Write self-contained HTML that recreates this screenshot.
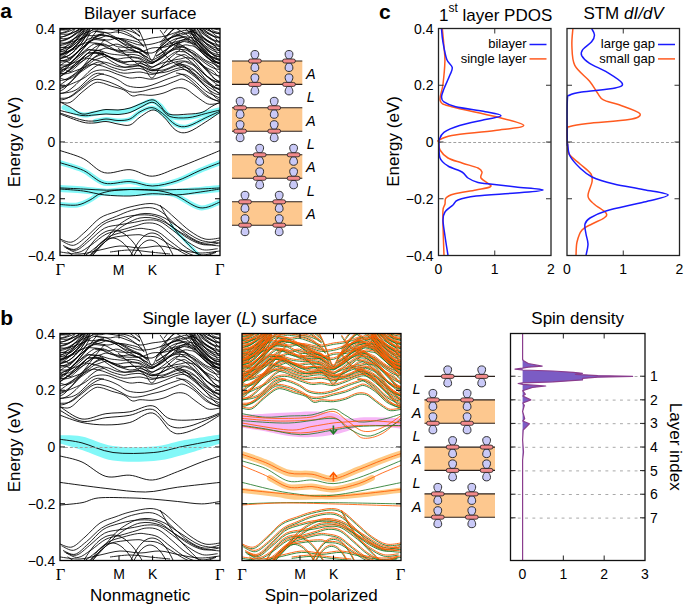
<!DOCTYPE html><html><head><meta charset="utf-8"><style>html,body{margin:0;padding:0;background:#fff}svg{display:block}text{font-family:'Liberation Sans', sans-serif}</style></head><body>
<svg width="685" height="609" viewBox="0 0 685 609">
<rect width="685" height="609" fill="#fff"/>
<text x="0.3" y="17.6" font-size="21" text-anchor="start" font-weight="bold"  >a</text>
<text x="0.3" y="324.6" font-size="21" text-anchor="start" font-weight="bold"  >b</text>
<text x="379" y="18.6" font-size="21" text-anchor="start" font-weight="bold"  >c</text>
<text x="84" y="18.5" font-size="17" text-anchor="start" font-weight="normal"  >Bilayer surface</text>
<text x="142.4" y="323.8" font-size="17" text-anchor="start" font-weight="normal"  >Single layer (<tspan font-style="italic">L</tspan>) surface</text>
<text x="439" y="20.8" font-size="17" text-anchor="start" font-weight="normal"  >1<tspan dy="-8.5" font-size="12">st</tspan><tspan dy="8.5"> layer PDOS</tspan></text>
<text x="583.4" y="18.7" font-size="17" text-anchor="start" font-weight="normal"  >STM <tspan font-style="italic">dI/dV</tspan></text>
<text x="531.3" y="324.2" font-size="17" text-anchor="start" font-weight="normal"  >Spin density</text>
<text x="90" y="600.8" font-size="17" text-anchor="start" font-weight="normal"  >Nonmagnetic</text>
<text x="264.7" y="600.8" font-size="17" text-anchor="start" font-weight="normal"  >Spin−polarized</text>
<text x="0" y="0" font-size="17" text-anchor="middle" font-weight="normal"  transform="translate(19.6,142) rotate(-90)">Energy (eV)</text>
<text x="0" y="0" font-size="17" text-anchor="middle" font-weight="normal"  transform="translate(19.6,447) rotate(-90)">Energy (eV)</text>
<text x="0" y="0" font-size="17" text-anchor="middle" font-weight="normal"  transform="translate(398.6,141.5) rotate(-90)">Energy (eV)</text>
<text x="0" y="0" font-size="17" text-anchor="middle" font-weight="normal"  transform="translate(669.6,446.7) rotate(90)">Layer index</text>
<text x="55.3" y="33.5" font-size="14" text-anchor="end" font-weight="normal"  >0.4</text>
<text x="55.3" y="90.2" font-size="14" text-anchor="end" font-weight="normal"  >0.2</text>
<text x="55.3" y="147.0" font-size="14" text-anchor="end" font-weight="normal"  >0</text>
<text x="55.3" y="203.8" font-size="14" text-anchor="end" font-weight="normal"  >−0.2</text>
<text x="55.3" y="260.5" font-size="14" text-anchor="end" font-weight="normal"  >−0.4</text>
<text x="55.3" y="338.5" font-size="14" text-anchor="end" font-weight="normal"  >0.4</text>
<text x="55.3" y="395.2" font-size="14" text-anchor="end" font-weight="normal"  >0.2</text>
<text x="55.3" y="452.0" font-size="14" text-anchor="end" font-weight="normal"  >0</text>
<text x="55.3" y="508.8" font-size="14" text-anchor="end" font-weight="normal"  >−0.2</text>
<text x="55.3" y="565.5" font-size="14" text-anchor="end" font-weight="normal"  >−0.4</text>
<text x="433.5" y="33.5" font-size="14" text-anchor="end" font-weight="normal"  >0.4</text>
<text x="433.5" y="90.2" font-size="14" text-anchor="end" font-weight="normal"  >0.2</text>
<text x="433.5" y="147.0" font-size="14" text-anchor="end" font-weight="normal"  >0</text>
<text x="433.5" y="203.8" font-size="14" text-anchor="end" font-weight="normal"  >−0.2</text>
<text x="433.5" y="260.5" font-size="14" text-anchor="end" font-weight="normal"  >−0.4</text>
<text x="60.2" y="274.90000000000003" font-size="16.5" text-anchor="middle" font-weight="normal"  style="font-family:'Liberation Serif', serif">Γ</text>
<text x="118.5" y="274.6" font-size="14" text-anchor="middle" font-weight="normal"  >M</text>
<text x="152.5" y="274.6" font-size="14" text-anchor="middle" font-weight="normal"  >K</text>
<text x="219.7" y="274.90000000000003" font-size="16.5" text-anchor="middle" font-weight="normal"  style="font-family:'Liberation Serif', serif">Γ</text>
<text x="60.4" y="579.5" font-size="16.5" text-anchor="middle" font-weight="normal"  style="font-family:'Liberation Serif', serif">Γ</text>
<text x="119" y="579.2" font-size="14" text-anchor="middle" font-weight="normal"  >M</text>
<text x="152.6" y="579.2" font-size="14" text-anchor="middle" font-weight="normal"  >K</text>
<text x="219.7" y="579.5" font-size="16.5" text-anchor="middle" font-weight="normal"  style="font-family:'Liberation Serif', serif">Γ</text>
<text x="241.9" y="579.5" font-size="16.5" text-anchor="middle" font-weight="normal"  style="font-family:'Liberation Serif', serif">Γ</text>
<text x="300" y="579.2" font-size="14" text-anchor="middle" font-weight="normal"  >M</text>
<text x="333.6" y="579.2" font-size="14" text-anchor="middle" font-weight="normal"  >K</text>
<text x="400.6" y="579.5" font-size="16.5" text-anchor="middle" font-weight="normal"  style="font-family:'Liberation Serif', serif">Γ</text>
<text x="438.5" y="274" font-size="14" text-anchor="middle" font-weight="normal"  >0</text>
<text x="494.75" y="274" font-size="14" text-anchor="middle" font-weight="normal"  >1</text>
<text x="551.0" y="274" font-size="14" text-anchor="middle" font-weight="normal"  >2</text>
<text x="567.0" y="274" font-size="14" text-anchor="middle" font-weight="normal"  >0</text>
<text x="623.25" y="274" font-size="14" text-anchor="middle" font-weight="normal"  >1</text>
<text x="679.5" y="274" font-size="14" text-anchor="middle" font-weight="normal"  >2</text>
<text x="522.5" y="579.3" font-size="14" text-anchor="middle" font-weight="normal"  >0</text>
<text x="563.33" y="579.3" font-size="14" text-anchor="middle" font-weight="normal"  >1</text>
<text x="604.16" y="579.3" font-size="14" text-anchor="middle" font-weight="normal"  >2</text>
<text x="644.99" y="579.3" font-size="14" text-anchor="middle" font-weight="normal"  >3</text>
<text x="650" y="381.2" font-size="14" text-anchor="start" font-weight="normal"  >1</text>
<text x="650" y="404.8" font-size="14" text-anchor="start" font-weight="normal"  >2</text>
<text x="650" y="428.4" font-size="14" text-anchor="start" font-weight="normal"  >3</text>
<text x="650" y="452.0" font-size="14" text-anchor="start" font-weight="normal"  >4</text>
<text x="650" y="475.6" font-size="14" text-anchor="start" font-weight="normal"  >5</text>
<text x="650" y="499.2" font-size="14" text-anchor="start" font-weight="normal"  >6</text>
<text x="650" y="522.8" font-size="14" text-anchor="start" font-weight="normal"  >7</text>
<clipPath id="ca"><rect x="60" y="28.5" width="160" height="227.0"/></clipPath>
<g clip-path="url(#ca)">
<path d="M64.0,107.5 C67.0,108.7 77.0,113.8 82.0,114.8 C87.0,115.8 90.0,114.0 94.0,113.5 C98.0,113.0 102.0,112.0 106.0,111.8 C110.0,111.6 114.0,112.5 118.0,112.2 C122.0,111.9 126.3,111.3 130.0,110.2 C133.7,109.1 136.3,107.3 140.0,105.8 C143.7,104.3 148.6,101.0 152.0,101.0 C155.4,101.0 157.4,103.5 160.4,106.0 C163.4,108.5 165.3,114.3 169.9,116.2 C174.5,118.1 181.9,118.0 187.9,117.5 C193.9,117.0 200.5,114.6 205.8,113.3 C211.2,112.0 217.6,110.4 220.0,109.8" fill="none" stroke="#82f8f8" stroke-width="5" stroke-linecap="round"/>
<path d="M95.0,121.0 C96.8,120.7 102.2,119.1 106.0,119.0 C109.8,118.9 114.0,120.5 118.0,120.5 C122.0,120.5 126.3,120.5 130.0,119.0 C133.7,117.5 136.3,113.7 140.0,111.8 C143.7,109.9 148.2,107.3 152.0,107.6 C155.8,107.9 158.7,110.6 162.7,113.5 C166.7,116.4 171.7,122.8 175.9,124.9 C180.1,127.0 182.9,127.3 187.9,126.1 C192.9,124.9 200.5,120.2 205.8,117.7 C211.2,115.2 217.6,112.3 220.0,111.2" fill="none" stroke="#82f8f8" stroke-width="4" stroke-linecap="round"/>
<path d="M60.0,162.7 C63.9,164.0 76.0,167.0 83.4,170.4 C90.8,173.8 96.6,181.3 104.4,183.2 C112.2,185.1 122.0,181.1 130.0,181.6 C138.0,182.1 144.5,186.1 152.3,186.0 C160.1,185.9 168.8,183.5 176.8,180.9 C184.8,178.3 193.0,173.4 200.2,170.4 C207.4,167.4 216.7,164.0 220.0,162.7" fill="none" stroke="#82f8f8" stroke-width="5" stroke-linecap="round"/>
<path d="M60.0,188.5 C63.9,188.8 75.6,189.4 83.4,190.0 C91.2,190.6 98.9,191.9 106.7,192.3 C114.5,192.7 122.4,192.6 130.0,192.5 C137.6,192.4 144.5,192.1 152.3,192.0 C160.1,191.9 168.8,192.4 176.8,192.2 C184.8,191.9 193.0,191.1 200.2,190.5 C207.4,189.9 216.7,188.8 220.0,188.5" fill="none" stroke="#82f8f8" stroke-width="7" stroke-linecap="round"/>
<path d="M60.0,204.5 C62.9,204.6 72.5,205.8 77.5,205.0 C82.5,204.2 86.1,201.9 90.0,200.0 C93.9,198.1 96.0,195.1 101.0,193.4 C106.0,191.7 111.5,190.6 120.0,190.0 C128.5,189.4 142.8,189.2 152.0,190.0 C161.2,190.8 167.0,192.0 175.0,195.0 C183.0,198.0 192.5,206.6 200.0,207.8 C207.5,209.0 216.7,203.0 220.0,202.0" fill="none" stroke="#82f8f8" stroke-width="5" stroke-linecap="round"/>
<path d="M171.0,225.0 C171.8,226.0 171.1,225.7 175.9,230.9 C180.7,236.1 195.9,251.8 199.9,256.0" fill="none" stroke="#82f8f8" stroke-width="3" stroke-linecap="round"/>
<path d="M60.0,101.9 C61.7,102.0 66.3,104.1 70.0,102.5 C73.7,100.9 77.9,95.5 81.9,92.3 C85.9,89.1 90.7,84.9 93.9,83.3 C97.1,81.7 98.1,82.2 101.1,82.7 C104.1,83.2 108.1,85.1 111.9,86.3 C115.7,87.5 120.4,88.3 123.8,89.9 C127.2,91.5 129.5,95.1 132.2,95.9 C134.9,96.7 136.7,94.8 140.0,94.7 C143.3,94.6 148.0,95.6 152.0,95.3 C156.0,95.0 160.0,94.1 164.0,92.9 C168.0,91.7 172.3,88.8 175.9,88.1 C179.5,87.4 182.5,87.6 185.5,88.7 C188.5,89.8 191.1,92.7 193.9,94.7 C196.7,96.7 199.6,99.1 202.2,100.7 C204.8,102.3 206.4,103.9 209.4,104.3 C212.4,104.7 218.2,103.2 220.0,103.0" fill="none" stroke="#000" stroke-width="0.85"/>
<path d="M60.0,98.3 C61.7,98.1 66.3,98.7 70.0,97.1 C73.7,95.5 77.9,91.6 81.9,88.7 C85.9,85.8 89.9,81.1 93.9,79.8 C97.9,78.5 101.9,80.0 105.9,81.0 C109.9,82.0 113.9,83.9 117.9,85.7 C121.9,87.5 126.1,90.7 129.8,91.7 C133.5,92.7 136.3,92.2 140.0,91.7 C143.7,91.2 148.0,89.7 152.0,88.7 C156.0,87.7 160.0,87.0 164.0,85.7 C168.0,84.4 172.7,82.1 175.9,81.0 C179.1,79.9 180.1,78.5 183.1,79.2 C186.1,79.9 190.1,82.3 193.9,85.1 C197.7,87.9 202.0,93.3 205.8,95.9 C209.6,98.5 214.2,99.8 216.6,100.7 C219.0,101.6 219.4,101.4 220.0,101.5" fill="none" stroke="#000" stroke-width="0.85"/>
<path d="M60.0,93.5 C62.7,92.9 70.3,93.1 76.0,89.9 C81.7,86.7 88.9,76.9 93.9,74.4 C98.9,71.9 101.9,74.1 105.9,75.0 C109.9,75.9 114.3,78.0 117.9,79.8 C121.5,81.6 123.7,84.4 127.4,85.7 C131.1,87.0 135.9,87.6 140.0,87.5 C144.1,87.4 148.0,86.3 152.0,85.1 C156.0,83.9 160.0,81.8 164.0,80.3 C168.0,78.8 172.5,77.2 175.9,76.2 C179.3,75.2 181.3,73.7 184.3,74.4 C187.3,75.1 190.3,77.5 193.9,80.3 C197.5,83.1 201.8,88.3 205.8,91.1 C209.8,93.9 215.4,95.9 217.8,97.1 C220.2,98.2 219.6,97.8 220.0,98.0" fill="none" stroke="#000" stroke-width="0.85"/>
<path d="M60.0,88.7 C63.6,87.1 76.2,82.1 81.9,79.2 C87.6,76.3 89.9,72.9 93.9,71.4 C97.9,69.9 101.9,69.7 105.9,70.2 C109.9,70.7 113.9,73.1 117.9,74.4 C121.9,75.7 126.1,77.5 129.8,78.0 C133.5,78.5 136.3,77.2 140.0,77.4 C143.7,77.6 148.0,79.5 152.0,79.2 C156.0,78.9 160.0,77.0 164.0,75.6 C168.0,74.2 172.5,71.8 175.9,70.8 C179.3,69.8 181.3,69.0 184.3,69.6 C187.3,70.2 190.3,71.8 193.9,74.4 C197.5,77.0 201.8,82.1 205.8,85.1 C209.8,88.1 215.4,91.0 217.8,92.3 C220.2,93.6 219.6,92.9 220.0,93.0" fill="none" stroke="#000" stroke-width="0.85"/>
<path d="M60.0,85.1 C64.7,81.9 81.2,69.3 87.9,66.0 C94.6,62.7 95.9,64.8 99.9,65.4 C103.9,66.0 107.9,68.3 111.9,69.6 C115.9,70.9 119.1,72.8 123.8,73.2 C128.5,73.6 135.3,71.8 140.0,72.0 C144.7,72.2 148.0,74.6 152.0,74.4 C156.0,74.2 160.0,72.2 164.0,70.8 C168.0,69.4 172.5,67.0 175.9,66.0 C179.3,65.0 181.3,64.2 184.3,64.8 C187.3,65.4 190.3,67.0 193.9,69.6 C197.5,72.2 201.8,77.1 205.8,80.3 C209.8,83.5 215.4,87.2 217.8,88.7 C220.2,90.2 219.6,89.4 220.0,89.5" fill="none" stroke="#000" stroke-width="0.85"/>
<path d="M60.0,78.0 C61.7,78.1 64.3,81.0 70.0,78.6 C75.7,76.2 87.9,66.3 93.9,63.6 C99.9,60.9 101.9,61.9 105.9,62.4 C109.9,62.9 113.9,65.8 117.9,66.6 C121.9,67.4 126.1,67.3 129.8,67.2 C133.5,67.1 136.3,65.4 140.0,66.0 C143.7,66.6 148.0,70.8 152.0,70.8 C156.0,70.8 160.0,67.5 164.0,66.0 C168.0,64.5 172.3,62.6 175.9,61.8 C179.5,61.0 182.5,60.7 185.5,61.2 C188.5,61.7 190.5,62.4 193.9,64.8 C197.3,67.2 201.8,72.2 205.8,75.6 C209.8,79.0 215.4,83.4 217.8,85.1 C220.2,86.8 219.6,85.8 220.0,86.0" fill="none" stroke="#000" stroke-width="0.85"/>
<path d="M60.0,73.6 C60.8,73.7 63.3,74.0 65.0,73.9 C66.7,73.8 68.4,73.3 70.0,72.8 C71.6,72.3 73.2,71.6 74.8,71.0 C76.4,70.4 78.0,69.9 79.6,69.2 C81.2,68.6 82.7,67.9 84.3,67.1 C85.9,66.2 87.5,65.2 89.1,64.1 C90.7,63.0 92.4,61.2 93.9,60.3 C95.4,59.4 96.6,59.4 97.9,58.9 C99.2,58.4 100.6,57.8 101.9,57.4 C103.2,57.0 104.6,56.2 105.9,56.2 C107.2,56.2 108.6,56.9 109.9,57.4 C111.2,57.9 112.6,58.5 113.9,59.2 C115.2,59.9 116.2,60.8 117.9,61.5 C119.6,62.2 121.9,62.9 123.9,63.5 C125.8,64.1 128.0,64.8 129.8,65.0 C131.6,65.1 133.2,64.7 134.9,64.5 C136.6,64.3 138.5,63.5 140.0,63.5 C141.5,63.5 142.7,64.3 144.0,64.7 C145.3,65.1 146.7,65.5 148.0,66.0 C149.3,66.4 150.7,67.4 152.0,67.3 C153.3,67.3 154.7,66.1 156.0,65.6 C157.3,65.0 158.7,64.4 160.0,63.9 C161.3,63.4 162.3,63.0 164.0,62.5 C165.7,62.0 168.0,61.6 169.9,61.1 C171.9,60.6 174.1,59.9 175.9,59.6 C177.7,59.2 179.1,59.3 180.7,58.9 C182.3,58.6 184.0,57.7 185.5,57.6 C187.0,57.5 188.3,58.0 189.7,58.3 C191.1,58.5 192.2,58.1 193.9,59.0 C195.6,59.9 197.9,62.0 199.9,63.8 C201.8,65.6 204.1,68.2 205.8,69.9 C207.5,71.6 208.5,72.6 209.8,74.1 C211.1,75.5 212.5,77.2 213.8,78.3 C215.1,79.4 216.8,80.2 217.8,80.7 C218.8,81.2 219.6,81.5 220.0,81.6" fill="none" stroke="#000" stroke-width="0.85"/>
<path d="M60.0,69.2 C60.8,69.3 63.3,69.1 65.0,69.5 C66.7,69.9 68.4,72.0 70.0,71.8 C71.6,71.5 73.2,69.4 74.8,68.0 C76.4,66.7 78.0,65.2 79.6,63.7 C81.2,62.3 82.7,60.8 84.3,59.5 C85.9,58.1 87.5,56.9 89.1,55.8 C90.7,54.8 92.4,53.5 93.9,53.1 C95.4,52.7 96.6,53.4 97.9,53.6 C99.2,53.8 100.6,54.1 101.9,54.3 C103.2,54.6 104.6,54.5 105.9,55.0 C107.2,55.4 108.6,56.4 109.9,57.0 C111.2,57.5 112.6,58.0 113.9,58.3 C115.2,58.7 116.2,59.1 117.9,59.1 C119.6,59.0 121.9,58.2 123.9,58.0 C125.8,57.7 128.0,57.7 129.8,57.6 C131.6,57.6 133.2,57.6 134.9,57.8 C136.6,58.1 138.5,58.3 140.0,59.0 C141.5,59.7 142.7,61.1 144.0,62.1 C145.3,63.1 146.7,64.0 148.0,64.8 C149.3,65.7 150.7,66.9 152.0,67.0 C153.3,67.1 154.7,66.0 156.0,65.3 C157.3,64.6 158.7,63.8 160.0,62.9 C161.3,62.0 162.3,61.2 164.0,60.0 C165.7,58.7 168.0,56.8 169.9,55.5 C171.9,54.1 174.1,52.5 175.9,51.8 C177.7,51.2 179.1,51.5 180.7,51.6 C182.3,51.6 184.0,51.6 185.5,52.2 C187.0,52.8 188.3,54.2 189.7,55.1 C191.1,56.1 192.2,56.4 193.9,57.8 C195.6,59.1 197.9,61.7 199.9,63.3 C201.8,64.9 204.1,66.4 205.8,67.4 C207.5,68.5 208.5,68.7 209.8,69.4 C211.1,70.1 212.5,70.5 213.8,71.6 C215.1,72.8 216.8,75.4 217.8,76.3 C218.8,77.2 219.6,77.1 220.0,77.2" fill="none" stroke="#000" stroke-width="0.85"/>
<path d="M60.0,64.8 C60.8,64.9 63.3,65.2 65.0,65.1 C66.7,65.0 68.4,64.7 70.0,64.3 C71.6,63.8 73.2,63.0 74.8,62.4 C76.4,61.7 78.0,61.2 79.6,60.5 C81.2,59.8 82.7,59.1 84.3,58.2 C85.9,57.4 87.5,56.4 89.1,55.4 C90.7,54.3 92.4,52.6 93.9,51.9 C95.4,51.1 96.6,51.1 97.9,50.6 C99.2,50.2 100.6,49.7 101.9,49.3 C103.2,48.8 104.6,48.1 105.9,48.0 C107.2,47.9 108.6,48.5 109.9,48.8 C111.2,49.2 112.6,49.6 113.9,50.1 C115.2,50.6 116.2,51.3 117.9,51.9 C119.6,52.5 121.9,53.0 123.9,53.7 C125.8,54.4 128.0,55.5 129.8,56.1 C131.6,56.7 133.2,56.9 134.9,57.2 C136.6,57.6 138.5,57.5 140.0,58.0 C141.5,58.5 142.7,59.6 144.0,60.3 C145.3,61.0 146.7,61.6 148.0,62.2 C149.3,62.7 150.7,63.7 152.0,63.5 C153.3,63.3 154.7,62.0 156.0,61.1 C157.3,60.2 158.7,59.2 160.0,58.2 C161.3,57.2 162.3,56.3 164.0,55.2 C165.7,54.1 168.0,52.6 169.9,51.6 C171.9,50.6 174.1,49.6 175.9,49.3 C177.7,49.0 179.1,49.5 180.7,49.5 C182.3,49.6 184.0,49.5 185.5,49.9 C187.0,50.2 188.3,51.3 189.7,51.9 C191.1,52.5 192.2,52.4 193.9,53.4 C195.6,54.4 197.9,56.4 199.9,57.7 C201.8,59.1 204.1,60.6 205.8,61.7 C207.5,62.8 208.5,63.2 209.8,64.1 C211.1,64.9 212.5,65.5 213.8,66.8 C215.1,68.1 216.8,70.9 217.8,71.9 C218.8,72.9 219.6,72.7 220.0,72.8" fill="none" stroke="#000" stroke-width="0.85"/>
<path d="M60.0,60.4 C60.8,60.5 63.3,60.3 65.0,60.7 C66.7,61.1 68.4,63.1 70.0,62.8 C71.6,62.5 73.2,60.3 74.8,59.0 C76.4,57.7 78.0,56.4 79.6,55.0 C81.2,53.7 82.7,52.3 84.3,51.0 C85.9,49.7 87.5,48.4 89.1,47.2 C90.7,46.1 92.4,44.6 93.9,44.0 C95.4,43.4 96.6,43.8 97.9,43.9 C99.2,43.9 100.6,44.0 101.9,44.1 C103.2,44.2 104.6,44.1 105.9,44.5 C107.2,45.0 108.6,46.1 109.9,46.8 C111.2,47.6 112.6,48.4 113.9,49.1 C115.2,49.8 116.2,50.6 117.9,51.1 C119.6,51.5 121.9,51.6 123.9,51.8 C125.8,52.0 128.0,52.2 129.8,52.3 C131.6,52.4 133.2,52.1 134.9,52.2 C136.6,52.3 138.5,52.1 140.0,52.7 C141.5,53.2 142.7,54.5 144.0,55.4 C145.3,56.3 146.7,57.2 148.0,58.0 C149.3,58.8 150.7,60.0 152.0,60.1 C153.3,60.2 154.7,59.0 156.0,58.4 C157.3,57.7 158.7,56.9 160.0,56.2 C161.3,55.4 162.3,54.7 164.0,53.7 C165.7,52.8 168.0,51.6 169.9,50.5 C171.9,49.4 174.1,48.1 175.9,47.4 C177.7,46.7 179.1,46.6 180.7,46.2 C182.3,45.8 184.0,44.9 185.5,44.8 C187.0,44.7 188.3,45.3 189.7,45.6 C191.1,45.8 192.2,45.5 193.9,46.4 C195.6,47.2 197.9,49.2 199.9,50.8 C201.8,52.4 204.1,54.6 205.8,56.1 C207.5,57.5 208.5,58.4 209.8,59.6 C211.1,60.9 212.5,62.2 213.8,63.5 C215.1,64.8 216.8,66.7 217.8,67.5 C218.8,68.3 219.6,68.3 220.0,68.4" fill="none" stroke="#000" stroke-width="0.85"/>
<path d="M60.0,56.0 C60.8,56.1 63.3,55.9 65.0,56.3 C66.7,56.7 68.4,58.5 70.0,58.2 C71.6,57.8 73.2,55.6 74.8,54.3 C76.4,52.9 78.0,51.5 79.6,50.2 C81.2,48.8 82.7,47.4 84.3,46.2 C85.9,44.9 87.5,43.7 89.1,42.6 C90.7,41.6 92.4,40.2 93.9,39.7 C95.4,39.3 96.6,39.8 97.9,39.8 C99.2,39.9 100.6,40.1 101.9,40.3 C103.2,40.4 104.6,40.3 105.9,40.8 C107.2,41.3 108.6,42.4 109.9,43.1 C111.2,43.8 112.6,44.5 113.9,45.1 C115.2,45.8 116.2,46.5 117.9,46.8 C119.6,47.2 121.9,47.0 123.9,47.2 C125.8,47.3 128.0,47.5 129.8,47.6 C131.6,47.7 133.2,47.6 134.9,47.8 C136.6,48.1 138.5,48.3 140.0,49.1 C141.5,49.9 142.7,51.4 144.0,52.5 C145.3,53.6 147.3,55.1 148.0,55.6" fill="none" stroke="#000" stroke-width="0.85"/>
<path d="M156.0,56.4 C156.7,56.1 158.7,55.0 160.0,54.1 C161.3,53.3 162.3,52.5 164.0,51.4 C165.7,50.2 168.0,48.6 169.9,47.2 C171.9,45.8 174.1,44.0 175.9,43.0 C177.7,42.0 179.1,41.6 180.7,41.0 C182.3,40.3 184.0,39.3 185.5,39.1 C187.0,38.9 188.3,39.5 189.7,39.9 C191.1,40.2 192.2,39.9 193.9,41.0 C195.6,42.1 197.9,44.4 199.9,46.3 C201.8,48.2 204.1,50.8 205.8,52.6 C207.5,54.3 208.5,55.3 209.8,56.6 C211.1,58.0 212.5,59.6 213.8,60.7 C215.1,61.8 216.8,62.6 217.8,63.1 C218.8,63.6 219.6,63.9 220.0,64.0" fill="none" stroke="#000" stroke-width="0.85"/>
<path d="M60.0,51.6 C60.8,51.7 63.3,52.1 65.0,51.9 C66.7,51.7 68.4,51.1 70.0,50.4 C71.6,49.6 73.2,48.2 74.8,47.3 C76.4,46.4 78.0,45.7 79.6,45.1 C81.2,44.4 82.7,43.9 84.3,43.4 C85.9,42.8 87.5,42.3 89.1,41.6 C90.7,40.9 92.4,39.7 93.9,39.2 C95.4,38.7 96.6,38.9 97.9,38.6 C99.2,38.3 100.6,37.8 101.9,37.4 C103.2,36.9 104.6,36.1 105.9,35.9 C107.2,35.7 108.6,36.1 109.9,36.3 C111.2,36.5 112.6,36.7 113.9,37.1 C115.2,37.5 116.2,38.0 117.9,38.6 C119.6,39.2 121.9,39.7 123.9,40.6 C125.8,41.5 128.0,43.1 129.8,44.1 C131.6,45.0 133.2,45.7 134.9,46.5 C136.6,47.2 138.5,47.7 140.0,48.6 C141.5,49.5 142.7,50.8 144.0,51.8 C145.3,52.7 147.3,53.8 148.0,54.3" fill="none" stroke="#000" stroke-width="0.85"/>
<path d="M156.0,53.1 C156.7,52.6 158.7,50.9 160.0,49.7 C161.3,48.5 162.3,47.4 164.0,46.1 C165.7,44.7 168.0,43.0 169.9,41.7 C171.9,40.5 174.1,39.4 175.9,38.7 C177.7,38.1 179.1,38.3 180.7,38.0 C182.3,37.6 184.0,36.9 185.5,36.8 C187.0,36.7 188.3,37.3 189.7,37.5 C191.1,37.7 192.2,37.2 193.9,38.0 C195.6,38.8 197.9,40.5 199.9,42.0 C201.8,43.6 204.1,45.8 205.8,47.3 C207.5,48.9 208.5,49.9 209.8,51.2 C211.1,52.6 212.5,54.2 213.8,55.5 C215.1,56.7 216.8,58.0 217.8,58.7 C218.8,59.4 219.6,59.5 220.0,59.6" fill="none" stroke="#000" stroke-width="0.85"/>
<path d="M60.0,47.2 C60.8,47.3 63.3,47.4 65.0,47.5 C66.7,47.6 68.4,48.2 70.0,47.6 C71.6,47.0 73.2,45.0 74.8,43.7 C76.4,42.5 78.0,41.2 79.6,40.1 C81.2,38.9 82.7,37.8 84.3,36.8 C85.9,35.8 87.5,34.8 89.1,34.0 C90.7,33.1 92.4,31.9 93.9,31.5 C95.4,31.1 96.6,31.7 97.9,31.8 C99.2,31.9 100.6,32.0 101.9,32.1 C103.2,32.3 104.6,32.1 105.9,32.5 C107.2,32.9 108.6,33.9 109.9,34.6 C111.2,35.2 112.6,35.8 113.9,36.4 C115.2,37.0 116.2,37.8 117.9,38.2 C119.6,38.6 121.9,38.5 123.9,38.8 C125.8,39.1 128.0,39.6 129.8,40.0 C131.6,40.4 133.2,40.6 134.9,41.2 C136.6,41.7 138.5,42.2 140.0,43.2 C141.5,44.2 143.3,46.4 144.0,47.1" fill="none" stroke="#000" stroke-width="0.85"/>
<path d="M160.0,47.5 C160.7,46.9 162.3,45.3 164.0,43.9 C165.7,42.5 168.0,40.4 169.9,38.9 C171.9,37.5 174.1,35.8 175.9,35.0 C177.7,34.1 179.1,34.1 180.7,33.7 C182.3,33.3 184.0,32.6 185.5,32.7 C187.0,32.7 188.3,33.4 189.7,33.7 C191.1,34.1 192.2,33.9 193.9,34.8 C195.6,35.6 197.9,37.5 199.9,39.0 C201.8,40.4 204.1,42.2 205.8,43.4 C207.5,44.5 208.5,45.1 209.8,46.1 C211.1,47.1 212.5,47.8 213.8,49.1 C215.1,50.5 216.8,53.3 217.8,54.3 C218.8,55.3 219.6,55.1 220.0,55.2" fill="none" stroke="#000" stroke-width="0.85"/>
<path d="M60.0,42.8 C60.8,42.9 63.3,43.2 65.0,43.1 C66.7,43.0 68.4,42.9 70.0,42.1 C71.6,41.4 73.2,39.6 74.8,38.5 C76.4,37.4 78.0,36.4 79.6,35.5 C81.2,34.7 82.7,34.0 84.3,33.4 C85.9,32.7 87.5,32.2 89.1,31.6 C90.7,31.0 92.4,30.0 93.9,29.7 C95.4,29.4 96.6,29.9 97.9,29.9 C99.2,29.9 100.6,29.8 101.9,29.6 C103.2,29.4 104.6,28.7 105.9,28.7 C107.2,28.6 108.6,29.1 109.9,29.2 C111.2,29.4 112.6,29.5 113.9,29.7 C115.2,29.9 116.2,30.2 117.9,30.4 C119.6,30.7 121.9,30.5 123.9,31.2 C125.8,31.8 128.0,33.1 129.8,34.2 C131.6,35.3 133.2,36.4 134.9,37.7 C136.6,38.9 138.5,40.3 140.0,41.7 C141.5,43.2 143.3,45.7 144.0,46.5" fill="none" stroke="#000" stroke-width="0.85"/>
<path d="M160.0,45.3 C160.7,44.4 162.3,42.2 164.0,40.1 C165.7,38.0 168.0,35.0 169.9,32.9 C171.9,30.9 174.1,28.8 175.9,27.9 C177.7,26.9 179.1,27.1 180.7,27.0 C182.3,26.9 184.0,26.8 185.5,27.2 C187.0,27.6 188.3,28.8 189.7,29.6 C191.1,30.3 192.2,30.5 193.9,31.7 C195.6,32.8 197.9,35.1 199.9,36.5 C201.8,38.0 204.1,39.5 205.8,40.5 C207.5,41.6 208.5,41.9 209.8,42.7 C211.1,43.4 212.5,43.9 213.8,45.1 C215.1,46.3 216.8,48.9 217.8,49.9 C218.8,50.9 219.6,50.7 220.0,50.8" fill="none" stroke="#000" stroke-width="0.85"/>
<path d="M60.0,38.4 C60.8,38.5 63.3,38.9 65.0,38.7 C66.7,38.5 68.4,38.1 70.0,37.3 C71.6,36.5 73.2,35.0 74.8,34.0 C76.4,33.0 78.0,32.0 79.6,31.1 C81.2,30.2 82.7,29.4 84.3,28.6 C85.9,27.8 87.5,27.1 89.1,26.3 C90.7,25.6 92.4,24.5 93.9,24.2 C95.4,23.9 96.6,24.4 97.9,24.5 C99.2,24.6 100.6,24.7 101.9,24.7 C103.2,24.7 104.6,24.4 105.9,24.7 C107.2,25.0 108.6,25.8 109.9,26.3 C111.2,26.8 112.6,27.2 113.9,27.6 C115.2,28.1 116.2,28.6 117.9,28.9 C119.6,29.2 121.9,29.0 123.9,29.3 C125.8,29.7 128.0,30.4 129.8,31.0 C131.6,31.6 133.2,32.2 134.9,33.1 C136.6,34.0 139.2,35.9 140.0,36.5" fill="none" stroke="#000" stroke-width="0.85"/>
<path d="M160.0,42.6 C160.7,41.9 162.3,40.0 164.0,38.3 C165.7,36.5 168.0,34.0 169.9,32.2 C171.9,30.3 174.1,28.3 175.9,27.1 C177.7,25.9 179.1,25.7 180.7,25.1 C182.3,24.6 184.0,23.7 185.5,23.6 C187.0,23.5 188.3,24.2 189.7,24.4 C191.1,24.7 192.2,24.5 193.9,25.4 C195.6,26.2 197.9,28.1 199.9,29.6 C201.8,31.1 204.1,33.0 205.8,34.3 C207.5,35.5 208.5,36.2 209.8,37.2 C211.1,38.2 212.5,39.0 213.8,40.4 C215.1,41.8 216.8,44.5 217.8,45.5 C218.8,46.5 219.6,46.3 220.0,46.4" fill="none" stroke="#000" stroke-width="0.85"/>
<path d="M60.0,34.0 C60.8,34.1 63.3,34.4 65.0,34.3 C66.7,34.2 68.4,34.1 70.0,33.7 C71.6,33.2 73.2,32.4 74.8,31.8 C76.4,31.1 78.0,30.5 79.6,29.8 C81.2,29.1 82.7,28.4 84.3,27.5 C85.9,26.6 87.5,25.6 89.1,24.5 C90.7,23.5 92.4,21.8 93.9,21.0 C95.4,20.2 96.6,20.2 97.9,19.7 C99.2,19.3 100.6,18.8 101.9,18.4 C103.2,17.9 104.6,17.2 105.9,17.1 C107.2,17.1 108.6,17.7 109.9,18.0 C111.2,18.4 112.6,18.9 113.9,19.4 C115.2,20.0 116.2,20.7 117.9,21.5 C119.6,22.3 121.9,23.0 123.9,24.1 C125.8,25.2 128.0,27.0 129.8,28.3 C131.6,29.6 133.2,30.8 134.9,32.1 C136.6,33.4 139.2,35.4 140.0,36.1" fill="none" stroke="#000" stroke-width="0.85"/>
<path d="M164.0,33.3 C165.0,32.0 168.0,27.9 169.9,25.8 C171.9,23.7 174.1,21.7 175.9,20.7 C177.7,19.7 179.1,19.9 180.7,19.6 C182.3,19.4 184.0,19.1 185.5,19.3 C187.0,19.6 188.3,20.6 189.7,21.2 C191.1,21.8 192.2,21.8 193.9,22.8 C195.6,23.8 197.9,25.8 199.9,27.2 C201.8,28.6 204.1,30.2 205.8,31.2 C207.5,32.3 208.5,32.7 209.8,33.5 C211.1,34.3 212.5,34.8 213.8,36.1 C215.1,37.4 216.8,40.1 217.8,41.1 C218.8,42.1 219.6,41.9 220.0,42.0" fill="none" stroke="#000" stroke-width="0.85"/>
<path d="M60.0,29.6 C60.8,29.7 63.3,30.1 65.0,29.9 C66.7,29.7 68.4,29.5 70.0,28.7 C71.6,27.9 73.2,26.2 74.8,25.2 C76.4,24.2 78.0,23.4 79.6,22.7 C81.2,22.0 82.7,21.5 84.3,20.9 C85.9,20.3 87.5,19.9 89.1,19.3 C90.7,18.6 92.4,17.5 93.9,17.1 C95.4,16.7 96.6,17.0 97.9,16.7 C99.2,16.5 100.6,16.1 101.9,15.7 C103.2,15.2 104.6,14.4 105.9,14.2 C107.2,14.0 108.6,14.3 109.9,14.5 C111.2,14.7 112.6,14.9 113.9,15.3 C115.2,15.7 116.2,16.2 117.9,16.8 C119.6,17.5 121.9,18.2 123.9,19.4 C125.8,20.6 128.0,22.6 129.8,24.2 C131.6,25.7 133.2,27.0 134.9,28.5 C136.6,30.0 139.2,32.2 140.0,32.9" fill="none" stroke="#000" stroke-width="0.85"/>
<path d="M169.9,23.6 C170.9,22.8 174.1,19.8 175.9,18.6 C177.7,17.5 179.1,17.4 180.7,16.7 C182.3,16.1 184.0,15.1 185.5,14.9 C187.0,14.6 188.3,15.1 189.7,15.2 C191.1,15.3 192.2,14.8 193.9,15.6 C195.6,16.4 197.9,18.2 199.9,19.9 C201.8,21.5 204.1,24.0 205.8,25.6 C207.5,27.3 208.5,28.4 209.8,29.8 C211.1,31.2 212.5,33.0 213.8,34.1 C215.1,35.3 216.8,36.1 217.8,36.7 C218.8,37.3 219.6,37.5 220.0,37.6" fill="none" stroke="#000" stroke-width="0.85"/>
<path d="M60.0,25.2 C60.8,25.3 63.3,25.1 65.0,25.5 C66.7,25.9 68.4,28.0 70.0,27.7 C71.6,27.5 73.2,25.4 74.8,24.1 C76.4,22.9 78.0,21.4 79.6,20.0 C81.2,18.7 82.7,17.2 84.3,15.9 C85.9,14.5 87.5,13.2 89.1,12.0 C90.7,10.8 92.4,9.4 93.9,8.8 C95.4,8.3 96.6,8.8 97.9,8.8 C99.2,8.9 100.6,9.1 101.9,9.2 C103.2,9.4 104.6,9.4 105.9,9.9 C107.2,10.4 108.6,11.5 109.9,12.3 C111.2,13.0 112.6,13.8 113.9,14.5 C115.2,15.2 116.2,15.9 117.9,16.4 C119.6,16.9 121.9,16.9 123.9,17.4 C125.8,18.0 128.0,18.7 129.8,19.5 C131.6,20.4 134.1,21.9 134.9,22.4" fill="none" stroke="#000" stroke-width="0.85"/>
<path d="M169.9,21.4 C170.9,20.1 174.1,15.6 175.9,13.7 C177.7,11.8 179.1,11.1 180.7,10.0 C182.3,9.0 184.0,7.9 185.5,7.6 C187.0,7.4 188.3,8.1 189.7,8.5 C191.1,9.0 192.2,8.9 193.9,10.3 C195.6,11.6 197.9,14.4 199.9,16.6 C201.8,18.8 204.1,21.7 205.8,23.5 C207.5,25.3 208.5,26.2 209.8,27.5 C211.1,28.8 212.5,30.3 213.8,31.1 C215.1,31.9 216.8,31.9 217.8,32.3 C218.8,32.7 219.6,33.1 220.0,33.2" fill="none" stroke="#000" stroke-width="0.85"/>
<path d="M60.0,20.8 C60.8,20.9 63.3,21.3 65.0,21.1 C66.7,20.9 68.4,20.2 70.0,19.4 C71.6,18.7 73.2,17.5 74.8,16.7 C76.4,15.9 78.0,15.3 79.6,14.7 C81.2,14.1 82.7,13.7 84.3,13.1 C85.9,12.5 87.5,11.9 89.1,11.1 C90.7,10.3 92.4,9.0 93.9,8.4 C95.4,7.8 96.6,7.9 97.9,7.5 C99.2,7.2 100.6,6.7 101.9,6.2 C103.2,5.7 104.6,4.9 105.9,4.7 C107.2,4.6 108.6,5.0 109.9,5.2 C111.2,5.5 112.6,5.8 113.9,6.3 C115.2,6.8 116.2,7.5 117.9,8.3 C119.6,9.1 121.9,9.9 123.9,11.3 C125.8,12.7 128.0,14.8 129.8,16.5 C131.6,18.2 134.1,20.6 134.9,21.4" fill="none" stroke="#000" stroke-width="0.85"/>
<path d="M175.9,10.3 C176.7,10.0 179.1,8.9 180.7,8.2 C182.3,7.6 184.0,6.7 185.5,6.4 C187.0,6.2 188.3,6.7 189.7,6.9 C191.1,7.0 192.2,6.6 193.9,7.3 C195.6,8.0 197.9,9.7 199.9,11.3 C201.8,12.8 204.1,15.0 205.8,16.5 C207.5,18.0 208.5,19.0 209.8,20.3 C211.1,21.7 212.5,23.3 213.8,24.5 C215.1,25.8 216.8,27.2 217.8,27.9 C218.8,28.6 219.6,28.7 220.0,28.8" fill="none" stroke="#000" stroke-width="0.85"/>
<path d="M60.0,16.4 C60.8,16.5 63.3,16.4 65.0,16.7 C66.7,17.0 68.4,18.5 70.0,18.1 C71.6,17.7 73.2,15.6 74.8,14.3 C76.4,13.0 78.0,11.6 79.6,10.3 C81.2,9.1 82.7,7.8 84.3,6.6 C85.9,5.4 87.5,4.2 89.1,3.1 C90.7,2.0 92.4,0.6 93.9,0.0 C95.4,-0.5 96.6,-0.1 97.9,-0.1 C99.2,-0.1 100.6,-0.0 101.9,0.1 C103.2,0.1 104.6,-0.0 105.9,0.4 C107.2,0.8 108.6,1.9 109.9,2.7 C111.2,3.4 112.6,4.2 113.9,5.0 C115.2,5.8 116.2,6.6 117.9,7.4 C119.6,8.2 121.9,8.7 123.9,9.6 C125.8,10.6 128.8,12.6 129.8,13.2" fill="none" stroke="#000" stroke-width="0.85"/>
<path d="M175.9,5.6 C176.7,5.3 179.1,4.1 180.7,3.5 C182.3,3.0 184.0,2.4 185.5,2.4 C187.0,2.4 188.3,3.3 189.7,3.7 C191.1,4.1 192.2,4.0 193.9,5.0 C195.6,5.9 197.9,8.0 199.9,9.4 C201.8,10.9 204.1,12.5 205.8,13.7 C207.5,14.8 208.5,15.2 209.8,16.1 C211.1,16.9 212.5,17.5 213.8,18.7 C215.1,19.9 216.8,22.5 217.8,23.5 C218.8,24.5 219.6,24.3 220.0,24.4" fill="none" stroke="#000" stroke-width="0.85"/>
<path d="M60.0,12.0 C60.8,12.1 63.3,12.0 65.0,12.3 C66.7,12.6 68.4,14.2 70.0,13.7 C71.6,13.3 73.2,11.1 74.8,9.8 C76.4,8.4 78.0,7.1 79.6,5.8 C81.2,4.5 82.7,3.2 84.3,2.0 C85.9,0.8 87.5,-0.4 89.1,-1.4 C90.7,-2.4 92.4,-3.8 93.9,-4.2 C95.4,-4.7 96.6,-4.2 97.9,-4.1 C99.2,-4.0 100.6,-3.8 101.9,-3.7 C103.2,-3.5 104.6,-3.7 105.9,-3.2 C107.2,-2.7 108.6,-1.7 109.9,-0.9 C111.2,-0.2 112.6,0.6 113.9,1.3 C115.2,2.0 116.2,2.8 117.9,3.4 C119.6,4.0 122.9,4.8 123.9,5.1" fill="none" stroke="#000" stroke-width="0.85"/>
<path d="M180.7,-0.5 C181.5,-0.9 184.0,-2.6 185.5,-2.9 C187.0,-3.2 188.3,-2.7 189.7,-2.5 C191.1,-2.4 192.2,-2.7 193.9,-1.9 C195.6,-1.0 197.9,0.9 199.9,2.5 C201.8,4.1 204.1,6.2 205.8,7.6 C207.5,9.1 208.5,9.9 209.8,11.1 C211.1,12.3 212.5,13.6 213.8,14.9 C215.1,16.2 216.8,18.2 217.8,19.1 C218.8,20.0 219.6,19.9 220.0,20.0" fill="none" stroke="#000" stroke-width="0.85"/>
<path d="M60.0,76.6 C60.8,76.2 63.1,74.9 64.7,73.8 C66.2,72.7 67.8,71.3 69.3,70.1 C70.8,68.8 72.4,67.7 74.0,66.5 C75.5,65.4 77.0,64.4 78.6,63.4 C80.1,62.4 81.7,61.5 83.2,60.7 C84.8,59.8 86.5,58.6 87.9,58.4 C89.3,58.1 90.6,58.9 91.9,59.2 C93.2,59.4 94.6,59.8 95.9,60.1 C97.2,60.4 98.6,60.4 99.9,61.0 C101.2,61.5 102.6,62.6 103.9,63.3 C105.2,64.1 106.6,64.8 107.9,65.4 C109.2,66.1 110.2,66.6 111.9,67.2 C113.6,67.8 115.9,68.5 117.8,69.0 C119.8,69.5 122.1,70.2 123.8,70.3 C125.5,70.4 126.5,69.8 127.8,69.6 C129.2,69.3 130.6,69.1 131.9,68.9 C133.2,68.8 134.6,68.6 135.9,68.5 C137.3,68.5 138.7,68.2 140.0,68.5 C141.3,68.7 142.7,69.3 144.0,69.8 C145.3,70.3 146.7,70.8 148.0,71.4 C149.3,72.0 150.7,72.9 152.0,73.2 C153.3,73.4 154.7,73.1 156.0,73.0 C157.3,73.0 158.7,72.9 160.0,72.8 C161.3,72.7 162.3,72.8 164.0,72.4 C165.7,72.1 168.0,71.5 169.9,70.9 C171.9,70.2 174.2,69.1 175.9,68.6 C177.6,68.1 178.7,68.1 180.1,67.8 C181.5,67.5 182.8,66.7 184.3,66.8 C185.8,66.9 187.5,68.0 189.1,68.6 C190.7,69.2 192.1,69.3 193.9,70.4 C195.7,71.6 197.9,73.7 199.9,75.5 C201.8,77.4 204.1,79.8 205.8,81.3 C207.5,82.9 208.5,83.6 209.8,84.8 C211.1,86.0 212.5,87.3 213.8,88.6 C215.1,89.9 216.8,91.8 217.8,92.6 C218.8,93.4 219.6,93.4 220.0,93.6" fill="none" stroke="#000" stroke-width="0.85"/>
<path d="M60.0,71.4 C60.8,70.9 63.1,69.2 64.7,68.6 C66.2,68.0 67.8,68.4 69.3,67.8 C70.8,67.2 72.4,65.9 74.0,64.8 C75.5,63.7 77.0,62.4 78.6,61.2 C80.1,59.9 81.7,58.5 83.2,57.2 C84.8,56.0 86.5,54.1 87.9,53.4 C89.3,52.7 90.6,53.1 91.9,53.0 C93.2,53.0 94.6,53.0 95.9,53.1 C97.2,53.2 98.6,53.1 99.9,53.6 C101.2,54.2 102.6,55.3 103.9,56.2 C105.2,57.1 106.6,58.0 107.9,58.9 C109.2,59.8 110.2,60.6 111.9,61.6 C113.6,62.6 115.9,63.9 117.8,64.9 C119.8,65.8 122.1,66.8 123.8,67.1 C125.5,67.5 126.5,66.9 127.8,66.7 C129.2,66.6 130.6,66.4 131.9,66.2 C133.2,66.0 134.6,65.8 135.9,65.8 C137.3,65.7 138.7,65.4 140.0,65.6 C141.3,65.8 142.7,66.5 144.0,67.0 C145.3,67.5 146.7,68.1 148.0,68.7 C149.3,69.3 150.7,70.3 152.0,70.6 C153.3,71.0 154.7,70.6 156.0,70.6 C157.3,70.5 158.7,70.5 160.0,70.3 C161.3,70.2 162.3,70.2 164.0,69.8 C165.7,69.3 168.0,68.4 169.9,67.6 C171.9,66.7 174.2,65.3 175.9,64.5 C177.6,63.8 178.7,63.6 180.1,63.1 C181.5,62.7 182.8,61.7 184.3,61.7 C185.8,61.8 187.5,62.8 189.1,63.5 C190.7,64.2 192.1,64.4 193.9,65.8 C195.7,67.3 197.9,69.9 199.9,72.1 C201.8,74.4 204.1,77.4 205.8,79.3 C207.5,81.1 208.5,82.1 209.8,83.4 C211.1,84.8 212.5,86.5 213.8,87.4 C215.1,88.3 216.8,88.6 217.8,89.1 C218.8,89.5 219.6,89.9 220.0,90.0" fill="none" stroke="#000" stroke-width="0.85"/>
<path d="M60.0,69.4 C60.8,68.9 63.1,67.1 64.7,66.5 C66.2,65.8 67.8,66.3 69.3,65.6 C70.8,64.8 72.4,63.4 74.0,62.1 C75.5,60.9 77.0,59.5 78.6,58.2 C80.1,56.8 81.7,55.4 83.2,54.0 C84.8,52.7 86.5,50.9 87.9,50.2 C89.3,49.5 90.6,50.0 91.9,50.0 C93.2,50.0 94.6,50.1 95.9,50.3 C97.2,50.5 98.6,50.5 99.9,51.1 C101.2,51.7 102.6,52.9 103.9,53.8 C105.2,54.6 106.6,55.6 107.9,56.4 C109.2,57.2 110.2,58.0 111.9,58.8 C113.6,59.6 115.9,60.5 117.8,61.1 C119.8,61.7 122.1,62.4 123.8,62.5 C125.5,62.6 126.5,62.0 127.8,61.8 C129.2,61.6 130.6,61.4 131.9,61.3 C133.2,61.3 134.6,61.3 135.9,61.4 C137.3,61.6 138.7,61.7 140.0,62.2 C141.3,62.7 142.7,63.7 144.0,64.6 C145.3,65.4 146.7,66.3 148.0,67.1 C149.3,67.9 150.7,69.1 152.0,69.4 C153.3,69.8 154.7,69.4 156.0,69.2 C157.3,69.0 158.7,68.6 160.0,68.1 C161.3,67.7 162.3,67.4 164.0,66.3 C165.7,65.3 168.0,63.5 169.9,62.0 C171.9,60.6 174.2,58.5 175.9,57.5 C177.6,56.4 178.7,56.2 180.1,55.7 C181.5,55.3 182.8,54.4 184.3,54.6 C185.8,54.9 187.5,56.3 189.1,57.4 C190.7,58.4 192.1,59.1 193.9,60.9 C195.7,62.7 197.9,65.7 199.9,68.1 C201.8,70.4 204.1,73.3 205.8,75.0 C207.5,76.7 208.5,77.2 209.8,78.2 C211.1,79.2 212.5,80.2 213.8,80.9 C215.1,81.6 216.8,81.9 217.8,82.3 C218.8,82.7 219.6,83.1 220.0,83.2" fill="none" stroke="#000" stroke-width="0.85"/>
<path d="M60.0,76.7 C60.8,76.1 63.1,74.3 64.7,73.1 C66.2,71.9 67.8,70.8 69.3,69.5 C70.8,68.1 72.4,66.5 74.0,65.1 C75.5,63.7 77.0,62.2 78.6,60.9 C80.1,59.5 81.7,58.1 83.2,56.8 C84.8,55.6 86.5,53.8 87.9,53.1 C89.3,52.5 90.6,52.9 91.9,52.8 C93.2,52.7 94.6,52.6 95.9,52.6 C97.2,52.6 98.6,52.3 99.9,52.6 C101.2,52.9 102.6,53.8 103.9,54.3 C105.2,54.9 106.6,55.5 107.9,56.1 C109.2,56.7 110.2,57.2 111.9,57.8 C113.6,58.4 115.9,59.2 117.8,59.9 C119.8,60.6 122.1,61.5 123.8,61.8 C125.5,62.1 126.5,61.6 127.8,61.5 C129.2,61.5 130.6,61.4 131.9,61.3 C133.2,61.3 134.6,61.3 135.9,61.3 C137.3,61.2 138.7,61.1 140.0,61.2 C141.3,61.4 142.7,62.0 144.0,62.2 C145.3,62.5 146.7,62.8 148.0,63.0 C149.3,63.1 150.7,63.6 152.0,63.3 C153.3,62.9 154.7,61.9 156.0,61.1 C157.3,60.3 158.7,59.4 160.0,58.5 C161.3,57.7 162.3,57.1 164.0,55.9 C165.7,54.8 168.0,53.0 169.9,51.8 C171.9,50.5 174.2,49.1 175.9,48.4 C177.6,47.8 178.7,47.9 180.1,47.6 C181.5,47.4 182.8,46.7 184.3,47.0 C185.8,47.3 187.5,48.6 189.1,49.3 C190.7,50.1 192.1,50.4 193.9,51.5 C195.7,52.7 197.9,54.7 199.9,56.2 C201.8,57.6 204.1,59.4 205.8,60.4 C207.5,61.4 208.5,61.6 209.8,62.2 C211.1,62.8 212.5,63.2 213.8,63.9 C215.1,64.7 216.8,66.0 217.8,66.5 C218.8,67.0 219.6,67.0 220.0,67.1" fill="none" stroke="#000" stroke-width="0.85"/>
<path d="M60.0,72.4 C60.8,71.8 63.1,70.2 64.7,68.8 C66.2,67.4 67.8,65.7 69.3,64.2 C70.8,62.7 72.4,61.3 74.0,59.9 C75.5,58.5 77.0,57.2 78.6,56.0 C80.1,54.8 81.7,53.7 83.2,52.7 C84.8,51.6 86.5,50.2 87.9,49.7 C89.3,49.3 90.6,49.9 91.9,50.0 C93.2,50.1 94.6,50.2 95.9,50.3 C97.2,50.3 98.6,50.2 99.9,50.5 C101.2,50.8 102.6,51.6 103.9,52.0 C105.2,52.5 106.6,52.9 107.9,53.3 C109.2,53.6 110.2,53.9 111.9,54.2 C113.6,54.4 115.9,54.6 117.8,54.8 C119.8,55.0 122.1,55.4 123.8,55.3 C125.5,55.3 126.5,54.7 127.8,54.6 C129.2,54.4 130.6,54.3 131.9,54.4 C133.2,54.4 134.6,54.6 135.9,54.9 C137.3,55.2 138.7,55.4 140.0,56.0 C141.3,56.6 142.7,57.7 144.0,58.5 C145.3,59.3 146.7,60.1 148.0,60.8 C149.3,61.5 150.7,62.4 152.0,62.5 C153.3,62.6 154.7,61.9 156.0,61.4 C157.3,60.8 158.7,60.1 160.0,59.3 C161.3,58.5 162.3,57.9 164.0,56.5 C165.7,55.2 168.0,52.9 169.9,51.1 C171.9,49.2 174.2,46.9 175.9,45.5 C177.6,44.2 178.7,43.8 180.1,42.9 C181.5,42.1 182.8,40.9 184.3,40.7 C185.8,40.4 187.5,41.2 189.1,41.6 C190.7,42.0 192.1,42.0 193.9,43.1 C195.7,44.1 197.9,46.3 199.9,48.1 C201.8,49.9 204.1,52.3 205.8,53.8 C207.5,55.3 208.5,56.0 209.8,57.1 C211.1,58.2 212.5,59.6 213.8,60.4 C215.1,61.2 216.8,61.6 217.8,62.0 C218.8,62.3 219.6,62.5 220.0,62.6" fill="none" stroke="#000" stroke-width="0.85"/>
<path d="M60.0,65.9 C60.8,65.3 63.1,63.3 64.7,62.4 C66.2,61.5 67.8,61.6 69.3,60.6 C70.8,59.6 72.4,57.7 74.0,56.2 C75.5,54.6 77.0,53.0 78.6,51.5 C80.1,49.9 81.7,48.3 83.2,46.9 C84.8,45.5 86.5,43.7 87.9,43.0 C89.3,42.3 90.6,42.8 91.9,42.8 C93.2,42.8 94.6,43.0 95.9,43.1 C97.2,43.3 98.6,43.3 99.9,43.7 C101.2,44.2 102.6,45.3 103.9,45.9 C105.2,46.6 106.6,47.3 107.9,47.8 C109.2,48.4 110.2,48.8 111.9,49.2 C113.6,49.6 115.9,49.9 117.8,50.1 C119.8,50.3 122.1,50.7 123.8,50.6 C125.5,50.6 126.5,50.0 127.8,50.0 C129.2,49.9 130.6,49.9 131.9,50.1 C133.2,50.4 134.6,50.8 135.9,51.3 C137.3,51.9 138.7,52.5 140.0,53.4 C141.3,54.3 142.7,55.8 144.0,56.8 C145.3,57.9 146.7,59.1 148.0,59.9 C149.3,60.7 150.7,61.8 152.0,61.9 C153.3,61.9 154.7,61.1 156.0,60.4 C157.3,59.6 158.7,58.5 160.0,57.4 C161.3,56.2 162.3,55.2 164.0,53.3 C165.7,51.4 168.0,48.3 169.9,46.0 C171.9,43.8 174.2,41.2 175.9,39.8 C177.6,38.4 178.7,38.2 180.1,37.7 C181.5,37.1 182.8,36.3 184.3,36.6 C185.8,36.9 187.5,38.4 189.1,39.4 C190.7,40.5 192.1,41.2 193.9,42.7 C195.7,44.3 197.9,47.0 199.9,48.9 C201.8,50.7 204.1,52.7 205.8,53.9 C207.5,55.1 208.5,55.2 209.8,55.8 C211.1,56.4 212.5,56.7 213.8,57.4 C215.1,58.0 216.8,59.2 217.8,59.7 C218.8,60.2 219.6,60.2 220.0,60.3" fill="none" stroke="#000" stroke-width="0.85"/>
<path d="M60.0,50.9 C60.8,50.4 63.1,49.3 64.7,48.0 C66.2,46.7 67.8,44.4 69.3,43.2 C70.8,42.0 72.4,41.6 74.0,41.0 C75.5,40.4 77.0,39.9 78.6,39.3 C80.1,38.8 81.7,38.3 83.2,37.7 C84.8,37.1 86.5,36.0 87.9,35.6 C89.3,35.3 90.6,35.8 91.9,35.8 C93.2,35.7 94.6,35.5 95.9,35.3 C97.2,35.1 98.6,34.5 99.9,34.4 C101.2,34.4 102.6,34.8 103.9,35.0 C105.2,35.2 106.6,35.4 107.9,35.8 C109.2,36.2 110.2,36.4 111.9,37.1 C113.6,37.8 115.9,38.9 117.8,40.1 C119.8,41.3 122.1,43.4 123.8,44.5 C125.5,45.6 126.5,45.9 127.8,46.6 C129.2,47.3 130.6,48.2 131.9,48.9 C133.2,49.7 134.6,50.5 135.9,51.2 C137.3,51.9 138.7,52.5 140.0,53.2 C141.3,54.0 142.7,55.0 144.0,55.7 C145.3,56.4 147.3,57.1 148.0,57.4" fill="none" stroke="#000" stroke-width="0.85"/>
<path d="M156.0,56.0 C156.7,55.6 158.7,54.3 160.0,53.5 C161.3,52.6 162.3,52.0 164.0,50.9 C165.7,49.8 168.0,48.2 169.9,47.0 C171.9,45.8 174.2,44.5 175.9,43.8 C177.6,43.1 178.7,43.1 180.1,42.7 C181.5,42.4 182.8,41.5 184.3,41.5 C185.8,41.5 187.5,42.4 189.1,42.8 C190.7,43.3 192.1,43.2 193.9,44.1 C195.7,45.1 197.9,47.0 199.9,48.7 C201.8,50.4 204.1,52.9 205.8,54.5 C207.5,56.1 208.5,57.0 209.8,58.4 C211.1,59.7 212.5,61.3 213.8,62.5 C215.1,63.7 216.8,64.9 217.8,65.6 C218.8,66.2 219.6,66.4 220.0,66.5" fill="none" stroke="#000" stroke-width="0.85"/>
<path d="M60.0,59.3 C60.8,58.7 63.1,57.0 64.7,55.7 C66.2,54.4 67.8,52.8 69.3,51.8 C70.8,50.7 72.4,50.2 74.0,49.3 C75.5,48.4 77.0,47.6 78.6,46.6 C80.1,45.6 81.7,44.5 83.2,43.3 C84.8,42.1 86.5,40.2 87.9,39.3 C89.3,38.5 90.6,38.5 91.9,38.0 C93.2,37.6 94.6,37.0 95.9,36.5 C97.2,36.0 98.6,35.2 99.9,35.0 C101.2,34.8 102.6,35.2 103.9,35.3 C105.2,35.5 106.6,35.8 107.9,36.1 C109.2,36.5 110.2,36.8 111.9,37.4 C113.6,38.1 115.9,39.0 117.8,40.1 C119.8,41.1 122.1,42.9 123.8,43.7 C125.5,44.5 126.5,44.5 127.8,45.0 C129.2,45.5 130.6,46.0 131.9,46.6 C133.2,47.1 134.6,47.7 135.9,48.3 C137.3,48.8 138.7,49.2 140.0,49.9 C141.3,50.5 142.7,51.5 144.0,52.1 C145.3,52.7 147.3,53.2 148.0,53.5" fill="none" stroke="#000" stroke-width="0.85"/>
<path d="M156.0,51.0 C156.7,50.4 158.7,48.7 160.0,47.4 C161.3,46.2 162.3,45.2 164.0,43.6 C165.7,42.1 168.0,39.7 169.9,38.0 C171.9,36.3 174.2,34.5 175.9,33.5 C177.6,32.5 178.7,32.4 180.1,31.9 C181.5,31.4 182.8,30.5 184.3,30.4 C185.8,30.3 187.5,31.2 189.1,31.5 C190.7,31.8 192.1,31.6 193.9,32.3 C195.7,33.0 197.9,34.4 199.9,35.6 C201.8,36.8 204.1,38.5 205.8,39.5 C207.5,40.5 208.5,41.0 209.8,41.8 C211.1,42.7 212.5,43.5 213.8,44.7 C215.1,45.8 216.8,47.9 217.8,48.7 C218.8,49.5 219.6,49.2 220.0,49.3" fill="none" stroke="#000" stroke-width="0.85"/>
<path d="M60.0,30.0 C60.5,29.9 62.0,29.7 63.0,29.5 C64.0,29.3 65.0,29.1 66.0,28.8 C67.0,28.5 68.0,28.2 69.0,27.9 C70.0,27.6 71.0,27.2 72.0,26.8 C73.0,26.4 74.0,26.0 75.0,25.5 C76.0,25.0 77.0,24.5 78.0,24.0 C79.0,23.5 80.0,22.9 81.0,22.3 C82.0,21.7 83.0,21.1 84.0,20.4 C85.0,19.7 86.0,19.0 87.0,18.3 C88.0,17.6 89.5,16.4 90.0,16.0" fill="none" stroke="#000" stroke-width="0.85"/>
<path d="M60.0,33.6 C60.5,33.5 62.0,33.3 63.0,33.1 C64.0,32.9 65.0,32.6 66.0,32.3 C67.0,32.0 68.0,31.7 69.0,31.3 C70.0,30.9 71.0,30.5 72.0,30.1 C73.0,29.6 74.0,29.1 75.0,28.6 C76.0,28.1 77.0,27.5 78.0,26.9 C79.0,26.3 80.0,25.6 81.0,24.9 C82.0,24.2 83.0,23.5 84.0,22.7 C85.0,21.9 86.0,21.1 87.0,20.3 C88.0,19.4 89.5,18.0 90.0,17.6" fill="none" stroke="#000" stroke-width="0.85"/>
<path d="M60.0,37.2 C60.5,37.1 62.0,36.9 63.0,36.7 C64.0,36.4 65.0,36.2 66.0,35.8 C67.0,35.5 68.0,35.2 69.0,34.7 C70.0,34.3 71.0,33.9 72.0,33.4 C73.0,32.9 74.0,32.3 75.0,31.7 C76.0,31.1 77.0,30.5 78.0,29.8 C79.0,29.1 80.0,28.3 81.0,27.5 C82.0,26.8 83.0,25.9 84.0,25.0 C85.0,24.2 86.0,23.2 87.0,22.3 C88.0,21.3 89.5,19.7 90.0,19.2" fill="none" stroke="#000" stroke-width="0.85"/>
<path d="M60.0,40.8 C60.5,40.7 62.0,40.5 63.0,40.2 C64.0,40.0 65.0,39.7 66.0,39.4 C67.0,39.0 68.0,38.6 69.0,38.2 C70.0,37.7 71.0,37.2 72.0,36.6 C73.0,36.1 74.0,35.5 75.0,34.8 C76.0,34.1 77.0,33.4 78.0,32.6 C79.0,31.9 80.0,31.0 81.0,30.2 C82.0,29.3 83.0,28.3 84.0,27.4 C85.0,26.4 86.0,25.3 87.0,24.2 C88.0,23.1 89.5,21.4 90.0,20.8" fill="none" stroke="#000" stroke-width="0.85"/>
<path d="M60.0,44.4 C60.5,44.3 62.0,44.1 63.0,43.8 C64.0,43.6 65.0,43.3 66.0,42.9 C67.0,42.5 68.0,42.1 69.0,41.6 C70.0,41.1 71.0,40.5 72.0,39.9 C73.0,39.3 74.0,38.6 75.0,37.9 C76.0,37.2 77.0,36.4 78.0,35.5 C79.0,34.7 80.0,33.8 81.0,32.8 C82.0,31.8 83.0,30.8 84.0,29.7 C85.0,28.6 86.0,27.4 87.0,26.2 C88.0,25.0 89.5,23.0 90.0,22.4" fill="none" stroke="#000" stroke-width="0.85"/>
<path d="M60.0,48.0 C60.5,47.9 62.0,47.7 63.0,47.4 C64.0,47.1 65.0,46.8 66.0,46.4 C67.0,46.0 68.0,45.5 69.0,45.0 C70.0,44.5 71.0,43.9 72.0,43.2 C73.0,42.5 74.0,41.8 75.0,41.0 C76.0,40.2 77.0,39.3 78.0,38.4 C79.0,37.5 80.0,36.5 81.0,35.4 C82.0,34.3 83.0,33.2 84.0,32.0 C85.0,30.8 86.0,29.5 87.0,28.2 C88.0,26.9 89.5,24.7 90.0,24.0" fill="none" stroke="#000" stroke-width="0.85"/>
<path d="M60.0,51.6 C60.5,51.5 62.0,51.3 63.0,51.0 C64.0,50.7 65.0,50.3 66.0,49.9 C67.0,49.5 68.0,49.0 69.0,48.4 C70.0,47.8 71.0,47.2 72.0,46.5 C73.0,45.8 74.0,45.0 75.0,44.1 C76.0,43.2 77.0,42.3 78.0,41.3 C79.0,40.3 80.0,39.2 81.0,38.0 C82.0,36.9 83.0,35.6 84.0,34.3 C85.0,33.0 86.0,31.6 87.0,30.2 C88.0,28.7 89.5,26.4 90.0,25.6" fill="none" stroke="#000" stroke-width="0.85"/>
<path d="M60.0,55.2 C60.5,55.1 62.0,54.9 63.0,54.6 C64.0,54.3 65.0,53.9 66.0,53.4 C67.0,53.0 68.0,52.5 69.0,51.8 C70.0,51.2 71.0,50.5 72.0,49.8 C73.0,49.0 74.0,48.1 75.0,47.2 C76.0,46.3 77.0,45.3 78.0,44.2 C79.0,43.1 80.0,41.9 81.0,40.6 C82.0,39.4 83.0,38.1 84.0,36.6 C85.0,35.2 86.0,33.7 87.0,32.2 C88.0,30.6 89.5,28.0 90.0,27.2" fill="none" stroke="#000" stroke-width="0.85"/>
<path d="M60.0,58.8 C60.5,58.7 62.0,58.4 63.0,58.1 C64.0,57.8 65.0,57.4 66.0,57.0 C67.0,56.5 68.0,55.9 69.0,55.3 C70.0,54.6 71.0,53.9 72.0,53.0 C73.0,52.2 74.0,51.3 75.0,50.3 C76.0,49.3 77.0,48.2 78.0,47.0 C79.0,45.9 80.0,44.6 81.0,43.3 C82.0,41.9 83.0,40.5 84.0,39.0 C85.0,37.4 86.0,35.8 87.0,34.1 C88.0,32.4 89.5,29.7 90.0,28.8" fill="none" stroke="#000" stroke-width="0.85"/>
<path d="M190.0,16.0 C190.5,16.4 192.0,17.6 193.0,18.3 C194.0,19.0 195.0,19.7 196.0,20.4 C197.0,21.1 198.0,21.7 199.0,22.3 C200.0,22.9 201.0,23.5 202.0,24.0 C203.0,24.5 204.0,25.0 205.0,25.5 C206.0,26.0 207.0,26.4 208.0,26.8 C209.0,27.2 210.0,27.6 211.0,27.9 C212.0,28.2 213.0,28.5 214.0,28.8 C215.0,29.1 216.0,29.3 217.0,29.5 C218.0,29.7 219.5,29.9 220.0,30.0" fill="none" stroke="#000" stroke-width="0.85"/>
<path d="M190.0,17.8 C190.5,18.2 192.0,19.6 193.0,20.5 C194.0,21.3 195.0,22.1 196.0,22.9 C197.0,23.7 198.0,24.4 199.0,25.1 C200.0,25.8 201.0,26.5 202.0,27.1 C203.0,27.7 204.0,28.3 205.0,28.8 C206.0,29.3 207.0,29.8 208.0,30.3 C209.0,30.7 210.0,31.1 211.0,31.5 C212.0,31.9 213.0,32.2 214.0,32.5 C215.0,32.8 216.0,33.1 217.0,33.3 C218.0,33.5 219.5,33.7 220.0,33.8" fill="none" stroke="#000" stroke-width="0.85"/>
<path d="M190.0,19.6 C190.5,20.1 192.0,21.7 193.0,22.7 C194.0,23.6 195.0,24.6 196.0,25.4 C197.0,26.3 198.0,27.2 199.0,27.9 C200.0,28.7 201.0,29.5 202.0,30.2 C203.0,30.9 204.0,31.5 205.0,32.1 C206.0,32.7 207.0,33.3 208.0,33.8 C209.0,34.3 210.0,34.7 211.0,35.1 C212.0,35.6 213.0,35.9 214.0,36.2 C215.0,36.6 216.0,36.8 217.0,37.1 C218.0,37.3 219.5,37.5 220.0,37.6" fill="none" stroke="#000" stroke-width="0.85"/>
<path d="M190.0,21.4 C190.5,22.0 192.0,23.7 193.0,24.8 C194.0,25.9 195.0,27.0 196.0,28.0 C197.0,28.9 198.0,29.9 199.0,30.8 C200.0,31.6 201.0,32.5 202.0,33.2 C203.0,34.0 204.0,34.7 205.0,35.4 C206.0,36.1 207.0,36.7 208.0,37.2 C209.0,37.8 210.0,38.3 211.0,38.8 C212.0,39.2 213.0,39.6 214.0,40.0 C215.0,40.3 216.0,40.6 217.0,40.8 C218.0,41.1 219.5,41.3 220.0,41.4" fill="none" stroke="#000" stroke-width="0.85"/>
<path d="M190.0,23.2 C190.5,23.8 192.0,25.8 193.0,27.0 C194.0,28.2 195.0,29.4 196.0,30.5 C197.0,31.6 198.0,32.6 199.0,33.6 C200.0,34.6 201.0,35.5 202.0,36.3 C203.0,37.2 204.0,38.0 205.0,38.7 C206.0,39.4 207.0,40.1 208.0,40.7 C209.0,41.3 210.0,41.9 211.0,42.4 C212.0,42.9 213.0,43.3 214.0,43.7 C215.0,44.1 216.0,44.4 217.0,44.6 C218.0,44.9 219.5,45.1 220.0,45.2" fill="none" stroke="#000" stroke-width="0.85"/>
<path d="M190.0,25.0 C190.5,25.7 192.0,27.9 193.0,29.2 C194.0,30.5 195.0,31.8 196.0,33.0 C197.0,34.2 198.0,35.3 199.0,36.4 C200.0,37.5 201.0,38.5 202.0,39.4 C203.0,40.3 204.0,41.2 205.0,42.0 C206.0,42.8 207.0,43.5 208.0,44.2 C209.0,44.9 210.0,45.5 211.0,46.0 C212.0,46.5 213.0,47.0 214.0,47.4 C215.0,47.8 216.0,48.1 217.0,48.4 C218.0,48.7 219.5,48.9 220.0,49.0" fill="none" stroke="#000" stroke-width="0.85"/>
<path d="M190.0,26.8 C190.5,27.6 192.0,29.9 193.0,31.4 C194.0,32.8 195.0,34.2 196.0,35.5 C197.0,36.8 198.0,38.1 199.0,39.2 C200.0,40.4 201.0,41.5 202.0,42.5 C203.0,43.5 204.0,44.4 205.0,45.3 C206.0,46.2 207.0,47.0 208.0,47.7 C209.0,48.4 210.0,49.0 211.0,49.6 C212.0,50.2 213.0,50.7 214.0,51.1 C215.0,51.5 216.0,51.9 217.0,52.2 C218.0,52.5 219.5,52.7 220.0,52.8" fill="none" stroke="#000" stroke-width="0.85"/>
<path d="M190.0,28.6 C190.5,29.4 192.0,32.0 193.0,33.6 C194.0,35.1 195.0,36.6 196.0,38.0 C197.0,39.5 198.0,40.8 199.0,42.0 C200.0,43.3 201.0,44.5 202.0,45.6 C203.0,46.7 204.0,47.7 205.0,48.6 C206.0,49.5 207.0,50.4 208.0,51.2 C209.0,51.9 210.0,52.6 211.0,53.2 C212.0,53.9 213.0,54.4 214.0,54.8 C215.0,55.3 216.0,55.7 217.0,56.0 C218.0,56.3 219.5,56.5 220.0,56.6" fill="none" stroke="#000" stroke-width="0.85"/>
<path d="M190.0,30.4 C190.5,31.3 192.0,34.0 193.0,35.7 C194.0,37.4 195.0,39.0 196.0,40.6 C197.0,42.1 198.0,43.5 199.0,44.9 C200.0,46.2 201.0,47.5 202.0,48.6 C203.0,49.8 204.0,50.9 205.0,51.9 C206.0,52.9 207.0,53.8 208.0,54.6 C209.0,55.5 210.0,56.2 211.0,56.9 C212.0,57.5 213.0,58.1 214.0,58.6 C215.0,59.0 216.0,59.4 217.0,59.7 C218.0,60.0 219.5,60.3 220.0,60.4" fill="none" stroke="#000" stroke-width="0.85"/>
<path d="M60.0,33.0 C61.0,32.8 64.0,32.3 66.0,31.5 C68.0,30.7 70.0,29.6 72.0,28.0 C74.0,26.4 76.0,24.3 78.0,22.0 C80.0,19.7 82.0,17.0 84.0,14.0 C86.0,11.0 89.0,5.7 90.0,4.0" fill="none" stroke="#000" stroke-width="0.85"/>
<path d="M220.0,34.0 C219.0,33.8 216.0,33.3 214.0,32.5 C212.0,31.7 210.0,30.6 208.0,29.0 C206.0,27.4 204.0,25.3 202.0,23.0 C200.0,20.7 198.0,18.0 196.0,15.0 C194.0,12.0 191.0,6.7 190.0,5.0" fill="none" stroke="#000" stroke-width="0.85"/>
<path d="M60.0,37.2 C61.0,37.0 64.0,36.5 66.0,35.7 C68.0,34.9 70.0,33.8 72.0,32.2 C74.0,30.6 76.0,28.5 78.0,26.2 C80.0,23.9 82.0,21.2 84.0,18.2 C86.0,15.2 89.0,9.9 90.0,8.2" fill="none" stroke="#000" stroke-width="0.85"/>
<path d="M220.0,38.2 C219.0,38.0 216.0,37.5 214.0,36.7 C212.0,35.9 210.0,34.8 208.0,33.2 C206.0,31.6 204.0,29.5 202.0,27.2 C200.0,24.9 198.0,22.2 196.0,19.2 C194.0,16.2 191.0,10.9 190.0,9.2" fill="none" stroke="#000" stroke-width="0.85"/>
<path d="M60.0,41.4 C61.0,41.1 64.0,40.7 66.0,39.9 C68.0,39.1 70.0,38.0 72.0,36.4 C74.0,34.8 76.0,32.7 78.0,30.4 C80.0,28.1 82.0,25.4 84.0,22.4 C86.0,19.4 89.0,14.1 90.0,12.4" fill="none" stroke="#000" stroke-width="0.85"/>
<path d="M220.0,42.4 C219.0,42.1 216.0,41.7 214.0,40.9 C212.0,40.1 210.0,39.0 208.0,37.4 C206.0,35.8 204.0,33.7 202.0,31.4 C200.0,29.1 198.0,26.4 196.0,23.4 C194.0,20.4 191.0,15.1 190.0,13.4" fill="none" stroke="#000" stroke-width="0.85"/>
<path d="M60.0,45.6 C61.0,45.4 64.0,44.9 66.0,44.1 C68.0,43.3 70.0,42.2 72.0,40.6 C74.0,39.0 76.0,36.9 78.0,34.6 C80.0,32.3 82.0,29.6 84.0,26.6 C86.0,23.6 89.0,18.3 90.0,16.6" fill="none" stroke="#000" stroke-width="0.85"/>
<path d="M220.0,46.6 C219.0,46.4 216.0,45.9 214.0,45.1 C212.0,44.3 210.0,43.2 208.0,41.6 C206.0,40.0 204.0,37.9 202.0,35.6 C200.0,33.3 198.0,30.6 196.0,27.6 C194.0,24.6 191.0,19.3 190.0,17.6" fill="none" stroke="#000" stroke-width="0.85"/>
<path d="M60.0,49.8 C61.0,49.5 64.0,49.1 66.0,48.3 C68.0,47.5 70.0,46.4 72.0,44.8 C74.0,43.2 76.0,41.1 78.0,38.8 C80.0,36.5 82.0,33.8 84.0,30.8 C86.0,27.8 89.0,22.5 90.0,20.8" fill="none" stroke="#000" stroke-width="0.85"/>
<path d="M220.0,50.8 C219.0,50.5 216.0,50.1 214.0,49.3 C212.0,48.5 210.0,47.4 208.0,45.8 C206.0,44.2 204.0,42.1 202.0,39.8 C200.0,37.5 198.0,34.8 196.0,31.8 C194.0,28.8 191.0,23.5 190.0,21.8" fill="none" stroke="#000" stroke-width="0.85"/>
<path d="M60.0,54.0 C61.0,53.8 64.0,53.3 66.0,52.5 C68.0,51.7 70.0,50.6 72.0,49.0 C74.0,47.4 76.0,45.3 78.0,43.0 C80.0,40.7 82.0,38.0 84.0,35.0 C86.0,32.0 89.0,26.7 90.0,25.0" fill="none" stroke="#000" stroke-width="0.85"/>
<path d="M220.0,55.0 C219.0,54.8 216.0,54.3 214.0,53.5 C212.0,52.7 210.0,51.6 208.0,50.0 C206.0,48.4 204.0,46.3 202.0,44.0 C200.0,41.7 198.0,39.0 196.0,36.0 C194.0,33.0 191.0,27.7 190.0,26.0" fill="none" stroke="#000" stroke-width="0.85"/>
<path d="M60.0,58.2 C61.0,58.0 64.0,57.5 66.0,56.7 C68.0,55.9 70.0,54.8 72.0,53.2 C74.0,51.6 76.0,49.5 78.0,47.2 C80.0,44.9 82.0,42.2 84.0,39.2 C86.0,36.2 89.0,30.9 90.0,29.2" fill="none" stroke="#000" stroke-width="0.85"/>
<path d="M220.0,59.2 C219.0,59.0 216.0,58.5 214.0,57.7 C212.0,56.9 210.0,55.8 208.0,54.2 C206.0,52.6 204.0,50.5 202.0,48.2 C200.0,45.9 198.0,43.2 196.0,40.2 C194.0,37.2 191.0,31.9 190.0,30.2" fill="none" stroke="#000" stroke-width="0.85"/>
<path d="M60.0,62.4 C61.0,62.2 64.0,61.7 66.0,60.9 C68.0,60.1 70.0,59.0 72.0,57.4 C74.0,55.8 76.0,53.7 78.0,51.4 C80.0,49.1 82.0,46.4 84.0,43.4 C86.0,40.4 89.0,35.1 90.0,33.4" fill="none" stroke="#000" stroke-width="0.85"/>
<path d="M220.0,63.4 C219.0,63.2 216.0,62.7 214.0,61.9 C212.0,61.1 210.0,60.0 208.0,58.4 C206.0,56.8 204.0,54.7 202.0,52.4 C200.0,50.1 198.0,47.4 196.0,44.4 C194.0,41.4 191.0,36.1 190.0,34.4" fill="none" stroke="#000" stroke-width="0.85"/>
<path d="M60.0,100.0 C60.7,99.9 62.7,99.8 64.0,99.4 C65.3,99.0 66.7,98.4 68.0,97.7 C69.3,97.0 70.7,96.2 72.0,95.3 C73.3,94.3 74.7,93.3 76.0,92.2 C77.3,91.1 78.7,89.9 80.0,88.8 C81.3,87.6 82.7,86.4 84.0,85.2 C85.3,84.1 86.7,82.9 88.0,81.8 C89.3,80.7 90.7,79.7 92.0,78.7 C93.3,77.8 94.7,77.0 96.0,76.3 C97.3,75.6 98.7,75.0 100.0,74.6 C101.3,74.2 103.3,74.1 104.0,74.0" fill="none" stroke="#000" stroke-width="0.85"/>
<path d="M60.0,93.5 C60.7,93.4 62.7,93.2 64.0,92.8 C65.3,92.4 66.7,91.7 68.0,90.9 C69.3,90.1 70.7,89.1 72.0,88.0 C73.3,87.0 74.7,85.7 76.0,84.5 C77.3,83.2 78.7,81.9 80.0,80.5 C81.3,79.2 82.7,77.8 84.0,76.5 C85.3,75.1 86.7,73.8 88.0,72.5 C89.3,71.3 90.7,70.0 92.0,69.0 C93.3,67.9 94.7,66.9 96.0,66.1 C97.3,65.3 98.7,64.6 100.0,64.2 C101.3,63.8 103.3,63.6 104.0,63.5" fill="none" stroke="#000" stroke-width="0.85"/>
<path d="M60.0,87.0 C60.7,86.9 62.7,86.7 64.0,86.2 C65.3,85.7 66.7,84.9 68.0,84.0 C69.3,83.1 70.7,82.0 72.0,80.8 C73.3,79.6 74.7,78.2 76.0,76.8 C77.3,75.4 78.7,73.8 80.0,72.3 C81.3,70.8 82.7,69.2 84.0,67.7 C85.3,66.2 86.7,64.6 88.0,63.2 C89.3,61.8 90.7,60.4 92.0,59.2 C93.3,58.0 94.7,56.9 96.0,56.0 C97.3,55.1 98.7,54.3 100.0,53.8 C101.3,53.3 103.3,53.1 104.0,53.0" fill="none" stroke="#000" stroke-width="0.85"/>
<path d="M60.0,80.5 C60.7,80.4 62.7,80.3 64.0,79.9 C65.3,79.5 66.7,78.9 68.0,78.2 C69.3,77.5 70.7,76.7 72.0,75.8 C73.3,74.8 74.7,73.8 76.0,72.7 C77.3,71.6 78.7,70.4 80.0,69.3 C81.3,68.1 82.7,66.9 84.0,65.7 C85.3,64.6 86.7,63.4 88.0,62.3 C89.3,61.2 90.7,60.2 92.0,59.2 C93.3,58.3 94.7,57.5 96.0,56.8 C97.3,56.1 98.7,55.5 100.0,55.1 C101.3,54.7 103.3,54.6 104.0,54.5" fill="none" stroke="#000" stroke-width="0.85"/>
<path d="M60.0,74.0 C60.7,73.9 62.7,73.7 64.0,73.3 C65.3,72.9 66.7,72.2 68.0,71.4 C69.3,70.6 70.7,69.6 72.0,68.5 C73.3,67.5 74.7,66.2 76.0,65.0 C77.3,63.7 78.7,62.4 80.0,61.0 C81.3,59.7 82.7,58.3 84.0,57.0 C85.3,55.6 86.7,54.3 88.0,53.0 C89.3,51.8 90.7,50.5 92.0,49.5 C93.3,48.4 94.7,47.4 96.0,46.6 C97.3,45.8 98.7,45.1 100.0,44.7 C101.3,44.3 103.3,44.1 104.0,44.0" fill="none" stroke="#000" stroke-width="0.85"/>
<path d="M60.0,67.5 C60.7,67.4 62.7,67.2 64.0,66.7 C65.3,66.2 66.7,65.4 68.0,64.5 C69.3,63.6 70.7,62.5 72.0,61.3 C73.3,60.1 74.7,58.7 76.0,57.3 C77.3,55.9 78.7,54.3 80.0,52.8 C81.3,51.3 82.7,49.7 84.0,48.2 C85.3,46.7 86.7,45.1 88.0,43.7 C89.3,42.3 90.7,40.9 92.0,39.7 C93.3,38.5 94.7,37.4 96.0,36.5 C97.3,35.6 98.7,34.8 100.0,34.3 C101.3,33.8 103.3,33.6 104.0,33.5" fill="none" stroke="#000" stroke-width="0.85"/>
<path d="M60.0,61.0 C60.7,60.9 62.7,60.8 64.0,60.4 C65.3,60.0 66.7,59.4 68.0,58.7 C69.3,58.0 70.7,57.2 72.0,56.3 C73.3,55.3 74.7,54.3 76.0,53.2 C77.3,52.1 78.7,50.9 80.0,49.8 C81.3,48.6 82.7,47.4 84.0,46.2 C85.3,45.1 86.7,43.9 88.0,42.8 C89.3,41.7 90.7,40.7 92.0,39.7 C93.3,38.8 94.7,38.0 96.0,37.3 C97.3,36.6 98.7,36.0 100.0,35.6 C101.3,35.2 103.3,35.1 104.0,35.0" fill="none" stroke="#000" stroke-width="0.85"/>
<path d="M60.0,54.5 C60.7,54.4 62.7,54.2 64.0,53.8 C65.3,53.4 66.7,52.7 68.0,51.9 C69.3,51.1 70.7,50.1 72.0,49.0 C73.3,48.0 74.7,46.7 76.0,45.5 C77.3,44.2 78.7,42.9 80.0,41.5 C81.3,40.2 82.7,38.8 84.0,37.5 C85.3,36.1 86.7,34.8 88.0,33.5 C89.3,32.3 90.7,31.0 92.0,30.0 C93.3,28.9 94.7,27.9 96.0,27.1 C97.3,26.3 98.7,25.6 100.0,25.2 C101.3,24.8 103.3,24.6 104.0,24.5" fill="none" stroke="#000" stroke-width="0.85"/>
<path d="M176.0,73.0 C176.7,73.1 178.7,73.2 180.0,73.7 C181.3,74.1 182.7,74.7 184.0,75.4 C185.3,76.2 186.7,77.1 188.0,78.1 C189.3,79.1 190.7,80.3 192.0,81.4 C193.3,82.6 194.7,83.8 196.0,85.1 C197.3,86.3 198.7,87.7 200.0,88.9 C201.3,90.2 202.7,91.4 204.0,92.6 C205.3,93.7 206.7,94.9 208.0,95.9 C209.3,96.9 210.7,97.8 212.0,98.6 C213.3,99.3 214.7,99.9 216.0,100.3 C217.3,100.8 219.3,100.9 220.0,101.0" fill="none" stroke="#000" stroke-width="0.85"/>
<path d="M176.0,62.7 C176.7,62.8 178.7,63.0 180.0,63.4 C181.3,63.9 182.7,64.6 184.0,65.5 C185.3,66.3 186.7,67.4 188.0,68.5 C189.3,69.7 190.7,71.0 192.0,72.3 C193.3,73.6 194.7,75.1 196.0,76.5 C197.3,78.0 198.7,79.4 200.0,80.9 C201.3,82.3 202.7,83.8 204.0,85.1 C205.3,86.4 206.7,87.7 208.0,88.9 C209.3,90.0 210.7,91.1 212.0,91.9 C213.3,92.8 214.7,93.5 216.0,94.0 C217.3,94.4 219.3,94.6 220.0,94.7" fill="none" stroke="#000" stroke-width="0.85"/>
<path d="M176.0,64.4 C176.7,64.5 178.7,64.6 180.0,65.0 C181.3,65.3 182.7,65.9 184.0,66.5 C185.3,67.1 186.7,67.9 188.0,68.8 C189.3,69.6 190.7,70.6 192.0,71.6 C193.3,72.6 194.7,73.7 196.0,74.8 C197.3,75.8 198.7,77.0 200.0,78.0 C201.3,79.1 202.7,80.2 204.0,81.2 C205.3,82.2 206.7,83.2 208.0,84.0 C209.3,84.9 210.7,85.7 212.0,86.3 C213.3,86.9 214.7,87.5 216.0,87.8 C217.3,88.2 219.3,88.3 220.0,88.4" fill="none" stroke="#000" stroke-width="0.85"/>
<path d="M176.0,54.1 C176.7,54.2 178.7,54.3 180.0,54.8 C181.3,55.2 182.7,55.8 184.0,56.5 C185.3,57.3 186.7,58.2 188.0,59.2 C189.3,60.2 190.7,61.4 192.0,62.5 C193.3,63.7 194.7,64.9 196.0,66.2 C197.3,67.4 198.7,68.8 200.0,70.0 C201.3,71.3 202.7,72.5 204.0,73.7 C205.3,74.8 206.7,76.0 208.0,77.0 C209.3,78.0 210.7,78.9 212.0,79.7 C213.3,80.4 214.7,81.0 216.0,81.4 C217.3,81.9 219.3,82.0 220.0,82.1" fill="none" stroke="#000" stroke-width="0.85"/>
<path d="M176.0,43.8 C176.7,43.9 178.7,44.1 180.0,44.5 C181.3,45.0 182.7,45.7 184.0,46.6 C185.3,47.4 186.7,48.5 188.0,49.6 C189.3,50.8 190.7,52.1 192.0,53.4 C193.3,54.7 194.7,56.2 196.0,57.6 C197.3,59.1 198.7,60.5 200.0,62.0 C201.3,63.4 202.7,64.9 204.0,66.2 C205.3,67.5 206.7,68.8 208.0,70.0 C209.3,71.1 210.7,72.2 212.0,73.0 C213.3,73.9 214.7,74.6 216.0,75.1 C217.3,75.5 219.3,75.7 220.0,75.8" fill="none" stroke="#000" stroke-width="0.85"/>
<path d="M176.0,45.5 C176.7,45.6 178.7,45.7 180.0,46.1 C181.3,46.4 182.7,47.0 184.0,47.6 C185.3,48.2 186.7,49.0 188.0,49.9 C189.3,50.7 190.7,51.7 192.0,52.7 C193.3,53.7 194.7,54.8 196.0,55.9 C197.3,56.9 198.7,58.1 200.0,59.1 C201.3,60.2 202.7,61.3 204.0,62.3 C205.3,63.3 206.7,64.3 208.0,65.1 C209.3,66.0 210.7,66.8 212.0,67.4 C213.3,68.0 214.7,68.6 216.0,68.9 C217.3,69.3 219.3,69.4 220.0,69.5" fill="none" stroke="#000" stroke-width="0.85"/>
<path d="M176.0,35.2 C176.7,35.3 178.7,35.4 180.0,35.9 C181.3,36.3 182.7,36.9 184.0,37.6 C185.3,38.4 186.7,39.3 188.0,40.3 C189.3,41.3 190.7,42.5 192.0,43.6 C193.3,44.8 194.7,46.0 196.0,47.3 C197.3,48.5 198.7,49.9 200.0,51.1 C201.3,52.4 202.7,53.6 204.0,54.8 C205.3,55.9 206.7,57.1 208.0,58.1 C209.3,59.1 210.7,60.0 212.0,60.8 C213.3,61.5 214.7,62.1 216.0,62.5 C217.3,63.0 219.3,63.1 220.0,63.2" fill="none" stroke="#000" stroke-width="0.85"/>
<path d="M176.0,24.9 C176.7,25.0 178.7,25.2 180.0,25.6 C181.3,26.1 182.7,26.8 184.0,27.7 C185.3,28.5 186.7,29.6 188.0,30.7 C189.3,31.9 190.7,33.2 192.0,34.5 C193.3,35.8 194.7,37.3 196.0,38.7 C197.3,40.2 198.7,41.6 200.0,43.1 C201.3,44.5 202.7,46.0 204.0,47.3 C205.3,48.6 206.7,49.9 208.0,51.1 C209.3,52.2 210.7,53.3 212.0,54.1 C213.3,55.0 214.7,55.7 216.0,56.2 C217.3,56.6 219.3,56.8 220.0,56.9" fill="none" stroke="#000" stroke-width="0.85"/>
<path d="M60.0,91.0 C60.8,90.5 62.5,90.3 65.0,88.0 C67.5,85.7 71.7,81.0 75.0,77.0 C78.3,73.0 81.7,68.3 85.0,64.0 C88.3,59.7 91.7,55.2 95.0,51.0 C98.3,46.8 103.3,41.0 105.0,39.0" fill="none" stroke="#000" stroke-width="0.85"/>
<path d="M60.0,73.0 C60.8,72.5 62.5,72.3 65.0,70.0 C67.5,67.7 71.7,63.0 75.0,59.0 C78.3,55.0 81.7,50.3 85.0,46.0 C88.3,41.7 91.7,37.2 95.0,33.0 C98.3,28.8 103.3,23.0 105.0,21.0" fill="none" stroke="#000" stroke-width="0.85"/>
<path d="M60.0,55.0 C60.8,54.5 62.5,54.3 65.0,52.0 C67.5,49.7 71.7,45.0 75.0,41.0 C78.3,37.0 81.7,32.3 85.0,28.0 C88.3,23.7 91.7,19.2 95.0,15.0 C98.3,10.8 103.3,5.0 105.0,3.0" fill="none" stroke="#000" stroke-width="0.85"/>
<path d="M160.0,48.0 C161.7,50.0 165.0,55.8 170.0,60.0 C175.0,64.2 184.2,68.7 190.0,73.0 C195.8,77.3 200.8,82.0 205.0,86.0 C209.2,90.0 212.5,94.7 215.0,97.0 C217.5,99.3 219.2,99.5 220.0,100.0" fill="none" stroke="#000" stroke-width="0.85"/>
<path d="M160.0,30.0 C161.7,32.0 165.0,37.8 170.0,42.0 C175.0,46.2 184.2,50.7 190.0,55.0 C195.8,59.3 200.8,64.0 205.0,68.0 C209.2,72.0 212.5,76.7 215.0,79.0 C217.5,81.3 219.2,81.5 220.0,82.0" fill="none" stroke="#000" stroke-width="0.85"/>
<path d="M160.0,12.0 C161.7,14.0 165.0,19.8 170.0,24.0 C175.0,28.2 184.2,32.7 190.0,37.0 C195.8,41.3 200.8,46.0 205.0,50.0 C209.2,54.0 212.5,58.7 215.0,61.0 C217.5,63.3 219.2,63.5 220.0,64.0" fill="none" stroke="#000" stroke-width="0.85"/>
<path d="M134.0,24.0 C134.7,24.8 136.5,25.7 138.3,29.0 C140.1,32.3 142.8,38.8 145.0,44.0 C147.2,49.2 149.3,59.1 151.5,60.1 C153.7,61.1 155.8,53.1 158.0,50.0 C160.2,46.9 162.3,43.7 164.6,41.6 C166.9,39.5 168.9,38.5 171.8,37.4 C174.7,36.3 178.1,36.2 182.0,35.0 C185.9,33.8 192.8,30.8 195.0,30.0" fill="none" stroke="#000" stroke-width="0.85"/>
<path d="M118.0,48.0 C120.0,49.7 125.5,54.3 130.0,58.0 C134.5,61.7 141.3,66.7 145.0,70.0 C148.7,73.3 149.5,78.3 152.0,78.0 C154.5,77.7 157.0,71.3 160.0,68.0 C163.0,64.7 166.7,61.0 170.0,58.0 C173.3,55.0 178.3,51.3 180.0,50.0" fill="none" stroke="#000" stroke-width="0.85"/>
<path d="M118.0,38.0 C119.7,39.0 124.3,42.0 128.0,44.0 C131.7,46.0 136.0,48.5 140.0,50.0 C144.0,51.5 148.0,53.7 152.0,53.0 C156.0,52.3 160.2,47.8 164.0,46.0 C167.8,44.2 170.7,43.3 175.0,42.0 C179.3,40.7 187.5,38.7 190.0,38.0" fill="none" stroke="#000" stroke-width="0.85"/>
<path d="M95.0,31.0 C97.2,31.3 104.2,32.8 108.0,33.0 C111.8,33.2 114.3,31.5 118.0,32.0 C121.7,32.5 126.3,34.7 130.0,36.0 C133.7,37.3 136.3,39.7 140.0,40.0 C143.7,40.3 147.8,38.7 152.0,38.0 C156.2,37.3 160.3,37.2 165.0,36.0 C169.7,34.8 177.5,31.8 180.0,31.0" fill="none" stroke="#000" stroke-width="0.85"/>
<path d="M95.0,38.0 C97.2,38.3 104.2,40.0 108.0,40.0 C111.8,40.0 114.3,37.9 118.0,38.2 C121.7,38.5 126.3,40.9 130.0,42.0 C133.7,43.1 136.3,44.7 140.0,45.0 C143.7,45.3 147.8,44.8 152.0,44.0 C156.2,43.2 160.3,41.7 165.0,40.0 C169.7,38.3 177.5,35.0 180.0,34.0" fill="none" stroke="#000" stroke-width="0.85"/>
<path d="M95.0,44.0 C97.2,44.3 104.2,46.0 108.0,46.0 C111.8,46.0 114.3,43.5 118.0,44.2 C121.7,44.9 126.3,48.7 130.0,50.0 C133.7,51.3 136.3,52.3 140.0,52.0 C143.7,51.7 147.8,48.8 152.0,48.0 C156.2,47.2 160.3,48.0 165.0,47.0 C169.7,46.0 177.5,42.8 180.0,42.0" fill="none" stroke="#000" stroke-width="0.85"/>
<path d="M60.0,102.0 C61.7,102.8 66.3,105.0 70.0,107.0 C73.7,109.0 78.0,113.2 82.0,114.0 C86.0,114.8 90.0,112.8 94.0,112.0 C98.0,111.2 102.0,109.8 106.0,109.5 C110.0,109.2 114.0,110.2 118.0,110.0 C122.0,109.8 126.3,109.0 130.0,108.0 C133.7,107.0 136.3,105.4 140.0,104.0 C143.7,102.6 148.8,99.8 152.0,99.8 C155.2,99.8 156.4,101.6 159.2,104.0 C162.0,106.4 163.9,112.4 168.7,114.1 C173.5,115.8 182.3,114.4 187.9,114.1 C193.5,113.8 198.2,113.6 202.2,112.3 C206.2,111.0 208.8,108.1 211.8,106.4 C214.8,104.7 218.6,102.9 220.0,102.2" fill="none" stroke="#000" stroke-width="0.9"/>
<path d="M60.0,110.5 C63.7,111.3 76.3,114.8 82.0,115.5 C87.7,116.2 90.0,115.2 94.0,115.0 C98.0,114.8 102.0,114.1 106.0,114.0 C110.0,113.9 114.0,114.8 118.0,114.5 C122.0,114.2 126.3,113.7 130.0,112.5 C133.7,111.3 136.3,109.3 140.0,107.6 C143.7,105.9 148.6,102.2 152.0,102.2 C155.4,102.2 157.4,105.2 160.4,107.6 C163.4,110.0 165.3,114.8 169.9,116.5 C174.5,118.2 181.9,118.2 187.9,117.7 C193.9,117.2 200.5,114.8 205.8,113.5 C211.2,112.2 217.6,110.6 220.0,110.0" fill="none" stroke="#000" stroke-width="0.9"/>
<path d="M60.0,113.0 C63.7,114.2 76.3,118.7 82.0,120.0 C87.7,121.3 90.0,121.2 94.0,121.0 C98.0,120.8 102.0,119.1 106.0,119.0 C110.0,118.9 114.0,120.5 118.0,120.5 C122.0,120.5 126.3,120.5 130.0,119.0 C133.7,117.5 136.3,113.7 140.0,111.8 C143.7,109.9 148.2,107.3 152.0,107.6 C155.8,107.9 158.7,110.6 162.7,113.5 C166.7,116.4 171.7,122.8 175.9,124.9 C180.1,127.0 182.9,127.3 187.9,126.1 C192.9,124.9 200.5,120.2 205.8,117.7 C211.2,115.2 217.6,112.3 220.0,111.2" fill="none" stroke="#000" stroke-width="0.9"/>
<path d="M60.0,114.0 C63.7,115.3 76.3,120.5 82.0,122.0 C87.7,123.5 90.0,123.1 94.0,123.0 C98.0,122.9 102.0,121.3 106.0,121.5 C110.0,121.7 114.0,123.4 118.0,124.0 C122.0,124.6 126.3,126.2 130.0,125.0 C133.7,123.8 136.1,119.6 140.0,117.1 C143.9,114.6 149.2,110.0 153.2,110.0 C157.2,110.0 160.1,113.7 163.9,117.1 C167.7,120.5 171.9,127.8 175.9,130.3 C179.9,132.8 182.9,133.5 187.9,132.1 C192.9,130.7 200.5,125.2 205.8,121.9 C211.2,118.6 217.6,113.9 220.0,112.3" fill="none" stroke="#000" stroke-width="0.9"/>
<path d="M60.0,150.5 C63.9,151.9 76.0,155.0 83.4,158.7 C90.8,162.4 96.6,170.9 104.4,172.7 C112.2,174.5 122.0,169.1 130.0,169.7 C138.0,170.3 144.5,176.5 152.3,176.2 C160.1,175.9 168.8,170.9 176.8,168.0 C184.8,165.1 193.0,161.6 200.2,158.7 C207.4,155.8 216.7,151.9 220.0,150.5" fill="none" stroke="#000" stroke-width="0.9"/>
<path d="M60.0,162.7 C63.9,164.0 76.0,167.0 83.4,170.4 C90.8,173.8 96.6,181.3 104.4,183.2 C112.2,185.1 122.0,181.1 130.0,181.6 C138.0,182.1 144.5,186.1 152.3,186.0 C160.1,185.9 168.8,183.5 176.8,180.9 C184.8,178.3 193.0,173.4 200.2,170.4 C207.4,167.4 216.7,164.0 220.0,162.7" fill="none" stroke="#000" stroke-width="0.9"/>
<path d="M60.0,187.9 C63.9,188.1 75.6,188.6 83.4,189.0 C91.2,189.4 98.9,190.1 106.7,190.2 C114.5,190.3 122.4,189.5 130.0,189.5 C137.6,189.5 144.5,190.2 152.3,190.2 C160.1,190.2 168.8,189.7 176.8,189.5 C184.8,189.3 193.0,189.3 200.2,189.0 C207.4,188.7 216.7,188.1 220.0,187.9" fill="none" stroke="#000" stroke-width="0.9"/>
<path d="M60.0,189.0 C63.9,189.3 76.0,190.0 83.4,191.0 C90.8,192.0 96.6,194.1 104.4,194.9 C112.2,195.7 122.0,196.2 130.0,196.0 C138.0,195.8 144.5,193.9 152.3,193.7 C160.1,193.5 168.8,195.2 176.8,194.9 C184.8,194.6 193.0,193.0 200.2,192.0 C207.4,191.0 216.7,189.5 220.0,189.0" fill="none" stroke="#000" stroke-width="0.9"/>
<path d="M60.0,204.5 C62.9,204.6 72.5,205.8 77.5,205.0 C82.5,204.2 86.1,201.9 90.0,200.0 C93.9,198.1 96.0,195.1 101.0,193.4 C106.0,191.7 111.5,190.6 120.0,190.0 C128.5,189.4 142.8,189.2 152.0,190.0 C161.2,190.8 167.0,192.0 175.0,195.0 C183.0,198.0 192.5,206.6 200.0,207.8 C207.5,209.0 216.7,203.0 220.0,202.0" fill="none" stroke="#000" stroke-width="0.9"/>
<path d="M60.0,239.0 C62.0,239.5 67.8,243.2 72.0,242.0 C76.2,240.8 80.3,236.0 85.0,232.0 C89.7,228.0 95.0,221.3 100.0,218.0 C105.0,214.7 110.0,213.8 115.0,212.0 C120.0,210.2 124.2,208.4 130.0,207.0 C135.8,205.6 144.7,203.5 150.0,203.5 C155.3,203.5 157.8,204.6 162.0,207.0 C166.2,209.4 170.3,214.0 175.0,218.0 C179.7,222.0 185.0,227.5 190.0,231.0 C195.0,234.5 200.0,237.8 205.0,239.0 C210.0,240.2 217.5,238.2 220.0,238.0" fill="none" stroke="#000" stroke-width="0.85"/>
<path d="M61.5,240.8 C63.5,241.5 69.3,245.9 73.5,245.3 C77.7,244.6 81.8,240.3 86.5,236.6 C91.2,232.9 96.5,226.4 101.5,223.1 C106.5,219.7 111.5,218.4 116.5,216.3 C121.5,214.2 126.0,211.9 131.5,210.4 C136.9,209.0 144.2,207.3 149.2,207.6 C154.1,207.8 157.0,209.1 161.2,211.8 C165.4,214.4 169.5,219.4 174.2,223.5 C178.9,227.7 184.2,233.2 189.2,236.5 C194.2,239.8 199.2,242.5 204.2,243.1 C209.2,243.7 216.7,240.7 219.2,240.2" fill="none" stroke="#000" stroke-width="0.85"/>
<path d="M63.0,245.5 C65.0,246.1 70.8,250.3 75.0,249.3 C79.2,248.2 83.3,243.3 88.0,239.1 C92.7,235.0 98.0,228.0 103.0,224.6 C108.0,221.2 113.0,220.4 118.0,218.9 C123.0,217.4 127.9,216.2 133.0,215.5 C138.1,214.9 143.8,214.6 148.4,215.0 C153.0,215.5 156.2,216.1 160.4,218.2 C164.6,220.3 168.7,224.5 173.4,227.8 C178.1,231.2 183.4,235.7 188.4,238.5 C193.4,241.4 198.4,243.9 203.4,244.7 C208.4,245.5 215.9,243.5 218.4,243.3" fill="none" stroke="#000" stroke-width="0.85"/>
<path d="M64.5,247.2 C66.5,247.7 72.3,251.2 76.5,250.1 C80.7,249.0 84.8,244.1 89.5,240.5 C94.2,236.8 99.5,230.8 104.5,228.2 C109.5,225.6 114.5,225.8 119.5,224.8 C124.5,223.9 129.8,223.1 134.5,222.3 C139.2,221.4 143.4,220.1 147.6,220.0 C151.8,219.8 155.4,219.6 159.6,221.3 C163.8,223.0 167.9,226.7 172.6,230.1 C177.3,233.5 182.6,238.5 187.6,241.8 C192.6,245.0 197.6,248.5 202.6,249.7 C207.6,250.8 215.1,248.8 217.6,248.7" fill="none" stroke="#000" stroke-width="0.85"/>
<path d="M66.0,247.9 C68.0,248.6 73.8,253.0 78.0,252.5 C82.2,252.0 86.3,248.1 91.0,245.1 C95.7,242.0 101.0,236.6 106.0,234.2 C111.0,231.7 116.0,231.5 121.0,230.1 C126.0,228.8 131.7,227.0 136.0,225.8 C140.3,224.6 143.0,223.1 146.8,223.0 C150.6,222.8 154.6,222.9 158.8,225.0 C163.0,227.0 167.1,231.5 171.8,235.3 C176.5,239.2 181.8,244.8 186.8,248.0 C191.8,251.3 196.8,254.3 201.8,254.9 C206.8,255.5 214.3,252.0 216.8,251.4" fill="none" stroke="#000" stroke-width="0.85"/>
<path d="M67.5,251.8 C69.5,252.8 75.3,258.0 79.5,257.7 C83.7,257.4 87.8,253.4 92.5,250.0 C97.2,246.7 102.5,240.5 107.5,237.5 C112.5,234.5 117.5,233.7 122.5,232.2 C127.5,230.8 133.6,229.1 137.5,228.6 C141.4,228.1 142.6,228.4 146.0,229.0 C149.4,229.5 153.8,229.8 158.0,231.9 C162.2,234.0 166.3,238.4 171.0,241.8 C175.7,245.2 181.0,249.8 186.0,252.3 C191.0,254.8 196.0,256.7 201.0,256.7 C206.0,256.8 213.5,253.2 216.0,252.4" fill="none" stroke="#000" stroke-width="0.85"/>
<path d="M69.0,256.0 C71.0,256.8 76.8,261.3 81.0,260.6 C85.2,259.8 89.3,255.2 94.0,251.6 C98.7,248.0 104.0,241.7 109.0,239.1 C114.0,236.5 119.0,236.6 124.0,235.8 C129.0,235.1 135.5,234.7 139.0,234.7 C142.5,234.8 142.2,235.7 145.2,236.2 C148.2,236.6 153.0,235.9 157.2,237.4 C161.4,238.8 165.5,242.2 170.2,245.0 C174.9,247.8 180.2,251.7 185.2,254.1 C190.2,256.4 195.2,258.7 200.2,259.2 C205.2,259.6 212.7,257.0 215.2,256.6" fill="none" stroke="#000" stroke-width="0.85"/>
<path d="M92.0,256.0 C94.2,253.3 100.3,245.3 105.0,240.0 C109.7,234.7 114.2,228.3 120.0,224.0 C125.8,219.7 133.3,215.3 140.0,214.0 C146.7,212.7 153.3,213.7 160.0,216.0 C166.7,218.3 173.3,224.0 180.0,228.0 C186.7,232.0 193.3,237.5 200.0,240.0 C206.7,242.5 216.7,242.5 220.0,243.0" fill="none" stroke="#000" stroke-width="0.85"/>
<path d="M92.0,256.0 C94.2,253.7 100.3,246.7 105.0,242.0 C109.7,237.3 114.2,232.0 120.0,228.0 C125.8,224.0 133.3,219.3 140.0,218.0 C146.7,216.7 153.3,217.7 160.0,220.0 C166.7,222.3 173.3,228.2 180.0,232.0 C186.7,235.8 193.3,240.7 200.0,243.0 C206.7,245.3 216.7,245.5 220.0,246.0" fill="none" stroke="#000" stroke-width="0.85"/>
<path d="M81.0,260.7 C81.7,259.5 83.7,255.8 85.0,253.5 C86.3,251.3 87.7,249.2 89.0,247.3 C90.3,245.4 91.7,243.6 93.0,242.0 C94.3,240.4 95.7,239.0 97.0,237.7 C98.3,236.4 99.7,235.3 101.0,234.3 C102.3,233.4 103.7,232.6 105.0,231.9 C106.3,231.3 107.7,230.8 109.0,230.5 C110.3,230.2 111.7,230.0 113.0,230.0 C114.3,230.0 115.7,230.2 117.0,230.5 C118.3,230.8 119.7,231.3 121.0,231.9 C122.3,232.6 123.7,233.4 125.0,234.3 C126.3,235.3 127.7,236.4 129.0,237.7 C130.3,239.0 131.7,240.4 133.0,242.0 C134.3,243.6 135.7,245.4 137.0,247.3 C138.3,249.2 139.7,251.3 141.0,253.5 C142.3,255.8 144.3,259.5 145.0,260.7" fill="none" stroke="#000" stroke-width="0.85"/>
<path d="M80.0,279.0 C80.7,277.4 82.7,272.3 84.0,269.4 C85.3,266.4 86.7,263.6 88.0,261.0 C89.3,258.5 90.7,256.1 92.0,254.0 C93.3,251.9 94.7,249.9 96.0,248.2 C97.3,246.5 98.7,245.0 100.0,243.8 C101.3,242.5 102.7,241.4 104.0,240.6 C105.3,239.7 106.7,239.1 108.0,238.6 C109.3,238.2 110.7,238.0 112.0,238.0 C113.3,238.0 114.7,238.2 116.0,238.6 C117.3,239.1 118.7,239.7 120.0,240.6 C121.3,241.4 122.7,242.5 124.0,243.8 C125.3,245.0 126.7,246.5 128.0,248.2 C129.3,249.9 130.7,251.9 132.0,254.0 C133.3,256.1 134.7,258.5 136.0,261.0 C137.3,263.6 138.7,266.4 140.0,269.4 C141.3,272.3 143.3,277.4 144.0,279.0" fill="none" stroke="#000" stroke-width="0.85"/>
<path d="M120.0,284.2 C120.7,282.2 122.7,275.9 124.0,272.2 C125.3,268.5 126.7,265.0 128.0,261.8 C129.3,258.6 130.7,255.7 132.0,253.0 C133.3,250.3 134.7,247.9 136.0,245.8 C137.3,243.7 138.7,241.8 140.0,240.2 C141.3,238.6 142.7,237.3 144.0,236.2 C145.3,235.1 146.7,234.3 148.0,233.8 C149.3,233.3 150.7,233.0 152.0,233.0 C153.3,233.0 154.7,233.3 156.0,233.8 C157.3,234.3 158.7,235.1 160.0,236.2 C161.3,237.3 162.7,238.6 164.0,240.2 C165.3,241.8 166.7,243.7 168.0,245.8 C169.3,247.9 170.7,250.3 172.0,253.0 C173.3,255.7 174.7,258.6 176.0,261.8 C177.3,265.0 178.7,268.5 180.0,272.2 C181.3,275.9 183.3,282.2 184.0,284.2" fill="none" stroke="#000" stroke-width="0.85"/>
<path d="M118.0,301.4 C118.7,299.0 120.7,291.5 122.0,287.0 C123.3,282.6 124.7,278.4 126.0,274.6 C127.3,270.7 128.7,267.2 130.0,264.0 C131.3,260.8 132.7,257.9 134.0,255.4 C135.3,252.8 136.7,250.6 138.0,248.6 C139.3,246.7 140.7,245.1 142.0,243.8 C143.3,242.6 144.7,241.6 146.0,241.0 C147.3,240.3 148.7,240.0 150.0,240.0 C151.3,240.0 152.7,240.3 154.0,241.0 C155.3,241.6 156.7,242.6 158.0,243.8 C159.3,245.1 160.7,246.7 162.0,248.6 C163.3,250.6 164.7,252.8 166.0,255.4 C167.3,257.9 168.7,260.8 170.0,264.0 C171.3,267.2 172.7,270.7 174.0,274.6 C175.3,278.4 176.7,282.6 178.0,287.0 C179.3,291.5 181.3,299.0 182.0,301.4" fill="none" stroke="#000" stroke-width="0.85"/>
<path d="M60.0,252.0 C63.3,252.3 73.3,254.3 80.0,254.0 C86.7,253.7 93.3,251.3 100.0,250.0 C106.7,248.7 113.3,246.3 120.0,246.0 C126.7,245.7 133.3,248.0 140.0,248.0 C146.7,248.0 153.3,245.7 160.0,246.0 C166.7,246.3 173.3,248.8 180.0,250.0 C186.7,251.2 193.3,252.8 200.0,253.0 C206.7,253.2 216.7,251.3 220.0,251.0" fill="none" stroke="#000" stroke-width="0.85"/>
<path d="M110.0,252.0 C113.3,251.7 123.3,250.0 130.0,250.0 C136.7,250.0 143.3,251.3 150.0,252.0 C156.7,252.7 166.7,253.7 170.0,254.0" fill="none" stroke="#000" stroke-width="0.85"/>
<path d="M160.0,205.0 C162.7,209.3 169.2,222.4 175.9,230.9 C182.6,239.4 195.9,251.8 199.9,256.0" fill="none" stroke="#000" stroke-width="0.85"/>
</g>
<line x1="60" y1="85.25" x2="65" y2="85.25" stroke="#000" stroke-width="1"/>
<line x1="215" y1="85.25" x2="220" y2="85.25" stroke="#000" stroke-width="1"/>
<line x1="60" y1="142.0" x2="65" y2="142.0" stroke="#000" stroke-width="1"/>
<line x1="215" y1="142.0" x2="220" y2="142.0" stroke="#000" stroke-width="1"/>
<line x1="60" y1="198.75" x2="65" y2="198.75" stroke="#000" stroke-width="1"/>
<line x1="215" y1="198.75" x2="220" y2="198.75" stroke="#000" stroke-width="1"/>
<line x1="118.5" y1="28.5" x2="118.5" y2="33.5" stroke="#000" stroke-width="1"/>
<line x1="118.5" y1="250.5" x2="118.5" y2="255.5" stroke="#000" stroke-width="1"/>
<line x1="152.5" y1="28.5" x2="152.5" y2="33.5" stroke="#000" stroke-width="1"/>
<line x1="152.5" y1="250.5" x2="152.5" y2="255.5" stroke="#000" stroke-width="1"/>
<line x1="60" y1="142.5" x2="220" y2="142.5" stroke="#a0a0a0" stroke-width="1.0" stroke-dasharray="2.9,2.05"/>
<rect x="60" y="28.5" width="160" height="227.0" fill="none" stroke="#000" stroke-width="1.3"/>
<clipPath id="cb1"><rect x="60" y="333.5" width="160" height="227.0"/></clipPath>
<g clip-path="url(#cb1)">
<path d="M60.0,435.2 C63.7,435.4 73.2,434.7 82.0,436.5 C90.8,438.3 101.0,444.3 113.0,446.0 C125.0,447.7 142.2,447.4 153.8,446.5 C165.4,445.6 171.5,442.5 182.5,440.5 C193.5,438.5 213.8,435.5 220.0,434.5 L220.0,443.5 C213.8,445.4 193.5,452.1 182.5,455.0 C171.5,457.9 165.4,460.1 153.8,461.0 C142.2,461.9 125.0,462.3 113.0,460.5 C101.0,458.7 90.8,452.8 82.0,450.0 C73.2,447.2 63.7,444.6 60.0,443.5 Z" fill="#82f8f8" stroke="none"/>
<path d="M60.0,406.9 C61.7,407.0 66.3,409.1 70.0,407.5 C73.7,405.9 77.9,400.5 81.9,397.3 C85.9,394.1 90.7,389.9 93.9,388.3 C97.1,386.7 98.1,387.2 101.1,387.7 C104.1,388.2 108.1,390.1 111.9,391.3 C115.7,392.5 120.4,393.3 123.8,394.9 C127.2,396.5 129.5,400.1 132.2,400.9 C134.9,401.7 136.7,399.8 140.0,399.7 C143.3,399.6 148.0,400.6 152.0,400.3 C156.0,400.0 160.0,399.1 164.0,397.9 C168.0,396.7 172.3,393.8 175.9,393.1 C179.5,392.4 182.5,392.6 185.5,393.7 C188.5,394.8 191.1,397.7 193.9,399.7 C196.7,401.7 199.6,404.1 202.2,405.7 C204.8,407.3 206.4,408.9 209.4,409.3 C212.4,409.7 218.2,408.2 220.0,408.0" fill="none" stroke="#000" stroke-width="0.85"/>
<path d="M60.0,403.3 C61.7,403.1 66.3,403.7 70.0,402.1 C73.7,400.5 77.9,396.6 81.9,393.7 C85.9,390.8 89.9,386.1 93.9,384.8 C97.9,383.5 101.9,385.0 105.9,386.0 C109.9,387.0 113.9,388.9 117.9,390.7 C121.9,392.5 126.1,395.7 129.8,396.7 C133.5,397.7 136.3,397.2 140.0,396.7 C143.7,396.2 148.0,394.7 152.0,393.7 C156.0,392.7 160.0,392.0 164.0,390.7 C168.0,389.4 172.7,387.1 175.9,386.0 C179.1,384.9 180.1,383.5 183.1,384.2 C186.1,384.9 190.1,387.3 193.9,390.1 C197.7,392.9 202.0,398.3 205.8,400.9 C209.6,403.5 214.2,404.8 216.6,405.7 C219.0,406.6 219.4,406.4 220.0,406.5" fill="none" stroke="#000" stroke-width="0.85"/>
<path d="M60.0,398.5 C62.7,397.9 70.3,398.1 76.0,394.9 C81.7,391.7 88.9,381.9 93.9,379.4 C98.9,376.9 101.9,379.1 105.9,380.0 C109.9,380.9 114.3,383.0 117.9,384.8 C121.5,386.6 123.7,389.4 127.4,390.7 C131.1,392.0 135.9,392.6 140.0,392.5 C144.1,392.4 148.0,391.3 152.0,390.1 C156.0,388.9 160.0,386.8 164.0,385.3 C168.0,383.8 172.5,382.2 175.9,381.2 C179.3,380.2 181.3,378.7 184.3,379.4 C187.3,380.1 190.3,382.5 193.9,385.3 C197.5,388.1 201.8,393.3 205.8,396.1 C209.8,398.9 215.4,401.0 217.8,402.1 C220.2,403.2 219.6,402.9 220.0,403.0" fill="none" stroke="#000" stroke-width="0.85"/>
<path d="M60.0,393.7 C63.6,392.1 76.2,387.1 81.9,384.2 C87.6,381.3 89.9,377.9 93.9,376.4 C97.9,374.9 101.9,374.7 105.9,375.2 C109.9,375.7 113.9,378.1 117.9,379.4 C121.9,380.7 126.1,382.5 129.8,383.0 C133.5,383.5 136.3,382.2 140.0,382.4 C143.7,382.6 148.0,384.5 152.0,384.2 C156.0,383.9 160.0,382.0 164.0,380.6 C168.0,379.2 172.5,376.8 175.9,375.8 C179.3,374.8 181.3,374.0 184.3,374.6 C187.3,375.2 190.3,376.8 193.9,379.4 C197.5,382.0 201.8,387.1 205.8,390.1 C209.8,393.1 215.4,396.0 217.8,397.3 C220.2,398.6 219.6,397.9 220.0,398.0" fill="none" stroke="#000" stroke-width="0.85"/>
<path d="M60.0,390.1 C64.7,386.9 81.2,374.3 87.9,371.0 C94.6,367.7 95.9,369.8 99.9,370.4 C103.9,371.0 107.9,373.3 111.9,374.6 C115.9,375.9 119.1,377.8 123.8,378.2 C128.5,378.6 135.3,376.8 140.0,377.0 C144.7,377.2 148.0,379.6 152.0,379.4 C156.0,379.2 160.0,377.2 164.0,375.8 C168.0,374.4 172.5,372.0 175.9,371.0 C179.3,370.0 181.3,369.2 184.3,369.8 C187.3,370.4 190.3,372.0 193.9,374.6 C197.5,377.2 201.8,382.1 205.8,385.3 C209.8,388.5 215.4,392.2 217.8,393.7 C220.2,395.2 219.6,394.4 220.0,394.5" fill="none" stroke="#000" stroke-width="0.85"/>
<path d="M60.0,383.0 C61.7,383.1 64.3,386.0 70.0,383.6 C75.7,381.2 87.9,371.3 93.9,368.6 C99.9,365.9 101.9,366.9 105.9,367.4 C109.9,367.9 113.9,370.8 117.9,371.6 C121.9,372.4 126.1,372.3 129.8,372.2 C133.5,372.1 136.3,370.4 140.0,371.0 C143.7,371.6 148.0,375.8 152.0,375.8 C156.0,375.8 160.0,372.5 164.0,371.0 C168.0,369.5 172.3,367.6 175.9,366.8 C179.5,366.0 182.5,365.7 185.5,366.2 C188.5,366.7 190.5,367.4 193.9,369.8 C197.3,372.2 201.8,377.2 205.8,380.6 C209.8,384.0 215.4,388.4 217.8,390.1 C220.2,391.8 219.6,390.9 220.0,391.0" fill="none" stroke="#000" stroke-width="0.85"/>
<path d="M60.0,378.6 C60.8,378.7 63.3,379.0 65.0,378.9 C66.7,378.8 68.4,378.3 70.0,377.8 C71.6,377.3 73.2,376.6 74.8,376.0 C76.4,375.4 78.0,374.9 79.6,374.2 C81.2,373.6 82.7,372.9 84.3,372.1 C85.9,371.2 87.5,370.2 89.1,369.1 C90.7,368.0 92.4,366.2 93.9,365.3 C95.4,364.4 96.6,364.4 97.9,363.9 C99.2,363.4 100.6,362.8 101.9,362.4 C103.2,362.0 104.6,361.2 105.9,361.2 C107.2,361.2 108.6,361.9 109.9,362.4 C111.2,362.9 112.6,363.5 113.9,364.2 C115.2,364.9 116.2,365.8 117.9,366.5 C119.6,367.2 121.9,367.9 123.9,368.5 C125.8,369.1 128.0,369.8 129.8,370.0 C131.6,370.1 133.2,369.7 134.9,369.5 C136.6,369.3 138.5,368.5 140.0,368.5 C141.5,368.5 142.7,369.3 144.0,369.7 C145.3,370.1 146.7,370.5 148.0,371.0 C149.3,371.4 150.7,372.4 152.0,372.3 C153.3,372.3 154.7,371.1 156.0,370.6 C157.3,370.0 158.7,369.4 160.0,368.9 C161.3,368.4 162.3,368.0 164.0,367.5 C165.7,367.0 168.0,366.6 169.9,366.1 C171.9,365.6 174.1,364.9 175.9,364.6 C177.7,364.2 179.1,364.3 180.7,363.9 C182.3,363.6 184.0,362.7 185.5,362.6 C187.0,362.5 188.3,363.0 189.7,363.3 C191.1,363.5 192.2,363.1 193.9,364.0 C195.6,364.9 197.9,367.0 199.9,368.8 C201.8,370.6 204.1,373.2 205.8,374.9 C207.5,376.6 208.5,377.6 209.8,379.1 C211.1,380.5 212.5,382.2 213.8,383.3 C215.1,384.4 216.8,385.2 217.8,385.7 C218.8,386.2 219.6,386.5 220.0,386.6" fill="none" stroke="#000" stroke-width="0.85"/>
<path d="M60.0,374.2 C60.8,374.3 63.3,374.1 65.0,374.5 C66.7,374.9 68.4,377.0 70.0,376.8 C71.6,376.5 73.2,374.4 74.8,373.0 C76.4,371.7 78.0,370.2 79.6,368.7 C81.2,367.3 82.7,365.8 84.3,364.5 C85.9,363.1 87.5,361.9 89.1,360.8 C90.7,359.8 92.4,358.5 93.9,358.1 C95.4,357.7 96.6,358.4 97.9,358.6 C99.2,358.8 100.6,359.1 101.9,359.3 C103.2,359.6 104.6,359.5 105.9,360.0 C107.2,360.4 108.6,361.4 109.9,362.0 C111.2,362.5 112.6,363.0 113.9,363.3 C115.2,363.7 116.2,364.1 117.9,364.1 C119.6,364.0 121.9,363.2 123.9,363.0 C125.8,362.7 128.0,362.7 129.8,362.6 C131.6,362.6 133.2,362.6 134.9,362.8 C136.6,363.1 138.5,363.3 140.0,364.0 C141.5,364.7 142.7,366.1 144.0,367.1 C145.3,368.1 146.7,369.0 148.0,369.8 C149.3,370.7 150.7,371.9 152.0,372.0 C153.3,372.1 154.7,371.0 156.0,370.3 C157.3,369.6 158.7,368.8 160.0,367.9 C161.3,367.0 162.3,366.2 164.0,365.0 C165.7,363.7 168.0,361.8 169.9,360.5 C171.9,359.1 174.1,357.5 175.9,356.8 C177.7,356.2 179.1,356.5 180.7,356.6 C182.3,356.6 184.0,356.6 185.5,357.2 C187.0,357.8 188.3,359.2 189.7,360.1 C191.1,361.1 192.2,361.4 193.9,362.8 C195.6,364.1 197.9,366.7 199.9,368.3 C201.8,369.9 204.1,371.4 205.8,372.4 C207.5,373.5 208.5,373.7 209.8,374.4 C211.1,375.1 212.5,375.5 213.8,376.6 C215.1,377.8 216.8,380.4 217.8,381.3 C218.8,382.2 219.6,382.1 220.0,382.2" fill="none" stroke="#000" stroke-width="0.85"/>
<path d="M60.0,369.8 C60.8,369.9 63.3,370.2 65.0,370.1 C66.7,370.0 68.4,369.7 70.0,369.3 C71.6,368.8 73.2,368.0 74.8,367.4 C76.4,366.7 78.0,366.2 79.6,365.5 C81.2,364.8 82.7,364.1 84.3,363.2 C85.9,362.4 87.5,361.4 89.1,360.4 C90.7,359.3 92.4,357.6 93.9,356.9 C95.4,356.1 96.6,356.1 97.9,355.6 C99.2,355.2 100.6,354.7 101.9,354.3 C103.2,353.8 104.6,353.1 105.9,353.0 C107.2,352.9 108.6,353.5 109.9,353.8 C111.2,354.2 112.6,354.6 113.9,355.1 C115.2,355.6 116.2,356.3 117.9,356.9 C119.6,357.5 121.9,358.0 123.9,358.7 C125.8,359.4 128.0,360.5 129.8,361.1 C131.6,361.7 133.2,361.9 134.9,362.2 C136.6,362.6 138.5,362.5 140.0,363.0 C141.5,363.5 142.7,364.6 144.0,365.3 C145.3,366.0 146.7,366.6 148.0,367.2 C149.3,367.7 150.7,368.7 152.0,368.5 C153.3,368.3 154.7,367.0 156.0,366.1 C157.3,365.2 158.7,364.2 160.0,363.2 C161.3,362.2 162.3,361.3 164.0,360.2 C165.7,359.1 168.0,357.6 169.9,356.6 C171.9,355.6 174.1,354.6 175.9,354.3 C177.7,354.0 179.1,354.5 180.7,354.5 C182.3,354.6 184.0,354.5 185.5,354.9 C187.0,355.2 188.3,356.3 189.7,356.9 C191.1,357.5 192.2,357.4 193.9,358.4 C195.6,359.4 197.9,361.4 199.9,362.7 C201.8,364.1 204.1,365.6 205.8,366.7 C207.5,367.8 208.5,368.2 209.8,369.1 C211.1,369.9 212.5,370.5 213.8,371.8 C215.1,373.1 216.8,375.9 217.8,376.9 C218.8,377.9 219.6,377.7 220.0,377.8" fill="none" stroke="#000" stroke-width="0.85"/>
<path d="M60.0,365.4 C60.8,365.5 63.3,365.3 65.0,365.7 C66.7,366.1 68.4,368.1 70.0,367.8 C71.6,367.5 73.2,365.3 74.8,364.0 C76.4,362.7 78.0,361.4 79.6,360.0 C81.2,358.7 82.7,357.3 84.3,356.0 C85.9,354.7 87.5,353.4 89.1,352.2 C90.7,351.1 92.4,349.6 93.9,349.0 C95.4,348.4 96.6,348.8 97.9,348.9 C99.2,348.9 100.6,349.0 101.9,349.1 C103.2,349.2 104.6,349.1 105.9,349.5 C107.2,350.0 108.6,351.1 109.9,351.8 C111.2,352.6 112.6,353.4 113.9,354.1 C115.2,354.8 116.2,355.6 117.9,356.1 C119.6,356.5 121.9,356.6 123.9,356.8 C125.8,357.0 128.0,357.2 129.8,357.3 C131.6,357.4 133.2,357.1 134.9,357.2 C136.6,357.3 138.5,357.1 140.0,357.7 C141.5,358.2 142.7,359.5 144.0,360.4 C145.3,361.3 146.7,362.2 148.0,363.0 C149.3,363.8 150.7,365.0 152.0,365.1 C153.3,365.2 154.7,364.0 156.0,363.4 C157.3,362.7 158.7,361.9 160.0,361.2 C161.3,360.4 162.3,359.7 164.0,358.7 C165.7,357.8 168.0,356.6 169.9,355.5 C171.9,354.4 174.1,353.1 175.9,352.4 C177.7,351.7 179.1,351.6 180.7,351.2 C182.3,350.8 184.0,349.9 185.5,349.8 C187.0,349.7 188.3,350.3 189.7,350.6 C191.1,350.8 192.2,350.5 193.9,351.4 C195.6,352.2 197.9,354.2 199.9,355.8 C201.8,357.4 204.1,359.6 205.8,361.1 C207.5,362.5 208.5,363.4 209.8,364.6 C211.1,365.9 212.5,367.2 213.8,368.5 C215.1,369.8 216.8,371.7 217.8,372.5 C218.8,373.3 219.6,373.3 220.0,373.4" fill="none" stroke="#000" stroke-width="0.85"/>
<path d="M60.0,361.0 C60.8,361.1 63.3,360.9 65.0,361.3 C66.7,361.7 68.4,363.5 70.0,363.2 C71.6,362.8 73.2,360.6 74.8,359.3 C76.4,357.9 78.0,356.5 79.6,355.2 C81.2,353.8 82.7,352.4 84.3,351.2 C85.9,349.9 87.5,348.7 89.1,347.6 C90.7,346.6 92.4,345.2 93.9,344.7 C95.4,344.3 96.6,344.8 97.9,344.8 C99.2,344.9 100.6,345.1 101.9,345.3 C103.2,345.4 104.6,345.3 105.9,345.8 C107.2,346.3 108.6,347.4 109.9,348.1 C111.2,348.8 112.6,349.5 113.9,350.1 C115.2,350.8 116.2,351.5 117.9,351.8 C119.6,352.2 121.9,352.0 123.9,352.2 C125.8,352.3 128.0,352.5 129.8,352.6 C131.6,352.7 133.2,352.6 134.9,352.8 C136.6,353.1 138.5,353.3 140.0,354.1 C141.5,354.9 142.7,356.4 144.0,357.5 C145.3,358.6 147.3,360.1 148.0,360.6" fill="none" stroke="#000" stroke-width="0.85"/>
<path d="M156.0,361.4 C156.7,361.1 158.7,360.0 160.0,359.1 C161.3,358.3 162.3,357.5 164.0,356.4 C165.7,355.2 168.0,353.6 169.9,352.2 C171.9,350.8 174.1,349.0 175.9,348.0 C177.7,347.0 179.1,346.6 180.7,346.0 C182.3,345.3 184.0,344.3 185.5,344.1 C187.0,343.9 188.3,344.5 189.7,344.9 C191.1,345.2 192.2,344.9 193.9,346.0 C195.6,347.1 197.9,349.4 199.9,351.3 C201.8,353.2 204.1,355.8 205.8,357.6 C207.5,359.3 208.5,360.3 209.8,361.6 C211.1,363.0 212.5,364.6 213.8,365.7 C215.1,366.8 216.8,367.6 217.8,368.1 C218.8,368.6 219.6,368.9 220.0,369.0" fill="none" stroke="#000" stroke-width="0.85"/>
<path d="M60.0,356.6 C60.8,356.7 63.3,357.1 65.0,356.9 C66.7,356.7 68.4,356.1 70.0,355.4 C71.6,354.6 73.2,353.2 74.8,352.3 C76.4,351.4 78.0,350.7 79.6,350.1 C81.2,349.4 82.7,348.9 84.3,348.4 C85.9,347.8 87.5,347.3 89.1,346.6 C90.7,345.9 92.4,344.7 93.9,344.2 C95.4,343.7 96.6,343.9 97.9,343.6 C99.2,343.3 100.6,342.8 101.9,342.4 C103.2,341.9 104.6,341.1 105.9,340.9 C107.2,340.7 108.6,341.1 109.9,341.3 C111.2,341.5 112.6,341.7 113.9,342.1 C115.2,342.5 116.2,343.0 117.9,343.6 C119.6,344.2 121.9,344.7 123.9,345.6 C125.8,346.5 128.0,348.1 129.8,349.1 C131.6,350.0 133.2,350.7 134.9,351.5 C136.6,352.2 138.5,352.7 140.0,353.6 C141.5,354.5 142.7,355.8 144.0,356.8 C145.3,357.7 147.3,358.8 148.0,359.3" fill="none" stroke="#000" stroke-width="0.85"/>
<path d="M156.0,358.1 C156.7,357.6 158.7,355.9 160.0,354.7 C161.3,353.5 162.3,352.4 164.0,351.1 C165.7,349.7 168.0,348.0 169.9,346.7 C171.9,345.5 174.1,344.4 175.9,343.7 C177.7,343.1 179.1,343.3 180.7,343.0 C182.3,342.6 184.0,341.9 185.5,341.8 C187.0,341.7 188.3,342.3 189.7,342.5 C191.1,342.7 192.2,342.2 193.9,343.0 C195.6,343.8 197.9,345.5 199.9,347.0 C201.8,348.6 204.1,350.8 205.8,352.3 C207.5,353.9 208.5,354.9 209.8,356.2 C211.1,357.6 212.5,359.2 213.8,360.5 C215.1,361.7 216.8,363.0 217.8,363.7 C218.8,364.4 219.6,364.5 220.0,364.6" fill="none" stroke="#000" stroke-width="0.85"/>
<path d="M60.0,352.2 C60.8,352.3 63.3,352.4 65.0,352.5 C66.7,352.6 68.4,353.2 70.0,352.6 C71.6,352.0 73.2,350.0 74.8,348.7 C76.4,347.5 78.0,346.2 79.6,345.1 C81.2,343.9 82.7,342.8 84.3,341.8 C85.9,340.8 87.5,339.8 89.1,339.0 C90.7,338.1 92.4,336.9 93.9,336.5 C95.4,336.1 96.6,336.7 97.9,336.8 C99.2,336.9 100.6,337.0 101.9,337.1 C103.2,337.3 104.6,337.1 105.9,337.5 C107.2,337.9 108.6,338.9 109.9,339.6 C111.2,340.2 112.6,340.8 113.9,341.4 C115.2,342.0 116.2,342.8 117.9,343.2 C119.6,343.6 121.9,343.5 123.9,343.8 C125.8,344.1 128.0,344.6 129.8,345.0 C131.6,345.4 133.2,345.6 134.9,346.2 C136.6,346.7 138.5,347.2 140.0,348.2 C141.5,349.2 143.3,351.4 144.0,352.1" fill="none" stroke="#000" stroke-width="0.85"/>
<path d="M160.0,352.5 C160.7,351.9 162.3,350.3 164.0,348.9 C165.7,347.5 168.0,345.4 169.9,343.9 C171.9,342.5 174.1,340.8 175.9,340.0 C177.7,339.1 179.1,339.1 180.7,338.7 C182.3,338.3 184.0,337.6 185.5,337.7 C187.0,337.7 188.3,338.4 189.7,338.7 C191.1,339.1 192.2,338.9 193.9,339.8 C195.6,340.6 197.9,342.5 199.9,344.0 C201.8,345.4 204.1,347.2 205.8,348.4 C207.5,349.5 208.5,350.1 209.8,351.1 C211.1,352.1 212.5,352.8 213.8,354.1 C215.1,355.5 216.8,358.3 217.8,359.3 C218.8,360.3 219.6,360.1 220.0,360.2" fill="none" stroke="#000" stroke-width="0.85"/>
<path d="M60.0,347.8 C60.8,347.9 63.3,348.2 65.0,348.1 C66.7,348.0 68.4,347.9 70.0,347.1 C71.6,346.4 73.2,344.6 74.8,343.5 C76.4,342.4 78.0,341.4 79.6,340.5 C81.2,339.7 82.7,339.0 84.3,338.4 C85.9,337.7 87.5,337.2 89.1,336.6 C90.7,336.0 92.4,335.0 93.9,334.7 C95.4,334.4 96.6,334.9 97.9,334.9 C99.2,334.9 100.6,334.8 101.9,334.6 C103.2,334.4 104.6,333.7 105.9,333.7 C107.2,333.6 108.6,334.1 109.9,334.2 C111.2,334.4 112.6,334.5 113.9,334.7 C115.2,334.9 116.2,335.2 117.9,335.4 C119.6,335.7 121.9,335.5 123.9,336.2 C125.8,336.8 128.0,338.1 129.8,339.2 C131.6,340.3 133.2,341.4 134.9,342.7 C136.6,343.9 138.5,345.3 140.0,346.7 C141.5,348.2 143.3,350.7 144.0,351.5" fill="none" stroke="#000" stroke-width="0.85"/>
<path d="M160.0,350.3 C160.7,349.4 162.3,347.2 164.0,345.1 C165.7,343.0 168.0,340.0 169.9,337.9 C171.9,335.9 174.1,333.8 175.9,332.9 C177.7,331.9 179.1,332.1 180.7,332.0 C182.3,331.9 184.0,331.8 185.5,332.2 C187.0,332.6 188.3,333.8 189.7,334.6 C191.1,335.3 192.2,335.5 193.9,336.7 C195.6,337.8 197.9,340.1 199.9,341.5 C201.8,343.0 204.1,344.5 205.8,345.5 C207.5,346.6 208.5,346.9 209.8,347.7 C211.1,348.4 212.5,348.9 213.8,350.1 C215.1,351.3 216.8,353.9 217.8,354.9 C218.8,355.9 219.6,355.7 220.0,355.8" fill="none" stroke="#000" stroke-width="0.85"/>
<path d="M60.0,343.4 C60.8,343.5 63.3,343.9 65.0,343.7 C66.7,343.5 68.4,343.1 70.0,342.3 C71.6,341.5 73.2,340.0 74.8,339.0 C76.4,338.0 78.0,337.0 79.6,336.1 C81.2,335.2 82.7,334.4 84.3,333.6 C85.9,332.8 87.5,332.1 89.1,331.3 C90.7,330.6 92.4,329.5 93.9,329.2 C95.4,328.9 96.6,329.4 97.9,329.5 C99.2,329.6 100.6,329.7 101.9,329.7 C103.2,329.7 104.6,329.4 105.9,329.7 C107.2,330.0 108.6,330.8 109.9,331.3 C111.2,331.8 112.6,332.2 113.9,332.6 C115.2,333.1 116.2,333.6 117.9,333.9 C119.6,334.2 121.9,334.0 123.9,334.3 C125.8,334.7 128.0,335.4 129.8,336.0 C131.6,336.6 133.2,337.2 134.9,338.1 C136.6,339.0 139.2,340.9 140.0,341.5" fill="none" stroke="#000" stroke-width="0.85"/>
<path d="M160.0,347.6 C160.7,346.9 162.3,345.0 164.0,343.3 C165.7,341.5 168.0,339.0 169.9,337.2 C171.9,335.3 174.1,333.3 175.9,332.1 C177.7,330.9 179.1,330.7 180.7,330.1 C182.3,329.6 184.0,328.7 185.5,328.6 C187.0,328.5 188.3,329.2 189.7,329.4 C191.1,329.7 192.2,329.5 193.9,330.4 C195.6,331.2 197.9,333.1 199.9,334.6 C201.8,336.1 204.1,338.0 205.8,339.3 C207.5,340.5 208.5,341.2 209.8,342.2 C211.1,343.2 212.5,344.0 213.8,345.4 C215.1,346.8 216.8,349.5 217.8,350.5 C218.8,351.5 219.6,351.3 220.0,351.4" fill="none" stroke="#000" stroke-width="0.85"/>
<path d="M60.0,339.0 C60.8,339.1 63.3,339.4 65.0,339.3 C66.7,339.2 68.4,339.1 70.0,338.7 C71.6,338.2 73.2,337.4 74.8,336.8 C76.4,336.1 78.0,335.5 79.6,334.8 C81.2,334.1 82.7,333.4 84.3,332.5 C85.9,331.6 87.5,330.6 89.1,329.5 C90.7,328.5 92.4,326.8 93.9,326.0 C95.4,325.2 96.6,325.2 97.9,324.7 C99.2,324.3 100.6,323.8 101.9,323.4 C103.2,322.9 104.6,322.2 105.9,322.1 C107.2,322.1 108.6,322.7 109.9,323.0 C111.2,323.4 112.6,323.9 113.9,324.4 C115.2,325.0 116.2,325.7 117.9,326.5 C119.6,327.3 121.9,328.0 123.9,329.1 C125.8,330.2 128.0,332.0 129.8,333.3 C131.6,334.6 133.2,335.8 134.9,337.1 C136.6,338.4 139.2,340.4 140.0,341.1" fill="none" stroke="#000" stroke-width="0.85"/>
<path d="M164.0,338.3 C165.0,337.0 168.0,332.9 169.9,330.8 C171.9,328.7 174.1,326.7 175.9,325.7 C177.7,324.7 179.1,324.9 180.7,324.6 C182.3,324.4 184.0,324.1 185.5,324.3 C187.0,324.6 188.3,325.6 189.7,326.2 C191.1,326.8 192.2,326.8 193.9,327.8 C195.6,328.8 197.9,330.8 199.9,332.2 C201.8,333.6 204.1,335.2 205.8,336.2 C207.5,337.3 208.5,337.7 209.8,338.5 C211.1,339.3 212.5,339.8 213.8,341.1 C215.1,342.4 216.8,345.1 217.8,346.1 C218.8,347.1 219.6,346.9 220.0,347.0" fill="none" stroke="#000" stroke-width="0.85"/>
<path d="M60.0,334.6 C60.8,334.7 63.3,335.1 65.0,334.9 C66.7,334.7 68.4,334.5 70.0,333.7 C71.6,332.9 73.2,331.2 74.8,330.2 C76.4,329.2 78.0,328.4 79.6,327.7 C81.2,327.0 82.7,326.5 84.3,325.9 C85.9,325.3 87.5,324.9 89.1,324.3 C90.7,323.6 92.4,322.5 93.9,322.1 C95.4,321.7 96.6,322.0 97.9,321.7 C99.2,321.5 100.6,321.1 101.9,320.7 C103.2,320.2 104.6,319.4 105.9,319.2 C107.2,319.0 108.6,319.3 109.9,319.5 C111.2,319.7 112.6,319.9 113.9,320.3 C115.2,320.7 116.2,321.2 117.9,321.8 C119.6,322.5 121.9,323.2 123.9,324.4 C125.8,325.6 128.0,327.6 129.8,329.2 C131.6,330.7 133.2,332.0 134.9,333.5 C136.6,335.0 139.2,337.2 140.0,337.9" fill="none" stroke="#000" stroke-width="0.85"/>
<path d="M169.9,328.6 C170.9,327.8 174.1,324.8 175.9,323.6 C177.7,322.5 179.1,322.4 180.7,321.7 C182.3,321.1 184.0,320.1 185.5,319.9 C187.0,319.6 188.3,320.1 189.7,320.2 C191.1,320.3 192.2,319.8 193.9,320.6 C195.6,321.4 197.9,323.2 199.9,324.9 C201.8,326.5 204.1,329.0 205.8,330.6 C207.5,332.3 208.5,333.4 209.8,334.8 C211.1,336.2 212.5,338.0 213.8,339.1 C215.1,340.3 216.8,341.1 217.8,341.7 C218.8,342.3 219.6,342.5 220.0,342.6" fill="none" stroke="#000" stroke-width="0.85"/>
<path d="M60.0,330.2 C60.8,330.3 63.3,330.1 65.0,330.5 C66.7,330.9 68.4,333.0 70.0,332.7 C71.6,332.5 73.2,330.4 74.8,329.1 C76.4,327.9 78.0,326.4 79.6,325.0 C81.2,323.7 82.7,322.2 84.3,320.9 C85.9,319.5 87.5,318.2 89.1,317.0 C90.7,315.8 92.4,314.4 93.9,313.8 C95.4,313.3 96.6,313.8 97.9,313.8 C99.2,313.9 100.6,314.1 101.9,314.2 C103.2,314.4 104.6,314.4 105.9,314.9 C107.2,315.4 108.6,316.5 109.9,317.3 C111.2,318.0 112.6,318.8 113.9,319.5 C115.2,320.2 116.2,320.9 117.9,321.4 C119.6,321.9 121.9,321.9 123.9,322.4 C125.8,323.0 128.0,323.7 129.8,324.5 C131.6,325.4 134.1,326.9 134.9,327.4" fill="none" stroke="#000" stroke-width="0.85"/>
<path d="M169.9,326.4 C170.9,325.1 174.1,320.6 175.9,318.7 C177.7,316.8 179.1,316.1 180.7,315.0 C182.3,314.0 184.0,312.9 185.5,312.6 C187.0,312.4 188.3,313.1 189.7,313.5 C191.1,314.0 192.2,313.9 193.9,315.3 C195.6,316.6 197.9,319.4 199.9,321.6 C201.8,323.8 204.1,326.7 205.8,328.5 C207.5,330.3 208.5,331.2 209.8,332.5 C211.1,333.8 212.5,335.3 213.8,336.1 C215.1,336.9 216.8,336.9 217.8,337.3 C218.8,337.7 219.6,338.1 220.0,338.2" fill="none" stroke="#000" stroke-width="0.85"/>
<path d="M60.0,325.8 C60.8,325.9 63.3,326.3 65.0,326.1 C66.7,325.9 68.4,325.2 70.0,324.4 C71.6,323.7 73.2,322.5 74.8,321.7 C76.4,320.9 78.0,320.3 79.6,319.7 C81.2,319.1 82.7,318.7 84.3,318.1 C85.9,317.5 87.5,316.9 89.1,316.1 C90.7,315.3 92.4,314.0 93.9,313.4 C95.4,312.8 96.6,312.9 97.9,312.5 C99.2,312.2 100.6,311.7 101.9,311.2 C103.2,310.7 104.6,309.9 105.9,309.7 C107.2,309.6 108.6,310.0 109.9,310.2 C111.2,310.5 112.6,310.8 113.9,311.3 C115.2,311.8 116.2,312.5 117.9,313.3 C119.6,314.1 121.9,314.9 123.9,316.3 C125.8,317.7 128.0,319.8 129.8,321.5 C131.6,323.2 134.1,325.6 134.9,326.4" fill="none" stroke="#000" stroke-width="0.85"/>
<path d="M175.9,315.3 C176.7,315.0 179.1,313.9 180.7,313.2 C182.3,312.6 184.0,311.7 185.5,311.4 C187.0,311.2 188.3,311.7 189.7,311.9 C191.1,312.0 192.2,311.6 193.9,312.3 C195.6,313.0 197.9,314.7 199.9,316.3 C201.8,317.8 204.1,320.0 205.8,321.5 C207.5,323.0 208.5,324.0 209.8,325.3 C211.1,326.7 212.5,328.3 213.8,329.5 C215.1,330.8 216.8,332.2 217.8,332.9 C218.8,333.6 219.6,333.7 220.0,333.8" fill="none" stroke="#000" stroke-width="0.85"/>
<path d="M60.0,321.4 C60.8,321.5 63.3,321.4 65.0,321.7 C66.7,322.0 68.4,323.5 70.0,323.1 C71.6,322.7 73.2,320.6 74.8,319.3 C76.4,318.0 78.0,316.6 79.6,315.3 C81.2,314.1 82.7,312.8 84.3,311.6 C85.9,310.4 87.5,309.2 89.1,308.1 C90.7,307.0 92.4,305.6 93.9,305.0 C95.4,304.5 96.6,304.9 97.9,304.9 C99.2,304.9 100.6,305.0 101.9,305.1 C103.2,305.1 104.6,305.0 105.9,305.4 C107.2,305.8 108.6,306.9 109.9,307.7 C111.2,308.4 112.6,309.2 113.9,310.0 C115.2,310.8 116.2,311.6 117.9,312.4 C119.6,313.2 121.9,313.7 123.9,314.6 C125.8,315.6 128.8,317.6 129.8,318.2" fill="none" stroke="#000" stroke-width="0.85"/>
<path d="M175.9,310.6 C176.7,310.3 179.1,309.1 180.7,308.5 C182.3,308.0 184.0,307.4 185.5,307.4 C187.0,307.4 188.3,308.3 189.7,308.7 C191.1,309.1 192.2,309.0 193.9,310.0 C195.6,310.9 197.9,313.0 199.9,314.4 C201.8,315.9 204.1,317.5 205.8,318.7 C207.5,319.8 208.5,320.2 209.8,321.1 C211.1,321.9 212.5,322.5 213.8,323.7 C215.1,324.9 216.8,327.5 217.8,328.5 C218.8,329.5 219.6,329.3 220.0,329.4" fill="none" stroke="#000" stroke-width="0.85"/>
<path d="M60.0,317.0 C60.8,317.1 63.3,317.0 65.0,317.3 C66.7,317.6 68.4,319.2 70.0,318.7 C71.6,318.3 73.2,316.1 74.8,314.8 C76.4,313.4 78.0,312.1 79.6,310.8 C81.2,309.5 82.7,308.2 84.3,307.0 C85.9,305.8 87.5,304.6 89.1,303.6 C90.7,302.6 92.4,301.2 93.9,300.8 C95.4,300.3 96.6,300.8 97.9,300.9 C99.2,301.0 100.6,301.2 101.9,301.3 C103.2,301.5 104.6,301.3 105.9,301.8 C107.2,302.3 108.6,303.3 109.9,304.1 C111.2,304.8 112.6,305.6 113.9,306.3 C115.2,307.0 116.2,307.8 117.9,308.4 C119.6,309.0 122.9,309.8 123.9,310.1" fill="none" stroke="#000" stroke-width="0.85"/>
<path d="M180.7,304.5 C181.5,304.1 184.0,302.4 185.5,302.1 C187.0,301.8 188.3,302.3 189.7,302.5 C191.1,302.6 192.2,302.3 193.9,303.1 C195.6,304.0 197.9,305.9 199.9,307.5 C201.8,309.1 204.1,311.2 205.8,312.6 C207.5,314.1 208.5,314.9 209.8,316.1 C211.1,317.3 212.5,318.6 213.8,319.9 C215.1,321.2 216.8,323.2 217.8,324.1 C218.8,325.0 219.6,324.9 220.0,325.0" fill="none" stroke="#000" stroke-width="0.85"/>
<path d="M60.0,381.6 C60.8,381.2 63.1,379.9 64.7,378.8 C66.2,377.7 67.8,376.3 69.3,375.1 C70.8,373.8 72.4,372.7 74.0,371.5 C75.5,370.4 77.0,369.4 78.6,368.4 C80.1,367.4 81.7,366.5 83.2,365.7 C84.8,364.8 86.5,363.6 87.9,363.4 C89.3,363.1 90.6,363.9 91.9,364.2 C93.2,364.4 94.6,364.8 95.9,365.1 C97.2,365.4 98.6,365.4 99.9,366.0 C101.2,366.5 102.6,367.6 103.9,368.3 C105.2,369.1 106.6,369.8 107.9,370.4 C109.2,371.1 110.2,371.6 111.9,372.2 C113.6,372.8 115.9,373.5 117.8,374.0 C119.8,374.5 122.1,375.2 123.8,375.3 C125.5,375.4 126.5,374.8 127.8,374.6 C129.2,374.3 130.6,374.1 131.9,373.9 C133.2,373.8 134.6,373.6 135.9,373.5 C137.3,373.5 138.7,373.2 140.0,373.5 C141.3,373.7 142.7,374.3 144.0,374.8 C145.3,375.3 146.7,375.8 148.0,376.4 C149.3,377.0 150.7,377.9 152.0,378.2 C153.3,378.4 154.7,378.1 156.0,378.0 C157.3,378.0 158.7,377.9 160.0,377.8 C161.3,377.7 162.3,377.8 164.0,377.4 C165.7,377.1 168.0,376.5 169.9,375.9 C171.9,375.2 174.2,374.1 175.9,373.6 C177.6,373.1 178.7,373.1 180.1,372.8 C181.5,372.5 182.8,371.7 184.3,371.8 C185.8,371.9 187.5,373.0 189.1,373.6 C190.7,374.2 192.1,374.3 193.9,375.4 C195.7,376.6 197.9,378.7 199.9,380.5 C201.8,382.4 204.1,384.8 205.8,386.3 C207.5,387.9 208.5,388.6 209.8,389.8 C211.1,391.0 212.5,392.3 213.8,393.6 C215.1,394.9 216.8,396.8 217.8,397.6 C218.8,398.4 219.6,398.4 220.0,398.6" fill="none" stroke="#000" stroke-width="0.85"/>
<path d="M60.0,376.4 C60.8,375.9 63.1,374.2 64.7,373.6 C66.2,373.0 67.8,373.4 69.3,372.8 C70.8,372.2 72.4,370.9 74.0,369.8 C75.5,368.7 77.0,367.4 78.6,366.2 C80.1,364.9 81.7,363.5 83.2,362.2 C84.8,361.0 86.5,359.1 87.9,358.4 C89.3,357.7 90.6,358.1 91.9,358.0 C93.2,358.0 94.6,358.0 95.9,358.1 C97.2,358.2 98.6,358.1 99.9,358.6 C101.2,359.2 102.6,360.3 103.9,361.2 C105.2,362.1 106.6,363.0 107.9,363.9 C109.2,364.8 110.2,365.6 111.9,366.6 C113.6,367.6 115.9,368.9 117.8,369.9 C119.8,370.8 122.1,371.8 123.8,372.1 C125.5,372.5 126.5,371.9 127.8,371.7 C129.2,371.6 130.6,371.4 131.9,371.2 C133.2,371.0 134.6,370.8 135.9,370.8 C137.3,370.7 138.7,370.4 140.0,370.6 C141.3,370.8 142.7,371.5 144.0,372.0 C145.3,372.5 146.7,373.1 148.0,373.7 C149.3,374.3 150.7,375.3 152.0,375.6 C153.3,376.0 154.7,375.6 156.0,375.6 C157.3,375.5 158.7,375.5 160.0,375.3 C161.3,375.2 162.3,375.2 164.0,374.8 C165.7,374.3 168.0,373.4 169.9,372.6 C171.9,371.7 174.2,370.3 175.9,369.5 C177.6,368.8 178.7,368.6 180.1,368.1 C181.5,367.7 182.8,366.7 184.3,366.7 C185.8,366.8 187.5,367.8 189.1,368.5 C190.7,369.2 192.1,369.4 193.9,370.8 C195.7,372.3 197.9,374.9 199.9,377.1 C201.8,379.4 204.1,382.4 205.8,384.3 C207.5,386.1 208.5,387.1 209.8,388.4 C211.1,389.8 212.5,391.5 213.8,392.4 C215.1,393.3 216.8,393.6 217.8,394.1 C218.8,394.5 219.6,394.9 220.0,395.0" fill="none" stroke="#000" stroke-width="0.85"/>
<path d="M60.0,374.4 C60.8,373.9 63.1,372.1 64.7,371.5 C66.2,370.8 67.8,371.3 69.3,370.6 C70.8,369.8 72.4,368.4 74.0,367.1 C75.5,365.9 77.0,364.5 78.6,363.2 C80.1,361.8 81.7,360.4 83.2,359.0 C84.8,357.7 86.5,355.9 87.9,355.2 C89.3,354.5 90.6,355.0 91.9,355.0 C93.2,355.0 94.6,355.1 95.9,355.3 C97.2,355.5 98.6,355.5 99.9,356.1 C101.2,356.7 102.6,357.9 103.9,358.8 C105.2,359.6 106.6,360.6 107.9,361.4 C109.2,362.2 110.2,363.0 111.9,363.8 C113.6,364.6 115.9,365.5 117.8,366.1 C119.8,366.7 122.1,367.4 123.8,367.5 C125.5,367.6 126.5,367.0 127.8,366.8 C129.2,366.6 130.6,366.4 131.9,366.3 C133.2,366.3 134.6,366.3 135.9,366.4 C137.3,366.6 138.7,366.7 140.0,367.2 C141.3,367.7 142.7,368.7 144.0,369.6 C145.3,370.4 146.7,371.3 148.0,372.1 C149.3,372.9 150.7,374.1 152.0,374.4 C153.3,374.8 154.7,374.4 156.0,374.2 C157.3,374.0 158.7,373.6 160.0,373.1 C161.3,372.7 162.3,372.4 164.0,371.3 C165.7,370.3 168.0,368.5 169.9,367.0 C171.9,365.6 174.2,363.5 175.9,362.5 C177.6,361.4 178.7,361.2 180.1,360.7 C181.5,360.3 182.8,359.4 184.3,359.6 C185.8,359.9 187.5,361.3 189.1,362.4 C190.7,363.4 192.1,364.1 193.9,365.9 C195.7,367.7 197.9,370.7 199.9,373.1 C201.8,375.4 204.1,378.3 205.8,380.0 C207.5,381.7 208.5,382.2 209.8,383.2 C211.1,384.2 212.5,385.2 213.8,385.9 C215.1,386.6 216.8,386.9 217.8,387.3 C218.8,387.7 219.6,388.1 220.0,388.2" fill="none" stroke="#000" stroke-width="0.85"/>
<path d="M60.0,381.7 C60.8,381.1 63.1,379.3 64.7,378.1 C66.2,376.9 67.8,375.8 69.3,374.5 C70.8,373.1 72.4,371.5 74.0,370.1 C75.5,368.7 77.0,367.2 78.6,365.9 C80.1,364.5 81.7,363.1 83.2,361.8 C84.8,360.6 86.5,358.8 87.9,358.1 C89.3,357.5 90.6,357.9 91.9,357.8 C93.2,357.7 94.6,357.6 95.9,357.6 C97.2,357.6 98.6,357.3 99.9,357.6 C101.2,357.9 102.6,358.8 103.9,359.3 C105.2,359.9 106.6,360.5 107.9,361.1 C109.2,361.7 110.2,362.2 111.9,362.8 C113.6,363.4 115.9,364.2 117.8,364.9 C119.8,365.6 122.1,366.5 123.8,366.8 C125.5,367.1 126.5,366.6 127.8,366.5 C129.2,366.5 130.6,366.4 131.9,366.3 C133.2,366.3 134.6,366.3 135.9,366.3 C137.3,366.2 138.7,366.1 140.0,366.2 C141.3,366.4 142.7,367.0 144.0,367.2 C145.3,367.5 146.7,367.8 148.0,368.0 C149.3,368.1 150.7,368.6 152.0,368.3 C153.3,367.9 154.7,366.9 156.0,366.1 C157.3,365.3 158.7,364.4 160.0,363.5 C161.3,362.7 162.3,362.1 164.0,360.9 C165.7,359.8 168.0,358.0 169.9,356.8 C171.9,355.5 174.2,354.1 175.9,353.4 C177.6,352.8 178.7,352.9 180.1,352.6 C181.5,352.4 182.8,351.7 184.3,352.0 C185.8,352.3 187.5,353.6 189.1,354.3 C190.7,355.1 192.1,355.4 193.9,356.5 C195.7,357.7 197.9,359.7 199.9,361.2 C201.8,362.6 204.1,364.4 205.8,365.4 C207.5,366.4 208.5,366.6 209.8,367.2 C211.1,367.8 212.5,368.2 213.8,368.9 C215.1,369.7 216.8,371.0 217.8,371.5 C218.8,372.0 219.6,372.0 220.0,372.1" fill="none" stroke="#000" stroke-width="0.85"/>
<path d="M60.0,377.4 C60.8,376.8 63.1,375.2 64.7,373.8 C66.2,372.4 67.8,370.7 69.3,369.2 C70.8,367.7 72.4,366.3 74.0,364.9 C75.5,363.5 77.0,362.2 78.6,361.0 C80.1,359.8 81.7,358.7 83.2,357.7 C84.8,356.6 86.5,355.2 87.9,354.7 C89.3,354.3 90.6,354.9 91.9,355.0 C93.2,355.1 94.6,355.2 95.9,355.3 C97.2,355.3 98.6,355.2 99.9,355.5 C101.2,355.8 102.6,356.6 103.9,357.0 C105.2,357.5 106.6,357.9 107.9,358.3 C109.2,358.6 110.2,358.9 111.9,359.2 C113.6,359.4 115.9,359.6 117.8,359.8 C119.8,360.0 122.1,360.4 123.8,360.3 C125.5,360.3 126.5,359.7 127.8,359.6 C129.2,359.4 130.6,359.3 131.9,359.4 C133.2,359.4 134.6,359.6 135.9,359.9 C137.3,360.2 138.7,360.4 140.0,361.0 C141.3,361.6 142.7,362.7 144.0,363.5 C145.3,364.3 146.7,365.1 148.0,365.8 C149.3,366.5 150.7,367.4 152.0,367.5 C153.3,367.6 154.7,366.9 156.0,366.4 C157.3,365.8 158.7,365.1 160.0,364.3 C161.3,363.5 162.3,362.9 164.0,361.5 C165.7,360.2 168.0,357.9 169.9,356.1 C171.9,354.2 174.2,351.9 175.9,350.5 C177.6,349.2 178.7,348.8 180.1,347.9 C181.5,347.1 182.8,345.9 184.3,345.7 C185.8,345.4 187.5,346.2 189.1,346.6 C190.7,347.0 192.1,347.0 193.9,348.1 C195.7,349.1 197.9,351.3 199.9,353.1 C201.8,354.9 204.1,357.3 205.8,358.8 C207.5,360.3 208.5,361.0 209.8,362.1 C211.1,363.2 212.5,364.6 213.8,365.4 C215.1,366.2 216.8,366.6 217.8,367.0 C218.8,367.3 219.6,367.5 220.0,367.6" fill="none" stroke="#000" stroke-width="0.85"/>
<path d="M60.0,370.9 C60.8,370.3 63.1,368.3 64.7,367.4 C66.2,366.5 67.8,366.6 69.3,365.6 C70.8,364.6 72.4,362.7 74.0,361.2 C75.5,359.6 77.0,358.0 78.6,356.5 C80.1,354.9 81.7,353.3 83.2,351.9 C84.8,350.5 86.5,348.7 87.9,348.0 C89.3,347.3 90.6,347.8 91.9,347.8 C93.2,347.8 94.6,348.0 95.9,348.1 C97.2,348.3 98.6,348.3 99.9,348.7 C101.2,349.2 102.6,350.3 103.9,350.9 C105.2,351.6 106.6,352.3 107.9,352.8 C109.2,353.4 110.2,353.8 111.9,354.2 C113.6,354.6 115.9,354.9 117.8,355.1 C119.8,355.3 122.1,355.7 123.8,355.6 C125.5,355.6 126.5,355.0 127.8,355.0 C129.2,354.9 130.6,354.9 131.9,355.1 C133.2,355.4 134.6,355.8 135.9,356.3 C137.3,356.9 138.7,357.5 140.0,358.4 C141.3,359.3 142.7,360.8 144.0,361.8 C145.3,362.9 146.7,364.1 148.0,364.9 C149.3,365.7 150.7,366.8 152.0,366.9 C153.3,366.9 154.7,366.1 156.0,365.4 C157.3,364.6 158.7,363.5 160.0,362.4 C161.3,361.2 162.3,360.2 164.0,358.3 C165.7,356.4 168.0,353.3 169.9,351.0 C171.9,348.8 174.2,346.2 175.9,344.8 C177.6,343.4 178.7,343.2 180.1,342.7 C181.5,342.1 182.8,341.3 184.3,341.6 C185.8,341.9 187.5,343.4 189.1,344.4 C190.7,345.5 192.1,346.2 193.9,347.7 C195.7,349.3 197.9,352.0 199.9,353.9 C201.8,355.7 204.1,357.7 205.8,358.9 C207.5,360.1 208.5,360.2 209.8,360.8 C211.1,361.4 212.5,361.7 213.8,362.4 C215.1,363.0 216.8,364.2 217.8,364.7 C218.8,365.2 219.6,365.2 220.0,365.3" fill="none" stroke="#000" stroke-width="0.85"/>
<path d="M60.0,355.9 C60.8,355.4 63.1,354.3 64.7,353.0 C66.2,351.7 67.8,349.4 69.3,348.2 C70.8,347.0 72.4,346.6 74.0,346.0 C75.5,345.4 77.0,344.9 78.6,344.3 C80.1,343.8 81.7,343.3 83.2,342.7 C84.8,342.1 86.5,341.0 87.9,340.6 C89.3,340.3 90.6,340.8 91.9,340.8 C93.2,340.7 94.6,340.5 95.9,340.3 C97.2,340.1 98.6,339.5 99.9,339.4 C101.2,339.4 102.6,339.8 103.9,340.0 C105.2,340.2 106.6,340.4 107.9,340.8 C109.2,341.2 110.2,341.4 111.9,342.1 C113.6,342.8 115.9,343.9 117.8,345.1 C119.8,346.3 122.1,348.4 123.8,349.5 C125.5,350.6 126.5,350.9 127.8,351.6 C129.2,352.3 130.6,353.2 131.9,353.9 C133.2,354.7 134.6,355.5 135.9,356.2 C137.3,356.9 138.7,357.5 140.0,358.2 C141.3,359.0 142.7,360.0 144.0,360.7 C145.3,361.4 147.3,362.1 148.0,362.4" fill="none" stroke="#000" stroke-width="0.85"/>
<path d="M156.0,361.0 C156.7,360.6 158.7,359.3 160.0,358.5 C161.3,357.6 162.3,357.0 164.0,355.9 C165.7,354.8 168.0,353.2 169.9,352.0 C171.9,350.8 174.2,349.5 175.9,348.8 C177.6,348.1 178.7,348.1 180.1,347.7 C181.5,347.4 182.8,346.5 184.3,346.5 C185.8,346.5 187.5,347.4 189.1,347.8 C190.7,348.3 192.1,348.2 193.9,349.1 C195.7,350.1 197.9,352.0 199.9,353.7 C201.8,355.4 204.1,357.9 205.8,359.5 C207.5,361.1 208.5,362.0 209.8,363.4 C211.1,364.7 212.5,366.3 213.8,367.5 C215.1,368.7 216.8,369.9 217.8,370.6 C218.8,371.2 219.6,371.4 220.0,371.5" fill="none" stroke="#000" stroke-width="0.85"/>
<path d="M60.0,364.3 C60.8,363.7 63.1,362.0 64.7,360.7 C66.2,359.4 67.8,357.8 69.3,356.8 C70.8,355.7 72.4,355.2 74.0,354.3 C75.5,353.4 77.0,352.6 78.6,351.6 C80.1,350.6 81.7,349.5 83.2,348.3 C84.8,347.1 86.5,345.2 87.9,344.3 C89.3,343.5 90.6,343.5 91.9,343.0 C93.2,342.6 94.6,342.0 95.9,341.5 C97.2,341.0 98.6,340.2 99.9,340.0 C101.2,339.8 102.6,340.2 103.9,340.3 C105.2,340.5 106.6,340.8 107.9,341.1 C109.2,341.5 110.2,341.8 111.9,342.4 C113.6,343.1 115.9,344.0 117.8,345.1 C119.8,346.1 122.1,347.9 123.8,348.7 C125.5,349.5 126.5,349.5 127.8,350.0 C129.2,350.5 130.6,351.0 131.9,351.6 C133.2,352.1 134.6,352.7 135.9,353.3 C137.3,353.8 138.7,354.2 140.0,354.9 C141.3,355.5 142.7,356.5 144.0,357.1 C145.3,357.7 147.3,358.2 148.0,358.5" fill="none" stroke="#000" stroke-width="0.85"/>
<path d="M156.0,356.0 C156.7,355.4 158.7,353.7 160.0,352.4 C161.3,351.2 162.3,350.2 164.0,348.6 C165.7,347.1 168.0,344.7 169.9,343.0 C171.9,341.3 174.2,339.5 175.9,338.5 C177.6,337.5 178.7,337.4 180.1,336.9 C181.5,336.4 182.8,335.5 184.3,335.4 C185.8,335.3 187.5,336.2 189.1,336.5 C190.7,336.8 192.1,336.6 193.9,337.3 C195.7,338.0 197.9,339.4 199.9,340.6 C201.8,341.8 204.1,343.5 205.8,344.5 C207.5,345.5 208.5,346.0 209.8,346.8 C211.1,347.7 212.5,348.5 213.8,349.7 C215.1,350.8 216.8,352.9 217.8,353.7 C218.8,354.5 219.6,354.2 220.0,354.3" fill="none" stroke="#000" stroke-width="0.85"/>
<path d="M60.0,335.0 C60.5,334.9 62.0,334.7 63.0,334.5 C64.0,334.3 65.0,334.1 66.0,333.8 C67.0,333.5 68.0,333.2 69.0,332.9 C70.0,332.6 71.0,332.2 72.0,331.8 C73.0,331.4 74.0,331.0 75.0,330.5 C76.0,330.0 77.0,329.5 78.0,329.0 C79.0,328.5 80.0,327.9 81.0,327.3 C82.0,326.7 83.0,326.1 84.0,325.4 C85.0,324.7 86.0,324.0 87.0,323.3 C88.0,322.6 89.5,321.4 90.0,321.0" fill="none" stroke="#000" stroke-width="0.85"/>
<path d="M60.0,338.6 C60.5,338.5 62.0,338.3 63.0,338.1 C64.0,337.9 65.0,337.6 66.0,337.3 C67.0,337.0 68.0,336.7 69.0,336.3 C70.0,335.9 71.0,335.5 72.0,335.1 C73.0,334.6 74.0,334.1 75.0,333.6 C76.0,333.1 77.0,332.5 78.0,331.9 C79.0,331.3 80.0,330.6 81.0,329.9 C82.0,329.2 83.0,328.5 84.0,327.7 C85.0,326.9 86.0,326.1 87.0,325.3 C88.0,324.4 89.5,323.0 90.0,322.6" fill="none" stroke="#000" stroke-width="0.85"/>
<path d="M60.0,342.2 C60.5,342.1 62.0,341.9 63.0,341.7 C64.0,341.4 65.0,341.2 66.0,340.8 C67.0,340.5 68.0,340.2 69.0,339.7 C70.0,339.3 71.0,338.9 72.0,338.4 C73.0,337.9 74.0,337.3 75.0,336.7 C76.0,336.1 77.0,335.5 78.0,334.8 C79.0,334.1 80.0,333.3 81.0,332.5 C82.0,331.8 83.0,330.9 84.0,330.0 C85.0,329.2 86.0,328.2 87.0,327.3 C88.0,326.3 89.5,324.7 90.0,324.2" fill="none" stroke="#000" stroke-width="0.85"/>
<path d="M60.0,345.8 C60.5,345.7 62.0,345.5 63.0,345.2 C64.0,345.0 65.0,344.7 66.0,344.4 C67.0,344.0 68.0,343.6 69.0,343.2 C70.0,342.7 71.0,342.2 72.0,341.6 C73.0,341.1 74.0,340.5 75.0,339.8 C76.0,339.1 77.0,338.4 78.0,337.6 C79.0,336.9 80.0,336.0 81.0,335.2 C82.0,334.3 83.0,333.3 84.0,332.4 C85.0,331.4 86.0,330.3 87.0,329.2 C88.0,328.1 89.5,326.4 90.0,325.8" fill="none" stroke="#000" stroke-width="0.85"/>
<path d="M60.0,349.4 C60.5,349.3 62.0,349.1 63.0,348.8 C64.0,348.6 65.0,348.3 66.0,347.9 C67.0,347.5 68.0,347.1 69.0,346.6 C70.0,346.1 71.0,345.5 72.0,344.9 C73.0,344.3 74.0,343.6 75.0,342.9 C76.0,342.2 77.0,341.4 78.0,340.5 C79.0,339.7 80.0,338.8 81.0,337.8 C82.0,336.8 83.0,335.8 84.0,334.7 C85.0,333.6 86.0,332.4 87.0,331.2 C88.0,330.0 89.5,328.0 90.0,327.4" fill="none" stroke="#000" stroke-width="0.85"/>
<path d="M60.0,353.0 C60.5,352.9 62.0,352.7 63.0,352.4 C64.0,352.1 65.0,351.8 66.0,351.4 C67.0,351.0 68.0,350.5 69.0,350.0 C70.0,349.5 71.0,348.9 72.0,348.2 C73.0,347.5 74.0,346.8 75.0,346.0 C76.0,345.2 77.0,344.3 78.0,343.4 C79.0,342.5 80.0,341.5 81.0,340.4 C82.0,339.3 83.0,338.2 84.0,337.0 C85.0,335.8 86.0,334.5 87.0,333.2 C88.0,331.9 89.5,329.7 90.0,329.0" fill="none" stroke="#000" stroke-width="0.85"/>
<path d="M60.0,356.6 C60.5,356.5 62.0,356.3 63.0,356.0 C64.0,355.7 65.0,355.3 66.0,354.9 C67.0,354.5 68.0,354.0 69.0,353.4 C70.0,352.8 71.0,352.2 72.0,351.5 C73.0,350.8 74.0,350.0 75.0,349.1 C76.0,348.2 77.0,347.3 78.0,346.3 C79.0,345.3 80.0,344.2 81.0,343.0 C82.0,341.9 83.0,340.6 84.0,339.3 C85.0,338.0 86.0,336.6 87.0,335.2 C88.0,333.7 89.5,331.4 90.0,330.6" fill="none" stroke="#000" stroke-width="0.85"/>
<path d="M60.0,360.2 C60.5,360.1 62.0,359.9 63.0,359.6 C64.0,359.3 65.0,358.9 66.0,358.4 C67.0,358.0 68.0,357.5 69.0,356.8 C70.0,356.2 71.0,355.5 72.0,354.8 C73.0,354.0 74.0,353.1 75.0,352.2 C76.0,351.3 77.0,350.3 78.0,349.2 C79.0,348.1 80.0,346.9 81.0,345.6 C82.0,344.4 83.0,343.1 84.0,341.6 C85.0,340.2 86.0,338.7 87.0,337.2 C88.0,335.6 89.5,333.0 90.0,332.2" fill="none" stroke="#000" stroke-width="0.85"/>
<path d="M60.0,363.8 C60.5,363.7 62.0,363.4 63.0,363.1 C64.0,362.8 65.0,362.4 66.0,362.0 C67.0,361.5 68.0,360.9 69.0,360.3 C70.0,359.6 71.0,358.9 72.0,358.0 C73.0,357.2 74.0,356.3 75.0,355.3 C76.0,354.3 77.0,353.2 78.0,352.0 C79.0,350.9 80.0,349.6 81.0,348.3 C82.0,346.9 83.0,345.5 84.0,344.0 C85.0,342.4 86.0,340.8 87.0,339.1 C88.0,337.4 89.5,334.7 90.0,333.8" fill="none" stroke="#000" stroke-width="0.85"/>
<path d="M190.0,321.0 C190.5,321.4 192.0,322.6 193.0,323.3 C194.0,324.0 195.0,324.7 196.0,325.4 C197.0,326.1 198.0,326.7 199.0,327.3 C200.0,327.9 201.0,328.5 202.0,329.0 C203.0,329.5 204.0,330.0 205.0,330.5 C206.0,331.0 207.0,331.4 208.0,331.8 C209.0,332.2 210.0,332.6 211.0,332.9 C212.0,333.2 213.0,333.5 214.0,333.8 C215.0,334.1 216.0,334.3 217.0,334.5 C218.0,334.7 219.5,334.9 220.0,335.0" fill="none" stroke="#000" stroke-width="0.85"/>
<path d="M190.0,322.8 C190.5,323.2 192.0,324.6 193.0,325.5 C194.0,326.3 195.0,327.1 196.0,327.9 C197.0,328.7 198.0,329.4 199.0,330.1 C200.0,330.8 201.0,331.5 202.0,332.1 C203.0,332.7 204.0,333.3 205.0,333.8 C206.0,334.3 207.0,334.8 208.0,335.3 C209.0,335.7 210.0,336.1 211.0,336.5 C212.0,336.9 213.0,337.2 214.0,337.5 C215.0,337.8 216.0,338.1 217.0,338.3 C218.0,338.5 219.5,338.7 220.0,338.8" fill="none" stroke="#000" stroke-width="0.85"/>
<path d="M190.0,324.6 C190.5,325.1 192.0,326.7 193.0,327.7 C194.0,328.6 195.0,329.6 196.0,330.4 C197.0,331.3 198.0,332.2 199.0,332.9 C200.0,333.7 201.0,334.5 202.0,335.2 C203.0,335.9 204.0,336.5 205.0,337.1 C206.0,337.7 207.0,338.3 208.0,338.8 C209.0,339.3 210.0,339.7 211.0,340.1 C212.0,340.6 213.0,340.9 214.0,341.2 C215.0,341.6 216.0,341.8 217.0,342.1 C218.0,342.3 219.5,342.5 220.0,342.6" fill="none" stroke="#000" stroke-width="0.85"/>
<path d="M190.0,326.4 C190.5,327.0 192.0,328.7 193.0,329.8 C194.0,330.9 195.0,332.0 196.0,333.0 C197.0,333.9 198.0,334.9 199.0,335.8 C200.0,336.6 201.0,337.5 202.0,338.2 C203.0,339.0 204.0,339.7 205.0,340.4 C206.0,341.1 207.0,341.7 208.0,342.2 C209.0,342.8 210.0,343.3 211.0,343.8 C212.0,344.2 213.0,344.6 214.0,345.0 C215.0,345.3 216.0,345.6 217.0,345.8 C218.0,346.1 219.5,346.3 220.0,346.4" fill="none" stroke="#000" stroke-width="0.85"/>
<path d="M190.0,328.2 C190.5,328.8 192.0,330.8 193.0,332.0 C194.0,333.2 195.0,334.4 196.0,335.5 C197.0,336.6 198.0,337.6 199.0,338.6 C200.0,339.6 201.0,340.5 202.0,341.3 C203.0,342.2 204.0,343.0 205.0,343.7 C206.0,344.4 207.0,345.1 208.0,345.7 C209.0,346.3 210.0,346.9 211.0,347.4 C212.0,347.9 213.0,348.3 214.0,348.7 C215.0,349.1 216.0,349.4 217.0,349.6 C218.0,349.9 219.5,350.1 220.0,350.2" fill="none" stroke="#000" stroke-width="0.85"/>
<path d="M190.0,330.0 C190.5,330.7 192.0,332.9 193.0,334.2 C194.0,335.5 195.0,336.8 196.0,338.0 C197.0,339.2 198.0,340.3 199.0,341.4 C200.0,342.5 201.0,343.5 202.0,344.4 C203.0,345.3 204.0,346.2 205.0,347.0 C206.0,347.8 207.0,348.5 208.0,349.2 C209.0,349.9 210.0,350.5 211.0,351.0 C212.0,351.5 213.0,352.0 214.0,352.4 C215.0,352.8 216.0,353.1 217.0,353.4 C218.0,353.7 219.5,353.9 220.0,354.0" fill="none" stroke="#000" stroke-width="0.85"/>
<path d="M190.0,331.8 C190.5,332.6 192.0,334.9 193.0,336.4 C194.0,337.8 195.0,339.2 196.0,340.5 C197.0,341.8 198.0,343.1 199.0,344.2 C200.0,345.4 201.0,346.5 202.0,347.5 C203.0,348.5 204.0,349.4 205.0,350.3 C206.0,351.2 207.0,352.0 208.0,352.7 C209.0,353.4 210.0,354.0 211.0,354.6 C212.0,355.2 213.0,355.7 214.0,356.1 C215.0,356.5 216.0,356.9 217.0,357.2 C218.0,357.5 219.5,357.7 220.0,357.8" fill="none" stroke="#000" stroke-width="0.85"/>
<path d="M190.0,333.6 C190.5,334.4 192.0,337.0 193.0,338.6 C194.0,340.1 195.0,341.6 196.0,343.0 C197.0,344.5 198.0,345.8 199.0,347.0 C200.0,348.3 201.0,349.5 202.0,350.6 C203.0,351.7 204.0,352.7 205.0,353.6 C206.0,354.5 207.0,355.4 208.0,356.2 C209.0,356.9 210.0,357.6 211.0,358.2 C212.0,358.9 213.0,359.4 214.0,359.8 C215.0,360.3 216.0,360.7 217.0,361.0 C218.0,361.3 219.5,361.5 220.0,361.6" fill="none" stroke="#000" stroke-width="0.85"/>
<path d="M190.0,335.4 C190.5,336.3 192.0,339.0 193.0,340.7 C194.0,342.4 195.0,344.0 196.0,345.6 C197.0,347.1 198.0,348.5 199.0,349.9 C200.0,351.2 201.0,352.5 202.0,353.6 C203.0,354.8 204.0,355.9 205.0,356.9 C206.0,357.9 207.0,358.8 208.0,359.6 C209.0,360.5 210.0,361.2 211.0,361.9 C212.0,362.5 213.0,363.1 214.0,363.6 C215.0,364.0 216.0,364.4 217.0,364.7 C218.0,365.0 219.5,365.3 220.0,365.4" fill="none" stroke="#000" stroke-width="0.85"/>
<path d="M60.0,338.0 C61.0,337.8 64.0,337.3 66.0,336.5 C68.0,335.7 70.0,334.6 72.0,333.0 C74.0,331.4 76.0,329.3 78.0,327.0 C80.0,324.7 82.0,322.0 84.0,319.0 C86.0,316.0 89.0,310.7 90.0,309.0" fill="none" stroke="#000" stroke-width="0.85"/>
<path d="M220.0,339.0 C219.0,338.8 216.0,338.3 214.0,337.5 C212.0,336.7 210.0,335.6 208.0,334.0 C206.0,332.4 204.0,330.3 202.0,328.0 C200.0,325.7 198.0,323.0 196.0,320.0 C194.0,317.0 191.0,311.7 190.0,310.0" fill="none" stroke="#000" stroke-width="0.85"/>
<path d="M60.0,342.2 C61.0,341.9 64.0,341.5 66.0,340.7 C68.0,339.9 70.0,338.8 72.0,337.2 C74.0,335.6 76.0,333.5 78.0,331.2 C80.0,328.9 82.0,326.2 84.0,323.2 C86.0,320.2 89.0,314.9 90.0,313.2" fill="none" stroke="#000" stroke-width="0.85"/>
<path d="M220.0,343.2 C219.0,342.9 216.0,342.5 214.0,341.7 C212.0,340.9 210.0,339.8 208.0,338.2 C206.0,336.6 204.0,334.5 202.0,332.2 C200.0,329.9 198.0,327.2 196.0,324.2 C194.0,321.2 191.0,315.9 190.0,314.2" fill="none" stroke="#000" stroke-width="0.85"/>
<path d="M60.0,346.4 C61.0,346.1 64.0,345.7 66.0,344.9 C68.0,344.1 70.0,343.0 72.0,341.4 C74.0,339.8 76.0,337.7 78.0,335.4 C80.0,333.1 82.0,330.4 84.0,327.4 C86.0,324.4 89.0,319.1 90.0,317.4" fill="none" stroke="#000" stroke-width="0.85"/>
<path d="M220.0,347.4 C219.0,347.1 216.0,346.7 214.0,345.9 C212.0,345.1 210.0,344.0 208.0,342.4 C206.0,340.8 204.0,338.7 202.0,336.4 C200.0,334.1 198.0,331.4 196.0,328.4 C194.0,325.4 191.0,320.1 190.0,318.4" fill="none" stroke="#000" stroke-width="0.85"/>
<path d="M60.0,350.6 C61.0,350.4 64.0,349.9 66.0,349.1 C68.0,348.3 70.0,347.2 72.0,345.6 C74.0,344.0 76.0,341.9 78.0,339.6 C80.0,337.3 82.0,334.6 84.0,331.6 C86.0,328.6 89.0,323.3 90.0,321.6" fill="none" stroke="#000" stroke-width="0.85"/>
<path d="M220.0,351.6 C219.0,351.4 216.0,350.9 214.0,350.1 C212.0,349.3 210.0,348.2 208.0,346.6 C206.0,345.0 204.0,342.9 202.0,340.6 C200.0,338.3 198.0,335.6 196.0,332.6 C194.0,329.6 191.0,324.3 190.0,322.6" fill="none" stroke="#000" stroke-width="0.85"/>
<path d="M60.0,354.8 C61.0,354.6 64.0,354.1 66.0,353.3 C68.0,352.5 70.0,351.4 72.0,349.8 C74.0,348.2 76.0,346.1 78.0,343.8 C80.0,341.5 82.0,338.8 84.0,335.8 C86.0,332.8 89.0,327.5 90.0,325.8" fill="none" stroke="#000" stroke-width="0.85"/>
<path d="M220.0,355.8 C219.0,355.6 216.0,355.1 214.0,354.3 C212.0,353.5 210.0,352.4 208.0,350.8 C206.0,349.2 204.0,347.1 202.0,344.8 C200.0,342.5 198.0,339.8 196.0,336.8 C194.0,333.8 191.0,328.5 190.0,326.8" fill="none" stroke="#000" stroke-width="0.85"/>
<path d="M60.0,359.0 C61.0,358.8 64.0,358.3 66.0,357.5 C68.0,356.7 70.0,355.6 72.0,354.0 C74.0,352.4 76.0,350.3 78.0,348.0 C80.0,345.7 82.0,343.0 84.0,340.0 C86.0,337.0 89.0,331.7 90.0,330.0" fill="none" stroke="#000" stroke-width="0.85"/>
<path d="M220.0,360.0 C219.0,359.8 216.0,359.3 214.0,358.5 C212.0,357.7 210.0,356.6 208.0,355.0 C206.0,353.4 204.0,351.3 202.0,349.0 C200.0,346.7 198.0,344.0 196.0,341.0 C194.0,338.0 191.0,332.7 190.0,331.0" fill="none" stroke="#000" stroke-width="0.85"/>
<path d="M60.0,363.2 C61.0,362.9 64.0,362.5 66.0,361.7 C68.0,360.9 70.0,359.8 72.0,358.2 C74.0,356.6 76.0,354.5 78.0,352.2 C80.0,349.9 82.0,347.2 84.0,344.2 C86.0,341.2 89.0,335.9 90.0,334.2" fill="none" stroke="#000" stroke-width="0.85"/>
<path d="M220.0,364.2 C219.0,363.9 216.0,363.5 214.0,362.7 C212.0,361.9 210.0,360.8 208.0,359.2 C206.0,357.6 204.0,355.5 202.0,353.2 C200.0,350.9 198.0,348.2 196.0,345.2 C194.0,342.2 191.0,336.9 190.0,335.2" fill="none" stroke="#000" stroke-width="0.85"/>
<path d="M60.0,367.4 C61.0,367.1 64.0,366.7 66.0,365.9 C68.0,365.1 70.0,364.0 72.0,362.4 C74.0,360.8 76.0,358.7 78.0,356.4 C80.0,354.1 82.0,351.4 84.0,348.4 C86.0,345.4 89.0,340.1 90.0,338.4" fill="none" stroke="#000" stroke-width="0.85"/>
<path d="M220.0,368.4 C219.0,368.1 216.0,367.7 214.0,366.9 C212.0,366.1 210.0,365.0 208.0,363.4 C206.0,361.8 204.0,359.7 202.0,357.4 C200.0,355.1 198.0,352.4 196.0,349.4 C194.0,346.4 191.0,341.1 190.0,339.4" fill="none" stroke="#000" stroke-width="0.85"/>
<path d="M60.0,405.0 C60.7,404.9 62.7,404.8 64.0,404.4 C65.3,404.0 66.7,403.4 68.0,402.7 C69.3,402.0 70.7,401.2 72.0,400.3 C73.3,399.3 74.7,398.3 76.0,397.2 C77.3,396.1 78.7,394.9 80.0,393.8 C81.3,392.6 82.7,391.4 84.0,390.2 C85.3,389.1 86.7,387.9 88.0,386.8 C89.3,385.7 90.7,384.7 92.0,383.7 C93.3,382.8 94.7,382.0 96.0,381.3 C97.3,380.6 98.7,380.0 100.0,379.6 C101.3,379.2 103.3,379.1 104.0,379.0" fill="none" stroke="#000" stroke-width="0.85"/>
<path d="M60.0,398.5 C60.7,398.4 62.7,398.2 64.0,397.8 C65.3,397.4 66.7,396.7 68.0,395.9 C69.3,395.1 70.7,394.1 72.0,393.0 C73.3,392.0 74.7,390.7 76.0,389.5 C77.3,388.2 78.7,386.9 80.0,385.5 C81.3,384.2 82.7,382.8 84.0,381.5 C85.3,380.1 86.7,378.8 88.0,377.5 C89.3,376.3 90.7,375.0 92.0,374.0 C93.3,372.9 94.7,371.9 96.0,371.1 C97.3,370.3 98.7,369.6 100.0,369.2 C101.3,368.8 103.3,368.6 104.0,368.5" fill="none" stroke="#000" stroke-width="0.85"/>
<path d="M60.0,392.0 C60.7,391.9 62.7,391.7 64.0,391.2 C65.3,390.7 66.7,389.9 68.0,389.0 C69.3,388.1 70.7,387.0 72.0,385.8 C73.3,384.6 74.7,383.2 76.0,381.8 C77.3,380.4 78.7,378.8 80.0,377.3 C81.3,375.8 82.7,374.2 84.0,372.7 C85.3,371.2 86.7,369.6 88.0,368.2 C89.3,366.8 90.7,365.4 92.0,364.2 C93.3,363.0 94.7,361.9 96.0,361.0 C97.3,360.1 98.7,359.3 100.0,358.8 C101.3,358.3 103.3,358.1 104.0,358.0" fill="none" stroke="#000" stroke-width="0.85"/>
<path d="M60.0,385.5 C60.7,385.4 62.7,385.3 64.0,384.9 C65.3,384.5 66.7,383.9 68.0,383.2 C69.3,382.5 70.7,381.7 72.0,380.8 C73.3,379.8 74.7,378.8 76.0,377.7 C77.3,376.6 78.7,375.4 80.0,374.3 C81.3,373.1 82.7,371.9 84.0,370.7 C85.3,369.6 86.7,368.4 88.0,367.3 C89.3,366.2 90.7,365.2 92.0,364.2 C93.3,363.3 94.7,362.5 96.0,361.8 C97.3,361.1 98.7,360.5 100.0,360.1 C101.3,359.7 103.3,359.6 104.0,359.5" fill="none" stroke="#000" stroke-width="0.85"/>
<path d="M60.0,379.0 C60.7,378.9 62.7,378.7 64.0,378.3 C65.3,377.9 66.7,377.2 68.0,376.4 C69.3,375.6 70.7,374.6 72.0,373.5 C73.3,372.5 74.7,371.2 76.0,370.0 C77.3,368.7 78.7,367.4 80.0,366.0 C81.3,364.7 82.7,363.3 84.0,362.0 C85.3,360.6 86.7,359.3 88.0,358.0 C89.3,356.8 90.7,355.5 92.0,354.5 C93.3,353.4 94.7,352.4 96.0,351.6 C97.3,350.8 98.7,350.1 100.0,349.7 C101.3,349.3 103.3,349.1 104.0,349.0" fill="none" stroke="#000" stroke-width="0.85"/>
<path d="M60.0,372.5 C60.7,372.4 62.7,372.2 64.0,371.7 C65.3,371.2 66.7,370.4 68.0,369.5 C69.3,368.6 70.7,367.5 72.0,366.3 C73.3,365.1 74.7,363.7 76.0,362.3 C77.3,360.9 78.7,359.3 80.0,357.8 C81.3,356.3 82.7,354.7 84.0,353.2 C85.3,351.7 86.7,350.1 88.0,348.7 C89.3,347.3 90.7,345.9 92.0,344.7 C93.3,343.5 94.7,342.4 96.0,341.5 C97.3,340.6 98.7,339.8 100.0,339.3 C101.3,338.8 103.3,338.6 104.0,338.5" fill="none" stroke="#000" stroke-width="0.85"/>
<path d="M60.0,366.0 C60.7,365.9 62.7,365.8 64.0,365.4 C65.3,365.0 66.7,364.4 68.0,363.7 C69.3,363.0 70.7,362.2 72.0,361.3 C73.3,360.3 74.7,359.3 76.0,358.2 C77.3,357.1 78.7,355.9 80.0,354.8 C81.3,353.6 82.7,352.4 84.0,351.2 C85.3,350.1 86.7,348.9 88.0,347.8 C89.3,346.7 90.7,345.7 92.0,344.7 C93.3,343.8 94.7,343.0 96.0,342.3 C97.3,341.6 98.7,341.0 100.0,340.6 C101.3,340.2 103.3,340.1 104.0,340.0" fill="none" stroke="#000" stroke-width="0.85"/>
<path d="M60.0,359.5 C60.7,359.4 62.7,359.2 64.0,358.8 C65.3,358.4 66.7,357.7 68.0,356.9 C69.3,356.1 70.7,355.1 72.0,354.0 C73.3,353.0 74.7,351.7 76.0,350.5 C77.3,349.2 78.7,347.9 80.0,346.5 C81.3,345.2 82.7,343.8 84.0,342.5 C85.3,341.1 86.7,339.8 88.0,338.5 C89.3,337.3 90.7,336.0 92.0,335.0 C93.3,333.9 94.7,332.9 96.0,332.1 C97.3,331.3 98.7,330.6 100.0,330.2 C101.3,329.8 103.3,329.6 104.0,329.5" fill="none" stroke="#000" stroke-width="0.85"/>
<path d="M176.0,378.0 C176.7,378.1 178.7,378.2 180.0,378.7 C181.3,379.1 182.7,379.7 184.0,380.4 C185.3,381.2 186.7,382.1 188.0,383.1 C189.3,384.1 190.7,385.3 192.0,386.4 C193.3,387.6 194.7,388.8 196.0,390.1 C197.3,391.3 198.7,392.7 200.0,393.9 C201.3,395.2 202.7,396.4 204.0,397.6 C205.3,398.7 206.7,399.9 208.0,400.9 C209.3,401.9 210.7,402.8 212.0,403.6 C213.3,404.3 214.7,404.9 216.0,405.3 C217.3,405.8 219.3,405.9 220.0,406.0" fill="none" stroke="#000" stroke-width="0.85"/>
<path d="M176.0,367.7 C176.7,367.8 178.7,368.0 180.0,368.4 C181.3,368.9 182.7,369.6 184.0,370.5 C185.3,371.3 186.7,372.4 188.0,373.5 C189.3,374.7 190.7,376.0 192.0,377.3 C193.3,378.6 194.7,380.1 196.0,381.5 C197.3,383.0 198.7,384.4 200.0,385.9 C201.3,387.3 202.7,388.8 204.0,390.1 C205.3,391.4 206.7,392.7 208.0,393.9 C209.3,395.0 210.7,396.1 212.0,396.9 C213.3,397.8 214.7,398.5 216.0,399.0 C217.3,399.4 219.3,399.6 220.0,399.7" fill="none" stroke="#000" stroke-width="0.85"/>
<path d="M176.0,369.4 C176.7,369.5 178.7,369.6 180.0,370.0 C181.3,370.3 182.7,370.9 184.0,371.5 C185.3,372.1 186.7,372.9 188.0,373.8 C189.3,374.6 190.7,375.6 192.0,376.6 C193.3,377.6 194.7,378.7 196.0,379.8 C197.3,380.8 198.7,382.0 200.0,383.0 C201.3,384.1 202.7,385.2 204.0,386.2 C205.3,387.2 206.7,388.2 208.0,389.0 C209.3,389.9 210.7,390.7 212.0,391.3 C213.3,391.9 214.7,392.5 216.0,392.8 C217.3,393.2 219.3,393.3 220.0,393.4" fill="none" stroke="#000" stroke-width="0.85"/>
<path d="M176.0,359.1 C176.7,359.2 178.7,359.3 180.0,359.8 C181.3,360.2 182.7,360.8 184.0,361.5 C185.3,362.3 186.7,363.2 188.0,364.2 C189.3,365.2 190.7,366.4 192.0,367.5 C193.3,368.7 194.7,369.9 196.0,371.2 C197.3,372.4 198.7,373.8 200.0,375.0 C201.3,376.3 202.7,377.5 204.0,378.7 C205.3,379.8 206.7,381.0 208.0,382.0 C209.3,383.0 210.7,383.9 212.0,384.7 C213.3,385.4 214.7,386.0 216.0,386.4 C217.3,386.9 219.3,387.0 220.0,387.1" fill="none" stroke="#000" stroke-width="0.85"/>
<path d="M176.0,348.8 C176.7,348.9 178.7,349.1 180.0,349.5 C181.3,350.0 182.7,350.7 184.0,351.6 C185.3,352.4 186.7,353.5 188.0,354.6 C189.3,355.8 190.7,357.1 192.0,358.4 C193.3,359.7 194.7,361.2 196.0,362.6 C197.3,364.1 198.7,365.5 200.0,367.0 C201.3,368.4 202.7,369.9 204.0,371.2 C205.3,372.5 206.7,373.8 208.0,375.0 C209.3,376.1 210.7,377.2 212.0,378.0 C213.3,378.9 214.7,379.6 216.0,380.1 C217.3,380.5 219.3,380.7 220.0,380.8" fill="none" stroke="#000" stroke-width="0.85"/>
<path d="M176.0,350.5 C176.7,350.6 178.7,350.7 180.0,351.1 C181.3,351.4 182.7,352.0 184.0,352.6 C185.3,353.2 186.7,354.0 188.0,354.9 C189.3,355.7 190.7,356.7 192.0,357.7 C193.3,358.7 194.7,359.8 196.0,360.9 C197.3,361.9 198.7,363.1 200.0,364.1 C201.3,365.2 202.7,366.3 204.0,367.3 C205.3,368.3 206.7,369.3 208.0,370.1 C209.3,371.0 210.7,371.8 212.0,372.4 C213.3,373.0 214.7,373.6 216.0,373.9 C217.3,374.3 219.3,374.4 220.0,374.5" fill="none" stroke="#000" stroke-width="0.85"/>
<path d="M176.0,340.2 C176.7,340.3 178.7,340.4 180.0,340.9 C181.3,341.3 182.7,341.9 184.0,342.6 C185.3,343.4 186.7,344.3 188.0,345.3 C189.3,346.3 190.7,347.5 192.0,348.6 C193.3,349.8 194.7,351.0 196.0,352.3 C197.3,353.5 198.7,354.9 200.0,356.1 C201.3,357.4 202.7,358.6 204.0,359.8 C205.3,360.9 206.7,362.1 208.0,363.1 C209.3,364.1 210.7,365.0 212.0,365.8 C213.3,366.5 214.7,367.1 216.0,367.5 C217.3,368.0 219.3,368.1 220.0,368.2" fill="none" stroke="#000" stroke-width="0.85"/>
<path d="M176.0,329.9 C176.7,330.0 178.7,330.2 180.0,330.6 C181.3,331.1 182.7,331.8 184.0,332.7 C185.3,333.5 186.7,334.6 188.0,335.7 C189.3,336.9 190.7,338.2 192.0,339.5 C193.3,340.8 194.7,342.3 196.0,343.7 C197.3,345.2 198.7,346.6 200.0,348.1 C201.3,349.5 202.7,351.0 204.0,352.3 C205.3,353.6 206.7,354.9 208.0,356.1 C209.3,357.2 210.7,358.3 212.0,359.1 C213.3,360.0 214.7,360.7 216.0,361.2 C217.3,361.6 219.3,361.8 220.0,361.9" fill="none" stroke="#000" stroke-width="0.85"/>
<path d="M60.0,396.0 C60.8,395.5 62.5,395.3 65.0,393.0 C67.5,390.7 71.7,386.0 75.0,382.0 C78.3,378.0 81.7,373.3 85.0,369.0 C88.3,364.7 91.7,360.2 95.0,356.0 C98.3,351.8 103.3,346.0 105.0,344.0" fill="none" stroke="#000" stroke-width="0.85"/>
<path d="M60.0,378.0 C60.8,377.5 62.5,377.3 65.0,375.0 C67.5,372.7 71.7,368.0 75.0,364.0 C78.3,360.0 81.7,355.3 85.0,351.0 C88.3,346.7 91.7,342.2 95.0,338.0 C98.3,333.8 103.3,328.0 105.0,326.0" fill="none" stroke="#000" stroke-width="0.85"/>
<path d="M60.0,360.0 C60.8,359.5 62.5,359.3 65.0,357.0 C67.5,354.7 71.7,350.0 75.0,346.0 C78.3,342.0 81.7,337.3 85.0,333.0 C88.3,328.7 91.7,324.2 95.0,320.0 C98.3,315.8 103.3,310.0 105.0,308.0" fill="none" stroke="#000" stroke-width="0.85"/>
<path d="M160.0,353.0 C161.7,355.0 165.0,360.8 170.0,365.0 C175.0,369.2 184.2,373.7 190.0,378.0 C195.8,382.3 200.8,387.0 205.0,391.0 C209.2,395.0 212.5,399.7 215.0,402.0 C217.5,404.3 219.2,404.5 220.0,405.0" fill="none" stroke="#000" stroke-width="0.85"/>
<path d="M160.0,335.0 C161.7,337.0 165.0,342.8 170.0,347.0 C175.0,351.2 184.2,355.7 190.0,360.0 C195.8,364.3 200.8,369.0 205.0,373.0 C209.2,377.0 212.5,381.7 215.0,384.0 C217.5,386.3 219.2,386.5 220.0,387.0" fill="none" stroke="#000" stroke-width="0.85"/>
<path d="M160.0,317.0 C161.7,319.0 165.0,324.8 170.0,329.0 C175.0,333.2 184.2,337.7 190.0,342.0 C195.8,346.3 200.8,351.0 205.0,355.0 C209.2,359.0 212.5,363.7 215.0,366.0 C217.5,368.3 219.2,368.5 220.0,369.0" fill="none" stroke="#000" stroke-width="0.85"/>
<path d="M134.0,329.0 C134.7,329.8 136.5,330.7 138.3,334.0 C140.1,337.3 142.8,343.8 145.0,349.0 C147.2,354.2 149.3,364.1 151.5,365.1 C153.7,366.1 155.8,358.1 158.0,355.0 C160.2,351.9 162.3,348.7 164.6,346.6 C166.9,344.5 168.9,343.5 171.8,342.4 C174.7,341.3 178.1,341.2 182.0,340.0 C185.9,338.8 192.8,335.8 195.0,335.0" fill="none" stroke="#000" stroke-width="0.85"/>
<path d="M118.0,353.0 C120.0,354.7 125.5,359.3 130.0,363.0 C134.5,366.7 141.3,371.7 145.0,375.0 C148.7,378.3 149.5,383.3 152.0,383.0 C154.5,382.7 157.0,376.3 160.0,373.0 C163.0,369.7 166.7,366.0 170.0,363.0 C173.3,360.0 178.3,356.3 180.0,355.0" fill="none" stroke="#000" stroke-width="0.85"/>
<path d="M118.0,343.0 C119.7,344.0 124.3,347.0 128.0,349.0 C131.7,351.0 136.0,353.5 140.0,355.0 C144.0,356.5 148.0,358.7 152.0,358.0 C156.0,357.3 160.2,352.8 164.0,351.0 C167.8,349.2 170.7,348.3 175.0,347.0 C179.3,345.7 187.5,343.7 190.0,343.0" fill="none" stroke="#000" stroke-width="0.85"/>
<path d="M95.0,336.0 C97.2,336.3 104.2,337.8 108.0,338.0 C111.8,338.2 114.3,336.5 118.0,337.0 C121.7,337.5 126.3,339.7 130.0,341.0 C133.7,342.3 136.3,344.7 140.0,345.0 C143.7,345.3 147.8,343.7 152.0,343.0 C156.2,342.3 160.3,342.2 165.0,341.0 C169.7,339.8 177.5,336.8 180.0,336.0" fill="none" stroke="#000" stroke-width="0.85"/>
<path d="M95.0,343.0 C97.2,343.3 104.2,345.0 108.0,345.0 C111.8,345.0 114.3,342.9 118.0,343.2 C121.7,343.5 126.3,345.9 130.0,347.0 C133.7,348.1 136.3,349.7 140.0,350.0 C143.7,350.3 147.8,349.8 152.0,349.0 C156.2,348.2 160.3,346.7 165.0,345.0 C169.7,343.3 177.5,340.0 180.0,339.0" fill="none" stroke="#000" stroke-width="0.85"/>
<path d="M95.0,349.0 C97.2,349.3 104.2,351.0 108.0,351.0 C111.8,351.0 114.3,348.5 118.0,349.2 C121.7,349.9 126.3,353.7 130.0,355.0 C133.7,356.3 136.3,357.3 140.0,357.0 C143.7,356.7 147.8,353.8 152.0,353.0 C156.2,352.2 160.3,353.0 165.0,352.0 C169.7,351.0 177.5,347.8 180.0,347.0" fill="none" stroke="#000" stroke-width="0.85"/>
<path d="M60.0,544.0 C62.0,544.5 67.8,548.2 72.0,547.0 C76.2,545.8 80.3,541.0 85.0,537.0 C89.7,533.0 95.0,526.3 100.0,523.0 C105.0,519.7 110.0,518.8 115.0,517.0 C120.0,515.2 124.2,513.4 130.0,512.0 C135.8,510.6 144.7,508.5 150.0,508.5 C155.3,508.5 157.8,509.6 162.0,512.0 C166.2,514.4 170.3,519.0 175.0,523.0 C179.7,527.0 185.0,532.5 190.0,536.0 C195.0,539.5 200.0,542.8 205.0,544.0 C210.0,545.2 217.5,543.2 220.0,543.0" fill="none" stroke="#000" stroke-width="0.85"/>
<path d="M61.5,545.8 C63.5,546.5 69.3,550.9 73.5,550.3 C77.7,549.6 81.8,545.3 86.5,541.6 C91.2,537.9 96.5,531.4 101.5,528.1 C106.5,524.7 111.5,523.4 116.5,521.3 C121.5,519.2 126.0,516.9 131.5,515.4 C136.9,514.0 144.2,512.3 149.2,512.6 C154.1,512.8 157.0,514.1 161.2,516.8 C165.4,519.4 169.5,524.4 174.2,528.5 C178.9,532.7 184.2,538.2 189.2,541.5 C194.2,544.8 199.2,547.5 204.2,548.1 C209.2,548.7 216.7,545.7 219.2,545.2" fill="none" stroke="#000" stroke-width="0.85"/>
<path d="M63.0,550.5 C65.0,551.1 70.8,555.3 75.0,554.3 C79.2,553.2 83.3,548.3 88.0,544.1 C92.7,540.0 98.0,533.0 103.0,529.6 C108.0,526.2 113.0,525.4 118.0,523.9 C123.0,522.4 127.9,521.2 133.0,520.5 C138.1,519.9 143.8,519.6 148.4,520.0 C153.0,520.5 156.2,521.1 160.4,523.2 C164.6,525.3 168.7,529.5 173.4,532.8 C178.1,536.2 183.4,540.7 188.4,543.5 C193.4,546.4 198.4,548.9 203.4,549.7 C208.4,550.5 215.9,548.5 218.4,548.3" fill="none" stroke="#000" stroke-width="0.85"/>
<path d="M64.5,552.2 C66.5,552.7 72.3,556.2 76.5,555.1 C80.7,554.0 84.8,549.1 89.5,545.5 C94.2,541.8 99.5,535.8 104.5,533.2 C109.5,530.6 114.5,530.8 119.5,529.8 C124.5,528.9 129.8,528.1 134.5,527.3 C139.2,526.4 143.4,525.1 147.6,525.0 C151.8,524.8 155.4,524.6 159.6,526.3 C163.8,528.0 167.9,531.7 172.6,535.1 C177.3,538.5 182.6,543.5 187.6,546.8 C192.6,550.0 197.6,553.5 202.6,554.7 C207.6,555.8 215.1,553.8 217.6,553.7" fill="none" stroke="#000" stroke-width="0.85"/>
<path d="M66.0,552.9 C68.0,553.6 73.8,558.0 78.0,557.5 C82.2,557.0 86.3,553.1 91.0,550.1 C95.7,547.0 101.0,541.6 106.0,539.2 C111.0,536.7 116.0,536.5 121.0,535.1 C126.0,533.8 131.7,532.0 136.0,530.8 C140.3,529.6 143.0,528.1 146.8,528.0 C150.6,527.8 154.6,527.9 158.8,530.0 C163.0,532.0 167.1,536.5 171.8,540.3 C176.5,544.2 181.8,549.8 186.8,553.0 C191.8,556.3 196.8,559.3 201.8,559.9 C206.8,560.5 214.3,557.0 216.8,556.4" fill="none" stroke="#000" stroke-width="0.85"/>
<path d="M67.5,556.8 C69.5,557.8 75.3,563.0 79.5,562.7 C83.7,562.4 87.8,558.4 92.5,555.0 C97.2,551.7 102.5,545.5 107.5,542.5 C112.5,539.5 117.5,538.7 122.5,537.2 C127.5,535.8 133.6,534.1 137.5,533.6 C141.4,533.1 142.6,533.4 146.0,534.0 C149.4,534.5 153.8,534.8 158.0,536.9 C162.2,539.0 166.3,543.4 171.0,546.8 C175.7,550.2 181.0,554.8 186.0,557.3 C191.0,559.8 196.0,561.7 201.0,561.7 C206.0,561.8 213.5,558.2 216.0,557.4" fill="none" stroke="#000" stroke-width="0.85"/>
<path d="M69.0,561.0 C71.0,561.8 76.8,566.3 81.0,565.6 C85.2,564.8 89.3,560.2 94.0,556.6 C98.7,553.0 104.0,546.7 109.0,544.1 C114.0,541.5 119.0,541.6 124.0,540.8 C129.0,540.1 135.5,539.7 139.0,539.7 C142.5,539.8 142.2,540.7 145.2,541.2 C148.2,541.6 153.0,540.9 157.2,542.4 C161.4,543.8 165.5,547.2 170.2,550.0 C174.9,552.8 180.2,556.7 185.2,559.1 C190.2,561.4 195.2,563.7 200.2,564.2 C205.2,564.6 212.7,562.0 215.2,561.6" fill="none" stroke="#000" stroke-width="0.85"/>
<path d="M92.0,561.0 C94.2,558.3 100.3,550.3 105.0,545.0 C109.7,539.7 114.2,533.3 120.0,529.0 C125.8,524.7 133.3,520.3 140.0,519.0 C146.7,517.7 153.3,518.7 160.0,521.0 C166.7,523.3 173.3,529.0 180.0,533.0 C186.7,537.0 193.3,542.5 200.0,545.0 C206.7,547.5 216.7,547.5 220.0,548.0" fill="none" stroke="#000" stroke-width="0.85"/>
<path d="M92.0,561.0 C94.2,558.7 100.3,551.7 105.0,547.0 C109.7,542.3 114.2,537.0 120.0,533.0 C125.8,529.0 133.3,524.3 140.0,523.0 C146.7,521.7 153.3,522.7 160.0,525.0 C166.7,527.3 173.3,533.2 180.0,537.0 C186.7,540.8 193.3,545.7 200.0,548.0 C206.7,550.3 216.7,550.5 220.0,551.0" fill="none" stroke="#000" stroke-width="0.85"/>
<path d="M81.0,565.7 C81.7,564.5 83.7,560.8 85.0,558.5 C86.3,556.3 87.7,554.2 89.0,552.3 C90.3,550.4 91.7,548.6 93.0,547.0 C94.3,545.4 95.7,544.0 97.0,542.7 C98.3,541.4 99.7,540.3 101.0,539.3 C102.3,538.4 103.7,537.6 105.0,536.9 C106.3,536.3 107.7,535.8 109.0,535.5 C110.3,535.2 111.7,535.0 113.0,535.0 C114.3,535.0 115.7,535.2 117.0,535.5 C118.3,535.8 119.7,536.3 121.0,536.9 C122.3,537.6 123.7,538.4 125.0,539.3 C126.3,540.3 127.7,541.4 129.0,542.7 C130.3,544.0 131.7,545.4 133.0,547.0 C134.3,548.6 135.7,550.4 137.0,552.3 C138.3,554.2 139.7,556.3 141.0,558.5 C142.3,560.8 144.3,564.5 145.0,565.7" fill="none" stroke="#000" stroke-width="0.85"/>
<path d="M80.0,584.0 C80.7,582.4 82.7,577.3 84.0,574.4 C85.3,571.4 86.7,568.6 88.0,566.0 C89.3,563.5 90.7,561.1 92.0,559.0 C93.3,556.9 94.7,554.9 96.0,553.2 C97.3,551.5 98.7,550.0 100.0,548.8 C101.3,547.5 102.7,546.4 104.0,545.6 C105.3,544.7 106.7,544.1 108.0,543.6 C109.3,543.2 110.7,543.0 112.0,543.0 C113.3,543.0 114.7,543.2 116.0,543.6 C117.3,544.1 118.7,544.7 120.0,545.6 C121.3,546.4 122.7,547.5 124.0,548.8 C125.3,550.0 126.7,551.5 128.0,553.2 C129.3,554.9 130.7,556.9 132.0,559.0 C133.3,561.1 134.7,563.5 136.0,566.0 C137.3,568.6 138.7,571.4 140.0,574.4 C141.3,577.3 143.3,582.4 144.0,584.0" fill="none" stroke="#000" stroke-width="0.85"/>
<path d="M120.0,589.2 C120.7,587.2 122.7,580.9 124.0,577.2 C125.3,573.5 126.7,570.0 128.0,566.8 C129.3,563.6 130.7,560.7 132.0,558.0 C133.3,555.3 134.7,552.9 136.0,550.8 C137.3,548.7 138.7,546.8 140.0,545.2 C141.3,543.6 142.7,542.3 144.0,541.2 C145.3,540.1 146.7,539.3 148.0,538.8 C149.3,538.3 150.7,538.0 152.0,538.0 C153.3,538.0 154.7,538.3 156.0,538.8 C157.3,539.3 158.7,540.1 160.0,541.2 C161.3,542.3 162.7,543.6 164.0,545.2 C165.3,546.8 166.7,548.7 168.0,550.8 C169.3,552.9 170.7,555.3 172.0,558.0 C173.3,560.7 174.7,563.6 176.0,566.8 C177.3,570.0 178.7,573.5 180.0,577.2 C181.3,580.9 183.3,587.2 184.0,589.2" fill="none" stroke="#000" stroke-width="0.85"/>
<path d="M118.0,606.4 C118.7,604.0 120.7,596.5 122.0,592.0 C123.3,587.6 124.7,583.4 126.0,579.6 C127.3,575.7 128.7,572.2 130.0,569.0 C131.3,565.8 132.7,562.9 134.0,560.4 C135.3,557.8 136.7,555.6 138.0,553.6 C139.3,551.7 140.7,550.1 142.0,548.8 C143.3,547.6 144.7,546.6 146.0,546.0 C147.3,545.3 148.7,545.0 150.0,545.0 C151.3,545.0 152.7,545.3 154.0,546.0 C155.3,546.6 156.7,547.6 158.0,548.8 C159.3,550.1 160.7,551.7 162.0,553.6 C163.3,555.6 164.7,557.8 166.0,560.4 C167.3,562.9 168.7,565.8 170.0,569.0 C171.3,572.2 172.7,575.7 174.0,579.6 C175.3,583.4 176.7,587.6 178.0,592.0 C179.3,596.5 181.3,604.0 182.0,606.4" fill="none" stroke="#000" stroke-width="0.85"/>
<path d="M60.0,557.0 C63.3,557.3 73.3,559.3 80.0,559.0 C86.7,558.7 93.3,556.3 100.0,555.0 C106.7,553.7 113.3,551.3 120.0,551.0 C126.7,550.7 133.3,553.0 140.0,553.0 C146.7,553.0 153.3,550.7 160.0,551.0 C166.7,551.3 173.3,553.8 180.0,555.0 C186.7,556.2 193.3,557.8 200.0,558.0 C206.7,558.2 216.7,556.3 220.0,556.0" fill="none" stroke="#000" stroke-width="0.85"/>
<path d="M110.0,557.0 C113.3,556.7 123.3,555.0 130.0,555.0 C136.7,555.0 143.3,556.3 150.0,557.0 C156.7,557.7 166.7,558.7 170.0,559.0" fill="none" stroke="#000" stroke-width="0.85"/>
<path d="M160.0,510.0 C162.7,514.3 169.2,527.4 175.9,535.9 C182.6,544.4 195.9,556.8 199.9,561.0" fill="none" stroke="#000" stroke-width="0.85"/>
<path d="M60.4,407.0 C64.0,409.0 74.4,417.9 82.0,419.0 C89.6,420.1 97.9,414.9 105.9,413.7 C113.9,412.5 122.0,413.1 129.8,411.8 C137.6,410.5 145.8,404.6 152.6,405.8 C159.4,407.0 162.3,416.8 170.5,419.0 C178.7,421.2 193.4,420.0 201.6,419.0 C209.8,418.0 216.6,414.0 219.6,413.0" fill="none" stroke="#000" stroke-width="0.9"/>
<path d="M60.4,410.6 C64.0,412.4 74.4,420.1 82.0,421.3 C89.6,422.5 97.9,418.7 105.9,417.7 C113.9,416.7 122.0,416.7 129.8,415.3 C137.6,413.9 145.8,407.6 152.6,409.4 C159.4,411.2 164.3,423.3 170.5,426.1 C176.7,428.9 181.5,428.1 189.7,426.1 C197.9,424.1 214.6,416.2 219.6,414.2" fill="none" stroke="#000" stroke-width="0.9"/>
<path d="M60.4,415.3 C64.0,416.5 74.4,420.9 82.0,422.5 C89.6,424.1 97.9,424.9 105.9,424.9 C113.9,424.9 122.0,424.5 129.8,422.5 C137.6,420.5 145.8,411.6 152.6,413.0 C159.4,414.4 165.5,427.5 170.5,430.9 C175.5,434.3 177.3,434.1 182.5,433.3 C187.7,432.5 195.4,429.1 201.6,426.1 C207.8,423.1 216.6,417.1 219.6,415.3" fill="none" stroke="#000" stroke-width="0.9"/>
<path d="M60.0,439.3 C63.7,439.9 73.2,440.7 82.0,442.9 C90.8,445.1 101.0,450.9 113.0,452.5 C125.0,454.1 142.2,453.5 153.8,452.5 C165.4,451.5 171.5,448.7 182.5,446.5 C193.5,444.3 213.8,440.5 220.0,439.3" fill="none" stroke="#000" stroke-width="0.9"/>
<path d="M60.0,456.0 C63.7,457.0 74.3,458.6 82.0,462.0 C89.7,465.4 97.9,474.2 105.9,476.4 C113.9,478.6 122.0,474.6 129.8,475.2 C137.6,475.8 144.6,480.6 152.6,480.0 C160.6,479.4 169.5,474.6 177.7,471.6 C185.9,468.6 194.5,464.6 201.6,462.0 C208.7,459.4 216.9,457.0 220.0,456.0" fill="none" stroke="#000" stroke-width="0.9"/>
<path d="M60.0,482.4 C67.7,483.4 91.7,486.8 105.9,488.4 C120.1,490.0 133.4,492.2 145.4,492.0 C157.4,491.8 165.3,488.8 177.7,487.2 C190.1,485.6 212.9,483.2 220.0,482.4" fill="none" stroke="#000" stroke-width="0.9"/>
<path d="M60.0,505.1 C63.7,504.7 75.5,503.9 82.0,502.7 C88.5,501.5 90.7,498.7 98.7,497.9 C106.7,497.1 120.8,497.7 129.8,497.9 C138.8,498.1 144.6,498.5 152.6,499.1 C160.6,499.7 169.5,500.7 177.7,501.5 C185.9,502.3 194.5,503.9 201.6,503.9 C208.7,503.9 216.9,501.9 220.0,501.5" fill="none" stroke="#000" stroke-width="0.9"/>
</g>
<line x1="60" y1="390.25" x2="65" y2="390.25" stroke="#000" stroke-width="1"/>
<line x1="215" y1="390.25" x2="220" y2="390.25" stroke="#000" stroke-width="1"/>
<line x1="60" y1="447.0" x2="65" y2="447.0" stroke="#000" stroke-width="1"/>
<line x1="215" y1="447.0" x2="220" y2="447.0" stroke="#000" stroke-width="1"/>
<line x1="60" y1="503.75" x2="65" y2="503.75" stroke="#000" stroke-width="1"/>
<line x1="215" y1="503.75" x2="220" y2="503.75" stroke="#000" stroke-width="1"/>
<line x1="119" y1="333.5" x2="119" y2="338.5" stroke="#000" stroke-width="1"/>
<line x1="119" y1="555.5" x2="119" y2="560.5" stroke="#000" stroke-width="1"/>
<line x1="152.6" y1="333.5" x2="152.6" y2="338.5" stroke="#000" stroke-width="1"/>
<line x1="152.6" y1="555.5" x2="152.6" y2="560.5" stroke="#000" stroke-width="1"/>
<line x1="60" y1="447.5" x2="220" y2="447.5" stroke="#a0a0a0" stroke-width="1.0" stroke-dasharray="2.9,2.05"/>
<rect x="60" y="333.5" width="160" height="227.0" fill="none" stroke="#000" stroke-width="1.3"/>
<clipPath id="cb2"><rect x="242" y="333.5" width="159" height="227.0"/></clipPath>
<g clip-path="url(#cb2)">
<path d="M242.0,414.9 C245.8,414.7 257.2,414.1 265.0,413.7 C272.8,413.3 280.9,412.9 288.7,412.5 C296.5,412.1 304.6,411.3 312.0,411.4 C319.4,411.5 327.2,411.8 333.0,413.0 C338.8,414.2 341.8,417.7 347.0,418.4 C352.2,419.1 357.8,417.3 364.0,417.2 C370.2,417.1 377.7,417.3 384.0,417.5 C390.3,417.7 399.0,418.2 402.0,418.4 L402.0,428.9 C395.7,428.3 373.2,425.0 364.0,425.4 C354.8,425.8 352.2,429.6 347.0,431.2 C341.8,432.8 338.8,433.7 333.0,434.7 C327.2,435.7 319.4,436.9 312.0,437.1 C304.6,437.3 296.5,436.9 288.7,435.9 C280.9,434.9 272.8,432.6 265.0,431.2 C257.2,429.8 245.8,428.3 242.0,427.7 Z" fill="#f6b6f6"/>
<path d="M242.0,454.3 C245.9,455.7 257.6,459.4 265.4,462.5 C273.2,465.6 280.9,471.1 288.7,473.0 C296.5,474.9 304.6,473.2 312.0,474.2 C319.4,475.2 325.3,479.7 333.1,478.9 C340.9,478.1 350.6,472.6 358.8,469.5 C367.0,466.4 375.0,462.9 382.2,460.2 C389.4,457.5 398.7,454.4 402.0,453.2" fill="none" stroke="#ffca85" stroke-width="6.5"/>
<path d="M270.0,478.0 C273.1,479.5 281.7,485.7 288.7,487.1 C295.7,488.5 304.6,486.2 312.0,486.6 C319.4,487.0 325.3,489.9 333.1,489.4 C340.9,488.9 352.3,485.5 358.8,483.6 C365.3,481.7 369.8,478.9 372.0,478.0" fill="none" stroke="#ffca85" stroke-width="6" stroke-linecap="round"/>
<path d="M242.0,490.4 C247.8,491.1 268.2,493.4 277.0,494.5 C285.8,495.6 287.1,496.8 294.6,497.2 C302.1,497.6 315.6,496.8 322.0,496.8 C328.4,496.8 326.8,497.3 333.1,497.0 C339.4,496.7 348.5,496.2 360.0,495.0 C371.5,493.8 395.0,490.8 402.0,490.0" fill="none" stroke="#ffca85" stroke-width="5"/>
</g>
<g clip-path="url(#cb2)">
<path d="M242.0,408.3 C243.7,408.4 248.3,410.5 251.9,408.9 C255.6,407.3 259.8,401.9 263.8,398.7 C267.7,395.5 272.5,391.3 275.7,389.7 C278.9,388.1 279.9,388.6 282.8,389.1 C285.8,389.6 289.8,391.5 293.6,392.7 C297.3,393.9 302.0,394.7 305.4,396.3 C308.8,397.9 311.1,401.5 313.7,402.3 C316.4,403.1 318.2,401.2 321.5,401.1 C324.8,401.0 329.4,402.0 333.4,401.7 C337.4,401.4 341.4,400.5 345.4,399.3 C349.3,398.1 353.6,395.2 357.2,394.5 C360.7,393.8 363.7,394.0 366.7,395.1 C369.7,396.2 372.3,399.1 375.1,401.1 C377.8,403.1 380.7,405.5 383.3,407.1 C385.9,408.7 387.5,410.3 390.5,410.7 C393.4,411.1 399.2,409.6 401.0,409.4" fill="none" stroke="#237a2a" stroke-width="0.9"/>
<path d="M242.0,404.7 C243.7,404.5 248.3,405.1 251.9,403.5 C255.6,401.9 259.8,398.0 263.8,395.1 C267.7,392.2 271.7,387.5 275.7,386.2 C279.7,384.9 283.6,386.4 287.6,387.4 C291.6,388.4 295.6,390.3 299.5,392.1 C303.5,393.9 307.7,397.1 311.4,398.1 C315.0,399.1 317.8,398.6 321.5,398.1 C325.2,397.6 329.4,396.1 333.4,395.1 C337.4,394.1 341.4,393.4 345.4,392.1 C349.3,390.8 354.0,388.5 357.2,387.4 C360.3,386.3 361.3,384.9 364.3,385.6 C367.3,386.3 371.3,388.7 375.1,391.5 C378.8,394.3 383.1,399.7 386.9,402.3 C390.6,404.9 395.3,406.2 397.6,407.1 C400.0,408.0 400.4,407.8 401.0,407.9" fill="none" stroke="#237a2a" stroke-width="0.9"/>
<path d="M242.0,399.9 C244.7,399.3 252.3,399.5 257.9,396.3 C263.5,393.1 270.7,383.3 275.7,380.8 C280.6,378.3 283.6,380.5 287.6,381.4 C291.6,382.3 296.0,384.4 299.5,386.2 C303.1,388.0 305.3,390.8 309.0,392.1 C312.6,393.4 317.4,394.0 321.5,393.9 C325.6,393.8 329.4,392.7 333.4,391.5 C337.4,390.3 341.4,388.2 345.4,386.7 C349.3,385.2 353.8,383.6 357.2,382.6 C360.5,381.6 362.5,380.1 365.5,380.8 C368.5,381.5 371.5,383.9 375.1,386.7 C378.6,389.5 382.9,394.7 386.9,397.5 C390.8,400.3 396.5,402.4 398.8,403.5 C401.2,404.6 400.6,404.2 401.0,404.4" fill="none" stroke="#237a2a" stroke-width="0.9"/>
<path d="M242.0,395.1 C245.6,393.5 258.1,388.5 263.8,385.6 C269.4,382.7 271.7,379.3 275.7,377.8 C279.7,376.3 283.6,376.1 287.6,376.6 C291.6,377.1 295.6,379.5 299.5,380.8 C303.5,382.1 307.7,383.9 311.4,384.4 C315.0,384.9 317.8,383.6 321.5,383.8 C325.2,384.0 329.4,385.9 333.4,385.6 C337.4,385.3 341.4,383.4 345.4,382.0 C349.3,380.6 353.8,378.2 357.2,377.2 C360.5,376.2 362.5,375.4 365.5,376.0 C368.5,376.6 371.5,378.2 375.1,380.8 C378.6,383.4 382.9,388.5 386.9,391.5 C390.8,394.5 396.5,397.4 398.8,398.7 C401.2,400.0 400.6,399.3 401.0,399.4" fill="none" stroke="#237a2a" stroke-width="0.9"/>
<path d="M242.0,391.5 C246.6,388.3 263.1,375.7 269.7,372.4 C276.3,369.1 277.7,371.2 281.7,371.8 C285.6,372.4 289.6,374.7 293.6,376.0 C297.5,377.3 300.7,379.2 305.4,379.6 C310.1,380.0 316.8,378.2 321.5,378.4 C326.2,378.6 329.4,381.0 333.4,380.8 C337.4,380.6 341.4,378.6 345.4,377.2 C349.3,375.8 353.8,373.4 357.2,372.4 C360.5,371.4 362.5,370.6 365.5,371.2 C368.5,371.8 371.5,373.4 375.1,376.0 C378.6,378.6 382.9,383.5 386.9,386.7 C390.8,389.9 396.5,393.6 398.8,395.1 C401.2,396.6 400.6,395.8 401.0,395.9" fill="none" stroke="#237a2a" stroke-width="0.9"/>
<path d="M242.0,384.4 C243.7,384.5 246.3,387.4 251.9,385.0 C257.6,382.6 269.7,372.7 275.7,370.0 C281.6,367.3 283.6,368.3 287.6,368.8 C291.6,369.3 295.6,372.2 299.5,373.0 C303.5,373.8 307.7,373.7 311.4,373.6 C315.0,373.5 317.8,371.8 321.5,372.4 C325.2,373.0 329.4,377.2 333.4,377.2 C337.4,377.2 341.4,373.9 345.4,372.4 C349.3,370.9 353.6,369.0 357.2,368.2 C360.7,367.4 363.7,367.1 366.7,367.6 C369.7,368.1 371.7,368.8 375.1,371.2 C378.4,373.6 382.9,378.6 386.9,382.0 C390.8,385.4 396.5,389.8 398.8,391.5 C401.2,393.2 400.6,392.2 401.0,392.4" fill="none" stroke="#237a2a" stroke-width="0.9"/>
<path d="M242.0,380.0 C242.8,380.1 245.3,380.4 247.0,380.3 C248.6,380.2 250.3,379.7 251.9,379.2 C253.6,378.7 255.1,378.0 256.7,377.4 C258.3,376.8 259.9,376.3 261.4,375.6 C263.0,375.0 264.6,374.3 266.2,373.5 C267.8,372.6 269.4,371.6 270.9,370.5 C272.5,369.4 274.2,367.6 275.7,366.7 C277.1,365.8 278.3,365.8 279.7,365.3 C281.0,364.8 282.3,364.2 283.6,363.8 C285.0,363.4 286.3,362.6 287.6,362.6 C288.9,362.6 290.3,363.3 291.6,363.8 C292.9,364.3 294.2,364.9 295.6,365.6 C296.9,366.3 297.9,367.2 299.5,367.9 C301.2,368.6 303.5,369.3 305.5,369.9 C307.4,370.5 309.5,371.2 311.4,371.4 C313.2,371.5 314.7,371.1 316.4,370.9 C318.1,370.7 320.0,369.9 321.5,369.9 C323.0,369.9 324.2,370.7 325.5,371.1 C326.8,371.5 328.1,371.9 329.4,372.4 C330.8,372.8 332.1,373.8 333.4,373.7 C334.8,373.7 336.1,372.5 337.4,372.0 C338.7,371.4 340.1,370.8 341.4,370.3 C342.7,369.8 343.7,369.4 345.4,368.9 C347.0,368.4 349.3,368.0 351.3,367.5 C353.2,367.0 355.4,366.3 357.2,366.0 C359.0,365.6 360.4,365.7 361.9,365.3 C363.5,365.0 365.2,364.1 366.7,364.0 C368.2,363.9 369.5,364.4 370.9,364.7 C372.3,364.9 373.4,364.5 375.1,365.4 C376.7,366.3 379.0,368.4 381.0,370.2 C382.9,372.0 385.2,374.6 386.9,376.3 C388.5,378.0 389.5,379.0 390.9,380.5 C392.2,381.9 393.5,383.6 394.8,384.7 C396.2,385.8 397.8,386.6 398.8,387.1 C399.8,387.6 400.6,387.9 401.0,388.0" fill="none" stroke="#237a2a" stroke-width="0.9"/>
<path d="M242.0,375.6 C242.8,375.7 245.3,375.5 247.0,375.9 C248.6,376.3 250.3,378.4 251.9,378.2 C253.6,377.9 255.1,375.8 256.7,374.4 C258.3,373.1 259.9,371.6 261.4,370.1 C263.0,368.7 264.6,367.2 266.2,365.9 C267.8,364.5 269.4,363.3 270.9,362.2 C272.5,361.2 274.2,359.9 275.7,359.5 C277.1,359.1 278.3,359.8 279.7,360.0 C281.0,360.2 282.3,360.5 283.6,360.7 C285.0,361.0 286.3,360.9 287.6,361.4 C288.9,361.8 290.3,362.8 291.6,363.4 C292.9,363.9 294.2,364.4 295.6,364.7 C296.9,365.1 297.9,365.5 299.5,365.5 C301.2,365.4 303.5,364.6 305.5,364.4 C307.4,364.1 309.5,364.1 311.4,364.0 C313.2,364.0 314.7,364.0 316.4,364.2 C318.1,364.5 320.0,364.7 321.5,365.4 C323.0,366.1 324.2,367.5 325.5,368.5 C326.8,369.5 328.1,370.4 329.4,371.2 C330.8,372.1 332.1,373.3 333.4,373.4 C334.8,373.5 336.1,372.4 337.4,371.7 C338.7,371.0 340.1,370.2 341.4,369.3 C342.7,368.4 343.7,367.6 345.4,366.4 C347.0,365.1 349.3,363.2 351.3,361.9 C353.2,360.5 355.4,358.9 357.2,358.2 C359.0,357.6 360.4,357.9 361.9,358.0 C363.5,358.0 365.2,358.0 366.7,358.6 C368.2,359.2 369.5,360.6 370.9,361.5 C372.3,362.5 373.4,362.8 375.1,364.2 C376.7,365.5 379.0,368.1 381.0,369.7 C382.9,371.3 385.2,372.8 386.9,373.8 C388.5,374.9 389.5,375.1 390.9,375.8 C392.2,376.5 393.5,376.9 394.8,378.0 C396.2,379.2 397.8,381.8 398.8,382.7 C399.8,383.6 400.6,383.5 401.0,383.6" fill="none" stroke="#237a2a" stroke-width="0.9"/>
<path d="M242.0,371.2 C242.8,371.3 245.3,371.6 247.0,371.5 C248.6,371.4 250.3,371.1 251.9,370.7 C253.6,370.2 255.1,369.4 256.7,368.8 C258.3,368.1 259.9,367.6 261.4,366.9 C263.0,366.2 264.6,365.5 266.2,364.6 C267.8,363.8 269.4,362.8 270.9,361.8 C272.5,360.7 274.2,359.0 275.7,358.3 C277.1,357.5 278.3,357.5 279.7,357.0 C281.0,356.6 282.3,356.1 283.6,355.7 C285.0,355.2 286.3,354.5 287.6,354.4 C288.9,354.3 290.3,354.9 291.6,355.2 C292.9,355.6 294.2,356.0 295.6,356.5 C296.9,357.0 297.9,357.7 299.5,358.3 C301.2,358.9 303.5,359.4 305.5,360.1 C307.4,360.8 309.5,361.9 311.4,362.5 C313.2,363.1 314.7,363.3 316.4,363.6 C318.1,364.0 320.0,363.9 321.5,364.4 C323.0,364.9 324.2,366.0 325.5,366.7 C326.8,367.4 328.1,368.0 329.4,368.6 C330.8,369.1 332.1,370.1 333.4,369.9 C334.8,369.7 336.1,368.4 337.4,367.5 C338.7,366.6 340.1,365.6 341.4,364.6 C342.7,363.6 343.7,362.7 345.4,361.6 C347.0,360.5 349.3,359.0 351.3,358.0 C353.2,357.0 355.4,356.0 357.2,355.7 C359.0,355.4 360.4,355.9 361.9,355.9 C363.5,356.0 365.2,355.9 366.7,356.3 C368.2,356.6 369.5,357.7 370.9,358.3 C372.3,358.9 373.4,358.8 375.1,359.8 C376.7,360.8 379.0,362.8 381.0,364.1 C382.9,365.5 385.2,367.0 386.9,368.1 C388.5,369.2 389.5,369.6 390.9,370.5 C392.2,371.3 393.5,371.9 394.8,373.2 C396.2,374.5 397.8,377.3 398.8,378.3 C399.8,379.3 400.6,379.1 401.0,379.2" fill="none" stroke="#237a2a" stroke-width="0.9"/>
<path d="M242.0,366.8 C242.8,366.9 245.3,366.7 247.0,367.1 C248.6,367.5 250.3,369.5 251.9,369.2 C253.6,368.9 255.1,366.7 256.7,365.4 C258.3,364.1 259.9,362.8 261.4,361.4 C263.0,360.1 264.6,358.7 266.2,357.4 C267.8,356.1 269.4,354.8 270.9,353.6 C272.5,352.5 274.2,351.0 275.7,350.4 C277.1,349.8 278.3,350.2 279.7,350.3 C281.0,350.3 282.3,350.4 283.6,350.5 C285.0,350.6 286.3,350.5 287.6,350.9 C288.9,351.4 290.3,352.5 291.6,353.2 C292.9,354.0 294.2,354.8 295.6,355.5 C296.9,356.2 297.9,357.0 299.5,357.5 C301.2,357.9 303.5,358.0 305.5,358.2 C307.4,358.4 309.5,358.6 311.4,358.7 C313.2,358.8 314.7,358.5 316.4,358.6 C318.1,358.7 320.0,358.5 321.5,359.1 C323.0,359.6 324.2,360.9 325.5,361.8 C326.8,362.7 328.1,363.6 329.4,364.4 C330.8,365.2 332.1,366.4 333.4,366.5 C334.8,366.6 336.1,365.4 337.4,364.8 C338.7,364.1 340.1,363.3 341.4,362.6 C342.7,361.8 343.7,361.1 345.4,360.1 C347.0,359.2 349.3,358.0 351.3,356.9 C353.2,355.8 355.4,354.5 357.2,353.8 C359.0,353.1 360.4,353.0 361.9,352.6 C363.5,352.2 365.2,351.3 366.7,351.2 C368.2,351.1 369.5,351.7 370.9,352.0 C372.3,352.2 373.4,351.9 375.1,352.8 C376.7,353.6 379.0,355.6 381.0,357.2 C382.9,358.8 385.2,361.0 386.9,362.5 C388.5,363.9 389.5,364.8 390.9,366.0 C392.2,367.3 393.5,368.6 394.8,369.9 C396.2,371.2 397.8,373.1 398.8,373.9 C399.8,374.7 400.6,374.7 401.0,374.8" fill="none" stroke="#237a2a" stroke-width="0.9"/>
<path d="M242.0,362.4 C242.8,362.5 245.3,362.3 247.0,362.7 C248.6,363.1 250.3,364.9 251.9,364.6 C253.6,364.2 255.1,362.0 256.7,360.7 C258.3,359.3 259.9,357.9 261.4,356.6 C263.0,355.2 264.6,353.8 266.2,352.6 C267.8,351.3 269.4,350.1 270.9,349.0 C272.5,348.0 274.2,346.6 275.7,346.1 C277.1,345.7 278.3,346.2 279.7,346.2 C281.0,346.3 282.3,346.5 283.6,346.7 C285.0,346.8 286.3,346.7 287.6,347.2 C288.9,347.7 290.3,348.8 291.6,349.5 C292.9,350.2 294.2,350.9 295.6,351.5 C296.9,352.2 297.9,352.9 299.5,353.2 C301.2,353.6 303.5,353.4 305.5,353.6 C307.4,353.7 309.5,353.9 311.4,354.0 C313.2,354.1 314.7,354.0 316.4,354.2 C318.1,354.5 320.0,354.7 321.5,355.5 C323.0,356.3 324.2,357.8 325.5,358.9 C326.8,360.0 328.8,361.5 329.4,362.0" fill="none" stroke="#237a2a" stroke-width="0.9"/>
<path d="M337.4,362.8 C338.1,362.5 340.1,361.4 341.4,360.5 C342.7,359.7 343.7,358.9 345.4,357.8 C347.0,356.6 349.3,355.0 351.3,353.6 C353.2,352.2 355.4,350.4 357.2,349.4 C359.0,348.4 360.4,348.0 361.9,347.4 C363.5,346.7 365.2,345.7 366.7,345.5 C368.2,345.3 369.5,345.9 370.9,346.3 C372.3,346.6 373.4,346.3 375.1,347.4 C376.7,348.5 379.0,350.8 381.0,352.7 C382.9,354.6 385.2,357.2 386.9,359.0 C388.5,360.7 389.5,361.7 390.9,363.0 C392.2,364.4 393.5,366.0 394.8,367.1 C396.2,368.2 397.8,369.0 398.8,369.5 C399.8,370.0 400.6,370.3 401.0,370.4" fill="none" stroke="#237a2a" stroke-width="0.9"/>
<path d="M242.0,358.0 C242.8,358.1 245.3,358.5 247.0,358.3 C248.6,358.1 250.3,357.5 251.9,356.8 C253.6,356.0 255.1,354.6 256.7,353.7 C258.3,352.8 259.9,352.1 261.4,351.5 C263.0,350.8 264.6,350.3 266.2,349.8 C267.8,349.2 269.4,348.7 270.9,348.0 C272.5,347.3 274.2,346.1 275.7,345.6 C277.1,345.1 278.3,345.3 279.7,345.0 C281.0,344.7 282.3,344.2 283.6,343.8 C285.0,343.3 286.3,342.5 287.6,342.3 C288.9,342.1 290.3,342.5 291.6,342.7 C292.9,342.9 294.2,343.1 295.6,343.5 C296.9,343.9 297.9,344.4 299.5,345.0 C301.2,345.6 303.5,346.1 305.5,347.0 C307.4,347.9 309.5,349.5 311.4,350.5 C313.2,351.4 314.7,352.1 316.4,352.9 C318.1,353.6 320.0,354.1 321.5,355.0 C323.0,355.9 324.2,357.2 325.5,358.2 C326.8,359.1 328.8,360.2 329.4,360.7" fill="none" stroke="#237a2a" stroke-width="0.9"/>
<path d="M337.4,359.5 C338.1,359.0 340.1,357.3 341.4,356.1 C342.7,354.9 343.7,353.8 345.4,352.5 C347.0,351.1 349.3,349.4 351.3,348.1 C353.2,346.9 355.4,345.8 357.2,345.1 C359.0,344.5 360.4,344.7 361.9,344.4 C363.5,344.0 365.2,343.3 366.7,343.2 C368.2,343.1 369.5,343.7 370.9,343.9 C372.3,344.1 373.4,343.6 375.1,344.4 C376.7,345.2 379.0,346.9 381.0,348.4 C382.9,350.0 385.2,352.2 386.9,353.7 C388.5,355.3 389.5,356.3 390.9,357.6 C392.2,359.0 393.5,360.6 394.8,361.9 C396.2,363.1 397.8,364.4 398.8,365.1 C399.8,365.8 400.6,365.9 401.0,366.0" fill="none" stroke="#237a2a" stroke-width="0.9"/>
<path d="M242.0,353.6 C242.8,353.7 245.3,353.8 247.0,353.9 C248.6,354.0 250.3,354.6 251.9,354.0 C253.6,353.4 255.1,351.4 256.7,350.1 C258.3,348.9 259.9,347.6 261.4,346.5 C263.0,345.3 264.6,344.2 266.2,343.2 C267.8,342.2 269.4,341.2 270.9,340.4 C272.5,339.5 274.2,338.3 275.7,337.9 C277.1,337.5 278.3,338.1 279.7,338.2 C281.0,338.3 282.3,338.4 283.6,338.5 C285.0,338.7 286.3,338.5 287.6,338.9 C288.9,339.3 290.3,340.3 291.6,341.0 C292.9,341.6 294.2,342.2 295.6,342.8 C296.9,343.4 297.9,344.2 299.5,344.6 C301.2,345.0 303.5,344.9 305.5,345.2 C307.4,345.5 309.5,346.0 311.4,346.4 C313.2,346.8 314.7,347.0 316.4,347.6 C318.1,348.1 320.0,348.6 321.5,349.6 C323.0,350.6 324.8,352.8 325.5,353.5" fill="none" stroke="#237a2a" stroke-width="0.9"/>
<path d="M341.4,353.9 C342.0,353.3 343.7,351.7 345.4,350.3 C347.0,348.9 349.3,346.8 351.3,345.3 C353.2,343.9 355.4,342.2 357.2,341.4 C359.0,340.5 360.4,340.5 361.9,340.1 C363.5,339.7 365.2,339.0 366.7,339.1 C368.2,339.1 369.5,339.8 370.9,340.1 C372.3,340.5 373.4,340.3 375.1,341.2 C376.7,342.0 379.0,343.9 381.0,345.4 C382.9,346.8 385.2,348.6 386.9,349.8 C388.5,350.9 389.5,351.5 390.9,352.5 C392.2,353.5 393.5,354.2 394.8,355.5 C396.2,356.9 397.8,359.7 398.8,360.7 C399.8,361.7 400.6,361.5 401.0,361.6" fill="none" stroke="#237a2a" stroke-width="0.9"/>
<path d="M242.0,349.2 C242.8,349.3 245.3,349.6 247.0,349.5 C248.6,349.4 250.3,349.3 251.9,348.5 C253.6,347.8 255.1,346.0 256.7,344.9 C258.3,343.8 259.9,342.8 261.4,341.9 C263.0,341.1 264.6,340.4 266.2,339.8 C267.8,339.1 269.4,338.6 270.9,338.0 C272.5,337.4 274.2,336.4 275.7,336.1 C277.1,335.8 278.3,336.3 279.7,336.3 C281.0,336.3 282.3,336.2 283.6,336.0 C285.0,335.8 286.3,335.1 287.6,335.1 C288.9,335.0 290.3,335.5 291.6,335.6 C292.9,335.8 294.2,335.9 295.6,336.1 C296.9,336.3 297.9,336.6 299.5,336.8 C301.2,337.1 303.5,336.9 305.5,337.6 C307.4,338.2 309.5,339.5 311.4,340.6 C313.2,341.7 314.7,342.8 316.4,344.1 C318.1,345.3 320.0,346.7 321.5,348.1 C323.0,349.6 324.8,352.1 325.5,352.9" fill="none" stroke="#237a2a" stroke-width="0.9"/>
<path d="M341.4,351.7 C342.0,350.8 343.7,348.6 345.4,346.5 C347.0,344.4 349.3,341.4 351.3,339.3 C353.2,337.3 355.4,335.2 357.2,334.3 C359.0,333.3 360.4,333.5 361.9,333.4 C363.5,333.3 365.2,333.2 366.7,333.6 C368.2,334.0 369.5,335.2 370.9,336.0 C372.3,336.7 373.4,336.9 375.1,338.1 C376.7,339.2 379.0,341.5 381.0,342.9 C382.9,344.4 385.2,345.9 386.9,346.9 C388.5,348.0 389.5,348.3 390.9,349.1 C392.2,349.8 393.5,350.3 394.8,351.5 C396.2,352.7 397.8,355.3 398.8,356.3 C399.8,357.3 400.6,357.1 401.0,357.2" fill="none" stroke="#237a2a" stroke-width="0.9"/>
<path d="M242.0,344.8 C242.8,344.9 245.3,345.3 247.0,345.1 C248.6,344.9 250.3,344.5 251.9,343.7 C253.6,342.9 255.1,341.4 256.7,340.4 C258.3,339.4 259.9,338.4 261.4,337.5 C263.0,336.6 264.6,335.8 266.2,335.0 C267.8,334.2 269.4,333.5 270.9,332.7 C272.5,332.0 274.2,330.9 275.7,330.6 C277.1,330.3 278.3,330.8 279.7,330.9 C281.0,331.0 282.3,331.1 283.6,331.1 C285.0,331.1 286.3,330.8 287.6,331.1 C288.9,331.4 290.3,332.2 291.6,332.7 C292.9,333.2 294.2,333.6 295.6,334.0 C296.9,334.5 297.9,335.0 299.5,335.3 C301.2,335.6 303.5,335.4 305.5,335.7 C307.4,336.1 309.5,336.8 311.4,337.4 C313.2,338.0 314.7,338.6 316.4,339.5 C318.1,340.4 320.7,342.3 321.5,342.9" fill="none" stroke="#237a2a" stroke-width="0.9"/>
<path d="M341.4,349.0 C342.0,348.3 343.7,346.4 345.4,344.7 C347.0,342.9 349.3,340.4 351.3,338.6 C353.2,336.7 355.4,334.7 357.2,333.5 C359.0,332.3 360.4,332.1 361.9,331.5 C363.5,331.0 365.2,330.1 366.7,330.0 C368.2,329.9 369.5,330.6 370.9,330.8 C372.3,331.1 373.4,330.9 375.1,331.8 C376.7,332.6 379.0,334.5 381.0,336.0 C382.9,337.5 385.2,339.4 386.9,340.7 C388.5,341.9 389.5,342.6 390.9,343.6 C392.2,344.6 393.5,345.4 394.8,346.8 C396.2,348.2 397.8,350.9 398.8,351.9 C399.8,352.9 400.6,352.7 401.0,352.8" fill="none" stroke="#237a2a" stroke-width="0.9"/>
<path d="M242.0,340.4 C242.8,340.5 245.3,340.8 247.0,340.7 C248.6,340.6 250.3,340.5 251.9,340.1 C253.6,339.6 255.1,338.8 256.7,338.2 C258.3,337.5 259.9,336.9 261.4,336.2 C263.0,335.5 264.6,334.8 266.2,333.9 C267.8,333.0 269.4,332.0 270.9,330.9 C272.5,329.9 274.2,328.2 275.7,327.4 C277.1,326.6 278.3,326.6 279.7,326.1 C281.0,325.7 282.3,325.2 283.6,324.8 C285.0,324.3 286.3,323.6 287.6,323.5 C288.9,323.5 290.3,324.1 291.6,324.4 C292.9,324.8 294.2,325.3 295.6,325.8 C296.9,326.4 297.9,327.1 299.5,327.9 C301.2,328.7 303.5,329.4 305.5,330.5 C307.4,331.6 309.5,333.4 311.4,334.7 C313.2,336.0 314.7,337.2 316.4,338.5 C318.1,339.8 320.7,341.8 321.5,342.5" fill="none" stroke="#237a2a" stroke-width="0.9"/>
<path d="M345.4,339.7 C346.3,338.4 349.3,334.3 351.3,332.2 C353.2,330.1 355.4,328.1 357.2,327.1 C359.0,326.1 360.4,326.3 361.9,326.0 C363.5,325.8 365.2,325.5 366.7,325.7 C368.2,326.0 369.5,327.0 370.9,327.6 C372.3,328.2 373.4,328.2 375.1,329.2 C376.7,330.2 379.0,332.2 381.0,333.6 C382.9,335.0 385.2,336.6 386.9,337.6 C388.5,338.7 389.5,339.1 390.9,339.9 C392.2,340.7 393.5,341.2 394.8,342.5 C396.2,343.8 397.8,346.5 398.8,347.5 C399.8,348.5 400.6,348.3 401.0,348.4" fill="none" stroke="#237a2a" stroke-width="0.9"/>
<path d="M242.0,336.0 C242.8,336.1 245.3,336.5 247.0,336.3 C248.6,336.1 250.3,335.9 251.9,335.1 C253.6,334.3 255.1,332.6 256.7,331.6 C258.3,330.6 259.9,329.8 261.4,329.1 C263.0,328.4 264.6,327.9 266.2,327.3 C267.8,326.7 269.4,326.3 270.9,325.7 C272.5,325.0 274.2,323.9 275.7,323.5 C277.1,323.1 278.3,323.4 279.7,323.1 C281.0,322.9 282.3,322.5 283.6,322.1 C285.0,321.6 286.3,320.8 287.6,320.6 C288.9,320.4 290.3,320.7 291.6,320.9 C292.9,321.1 294.2,321.3 295.6,321.7 C296.9,322.1 297.9,322.6 299.5,323.2 C301.2,323.9 303.5,324.6 305.5,325.8 C307.4,327.0 309.5,329.0 311.4,330.6 C313.2,332.1 314.7,333.4 316.4,334.9 C318.1,336.4 320.7,338.6 321.5,339.3" fill="none" stroke="#237a2a" stroke-width="0.9"/>
<path d="M351.3,330.0 C352.2,329.2 355.4,326.2 357.2,325.0 C359.0,323.9 360.4,323.8 361.9,323.1 C363.5,322.5 365.2,321.5 366.7,321.3 C368.2,321.0 369.5,321.5 370.9,321.6 C372.3,321.7 373.4,321.2 375.1,322.0 C376.7,322.8 379.0,324.6 381.0,326.3 C382.9,327.9 385.2,330.4 386.9,332.0 C388.5,333.7 389.5,334.8 390.9,336.2 C392.2,337.6 393.5,339.4 394.8,340.5 C396.2,341.7 397.8,342.5 398.8,343.1 C399.8,343.7 400.6,343.9 401.0,344.0" fill="none" stroke="#237a2a" stroke-width="0.9"/>
<path d="M242.0,331.6 C242.8,331.7 245.3,331.5 247.0,331.9 C248.6,332.3 250.3,334.4 251.9,334.1 C253.6,333.9 255.1,331.8 256.7,330.5 C258.3,329.3 259.9,327.8 261.4,326.4 C263.0,325.1 264.6,323.6 266.2,322.3 C267.8,320.9 269.4,319.6 270.9,318.4 C272.5,317.2 274.2,315.8 275.7,315.2 C277.1,314.7 278.3,315.2 279.7,315.2 C281.0,315.3 282.3,315.5 283.6,315.6 C285.0,315.8 286.3,315.8 287.6,316.3 C288.9,316.8 290.3,317.9 291.6,318.7 C292.9,319.4 294.2,320.2 295.6,320.9 C296.9,321.6 297.9,322.3 299.5,322.8 C301.2,323.3 303.5,323.3 305.5,323.8 C307.4,324.4 309.5,325.1 311.4,325.9 C313.2,326.8 315.6,328.3 316.4,328.8" fill="none" stroke="#237a2a" stroke-width="0.9"/>
<path d="M351.3,327.8 C352.2,326.5 355.4,322.0 357.2,320.1 C359.0,318.2 360.4,317.5 361.9,316.4 C363.5,315.4 365.2,314.3 366.7,314.0 C368.2,313.8 369.5,314.5 370.9,314.9 C372.3,315.4 373.4,315.3 375.1,316.7 C376.7,318.0 379.0,320.8 381.0,323.0 C382.9,325.2 385.2,328.1 386.9,329.9 C388.5,331.7 389.5,332.6 390.9,333.9 C392.2,335.2 393.5,336.7 394.8,337.5 C396.2,338.3 397.8,338.3 398.8,338.7 C399.8,339.1 400.6,339.5 401.0,339.6" fill="none" stroke="#237a2a" stroke-width="0.9"/>
<path d="M242.0,327.2 C242.8,327.3 245.3,327.7 247.0,327.5 C248.6,327.3 250.3,326.6 251.9,325.8 C253.6,325.1 255.1,323.9 256.7,323.1 C258.3,322.3 259.9,321.7 261.4,321.1 C263.0,320.5 264.6,320.1 266.2,319.5 C267.8,318.9 269.4,318.3 270.9,317.5 C272.5,316.7 274.2,315.4 275.7,314.8 C277.1,314.2 278.3,314.3 279.7,313.9 C281.0,313.6 282.3,313.1 283.6,312.6 C285.0,312.1 286.3,311.3 287.6,311.1 C288.9,311.0 290.3,311.4 291.6,311.6 C292.9,311.9 294.2,312.2 295.6,312.7 C296.9,313.2 297.9,313.9 299.5,314.7 C301.2,315.5 303.5,316.3 305.5,317.7 C307.4,319.1 309.5,321.2 311.4,322.9 C313.2,324.6 315.6,327.0 316.4,327.8" fill="none" stroke="#237a2a" stroke-width="0.9"/>
<path d="M357.2,316.7 C358.0,316.4 360.4,315.3 361.9,314.6 C363.5,314.0 365.2,313.1 366.7,312.8 C368.2,312.6 369.5,313.1 370.9,313.3 C372.3,313.4 373.4,313.0 375.1,313.7 C376.7,314.4 379.0,316.1 381.0,317.7 C382.9,319.2 385.2,321.4 386.9,322.9 C388.5,324.4 389.5,325.4 390.9,326.7 C392.2,328.1 393.5,329.7 394.8,330.9 C396.2,332.2 397.8,333.6 398.8,334.3 C399.8,335.0 400.6,335.1 401.0,335.2" fill="none" stroke="#237a2a" stroke-width="0.9"/>
<path d="M242.0,322.8 C242.8,322.9 245.3,322.8 247.0,323.1 C248.6,323.4 250.3,324.9 251.9,324.5 C253.6,324.1 255.1,322.0 256.7,320.7 C258.3,319.4 259.9,318.0 261.4,316.7 C263.0,315.5 264.6,314.2 266.2,313.0 C267.8,311.8 269.4,310.6 270.9,309.5 C272.5,308.4 274.2,307.0 275.7,306.4 C277.1,305.9 278.3,306.3 279.7,306.3 C281.0,306.3 282.3,306.4 283.6,306.5 C285.0,306.5 286.3,306.4 287.6,306.8 C288.9,307.2 290.3,308.3 291.6,309.1 C292.9,309.8 294.2,310.6 295.6,311.4 C296.9,312.2 297.9,313.0 299.5,313.8 C301.2,314.6 303.5,315.1 305.5,316.0 C307.4,317.0 310.4,319.0 311.4,319.6" fill="none" stroke="#237a2a" stroke-width="0.9"/>
<path d="M357.2,312.0 C358.0,311.7 360.4,310.5 361.9,309.9 C363.5,309.4 365.2,308.8 366.7,308.8 C368.2,308.8 369.5,309.7 370.9,310.1 C372.3,310.5 373.4,310.4 375.1,311.4 C376.7,312.3 379.0,314.4 381.0,315.8 C382.9,317.3 385.2,318.9 386.9,320.1 C388.5,321.2 389.5,321.6 390.9,322.5 C392.2,323.3 393.5,323.9 394.8,325.1 C396.2,326.3 397.8,328.9 398.8,329.9 C399.8,330.9 400.6,330.7 401.0,330.8" fill="none" stroke="#237a2a" stroke-width="0.9"/>
<path d="M242.0,318.4 C242.8,318.5 245.3,318.4 247.0,318.7 C248.6,319.0 250.3,320.6 251.9,320.1 C253.6,319.7 255.1,317.5 256.7,316.2 C258.3,314.8 259.9,313.5 261.4,312.2 C263.0,310.9 264.6,309.6 266.2,308.4 C267.8,307.2 269.4,306.0 270.9,305.0 C272.5,304.0 274.2,302.6 275.7,302.2 C277.1,301.7 278.3,302.2 279.7,302.3 C281.0,302.4 282.3,302.6 283.6,302.7 C285.0,302.9 286.3,302.7 287.6,303.2 C288.9,303.7 290.3,304.7 291.6,305.5 C292.9,306.2 294.2,307.0 295.6,307.7 C296.9,308.4 297.9,309.2 299.5,309.8 C301.2,310.4 304.5,311.2 305.5,311.5" fill="none" stroke="#237a2a" stroke-width="0.9"/>
<path d="M361.9,305.9 C362.7,305.5 365.2,303.8 366.7,303.5 C368.2,303.2 369.5,303.7 370.9,303.9 C372.3,304.0 373.4,303.7 375.1,304.5 C376.7,305.4 379.0,307.3 381.0,308.9 C382.9,310.5 385.2,312.6 386.9,314.0 C388.5,315.5 389.5,316.3 390.9,317.5 C392.2,318.7 393.5,320.0 394.8,321.3 C396.2,322.6 397.8,324.6 398.8,325.5 C399.8,326.4 400.6,326.3 401.0,326.4" fill="none" stroke="#237a2a" stroke-width="0.9"/>
<path d="M242.0,383.0 C242.8,382.6 245.1,381.3 246.6,380.2 C248.2,379.1 249.7,377.7 251.2,376.5 C252.8,375.2 254.3,374.1 255.9,372.9 C257.4,371.8 258.9,370.8 260.5,369.8 C262.0,368.8 263.6,367.9 265.1,367.1 C266.6,366.2 268.3,365.0 269.7,364.8 C271.2,364.5 272.4,365.3 273.7,365.6 C275.0,365.8 276.4,366.2 277.7,366.5 C279.0,366.8 280.3,366.8 281.7,367.4 C283.0,367.9 284.3,369.0 285.6,369.7 C287.0,370.5 288.3,371.2 289.6,371.8 C290.9,372.5 291.9,373.0 293.6,373.6 C295.2,374.2 297.5,374.9 299.5,375.4 C301.5,375.9 303.7,376.6 305.4,376.7 C307.1,376.8 308.1,376.2 309.4,376.0 C310.8,375.7 312.1,375.5 313.5,375.3 C314.8,375.2 316.1,375.0 317.5,374.9 C318.8,374.9 320.2,374.6 321.5,374.9 C322.8,375.1 324.2,375.7 325.5,376.2 C326.8,376.7 328.1,377.2 329.4,377.8 C330.8,378.4 332.1,379.3 333.4,379.6 C334.8,379.8 336.1,379.5 337.4,379.4 C338.7,379.4 340.1,379.3 341.4,379.2 C342.7,379.1 343.7,379.2 345.4,378.8 C347.0,378.5 349.3,377.9 351.3,377.3 C353.2,376.6 355.5,375.5 357.2,375.0 C358.9,374.5 360.0,374.5 361.3,374.2 C362.7,373.9 364.0,373.1 365.5,373.2 C367.0,373.3 368.7,374.4 370.3,375.0 C371.9,375.6 373.3,375.7 375.1,376.8 C376.8,378.0 379.0,380.1 381.0,381.9 C382.9,383.8 385.2,386.2 386.9,387.7 C388.5,389.3 389.5,390.0 390.9,391.2 C392.2,392.4 393.5,393.7 394.8,395.0 C396.2,396.3 397.8,398.2 398.8,399.0 C399.8,399.8 400.6,399.8 401.0,400.0" fill="none" stroke="#237a2a" stroke-width="0.9"/>
<path d="M242.0,377.8 C242.8,377.3 245.1,375.6 246.6,375.0 C248.2,374.4 249.7,374.8 251.2,374.2 C252.8,373.6 254.3,372.3 255.9,371.2 C257.4,370.1 258.9,368.8 260.5,367.6 C262.0,366.3 263.6,364.9 265.1,363.6 C266.6,362.4 268.3,360.5 269.7,359.8 C271.2,359.1 272.4,359.5 273.7,359.4 C275.0,359.4 276.4,359.4 277.7,359.5 C279.0,359.6 280.3,359.5 281.7,360.0 C283.0,360.6 284.3,361.7 285.6,362.6 C287.0,363.5 288.3,364.4 289.6,365.3 C290.9,366.2 291.9,367.0 293.6,368.0 C295.2,369.0 297.5,370.3 299.5,371.3 C301.5,372.2 303.7,373.2 305.4,373.5 C307.1,373.9 308.1,373.3 309.4,373.1 C310.8,373.0 312.1,372.8 313.5,372.6 C314.8,372.4 316.1,372.2 317.5,372.2 C318.8,372.1 320.2,371.8 321.5,372.0 C322.8,372.2 324.2,372.9 325.5,373.4 C326.8,373.9 328.1,374.5 329.4,375.1 C330.8,375.7 332.1,376.7 333.4,377.0 C334.8,377.4 336.1,377.0 337.4,377.0 C338.7,376.9 340.1,376.9 341.4,376.7 C342.7,376.6 343.7,376.6 345.4,376.2 C347.0,375.7 349.3,374.8 351.3,374.0 C353.2,373.1 355.5,371.7 357.2,370.9 C358.9,370.2 360.0,370.0 361.3,369.5 C362.7,369.1 364.0,368.1 365.5,368.1 C367.0,368.2 368.7,369.2 370.3,369.9 C371.9,370.6 373.3,370.8 375.1,372.2 C376.8,373.7 379.0,376.3 381.0,378.5 C382.9,380.8 385.2,383.8 386.9,385.7 C388.5,387.5 389.5,388.5 390.9,389.8 C392.2,391.2 393.5,392.9 394.8,393.8 C396.2,394.7 397.8,395.0 398.8,395.5 C399.8,395.9 400.6,396.3 401.0,396.4" fill="none" stroke="#237a2a" stroke-width="0.9"/>
<path d="M242.0,375.8 C242.8,375.3 245.1,373.5 246.6,372.9 C248.2,372.2 249.7,372.7 251.2,372.0 C252.8,371.2 254.3,369.8 255.9,368.5 C257.4,367.3 258.9,365.9 260.5,364.6 C262.0,363.2 263.6,361.8 265.1,360.4 C266.6,359.1 268.3,357.3 269.7,356.6 C271.2,355.9 272.4,356.4 273.7,356.4 C275.0,356.4 276.4,356.5 277.7,356.7 C279.0,356.9 280.3,356.9 281.7,357.5 C283.0,358.1 284.3,359.3 285.6,360.2 C287.0,361.0 288.3,362.0 289.6,362.8 C290.9,363.6 291.9,364.4 293.6,365.2 C295.2,366.0 297.5,366.9 299.5,367.5 C301.5,368.1 303.7,368.8 305.4,368.9 C307.1,369.0 308.1,368.4 309.4,368.2 C310.8,368.0 312.1,367.8 313.5,367.7 C314.8,367.7 316.1,367.7 317.5,367.8 C318.8,368.0 320.2,368.1 321.5,368.6 C322.8,369.1 324.2,370.1 325.5,371.0 C326.8,371.8 328.1,372.7 329.4,373.5 C330.8,374.3 332.1,375.5 333.4,375.8 C334.8,376.2 336.1,375.8 337.4,375.6 C338.7,375.4 340.1,375.0 341.4,374.5 C342.7,374.1 343.7,373.8 345.4,372.7 C347.0,371.7 349.3,369.9 351.3,368.4 C353.2,367.0 355.5,364.9 357.2,363.9 C358.9,362.8 360.0,362.6 361.3,362.1 C362.7,361.7 364.0,360.8 365.5,361.0 C367.0,361.3 368.7,362.7 370.3,363.8 C371.9,364.8 373.3,365.5 375.1,367.3 C376.8,369.1 379.0,372.1 381.0,374.5 C382.9,376.8 385.2,379.7 386.9,381.4 C388.5,383.1 389.5,383.6 390.9,384.6 C392.2,385.6 393.5,386.6 394.8,387.3 C396.2,388.0 397.8,388.3 398.8,388.7 C399.8,389.1 400.6,389.5 401.0,389.6" fill="none" stroke="#237a2a" stroke-width="0.9"/>
<path d="M242.0,383.1 C242.8,382.5 245.1,380.7 246.6,379.5 C248.2,378.3 249.7,377.2 251.2,375.9 C252.8,374.5 254.3,372.9 255.9,371.5 C257.4,370.1 258.9,368.6 260.5,367.3 C262.0,365.9 263.6,364.5 265.1,363.2 C266.6,362.0 268.3,360.2 269.7,359.5 C271.2,358.9 272.4,359.3 273.7,359.2 C275.0,359.1 276.4,359.0 277.7,359.0 C279.0,359.0 280.3,358.7 281.7,359.0 C283.0,359.3 284.3,360.2 285.6,360.7 C287.0,361.3 288.3,361.9 289.6,362.5 C290.9,363.1 291.9,363.6 293.6,364.2 C295.2,364.8 297.5,365.6 299.5,366.3 C301.5,367.0 303.7,367.9 305.4,368.2 C307.1,368.5 308.1,368.0 309.4,367.9 C310.8,367.9 312.1,367.8 313.5,367.7 C314.8,367.7 316.1,367.7 317.5,367.7 C318.8,367.6 320.2,367.5 321.5,367.6 C322.8,367.8 324.2,368.4 325.5,368.6 C326.8,368.9 328.1,369.2 329.4,369.4 C330.8,369.5 332.1,370.0 333.4,369.7 C334.8,369.3 336.1,368.3 337.4,367.5 C338.7,366.7 340.1,365.8 341.4,364.9 C342.7,364.1 343.7,363.5 345.4,362.3 C347.0,361.2 349.3,359.4 351.3,358.2 C353.2,356.9 355.5,355.5 357.2,354.8 C358.9,354.2 360.0,354.3 361.3,354.0 C362.7,353.8 364.0,353.1 365.5,353.4 C367.0,353.7 368.7,355.0 370.3,355.7 C371.9,356.5 373.3,356.8 375.1,357.9 C376.8,359.1 379.0,361.1 381.0,362.6 C382.9,364.0 385.2,365.8 386.9,366.8 C388.5,367.8 389.5,368.0 390.9,368.6 C392.2,369.2 393.5,369.6 394.8,370.3 C396.2,371.1 397.8,372.4 398.8,372.9 C399.8,373.4 400.6,373.4 401.0,373.5" fill="none" stroke="#237a2a" stroke-width="0.9"/>
<path d="M242.0,378.8 C242.8,378.2 245.1,376.6 246.6,375.2 C248.2,373.8 249.7,372.1 251.2,370.6 C252.8,369.1 254.3,367.7 255.9,366.3 C257.4,364.9 258.9,363.6 260.5,362.4 C262.0,361.2 263.6,360.1 265.1,359.1 C266.6,358.0 268.3,356.6 269.7,356.1 C271.2,355.7 272.4,356.3 273.7,356.4 C275.0,356.5 276.4,356.6 277.7,356.7 C279.0,356.7 280.3,356.6 281.7,356.9 C283.0,357.2 284.3,358.0 285.6,358.4 C287.0,358.9 288.3,359.3 289.6,359.7 C290.9,360.0 291.9,360.3 293.6,360.6 C295.2,360.8 297.5,361.0 299.5,361.2 C301.5,361.4 303.7,361.8 305.4,361.7 C307.1,361.7 308.1,361.1 309.4,361.0 C310.8,360.8 312.1,360.7 313.5,360.8 C314.8,360.8 316.1,361.0 317.5,361.3 C318.8,361.6 320.2,361.8 321.5,362.4 C322.8,363.0 324.2,364.1 325.5,364.9 C326.8,365.7 328.1,366.5 329.4,367.2 C330.8,367.9 332.1,368.8 333.4,368.9 C334.8,369.0 336.1,368.3 337.4,367.8 C338.7,367.2 340.1,366.5 341.4,365.7 C342.7,364.9 343.7,364.3 345.4,362.9 C347.0,361.6 349.3,359.3 351.3,357.5 C353.2,355.6 355.5,353.3 357.2,351.9 C358.9,350.6 360.0,350.2 361.3,349.3 C362.7,348.5 364.0,347.3 365.5,347.1 C367.0,346.8 368.7,347.6 370.3,348.0 C371.9,348.4 373.3,348.4 375.1,349.5 C376.8,350.5 379.0,352.7 381.0,354.5 C382.9,356.3 385.2,358.7 386.9,360.2 C388.5,361.7 389.5,362.4 390.9,363.5 C392.2,364.6 393.5,366.0 394.8,366.8 C396.2,367.6 397.8,368.0 398.8,368.4 C399.8,368.7 400.6,368.9 401.0,369.0" fill="none" stroke="#237a2a" stroke-width="0.9"/>
<path d="M242.0,372.3 C242.8,371.7 245.1,369.7 246.6,368.8 C248.2,367.9 249.7,368.0 251.2,367.0 C252.8,366.0 254.3,364.1 255.9,362.6 C257.4,361.0 258.9,359.4 260.5,357.9 C262.0,356.3 263.6,354.7 265.1,353.3 C266.6,351.9 268.3,350.1 269.7,349.4 C271.2,348.7 272.4,349.2 273.7,349.2 C275.0,349.2 276.4,349.4 277.7,349.5 C279.0,349.7 280.3,349.7 281.7,350.1 C283.0,350.6 284.3,351.7 285.6,352.3 C287.0,353.0 288.3,353.7 289.6,354.2 C290.9,354.8 291.9,355.2 293.6,355.6 C295.2,356.0 297.5,356.3 299.5,356.5 C301.5,356.7 303.7,357.1 305.4,357.0 C307.1,357.0 308.1,356.4 309.4,356.4 C310.8,356.3 312.1,356.3 313.5,356.5 C314.8,356.8 316.1,357.2 317.5,357.7 C318.8,358.3 320.2,358.9 321.5,359.8 C322.8,360.7 324.2,362.2 325.5,363.2 C326.8,364.3 328.1,365.5 329.4,366.3 C330.8,367.1 332.1,368.2 333.4,368.3 C334.8,368.3 336.1,367.5 337.4,366.8 C338.7,366.0 340.1,364.9 341.4,363.8 C342.7,362.6 343.7,361.6 345.4,359.7 C347.0,357.8 349.3,354.7 351.3,352.4 C353.2,350.2 355.5,347.6 357.2,346.2 C358.9,344.8 360.0,344.6 361.3,344.1 C362.7,343.5 364.0,342.7 365.5,343.0 C367.0,343.3 368.7,344.8 370.3,345.8 C371.9,346.9 373.3,347.6 375.1,349.1 C376.8,350.7 379.0,353.4 381.0,355.3 C382.9,357.1 385.2,359.1 386.9,360.3 C388.5,361.5 389.5,361.6 390.9,362.2 C392.2,362.8 393.5,363.1 394.8,363.8 C396.2,364.4 397.8,365.6 398.8,366.1 C399.8,366.6 400.6,366.6 401.0,366.7" fill="none" stroke="#237a2a" stroke-width="0.9"/>
<path d="M242.0,357.3 C242.8,356.8 245.1,355.7 246.6,354.4 C248.2,353.1 249.7,350.8 251.2,349.6 C252.8,348.4 254.3,348.0 255.9,347.4 C257.4,346.8 258.9,346.3 260.5,345.7 C262.0,345.2 263.6,344.7 265.1,344.1 C266.6,343.5 268.3,342.4 269.7,342.0 C271.2,341.7 272.4,342.2 273.7,342.2 C275.0,342.1 276.4,341.9 277.7,341.7 C279.0,341.5 280.3,340.9 281.7,340.8 C283.0,340.8 284.3,341.2 285.6,341.4 C287.0,341.6 288.3,341.8 289.6,342.2 C290.9,342.6 291.9,342.8 293.6,343.5 C295.2,344.2 297.5,345.3 299.5,346.5 C301.5,347.7 303.7,349.8 305.4,350.9 C307.1,352.0 308.1,352.3 309.4,353.0 C310.8,353.7 312.1,354.6 313.5,355.3 C314.8,356.1 316.1,356.9 317.5,357.6 C318.8,358.3 320.2,358.9 321.5,359.6 C322.8,360.4 324.2,361.4 325.5,362.1 C326.8,362.8 328.8,363.5 329.4,363.8" fill="none" stroke="#237a2a" stroke-width="0.9"/>
<path d="M337.4,362.4 C338.1,362.0 340.1,360.7 341.4,359.9 C342.7,359.0 343.7,358.4 345.4,357.3 C347.0,356.2 349.3,354.6 351.3,353.4 C353.2,352.2 355.5,350.9 357.2,350.2 C358.9,349.5 360.0,349.5 361.3,349.1 C362.7,348.8 364.0,347.9 365.5,347.9 C367.0,347.9 368.7,348.8 370.3,349.2 C371.9,349.7 373.3,349.6 375.1,350.5 C376.8,351.5 379.0,353.4 381.0,355.1 C382.9,356.8 385.2,359.3 386.9,360.9 C388.5,362.5 389.5,363.4 390.9,364.8 C392.2,366.1 393.5,367.7 394.8,368.9 C396.2,370.1 397.8,371.3 398.8,372.0 C399.8,372.6 400.6,372.8 401.0,372.9" fill="none" stroke="#237a2a" stroke-width="0.9"/>
<path d="M242.0,365.7 C242.8,365.1 245.1,363.4 246.6,362.1 C248.2,360.8 249.7,359.2 251.2,358.2 C252.8,357.1 254.3,356.6 255.9,355.7 C257.4,354.8 258.9,354.0 260.5,353.0 C262.0,352.0 263.6,350.9 265.1,349.7 C266.6,348.5 268.3,346.6 269.7,345.7 C271.2,344.9 272.4,344.9 273.7,344.4 C275.0,344.0 276.4,343.4 277.7,342.9 C279.0,342.4 280.3,341.6 281.7,341.4 C283.0,341.2 284.3,341.6 285.6,341.7 C287.0,341.9 288.3,342.2 289.6,342.5 C290.9,342.9 291.9,343.2 293.6,343.8 C295.2,344.5 297.5,345.4 299.5,346.5 C301.5,347.5 303.7,349.3 305.4,350.1 C307.1,350.9 308.1,350.9 309.4,351.4 C310.8,351.9 312.1,352.4 313.5,353.0 C314.8,353.5 316.1,354.1 317.5,354.7 C318.8,355.2 320.2,355.6 321.5,356.3 C322.8,356.9 324.2,357.9 325.5,358.5 C326.8,359.1 328.8,359.6 329.4,359.9" fill="none" stroke="#237a2a" stroke-width="0.9"/>
<path d="M337.4,357.4 C338.1,356.8 340.1,355.1 341.4,353.8 C342.7,352.6 343.7,351.6 345.4,350.0 C347.0,348.5 349.3,346.1 351.3,344.4 C353.2,342.7 355.5,340.9 357.2,339.9 C358.9,338.9 360.0,338.8 361.3,338.3 C362.7,337.8 364.0,336.9 365.5,336.8 C367.0,336.7 368.7,337.6 370.3,337.9 C371.9,338.2 373.3,338.0 375.1,338.7 C376.8,339.4 379.0,340.8 381.0,342.0 C382.9,343.2 385.2,344.9 386.9,345.9 C388.5,346.9 389.5,347.4 390.9,348.2 C392.2,349.1 393.5,349.9 394.8,351.1 C396.2,352.2 397.8,354.3 398.8,355.1 C399.8,355.9 400.6,355.6 401.0,355.7" fill="none" stroke="#237a2a" stroke-width="0.9"/>
<path d="M242.0,336.4 C242.5,336.3 244.0,336.1 245.0,335.9 C246.0,335.7 247.0,335.5 248.0,335.2 C249.0,334.9 249.9,334.6 250.9,334.3 C251.9,334.0 252.9,333.6 253.9,333.2 C254.9,332.8 255.9,332.4 256.9,331.9 C257.9,331.4 258.9,330.9 259.9,330.4 C260.9,329.9 261.9,329.3 262.9,328.7 C263.9,328.1 264.9,327.5 265.9,326.8 C266.8,326.1 267.8,325.4 268.8,324.7 C269.8,324.0 271.3,322.8 271.8,322.4" fill="none" stroke="#237a2a" stroke-width="0.9"/>
<path d="M242.0,340.0 C242.5,339.9 244.0,339.7 245.0,339.5 C246.0,339.3 247.0,339.0 248.0,338.7 C249.0,338.4 249.9,338.1 250.9,337.7 C251.9,337.3 252.9,336.9 253.9,336.5 C254.9,336.0 255.9,335.5 256.9,335.0 C257.9,334.5 258.9,333.9 259.9,333.3 C260.9,332.7 261.9,332.0 262.9,331.3 C263.9,330.6 264.9,329.9 265.9,329.1 C266.8,328.3 267.8,327.5 268.8,326.7 C269.8,325.8 271.3,324.4 271.8,324.0" fill="none" stroke="#237a2a" stroke-width="0.9"/>
<path d="M242.0,343.6 C242.5,343.5 244.0,343.3 245.0,343.1 C246.0,342.8 247.0,342.6 248.0,342.2 C249.0,341.9 249.9,341.6 250.9,341.1 C251.9,340.7 252.9,340.3 253.9,339.8 C254.9,339.3 255.9,338.7 256.9,338.1 C257.9,337.5 258.9,336.9 259.9,336.2 C260.9,335.5 261.9,334.7 262.9,333.9 C263.9,333.2 264.9,332.3 265.9,331.4 C266.8,330.6 267.8,329.6 268.8,328.7 C269.8,327.7 271.3,326.1 271.8,325.6" fill="none" stroke="#237a2a" stroke-width="0.9"/>
<path d="M242.0,347.2 C242.5,347.1 244.0,346.9 245.0,346.6 C246.0,346.4 247.0,346.1 248.0,345.8 C249.0,345.4 249.9,345.0 250.9,344.6 C251.9,344.1 252.9,343.6 253.9,343.0 C254.9,342.5 255.9,341.9 256.9,341.2 C257.9,340.5 258.9,339.8 259.9,339.0 C260.9,338.3 261.9,337.4 262.9,336.6 C263.9,335.7 264.9,334.7 265.9,333.8 C266.8,332.8 267.8,331.7 268.8,330.6 C269.8,329.5 271.3,327.8 271.8,327.2" fill="none" stroke="#237a2a" stroke-width="0.9"/>
<path d="M242.0,350.8 C242.5,350.7 244.0,350.5 245.0,350.2 C246.0,350.0 247.0,349.7 248.0,349.3 C249.0,348.9 249.9,348.5 250.9,348.0 C251.9,347.5 252.9,346.9 253.9,346.3 C254.9,345.7 255.9,345.0 256.9,344.3 C257.9,343.6 258.9,342.8 259.9,341.9 C260.9,341.1 261.9,340.2 262.9,339.2 C263.9,338.2 264.9,337.2 265.9,336.1 C266.8,335.0 267.8,333.8 268.8,332.6 C269.8,331.4 271.3,329.4 271.8,328.8" fill="none" stroke="#237a2a" stroke-width="0.9"/>
<path d="M242.0,354.4 C242.5,354.3 244.0,354.1 245.0,353.8 C246.0,353.5 247.0,353.2 248.0,352.8 C249.0,352.4 249.9,351.9 250.9,351.4 C251.9,350.9 252.9,350.3 253.9,349.6 C254.9,348.9 255.9,348.2 256.9,347.4 C257.9,346.6 258.9,345.7 259.9,344.8 C260.9,343.9 261.9,342.9 262.9,341.8 C263.9,340.7 264.9,339.6 265.9,338.4 C266.8,337.2 267.8,335.9 268.8,334.6 C269.8,333.3 271.3,331.1 271.8,330.4" fill="none" stroke="#237a2a" stroke-width="0.9"/>
<path d="M242.0,358.0 C242.5,357.9 244.0,357.7 245.0,357.4 C246.0,357.1 247.0,356.7 248.0,356.3 C249.0,355.9 249.9,355.4 250.9,354.8 C251.9,354.2 252.9,353.6 253.9,352.9 C254.9,352.2 255.9,351.4 256.9,350.5 C257.9,349.6 258.9,348.7 259.9,347.7 C260.9,346.7 261.9,345.6 262.9,344.4 C263.9,343.3 264.9,342.0 265.9,340.7 C266.8,339.4 267.8,338.0 268.8,336.6 C269.8,335.1 271.3,332.8 271.8,332.0" fill="none" stroke="#237a2a" stroke-width="0.9"/>
<path d="M242.0,361.6 C242.5,361.5 244.0,361.3 245.0,361.0 C246.0,360.7 247.0,360.3 248.0,359.8 C249.0,359.4 249.9,358.9 250.9,358.2 C251.9,357.6 252.9,356.9 253.9,356.2 C254.9,355.4 255.9,354.5 256.9,353.6 C257.9,352.7 258.9,351.7 259.9,350.6 C260.9,349.5 261.9,348.3 262.9,347.0 C263.9,345.8 264.9,344.5 265.9,343.0 C266.8,341.6 267.8,340.1 268.8,338.6 C269.8,337.0 271.3,334.4 271.8,333.6" fill="none" stroke="#237a2a" stroke-width="0.9"/>
<path d="M242.0,365.2 C242.5,365.1 244.0,364.8 245.0,364.5 C246.0,364.2 247.0,363.8 248.0,363.4 C249.0,362.9 249.9,362.3 250.9,361.7 C251.9,361.0 252.9,360.3 253.9,359.4 C254.9,358.6 255.9,357.7 256.9,356.7 C257.9,355.7 258.9,354.6 259.9,353.4 C260.9,352.3 261.9,351.0 262.9,349.7 C263.9,348.3 264.9,346.9 265.9,345.4 C266.8,343.8 267.8,342.2 268.8,340.5 C269.8,338.8 271.3,336.1 271.8,335.2" fill="none" stroke="#237a2a" stroke-width="0.9"/>
<path d="M371.2,322.4 C371.7,322.8 373.2,324.0 374.2,324.7 C375.2,325.4 376.2,326.1 377.1,326.8 C378.1,327.5 379.1,328.1 380.1,328.7 C381.1,329.3 382.1,329.9 383.1,330.4 C384.1,330.9 385.1,331.4 386.1,331.9 C387.1,332.4 388.1,332.8 389.1,333.2 C390.1,333.6 391.1,334.0 392.1,334.3 C393.0,334.6 394.0,334.9 395.0,335.2 C396.0,335.5 397.0,335.7 398.0,335.9 C399.0,336.1 400.5,336.3 401.0,336.4" fill="none" stroke="#237a2a" stroke-width="0.9"/>
<path d="M371.2,324.2 C371.7,324.6 373.2,326.0 374.2,326.9 C375.2,327.7 376.2,328.5 377.1,329.3 C378.1,330.1 379.1,330.8 380.1,331.5 C381.1,332.2 382.1,332.9 383.1,333.5 C384.1,334.1 385.1,334.7 386.1,335.2 C387.1,335.7 388.1,336.2 389.1,336.7 C390.1,337.1 391.1,337.5 392.1,337.9 C393.0,338.3 394.0,338.6 395.0,338.9 C396.0,339.2 397.0,339.5 398.0,339.7 C399.0,339.9 400.5,340.1 401.0,340.2" fill="none" stroke="#237a2a" stroke-width="0.9"/>
<path d="M371.2,326.0 C371.7,326.5 373.2,328.1 374.2,329.1 C375.2,330.0 376.2,331.0 377.1,331.8 C378.1,332.7 379.1,333.6 380.1,334.3 C381.1,335.1 382.1,335.9 383.1,336.6 C384.1,337.3 385.1,337.9 386.1,338.5 C387.1,339.1 388.1,339.7 389.1,340.2 C390.1,340.7 391.1,341.1 392.1,341.5 C393.0,342.0 394.0,342.3 395.0,342.6 C396.0,343.0 397.0,343.2 398.0,343.5 C399.0,343.7 400.5,343.9 401.0,344.0" fill="none" stroke="#237a2a" stroke-width="0.9"/>
<path d="M371.2,327.8 C371.7,328.4 373.2,330.1 374.2,331.2 C375.2,332.3 376.2,333.4 377.1,334.4 C378.1,335.3 379.1,336.3 380.1,337.2 C381.1,338.0 382.1,338.9 383.1,339.6 C384.1,340.4 385.1,341.1 386.1,341.8 C387.1,342.5 388.1,343.1 389.1,343.6 C390.1,344.2 391.1,344.7 392.1,345.2 C393.0,345.6 394.0,346.0 395.0,346.4 C396.0,346.7 397.0,347.0 398.0,347.2 C399.0,347.5 400.5,347.7 401.0,347.8" fill="none" stroke="#237a2a" stroke-width="0.9"/>
<path d="M371.2,329.6 C371.7,330.2 373.2,332.2 374.2,333.4 C375.2,334.6 376.2,335.8 377.1,336.9 C378.1,338.0 379.1,339.0 380.1,340.0 C381.1,341.0 382.1,341.9 383.1,342.7 C384.1,343.6 385.1,344.4 386.1,345.1 C387.1,345.8 388.1,346.5 389.1,347.1 C390.1,347.7 391.1,348.3 392.1,348.8 C393.0,349.3 394.0,349.7 395.0,350.1 C396.0,350.5 397.0,350.8 398.0,351.0 C399.0,351.3 400.5,351.5 401.0,351.6" fill="none" stroke="#237a2a" stroke-width="0.9"/>
<path d="M371.2,331.4 C371.7,332.1 373.2,334.3 374.2,335.6 C375.2,336.9 376.2,338.2 377.1,339.4 C378.1,340.6 379.1,341.7 380.1,342.8 C381.1,343.9 382.1,344.9 383.1,345.8 C384.1,346.7 385.1,347.6 386.1,348.4 C387.1,349.2 388.1,349.9 389.1,350.6 C390.1,351.3 391.1,351.9 392.1,352.4 C393.0,352.9 394.0,353.4 395.0,353.8 C396.0,354.2 397.0,354.5 398.0,354.8 C399.0,355.1 400.5,355.3 401.0,355.4" fill="none" stroke="#237a2a" stroke-width="0.9"/>
<path d="M371.2,333.2 C371.7,334.0 373.2,336.3 374.2,337.8 C375.2,339.2 376.2,340.6 377.1,341.9 C378.1,343.2 379.1,344.5 380.1,345.6 C381.1,346.8 382.1,347.9 383.1,348.9 C384.1,349.9 385.1,350.8 386.1,351.7 C387.1,352.6 388.1,353.4 389.1,354.1 C390.1,354.8 391.1,355.4 392.1,356.0 C393.0,356.6 394.0,357.1 395.0,357.5 C396.0,357.9 397.0,358.3 398.0,358.6 C399.0,358.9 400.5,359.1 401.0,359.2" fill="none" stroke="#237a2a" stroke-width="0.9"/>
<path d="M371.2,335.0 C371.7,335.8 373.2,338.4 374.2,340.0 C375.2,341.5 376.2,343.0 377.1,344.4 C378.1,345.9 379.1,347.2 380.1,348.4 C381.1,349.7 382.1,350.9 383.1,352.0 C384.1,353.1 385.1,354.1 386.1,355.0 C387.1,355.9 388.1,356.8 389.1,357.6 C390.1,358.3 391.1,359.0 392.1,359.6 C393.0,360.3 394.0,360.8 395.0,361.2 C396.0,361.7 397.0,362.1 398.0,362.4 C399.0,362.7 400.5,362.9 401.0,363.0" fill="none" stroke="#237a2a" stroke-width="0.9"/>
<path d="M371.2,336.8 C371.7,337.7 373.2,340.4 374.2,342.1 C375.2,343.8 376.2,345.4 377.1,347.0 C378.1,348.5 379.1,349.9 380.1,351.3 C381.1,352.6 382.1,353.9 383.1,355.0 C384.1,356.2 385.1,357.3 386.1,358.3 C387.1,359.3 388.1,360.2 389.1,361.0 C390.1,361.9 391.1,362.6 392.1,363.3 C393.0,363.9 394.0,364.5 395.0,365.0 C396.0,365.4 397.0,365.8 398.0,366.1 C399.0,366.4 400.5,366.7 401.0,366.8" fill="none" stroke="#237a2a" stroke-width="0.9"/>
<path d="M242.0,339.4 C243.0,339.1 246.0,338.7 248.0,337.9 C250.0,337.1 251.9,336.0 253.9,334.4 C255.9,332.8 257.9,330.7 259.9,328.4 C261.9,326.1 263.9,323.4 265.9,320.4 C267.8,317.4 270.8,312.1 271.8,310.4" fill="none" stroke="#237a2a" stroke-width="0.9"/>
<path d="M401.0,340.4 C400.0,340.1 397.0,339.7 395.0,338.9 C393.1,338.1 391.1,337.0 389.1,335.4 C387.1,333.8 385.1,331.7 383.1,329.4 C381.1,327.1 379.1,324.4 377.1,321.4 C375.2,318.4 372.2,313.1 371.2,311.4" fill="none" stroke="#237a2a" stroke-width="0.9"/>
<path d="M242.0,343.6 C243.0,343.3 246.0,342.9 248.0,342.1 C250.0,341.3 251.9,340.2 253.9,338.6 C255.9,337.0 257.9,334.9 259.9,332.6 C261.9,330.3 263.9,327.6 265.9,324.6 C267.8,321.6 270.8,316.3 271.8,314.6" fill="none" stroke="#237a2a" stroke-width="0.9"/>
<path d="M401.0,344.6 C400.0,344.3 397.0,343.9 395.0,343.1 C393.1,342.3 391.1,341.2 389.1,339.6 C387.1,338.0 385.1,335.9 383.1,333.6 C381.1,331.3 379.1,328.6 377.1,325.6 C375.2,322.6 372.2,317.3 371.2,315.6" fill="none" stroke="#237a2a" stroke-width="0.9"/>
<path d="M242.0,347.8 C243.0,347.5 246.0,347.1 248.0,346.3 C250.0,345.5 251.9,344.4 253.9,342.8 C255.9,341.2 257.9,339.1 259.9,336.8 C261.9,334.5 263.9,331.8 265.9,328.8 C267.8,325.8 270.8,320.5 271.8,318.8" fill="none" stroke="#237a2a" stroke-width="0.9"/>
<path d="M401.0,348.8 C400.0,348.5 397.0,348.1 395.0,347.3 C393.1,346.5 391.1,345.4 389.1,343.8 C387.1,342.2 385.1,340.1 383.1,337.8 C381.1,335.5 379.1,332.8 377.1,329.8 C375.2,326.8 372.2,321.5 371.2,319.8" fill="none" stroke="#237a2a" stroke-width="0.9"/>
<path d="M242.0,352.0 C243.0,351.8 246.0,351.3 248.0,350.5 C250.0,349.7 251.9,348.6 253.9,347.0 C255.9,345.4 257.9,343.3 259.9,341.0 C261.9,338.7 263.9,336.0 265.9,333.0 C267.8,330.0 270.8,324.7 271.8,323.0" fill="none" stroke="#237a2a" stroke-width="0.9"/>
<path d="M401.0,353.0 C400.0,352.8 397.0,352.3 395.0,351.5 C393.1,350.7 391.1,349.6 389.1,348.0 C387.1,346.4 385.1,344.3 383.1,342.0 C381.1,339.7 379.1,337.0 377.1,334.0 C375.2,331.0 372.2,325.7 371.2,324.0" fill="none" stroke="#237a2a" stroke-width="0.9"/>
<path d="M242.0,356.2 C243.0,355.9 246.0,355.5 248.0,354.7 C250.0,353.9 251.9,352.8 253.9,351.2 C255.9,349.6 257.9,347.5 259.9,345.2 C261.9,342.9 263.9,340.2 265.9,337.2 C267.8,334.2 270.8,328.9 271.8,327.2" fill="none" stroke="#237a2a" stroke-width="0.9"/>
<path d="M401.0,357.2 C400.0,356.9 397.0,356.5 395.0,355.7 C393.1,354.9 391.1,353.8 389.1,352.2 C387.1,350.6 385.1,348.5 383.1,346.2 C381.1,343.9 379.1,341.2 377.1,338.2 C375.2,335.2 372.2,329.9 371.2,328.2" fill="none" stroke="#237a2a" stroke-width="0.9"/>
<path d="M242.0,360.4 C243.0,360.1 246.0,359.7 248.0,358.9 C250.0,358.1 251.9,357.0 253.9,355.4 C255.9,353.8 257.9,351.7 259.9,349.4 C261.9,347.1 263.9,344.4 265.9,341.4 C267.8,338.4 270.8,333.1 271.8,331.4" fill="none" stroke="#237a2a" stroke-width="0.9"/>
<path d="M401.0,361.4 C400.0,361.1 397.0,360.7 395.0,359.9 C393.1,359.1 391.1,358.0 389.1,356.4 C387.1,354.8 385.1,352.7 383.1,350.4 C381.1,348.1 379.1,345.4 377.1,342.4 C375.2,339.4 372.2,334.1 371.2,332.4" fill="none" stroke="#237a2a" stroke-width="0.9"/>
<path d="M242.0,364.6 C243.0,364.3 246.0,363.9 248.0,363.1 C250.0,362.3 251.9,361.2 253.9,359.6 C255.9,358.0 257.9,355.9 259.9,353.6 C261.9,351.3 263.9,348.6 265.9,345.6 C267.8,342.6 270.8,337.3 271.8,335.6" fill="none" stroke="#237a2a" stroke-width="0.9"/>
<path d="M401.0,365.6 C400.0,365.3 397.0,364.9 395.0,364.1 C393.1,363.3 391.1,362.2 389.1,360.6 C387.1,359.0 385.1,356.9 383.1,354.6 C381.1,352.3 379.1,349.6 377.1,346.6 C375.2,343.6 372.2,338.3 371.2,336.6" fill="none" stroke="#237a2a" stroke-width="0.9"/>
<path d="M242.0,368.8 C243.0,368.5 246.0,368.1 248.0,367.3 C250.0,366.5 251.9,365.4 253.9,363.8 C255.9,362.2 257.9,360.1 259.9,357.8 C261.9,355.5 263.9,352.8 265.9,349.8 C267.8,346.8 270.8,341.5 271.8,339.8" fill="none" stroke="#237a2a" stroke-width="0.9"/>
<path d="M401.0,369.8 C400.0,369.5 397.0,369.1 395.0,368.3 C393.1,367.5 391.1,366.4 389.1,364.8 C387.1,363.2 385.1,361.1 383.1,358.8 C381.1,356.5 379.1,353.8 377.1,350.8 C375.2,347.8 372.2,342.5 371.2,340.8" fill="none" stroke="#237a2a" stroke-width="0.9"/>
<path d="M242.0,406.4 C242.7,406.3 244.7,406.2 246.0,405.8 C247.3,405.4 248.6,404.8 249.9,404.1 C251.3,403.4 252.6,402.6 253.9,401.7 C255.2,400.7 256.6,399.7 257.9,398.6 C259.2,397.5 260.6,396.3 261.9,395.2 C263.2,394.0 264.5,392.8 265.9,391.6 C267.2,390.5 268.5,389.3 269.8,388.2 C271.1,387.1 272.5,386.1 273.8,385.1 C275.1,384.2 276.4,383.4 277.8,382.7 C279.1,382.0 280.4,381.4 281.8,381.0 C283.1,380.6 285.1,380.5 285.7,380.4" fill="none" stroke="#237a2a" stroke-width="0.9"/>
<path d="M242.0,399.9 C242.7,399.8 244.7,399.6 246.0,399.2 C247.3,398.8 248.6,398.1 249.9,397.3 C251.3,396.5 252.6,395.5 253.9,394.4 C255.2,393.4 256.6,392.1 257.9,390.9 C259.2,389.6 260.6,388.3 261.9,386.9 C263.2,385.6 264.5,384.2 265.9,382.9 C267.2,381.5 268.5,380.2 269.8,378.9 C271.1,377.7 272.5,376.4 273.8,375.4 C275.1,374.3 276.4,373.3 277.8,372.5 C279.1,371.7 280.4,371.0 281.8,370.6 C283.1,370.2 285.1,370.0 285.7,369.9" fill="none" stroke="#237a2a" stroke-width="0.9"/>
<path d="M242.0,393.4 C242.7,393.3 244.7,393.1 246.0,392.6 C247.3,392.1 248.6,391.3 249.9,390.4 C251.3,389.5 252.6,388.4 253.9,387.2 C255.2,386.0 256.6,384.6 257.9,383.2 C259.2,381.8 260.6,380.2 261.9,378.7 C263.2,377.2 264.5,375.6 265.9,374.1 C267.2,372.6 268.5,371.0 269.8,369.6 C271.1,368.2 272.5,366.8 273.8,365.6 C275.1,364.4 276.4,363.3 277.8,362.4 C279.1,361.5 280.4,360.7 281.8,360.2 C283.1,359.7 285.1,359.5 285.7,359.4" fill="none" stroke="#237a2a" stroke-width="0.9"/>
<path d="M242.0,386.9 C242.7,386.8 244.7,386.7 246.0,386.3 C247.3,385.9 248.6,385.3 249.9,384.6 C251.3,383.9 252.6,383.1 253.9,382.2 C255.2,381.2 256.6,380.2 257.9,379.1 C259.2,378.0 260.6,376.8 261.9,375.7 C263.2,374.5 264.5,373.3 265.9,372.1 C267.2,371.0 268.5,369.8 269.8,368.7 C271.1,367.6 272.5,366.6 273.8,365.6 C275.1,364.7 276.4,363.9 277.8,363.2 C279.1,362.5 280.4,361.9 281.8,361.5 C283.1,361.1 285.1,361.0 285.7,360.9" fill="none" stroke="#237a2a" stroke-width="0.9"/>
<path d="M242.0,380.4 C242.7,380.3 244.7,380.1 246.0,379.7 C247.3,379.3 248.6,378.6 249.9,377.8 C251.3,377.0 252.6,376.0 253.9,374.9 C255.2,373.9 256.6,372.6 257.9,371.4 C259.2,370.1 260.6,368.8 261.9,367.4 C263.2,366.1 264.5,364.7 265.9,363.4 C267.2,362.0 268.5,360.7 269.8,359.4 C271.1,358.2 272.5,356.9 273.8,355.9 C275.1,354.8 276.4,353.8 277.8,353.0 C279.1,352.2 280.4,351.5 281.8,351.1 C283.1,350.7 285.1,350.5 285.7,350.4" fill="none" stroke="#237a2a" stroke-width="0.9"/>
<path d="M242.0,373.9 C242.7,373.8 244.7,373.6 246.0,373.1 C247.3,372.6 248.6,371.8 249.9,370.9 C251.3,370.0 252.6,368.9 253.9,367.7 C255.2,366.5 256.6,365.1 257.9,363.7 C259.2,362.3 260.6,360.7 261.9,359.2 C263.2,357.7 264.5,356.1 265.9,354.6 C267.2,353.1 268.5,351.5 269.8,350.1 C271.1,348.7 272.5,347.3 273.8,346.1 C275.1,344.9 276.4,343.8 277.8,342.9 C279.1,342.0 280.4,341.2 281.8,340.7 C283.1,340.2 285.1,340.0 285.7,339.9" fill="none" stroke="#237a2a" stroke-width="0.9"/>
<path d="M242.0,367.4 C242.7,367.3 244.7,367.2 246.0,366.8 C247.3,366.4 248.6,365.8 249.9,365.1 C251.3,364.4 252.6,363.6 253.9,362.7 C255.2,361.7 256.6,360.7 257.9,359.6 C259.2,358.5 260.6,357.3 261.9,356.2 C263.2,355.0 264.5,353.8 265.9,352.6 C267.2,351.5 268.5,350.3 269.8,349.2 C271.1,348.1 272.5,347.1 273.8,346.1 C275.1,345.2 276.4,344.4 277.8,343.7 C279.1,343.0 280.4,342.4 281.8,342.0 C283.1,341.6 285.1,341.5 285.7,341.4" fill="none" stroke="#237a2a" stroke-width="0.9"/>
<path d="M242.0,360.9 C242.7,360.8 244.7,360.6 246.0,360.2 C247.3,359.8 248.6,359.1 249.9,358.3 C251.3,357.5 252.6,356.5 253.9,355.4 C255.2,354.4 256.6,353.1 257.9,351.9 C259.2,350.6 260.6,349.3 261.9,347.9 C263.2,346.6 264.5,345.2 265.9,343.9 C267.2,342.5 268.5,341.2 269.8,339.9 C271.1,338.7 272.5,337.4 273.8,336.4 C275.1,335.3 276.4,334.3 277.8,333.5 C279.1,332.7 280.4,332.0 281.8,331.6 C283.1,331.2 285.1,331.0 285.7,330.9" fill="none" stroke="#237a2a" stroke-width="0.9"/>
<path d="M357.3,379.4 C357.9,379.5 359.9,379.6 361.2,380.1 C362.6,380.5 363.9,381.1 365.2,381.8 C366.6,382.6 367.9,383.5 369.2,384.5 C370.5,385.5 371.9,386.7 373.2,387.8 C374.5,389.0 375.8,390.2 377.1,391.5 C378.5,392.7 379.8,394.1 381.1,395.3 C382.4,396.6 383.8,397.8 385.1,399.0 C386.4,400.1 387.8,401.3 389.1,402.3 C390.4,403.3 391.7,404.2 393.1,405.0 C394.4,405.7 395.7,406.3 397.0,406.7 C398.3,407.2 400.3,407.3 401.0,407.4" fill="none" stroke="#237a2a" stroke-width="0.9"/>
<path d="M357.3,369.1 C357.9,369.2 359.9,369.4 361.2,369.8 C362.6,370.3 363.9,371.0 365.2,371.9 C366.6,372.7 367.9,373.8 369.2,374.9 C370.5,376.1 371.9,377.4 373.2,378.7 C374.5,380.0 375.8,381.5 377.1,382.9 C378.5,384.4 379.8,385.8 381.1,387.3 C382.4,388.7 383.8,390.2 385.1,391.5 C386.4,392.8 387.8,394.1 389.1,395.3 C390.4,396.4 391.7,397.5 393.1,398.3 C394.4,399.2 395.7,399.9 397.0,400.4 C398.3,400.8 400.3,401.0 401.0,401.1" fill="none" stroke="#237a2a" stroke-width="0.9"/>
<path d="M357.3,370.8 C357.9,370.9 359.9,371.0 361.2,371.4 C362.6,371.7 363.9,372.3 365.2,372.9 C366.6,373.5 367.9,374.3 369.2,375.2 C370.5,376.0 371.9,377.0 373.2,378.0 C374.5,379.0 375.8,380.1 377.1,381.2 C378.5,382.2 379.8,383.4 381.1,384.4 C382.4,385.5 383.8,386.6 385.1,387.6 C386.4,388.6 387.8,389.6 389.1,390.4 C390.4,391.3 391.7,392.1 393.1,392.7 C394.4,393.3 395.7,393.9 397.0,394.2 C398.3,394.6 400.3,394.7 401.0,394.8" fill="none" stroke="#237a2a" stroke-width="0.9"/>
<path d="M357.3,360.5 C357.9,360.6 359.9,360.7 361.2,361.2 C362.6,361.6 363.9,362.2 365.2,362.9 C366.6,363.7 367.9,364.6 369.2,365.6 C370.5,366.6 371.9,367.8 373.2,368.9 C374.5,370.1 375.8,371.3 377.1,372.6 C378.5,373.8 379.8,375.2 381.1,376.4 C382.4,377.7 383.8,378.9 385.1,380.1 C386.4,381.2 387.8,382.4 389.1,383.4 C390.4,384.4 391.7,385.3 393.1,386.1 C394.4,386.8 395.7,387.4 397.0,387.8 C398.3,388.3 400.3,388.4 401.0,388.5" fill="none" stroke="#237a2a" stroke-width="0.9"/>
<path d="M357.3,350.2 C357.9,350.3 359.9,350.5 361.2,350.9 C362.6,351.4 363.9,352.1 365.2,353.0 C366.6,353.8 367.9,354.9 369.2,356.0 C370.5,357.2 371.9,358.5 373.2,359.8 C374.5,361.1 375.8,362.6 377.1,364.0 C378.5,365.5 379.8,366.9 381.1,368.4 C382.4,369.8 383.8,371.3 385.1,372.6 C386.4,373.9 387.8,375.2 389.1,376.4 C390.4,377.5 391.7,378.6 393.1,379.4 C394.4,380.3 395.7,381.0 397.0,381.5 C398.3,381.9 400.3,382.1 401.0,382.2" fill="none" stroke="#237a2a" stroke-width="0.9"/>
<path d="M357.3,351.9 C357.9,352.0 359.9,352.1 361.2,352.5 C362.6,352.8 363.9,353.4 365.2,354.0 C366.6,354.6 367.9,355.4 369.2,356.3 C370.5,357.1 371.9,358.1 373.2,359.1 C374.5,360.1 375.8,361.2 377.1,362.3 C378.5,363.3 379.8,364.5 381.1,365.5 C382.4,366.6 383.8,367.7 385.1,368.7 C386.4,369.7 387.8,370.7 389.1,371.5 C390.4,372.4 391.7,373.2 393.1,373.8 C394.4,374.4 395.7,375.0 397.0,375.3 C398.3,375.7 400.3,375.8 401.0,375.9" fill="none" stroke="#237a2a" stroke-width="0.9"/>
<path d="M357.3,341.6 C357.9,341.7 359.9,341.8 361.2,342.3 C362.6,342.7 363.9,343.3 365.2,344.0 C366.6,344.8 367.9,345.7 369.2,346.7 C370.5,347.7 371.9,348.9 373.2,350.0 C374.5,351.2 375.8,352.4 377.1,353.7 C378.5,354.9 379.8,356.3 381.1,357.5 C382.4,358.8 383.8,360.0 385.1,361.2 C386.4,362.3 387.8,363.5 389.1,364.5 C390.4,365.5 391.7,366.4 393.1,367.2 C394.4,367.9 395.7,368.5 397.0,368.9 C398.3,369.4 400.3,369.5 401.0,369.6" fill="none" stroke="#237a2a" stroke-width="0.9"/>
<path d="M357.3,331.3 C357.9,331.4 359.9,331.6 361.2,332.0 C362.6,332.5 363.9,333.2 365.2,334.1 C366.6,334.9 367.9,336.0 369.2,337.1 C370.5,338.3 371.9,339.6 373.2,340.9 C374.5,342.2 375.8,343.7 377.1,345.1 C378.5,346.6 379.8,348.0 381.1,349.5 C382.4,350.9 383.8,352.4 385.1,353.7 C386.4,355.0 387.8,356.3 389.1,357.5 C390.4,358.6 391.7,359.7 393.1,360.5 C394.4,361.4 395.7,362.1 397.0,362.6 C398.3,363.0 400.3,363.2 401.0,363.3" fill="none" stroke="#237a2a" stroke-width="0.9"/>
<path d="M242.0,397.4 C242.8,396.9 244.5,396.7 247.0,394.4 C249.5,392.1 253.6,387.4 256.9,383.4 C260.2,379.4 263.5,374.7 266.8,370.4 C270.2,366.1 273.5,361.6 276.8,357.4 C280.1,353.2 285.1,347.4 286.7,345.4" fill="none" stroke="#237a2a" stroke-width="0.9"/>
<path d="M242.0,379.4 C242.8,378.9 244.5,378.7 247.0,376.4 C249.5,374.1 253.6,369.4 256.9,365.4 C260.2,361.4 263.5,356.7 266.8,352.4 C270.2,348.1 273.5,343.6 276.8,339.4 C280.1,335.2 285.1,329.4 286.7,327.4" fill="none" stroke="#237a2a" stroke-width="0.9"/>
<path d="M242.0,361.4 C242.8,360.9 244.5,360.7 247.0,358.4 C249.5,356.1 253.6,351.4 256.9,347.4 C260.2,343.4 263.5,338.7 266.8,334.4 C270.2,330.1 273.5,325.6 276.8,321.4 C280.1,317.2 285.1,311.4 286.7,309.4" fill="none" stroke="#237a2a" stroke-width="0.9"/>
<path d="M341.4,354.4 C343.0,356.4 346.3,362.2 351.3,366.4 C356.3,370.6 365.4,375.1 371.2,379.4 C377.0,383.7 382.0,388.4 386.1,392.4 C390.2,396.4 393.5,401.1 396.0,403.4 C398.5,405.7 400.2,405.9 401.0,406.4" fill="none" stroke="#237a2a" stroke-width="0.9"/>
<path d="M341.4,336.4 C343.0,338.4 346.3,344.2 351.3,348.4 C356.3,352.6 365.4,357.1 371.2,361.4 C377.0,365.7 382.0,370.4 386.1,374.4 C390.2,378.4 393.5,383.1 396.0,385.4 C398.5,387.7 400.2,387.9 401.0,388.4" fill="none" stroke="#237a2a" stroke-width="0.9"/>
<path d="M341.4,318.4 C343.0,320.4 346.3,326.2 351.3,330.4 C356.3,334.6 365.4,339.1 371.2,343.4 C377.0,347.7 382.0,352.4 386.1,356.4 C390.2,360.4 393.5,365.1 396.0,367.4 C398.5,369.7 400.2,369.9 401.0,370.4" fill="none" stroke="#237a2a" stroke-width="0.9"/>
<path d="M315.5,330.4 C316.2,331.2 318.0,332.1 319.8,335.4 C321.6,338.7 324.3,345.2 326.5,350.4 C328.7,355.6 330.8,365.5 332.9,366.5 C335.1,367.5 337.2,359.5 339.4,356.4 C341.6,353.3 343.7,350.1 345.9,348.0 C348.2,345.9 350.2,344.9 353.1,343.8 C356.0,342.7 359.4,342.6 363.2,341.4 C367.1,340.2 374.0,337.2 376.2,336.4" fill="none" stroke="#237a2a" stroke-width="0.9"/>
<path d="M299.6,354.4 C301.6,356.1 307.1,360.7 311.6,364.4 C316.0,368.1 322.8,373.1 326.5,376.4 C330.1,379.7 330.9,384.7 333.4,384.4 C335.9,384.1 338.4,377.7 341.4,374.4 C344.4,371.1 348.0,367.4 351.3,364.4 C354.6,361.4 359.6,357.7 361.2,356.4" fill="none" stroke="#237a2a" stroke-width="0.9"/>
<path d="M299.6,344.4 C301.3,345.4 305.9,348.4 309.6,350.4 C313.2,352.4 317.5,354.9 321.5,356.4 C325.5,357.9 329.4,360.1 333.4,359.4 C337.4,358.7 341.5,354.2 345.4,352.4 C349.2,350.6 352.0,349.7 356.3,348.4 C360.6,347.1 368.7,345.1 371.2,344.4" fill="none" stroke="#237a2a" stroke-width="0.9"/>
<path d="M276.8,337.4 C278.9,337.7 285.9,339.2 289.7,339.4 C293.5,339.6 296.0,337.9 299.6,338.4 C303.3,338.9 307.9,341.1 311.6,342.4 C315.2,343.7 317.9,346.1 321.5,346.4 C325.1,346.7 329.3,345.1 333.4,344.4 C337.6,343.7 341.7,343.6 346.3,342.4 C351.0,341.2 358.8,338.2 361.2,337.4" fill="none" stroke="#237a2a" stroke-width="0.9"/>
<path d="M276.8,344.4 C278.9,344.7 285.9,346.4 289.7,346.4 C293.5,346.4 296.0,344.3 299.6,344.6 C303.3,344.9 307.9,347.3 311.6,348.4 C315.2,349.5 317.9,351.1 321.5,351.4 C325.1,351.7 329.3,351.2 333.4,350.4 C337.6,349.6 341.7,348.1 346.3,346.4 C351.0,344.7 358.8,341.4 361.2,340.4" fill="none" stroke="#237a2a" stroke-width="0.9"/>
<path d="M276.8,350.4 C278.9,350.7 285.9,352.4 289.7,352.4 C293.5,352.4 296.0,349.9 299.6,350.6 C303.3,351.3 307.9,355.1 311.6,356.4 C315.2,357.7 317.9,358.7 321.5,358.4 C325.1,358.1 329.3,355.2 333.4,354.4 C337.6,353.6 341.7,354.4 346.3,353.4 C351.0,352.4 358.8,349.2 361.2,348.4" fill="none" stroke="#237a2a" stroke-width="0.9"/>
<path d="M242.0,545.4 C244.0,545.9 249.8,549.6 253.9,548.4 C258.1,547.2 262.2,542.4 266.8,538.4 C271.5,534.4 276.8,527.7 281.8,524.4 C286.7,521.1 291.7,520.2 296.7,518.4 C301.6,516.6 305.8,514.8 311.6,513.4 C317.4,512.0 326.1,509.9 331.4,509.9 C336.7,509.9 339.2,511.0 343.4,513.4 C347.5,515.8 351.6,520.4 356.3,524.4 C360.9,528.4 366.2,533.9 371.2,537.4 C376.2,540.9 381.1,544.2 386.1,545.4 C391.1,546.6 398.5,544.6 401.0,544.4" fill="none" stroke="#237a2a" stroke-width="0.9"/>
<path d="M243.5,547.2 C245.5,547.9 251.3,552.3 255.4,551.7 C259.6,551.0 263.7,546.7 268.3,543.0 C273.0,539.3 278.3,532.8 283.2,529.5 C288.2,526.1 293.2,524.8 298.1,522.7 C303.1,520.6 307.6,518.3 313.1,516.8 C318.5,515.4 325.7,513.7 330.6,514.0 C335.6,514.2 338.4,515.5 342.6,518.2 C346.7,520.8 350.8,525.8 355.5,529.9 C360.1,534.1 365.4,539.6 370.4,542.9 C375.4,546.2 380.3,548.9 385.3,549.5 C390.3,550.1 397.7,547.1 400.2,546.6" fill="none" stroke="#237a2a" stroke-width="0.9"/>
<path d="M245.0,551.9 C247.0,552.5 252.8,556.7 256.9,555.7 C261.0,554.6 265.2,549.7 269.8,545.5 C274.5,541.4 279.8,534.4 284.7,531.0 C289.7,527.6 294.7,526.8 299.6,525.3 C304.6,523.8 309.5,522.6 314.5,521.9 C319.6,521.3 325.3,521.0 329.8,521.4 C334.4,521.9 337.6,522.5 341.8,524.6 C345.9,526.7 350.1,530.9 354.7,534.2 C359.3,537.6 364.6,542.1 369.6,544.9 C374.6,547.8 379.5,550.3 384.5,551.1 C389.5,551.9 396.9,549.9 399.4,549.7" fill="none" stroke="#237a2a" stroke-width="0.9"/>
<path d="M246.5,553.6 C248.5,554.1 254.3,557.6 258.4,556.5 C262.5,555.4 266.7,550.5 271.3,546.9 C276.0,543.2 281.3,537.2 286.2,534.6 C291.2,532.0 296.2,532.2 301.1,531.2 C306.1,530.3 311.4,529.5 316.0,528.7 C320.7,527.8 324.9,526.5 329.1,526.4 C333.2,526.2 336.8,526.0 341.0,527.7 C345.1,529.4 349.3,533.1 353.9,536.5 C358.5,539.9 363.8,544.9 368.8,548.2 C373.8,551.4 378.7,554.9 383.7,556.1 C388.7,557.2 396.1,555.2 398.6,555.1" fill="none" stroke="#237a2a" stroke-width="0.9"/>
<path d="M248.0,554.3 C249.9,555.0 255.7,559.4 259.9,558.9 C264.0,558.4 268.2,554.5 272.8,551.5 C277.4,548.4 282.7,543.0 287.7,540.6 C292.7,538.1 297.6,537.9 302.6,536.5 C307.6,535.2 313.3,533.4 317.5,532.2 C321.8,531.0 324.5,529.5 328.3,529.4 C332.0,529.2 336.0,529.3 340.2,531.4 C344.3,533.4 348.5,537.9 353.1,541.7 C357.7,545.6 363.0,551.2 368.0,554.4 C373.0,557.7 377.9,560.7 382.9,561.3 C387.9,561.9 395.3,558.4 397.8,557.8" fill="none" stroke="#237a2a" stroke-width="0.9"/>
<path d="M249.5,558.2 C251.4,559.2 257.2,564.4 261.4,564.1 C265.5,563.8 269.7,559.8 274.3,556.4 C278.9,553.1 284.2,546.9 289.2,543.9 C294.2,540.9 299.1,540.1 304.1,538.6 C309.1,537.2 315.1,535.5 319.0,535.0 C322.9,534.5 324.1,534.8 327.5,535.4 C330.9,535.9 335.2,536.2 339.4,538.3 C343.5,540.4 347.7,544.8 352.3,548.2 C356.9,551.6 362.2,556.2 367.2,558.7 C372.2,561.2 377.1,563.1 382.1,563.1 C387.1,563.2 394.5,559.6 397.0,558.8" fill="none" stroke="#237a2a" stroke-width="0.9"/>
<path d="M250.9,562.4 C252.9,563.2 258.7,567.7 262.9,567.0 C267.0,566.2 271.2,561.6 275.8,558.0 C280.4,554.4 285.7,548.1 290.7,545.5 C295.7,542.9 300.6,543.0 305.6,542.2 C310.6,541.5 317.0,541.1 320.5,541.1 C324.0,541.2 323.7,542.1 326.7,542.6 C329.7,543.0 334.5,542.3 338.6,543.8 C342.7,545.2 346.9,548.6 351.5,551.4 C356.1,554.2 361.4,558.1 366.4,560.5 C371.4,562.8 376.4,565.1 381.3,565.6 C386.3,566.0 393.7,563.4 396.2,563.0" fill="none" stroke="#237a2a" stroke-width="0.9"/>
<path d="M273.8,562.4 C276.0,559.7 282.1,551.7 286.7,546.4 C291.4,541.1 295.8,534.7 301.6,530.4 C307.4,526.1 314.9,521.7 321.5,520.4 C328.1,519.1 334.8,520.1 341.4,522.4 C348.0,524.7 354.6,530.4 361.2,534.4 C367.9,538.4 374.5,543.9 381.1,546.4 C387.8,548.9 397.7,548.9 401.0,549.4" fill="none" stroke="#237a2a" stroke-width="0.9"/>
<path d="M273.8,562.4 C276.0,560.1 282.1,553.1 286.7,548.4 C291.4,543.7 295.8,538.4 301.6,534.4 C307.4,530.4 314.9,525.7 321.5,524.4 C328.1,523.1 334.8,524.1 341.4,526.4 C348.0,528.7 354.6,534.6 361.2,538.4 C367.9,542.2 374.5,547.1 381.1,549.4 C387.8,551.7 397.7,551.9 401.0,552.4" fill="none" stroke="#237a2a" stroke-width="0.9"/>
<path d="M262.9,567.1 C263.5,565.9 265.5,562.2 266.8,559.9 C268.2,557.7 269.5,555.6 270.8,553.7 C272.1,551.8 273.5,550.0 274.8,548.4 C276.1,546.8 277.4,545.4 278.8,544.1 C280.1,542.8 281.4,541.7 282.7,540.7 C284.1,539.8 285.4,539.0 286.7,538.3 C288.0,537.7 289.4,537.2 290.7,536.9 C292.0,536.6 293.3,536.4 294.7,536.4 C296.0,536.4 297.3,536.6 298.6,536.9 C300.0,537.2 301.3,537.7 302.6,538.3 C303.9,539.0 305.3,539.8 306.6,540.7 C307.9,541.7 309.2,542.8 310.6,544.1 C311.9,545.4 313.2,546.8 314.5,548.4 C315.9,550.0 317.2,551.8 318.5,553.7 C319.8,555.6 321.2,557.7 322.5,559.9 C323.8,562.2 325.8,565.9 326.5,567.1" fill="none" stroke="#237a2a" stroke-width="0.9"/>
<path d="M261.9,585.4 C262.5,583.8 264.5,578.7 265.9,575.8 C267.2,572.8 268.5,570.0 269.8,567.4 C271.1,564.9 272.5,562.5 273.8,560.4 C275.1,558.3 276.4,556.3 277.8,554.6 C279.1,552.9 280.4,551.4 281.8,550.2 C283.1,548.9 284.4,547.8 285.7,547.0 C287.1,546.1 288.4,545.5 289.7,545.0 C291.0,544.6 292.4,544.4 293.7,544.4 C295.0,544.4 296.3,544.6 297.6,545.0 C299.0,545.5 300.3,546.1 301.6,547.0 C302.9,547.8 304.3,548.9 305.6,550.2 C306.9,551.4 308.2,552.9 309.6,554.6 C310.9,556.3 312.2,558.3 313.6,560.4 C314.9,562.5 316.2,564.9 317.5,567.4 C318.8,570.0 320.2,572.8 321.5,575.8 C322.8,578.7 324.8,583.8 325.5,585.4" fill="none" stroke="#237a2a" stroke-width="0.9"/>
<path d="M301.6,590.6 C302.3,588.6 304.3,582.3 305.6,578.6 C306.9,574.9 308.2,571.4 309.6,568.2 C310.9,565.0 312.2,562.1 313.6,559.4 C314.9,556.7 316.2,554.3 317.5,552.2 C318.8,550.1 320.2,548.2 321.5,546.6 C322.8,545.0 324.2,543.7 325.5,542.6 C326.8,541.5 328.1,540.7 329.4,540.2 C330.8,539.7 332.1,539.4 333.4,539.4 C334.8,539.4 336.1,539.7 337.4,540.2 C338.7,540.7 340.1,541.5 341.4,542.6 C342.7,543.7 344.0,545.0 345.4,546.6 C346.7,548.2 348.0,550.1 349.3,552.2 C350.6,554.3 352.0,556.7 353.3,559.4 C354.6,562.1 355.9,565.0 357.3,568.2 C358.6,571.4 359.9,574.9 361.2,578.6 C362.6,582.3 364.6,588.6 365.2,590.6" fill="none" stroke="#237a2a" stroke-width="0.9"/>
<path d="M299.6,607.8 C300.3,605.4 302.3,597.9 303.6,593.4 C304.9,589.0 306.3,584.8 307.6,581.0 C308.9,577.1 310.2,573.6 311.6,570.4 C312.9,567.2 314.2,564.3 315.5,561.8 C316.9,559.2 318.2,557.0 319.5,555.0 C320.8,553.1 322.2,551.5 323.5,550.2 C324.8,549.0 326.1,548.0 327.5,547.4 C328.8,546.7 330.1,546.4 331.4,546.4 C332.8,546.4 334.1,546.7 335.4,547.4 C336.7,548.0 338.1,549.0 339.4,550.2 C340.7,551.5 342.0,553.1 343.4,555.0 C344.7,557.0 346.0,559.2 347.3,561.8 C348.7,564.3 350.0,567.2 351.3,570.4 C352.6,573.6 354.0,577.1 355.3,581.0 C356.6,584.8 357.9,589.0 359.3,593.4 C360.6,597.9 362.6,605.4 363.2,607.8" fill="none" stroke="#237a2a" stroke-width="0.9"/>
<path d="M242.0,558.4 C245.3,558.7 255.2,560.7 261.9,560.4 C268.5,560.1 275.1,557.7 281.8,556.4 C288.4,555.1 295.0,552.7 301.6,552.4 C308.2,552.1 314.9,554.4 321.5,554.4 C328.1,554.4 334.8,552.1 341.4,552.4 C348.0,552.7 354.6,555.2 361.2,556.4 C367.9,557.6 374.5,559.2 381.1,559.4 C387.8,559.6 397.7,557.7 401.0,557.4" fill="none" stroke="#237a2a" stroke-width="0.9"/>
<path d="M291.7,558.4 C295.0,558.1 304.9,556.4 311.6,556.4 C318.2,556.4 324.8,557.7 331.4,558.4 C338.1,559.1 348.0,560.1 351.3,560.4" fill="none" stroke="#237a2a" stroke-width="0.9"/>
<path d="M341.4,511.4 C344.0,515.7 350.6,528.8 357.2,537.3 C363.8,545.8 377.1,558.2 381.0,562.4" fill="none" stroke="#237a2a" stroke-width="0.9"/>
<path d="M242.0,406.9 C243.7,407.0 248.3,409.1 251.9,407.5 C255.6,405.9 259.8,400.5 263.8,397.3 C267.7,394.1 272.5,389.9 275.7,388.3 C278.9,386.7 279.9,387.2 282.8,387.7 C285.8,388.2 289.8,390.1 293.6,391.3 C297.3,392.5 302.0,393.3 305.4,394.9 C308.8,396.5 311.1,400.1 313.7,400.9 C316.4,401.7 318.2,399.8 321.5,399.7 C324.8,399.6 329.4,400.6 333.4,400.3 C337.4,400.0 341.4,399.1 345.4,397.9 C349.3,396.7 353.6,393.8 357.2,393.1 C360.7,392.4 363.7,392.6 366.7,393.7 C369.7,394.8 372.3,397.7 375.1,399.7 C377.8,401.7 380.7,404.1 383.3,405.7 C385.9,407.3 387.5,408.9 390.5,409.3 C393.4,409.7 399.2,408.2 401.0,408.0" fill="none" stroke="#ff5a00" stroke-width="0.9"/>
<path d="M242.0,403.3 C243.7,403.1 248.3,403.7 251.9,402.1 C255.6,400.5 259.8,396.6 263.8,393.7 C267.7,390.8 271.7,386.1 275.7,384.8 C279.7,383.5 283.6,385.0 287.6,386.0 C291.6,387.0 295.6,388.9 299.5,390.7 C303.5,392.5 307.7,395.7 311.4,396.7 C315.0,397.7 317.8,397.2 321.5,396.7 C325.2,396.2 329.4,394.7 333.4,393.7 C337.4,392.7 341.4,392.0 345.4,390.7 C349.3,389.4 354.0,387.1 357.2,386.0 C360.3,384.9 361.3,383.5 364.3,384.2 C367.3,384.9 371.3,387.3 375.1,390.1 C378.8,392.9 383.1,398.3 386.9,400.9 C390.6,403.5 395.3,404.8 397.6,405.7 C400.0,406.6 400.4,406.4 401.0,406.5" fill="none" stroke="#ff5a00" stroke-width="0.9"/>
<path d="M242.0,398.5 C244.7,397.9 252.3,398.1 257.9,394.9 C263.5,391.7 270.7,381.9 275.7,379.4 C280.6,376.9 283.6,379.1 287.6,380.0 C291.6,380.9 296.0,383.0 299.5,384.8 C303.1,386.6 305.3,389.4 309.0,390.7 C312.6,392.0 317.4,392.6 321.5,392.5 C325.6,392.4 329.4,391.3 333.4,390.1 C337.4,388.9 341.4,386.8 345.4,385.3 C349.3,383.8 353.8,382.2 357.2,381.2 C360.5,380.2 362.5,378.7 365.5,379.4 C368.5,380.1 371.5,382.5 375.1,385.3 C378.6,388.1 382.9,393.3 386.9,396.1 C390.8,398.9 396.5,401.0 398.8,402.1 C401.2,403.2 400.6,402.9 401.0,403.0" fill="none" stroke="#ff5a00" stroke-width="0.9"/>
<path d="M242.0,393.7 C245.6,392.1 258.1,387.1 263.8,384.2 C269.4,381.3 271.7,377.9 275.7,376.4 C279.7,374.9 283.6,374.7 287.6,375.2 C291.6,375.7 295.6,378.1 299.5,379.4 C303.5,380.7 307.7,382.5 311.4,383.0 C315.0,383.5 317.8,382.2 321.5,382.4 C325.2,382.6 329.4,384.5 333.4,384.2 C337.4,383.9 341.4,382.0 345.4,380.6 C349.3,379.2 353.8,376.8 357.2,375.8 C360.5,374.8 362.5,374.0 365.5,374.6 C368.5,375.2 371.5,376.8 375.1,379.4 C378.6,382.0 382.9,387.1 386.9,390.1 C390.8,393.1 396.5,396.0 398.8,397.3 C401.2,398.6 400.6,397.9 401.0,398.0" fill="none" stroke="#ff5a00" stroke-width="0.9"/>
<path d="M242.0,390.1 C246.6,386.9 263.1,374.3 269.7,371.0 C276.3,367.7 277.7,369.8 281.7,370.4 C285.6,371.0 289.6,373.3 293.6,374.6 C297.5,375.9 300.7,377.8 305.4,378.2 C310.1,378.6 316.8,376.8 321.5,377.0 C326.2,377.2 329.4,379.6 333.4,379.4 C337.4,379.2 341.4,377.2 345.4,375.8 C349.3,374.4 353.8,372.0 357.2,371.0 C360.5,370.0 362.5,369.2 365.5,369.8 C368.5,370.4 371.5,372.0 375.1,374.6 C378.6,377.2 382.9,382.1 386.9,385.3 C390.8,388.5 396.5,392.2 398.8,393.7 C401.2,395.2 400.6,394.4 401.0,394.5" fill="none" stroke="#ff5a00" stroke-width="0.9"/>
<path d="M242.0,383.0 C243.7,383.1 246.3,386.0 251.9,383.6 C257.6,381.2 269.7,371.3 275.7,368.6 C281.6,365.9 283.6,366.9 287.6,367.4 C291.6,367.9 295.6,370.8 299.5,371.6 C303.5,372.4 307.7,372.3 311.4,372.2 C315.0,372.1 317.8,370.4 321.5,371.0 C325.2,371.6 329.4,375.8 333.4,375.8 C337.4,375.8 341.4,372.5 345.4,371.0 C349.3,369.5 353.6,367.6 357.2,366.8 C360.7,366.0 363.7,365.7 366.7,366.2 C369.7,366.7 371.7,367.4 375.1,369.8 C378.4,372.2 382.9,377.2 386.9,380.6 C390.8,384.0 396.5,388.4 398.8,390.1 C401.2,391.8 400.6,390.9 401.0,391.0" fill="none" stroke="#ff5a00" stroke-width="0.9"/>
<path d="M242.0,378.6 C242.8,378.7 245.3,379.0 247.0,378.9 C248.6,378.8 250.3,378.3 251.9,377.8 C253.6,377.3 255.1,376.6 256.7,376.0 C258.3,375.4 259.9,374.9 261.4,374.2 C263.0,373.6 264.6,372.9 266.2,372.1 C267.8,371.2 269.4,370.2 270.9,369.1 C272.5,368.0 274.2,366.2 275.7,365.3 C277.1,364.4 278.3,364.4 279.7,363.9 C281.0,363.4 282.3,362.8 283.6,362.4 C285.0,362.0 286.3,361.2 287.6,361.2 C288.9,361.2 290.3,361.9 291.6,362.4 C292.9,362.9 294.2,363.5 295.6,364.2 C296.9,364.9 297.9,365.8 299.5,366.5 C301.2,367.2 303.5,367.9 305.5,368.5 C307.4,369.1 309.5,369.8 311.4,370.0 C313.2,370.1 314.7,369.7 316.4,369.5 C318.1,369.3 320.0,368.5 321.5,368.5 C323.0,368.5 324.2,369.3 325.5,369.7 C326.8,370.1 328.1,370.5 329.4,371.0 C330.8,371.4 332.1,372.4 333.4,372.3 C334.8,372.3 336.1,371.1 337.4,370.6 C338.7,370.0 340.1,369.4 341.4,368.9 C342.7,368.4 343.7,368.0 345.4,367.5 C347.0,367.0 349.3,366.6 351.3,366.1 C353.2,365.6 355.4,364.9 357.2,364.6 C359.0,364.2 360.4,364.3 361.9,363.9 C363.5,363.6 365.2,362.7 366.7,362.6 C368.2,362.5 369.5,363.0 370.9,363.3 C372.3,363.5 373.4,363.1 375.1,364.0 C376.7,364.9 379.0,367.0 381.0,368.8 C382.9,370.6 385.2,373.2 386.9,374.9 C388.5,376.6 389.5,377.6 390.9,379.1 C392.2,380.5 393.5,382.2 394.8,383.3 C396.2,384.4 397.8,385.2 398.8,385.7 C399.8,386.2 400.6,386.5 401.0,386.6" fill="none" stroke="#ff5a00" stroke-width="0.9"/>
<path d="M242.0,374.2 C242.8,374.3 245.3,374.1 247.0,374.5 C248.6,374.9 250.3,377.0 251.9,376.8 C253.6,376.5 255.1,374.4 256.7,373.0 C258.3,371.7 259.9,370.2 261.4,368.7 C263.0,367.3 264.6,365.8 266.2,364.5 C267.8,363.1 269.4,361.9 270.9,360.8 C272.5,359.8 274.2,358.5 275.7,358.1 C277.1,357.7 278.3,358.4 279.7,358.6 C281.0,358.8 282.3,359.1 283.6,359.3 C285.0,359.6 286.3,359.5 287.6,360.0 C288.9,360.4 290.3,361.4 291.6,362.0 C292.9,362.5 294.2,363.0 295.6,363.3 C296.9,363.7 297.9,364.1 299.5,364.1 C301.2,364.0 303.5,363.2 305.5,363.0 C307.4,362.7 309.5,362.7 311.4,362.6 C313.2,362.6 314.7,362.6 316.4,362.8 C318.1,363.1 320.0,363.3 321.5,364.0 C323.0,364.7 324.2,366.1 325.5,367.1 C326.8,368.1 328.1,369.0 329.4,369.8 C330.8,370.7 332.1,371.9 333.4,372.0 C334.8,372.1 336.1,371.0 337.4,370.3 C338.7,369.6 340.1,368.8 341.4,367.9 C342.7,367.0 343.7,366.2 345.4,365.0 C347.0,363.7 349.3,361.8 351.3,360.5 C353.2,359.1 355.4,357.5 357.2,356.8 C359.0,356.2 360.4,356.5 361.9,356.6 C363.5,356.6 365.2,356.6 366.7,357.2 C368.2,357.8 369.5,359.2 370.9,360.1 C372.3,361.1 373.4,361.4 375.1,362.8 C376.7,364.1 379.0,366.7 381.0,368.3 C382.9,369.9 385.2,371.4 386.9,372.4 C388.5,373.5 389.5,373.7 390.9,374.4 C392.2,375.1 393.5,375.5 394.8,376.6 C396.2,377.8 397.8,380.4 398.8,381.3 C399.8,382.2 400.6,382.1 401.0,382.2" fill="none" stroke="#ff5a00" stroke-width="0.9"/>
<path d="M242.0,369.8 C242.8,369.9 245.3,370.2 247.0,370.1 C248.6,370.0 250.3,369.7 251.9,369.3 C253.6,368.8 255.1,368.0 256.7,367.4 C258.3,366.7 259.9,366.2 261.4,365.5 C263.0,364.8 264.6,364.1 266.2,363.2 C267.8,362.4 269.4,361.4 270.9,360.4 C272.5,359.3 274.2,357.6 275.7,356.9 C277.1,356.1 278.3,356.1 279.7,355.6 C281.0,355.2 282.3,354.7 283.6,354.3 C285.0,353.8 286.3,353.1 287.6,353.0 C288.9,352.9 290.3,353.5 291.6,353.8 C292.9,354.2 294.2,354.6 295.6,355.1 C296.9,355.6 297.9,356.3 299.5,356.9 C301.2,357.5 303.5,358.0 305.5,358.7 C307.4,359.4 309.5,360.5 311.4,361.1 C313.2,361.7 314.7,361.9 316.4,362.2 C318.1,362.6 320.0,362.5 321.5,363.0 C323.0,363.5 324.2,364.6 325.5,365.3 C326.8,366.0 328.1,366.6 329.4,367.2 C330.8,367.7 332.1,368.7 333.4,368.5 C334.8,368.3 336.1,367.0 337.4,366.1 C338.7,365.2 340.1,364.2 341.4,363.2 C342.7,362.2 343.7,361.3 345.4,360.2 C347.0,359.1 349.3,357.6 351.3,356.6 C353.2,355.6 355.4,354.6 357.2,354.3 C359.0,354.0 360.4,354.5 361.9,354.5 C363.5,354.6 365.2,354.5 366.7,354.9 C368.2,355.2 369.5,356.3 370.9,356.9 C372.3,357.5 373.4,357.4 375.1,358.4 C376.7,359.4 379.0,361.4 381.0,362.7 C382.9,364.1 385.2,365.6 386.9,366.7 C388.5,367.8 389.5,368.2 390.9,369.1 C392.2,369.9 393.5,370.5 394.8,371.8 C396.2,373.1 397.8,375.9 398.8,376.9 C399.8,377.9 400.6,377.7 401.0,377.8" fill="none" stroke="#ff5a00" stroke-width="0.9"/>
<path d="M242.0,365.4 C242.8,365.5 245.3,365.3 247.0,365.7 C248.6,366.1 250.3,368.1 251.9,367.8 C253.6,367.5 255.1,365.3 256.7,364.0 C258.3,362.7 259.9,361.4 261.4,360.0 C263.0,358.7 264.6,357.3 266.2,356.0 C267.8,354.7 269.4,353.4 270.9,352.2 C272.5,351.1 274.2,349.6 275.7,349.0 C277.1,348.4 278.3,348.8 279.7,348.9 C281.0,348.9 282.3,349.0 283.6,349.1 C285.0,349.2 286.3,349.1 287.6,349.5 C288.9,350.0 290.3,351.1 291.6,351.8 C292.9,352.6 294.2,353.4 295.6,354.1 C296.9,354.8 297.9,355.6 299.5,356.1 C301.2,356.5 303.5,356.6 305.5,356.8 C307.4,357.0 309.5,357.2 311.4,357.3 C313.2,357.4 314.7,357.1 316.4,357.2 C318.1,357.3 320.0,357.1 321.5,357.7 C323.0,358.2 324.2,359.5 325.5,360.4 C326.8,361.3 328.1,362.2 329.4,363.0 C330.8,363.8 332.1,365.0 333.4,365.1 C334.8,365.2 336.1,364.0 337.4,363.4 C338.7,362.7 340.1,361.9 341.4,361.2 C342.7,360.4 343.7,359.7 345.4,358.7 C347.0,357.8 349.3,356.6 351.3,355.5 C353.2,354.4 355.4,353.1 357.2,352.4 C359.0,351.7 360.4,351.6 361.9,351.2 C363.5,350.8 365.2,349.9 366.7,349.8 C368.2,349.7 369.5,350.3 370.9,350.6 C372.3,350.8 373.4,350.5 375.1,351.4 C376.7,352.2 379.0,354.2 381.0,355.8 C382.9,357.4 385.2,359.6 386.9,361.1 C388.5,362.5 389.5,363.4 390.9,364.6 C392.2,365.9 393.5,367.2 394.8,368.5 C396.2,369.8 397.8,371.7 398.8,372.5 C399.8,373.3 400.6,373.3 401.0,373.4" fill="none" stroke="#ff5a00" stroke-width="0.9"/>
<path d="M242.0,361.0 C242.8,361.1 245.3,360.9 247.0,361.3 C248.6,361.7 250.3,363.5 251.9,363.2 C253.6,362.8 255.1,360.6 256.7,359.3 C258.3,357.9 259.9,356.5 261.4,355.2 C263.0,353.8 264.6,352.4 266.2,351.2 C267.8,349.9 269.4,348.7 270.9,347.6 C272.5,346.6 274.2,345.2 275.7,344.7 C277.1,344.3 278.3,344.8 279.7,344.8 C281.0,344.9 282.3,345.1 283.6,345.3 C285.0,345.4 286.3,345.3 287.6,345.8 C288.9,346.3 290.3,347.4 291.6,348.1 C292.9,348.8 294.2,349.5 295.6,350.1 C296.9,350.8 297.9,351.5 299.5,351.8 C301.2,352.2 303.5,352.0 305.5,352.2 C307.4,352.3 309.5,352.5 311.4,352.6 C313.2,352.7 314.7,352.6 316.4,352.8 C318.1,353.1 320.0,353.3 321.5,354.1 C323.0,354.9 324.2,356.4 325.5,357.5 C326.8,358.6 328.8,360.1 329.4,360.6" fill="none" stroke="#ff5a00" stroke-width="0.9"/>
<path d="M337.4,361.4 C338.1,361.1 340.1,360.0 341.4,359.1 C342.7,358.3 343.7,357.5 345.4,356.4 C347.0,355.2 349.3,353.6 351.3,352.2 C353.2,350.8 355.4,349.0 357.2,348.0 C359.0,347.0 360.4,346.6 361.9,346.0 C363.5,345.3 365.2,344.3 366.7,344.1 C368.2,343.9 369.5,344.5 370.9,344.9 C372.3,345.2 373.4,344.9 375.1,346.0 C376.7,347.1 379.0,349.4 381.0,351.3 C382.9,353.2 385.2,355.8 386.9,357.6 C388.5,359.3 389.5,360.3 390.9,361.6 C392.2,363.0 393.5,364.6 394.8,365.7 C396.2,366.8 397.8,367.6 398.8,368.1 C399.8,368.6 400.6,368.9 401.0,369.0" fill="none" stroke="#ff5a00" stroke-width="0.9"/>
<path d="M242.0,356.6 C242.8,356.7 245.3,357.1 247.0,356.9 C248.6,356.7 250.3,356.1 251.9,355.4 C253.6,354.6 255.1,353.2 256.7,352.3 C258.3,351.4 259.9,350.7 261.4,350.1 C263.0,349.4 264.6,348.9 266.2,348.4 C267.8,347.8 269.4,347.3 270.9,346.6 C272.5,345.9 274.2,344.7 275.7,344.2 C277.1,343.7 278.3,343.9 279.7,343.6 C281.0,343.3 282.3,342.8 283.6,342.4 C285.0,341.9 286.3,341.1 287.6,340.9 C288.9,340.7 290.3,341.1 291.6,341.3 C292.9,341.5 294.2,341.7 295.6,342.1 C296.9,342.5 297.9,343.0 299.5,343.6 C301.2,344.2 303.5,344.7 305.5,345.6 C307.4,346.5 309.5,348.1 311.4,349.1 C313.2,350.0 314.7,350.7 316.4,351.5 C318.1,352.2 320.0,352.7 321.5,353.6 C323.0,354.5 324.2,355.8 325.5,356.8 C326.8,357.7 328.8,358.8 329.4,359.3" fill="none" stroke="#ff5a00" stroke-width="0.9"/>
<path d="M337.4,358.1 C338.1,357.6 340.1,355.9 341.4,354.7 C342.7,353.5 343.7,352.4 345.4,351.1 C347.0,349.7 349.3,348.0 351.3,346.7 C353.2,345.5 355.4,344.4 357.2,343.7 C359.0,343.1 360.4,343.3 361.9,343.0 C363.5,342.6 365.2,341.9 366.7,341.8 C368.2,341.7 369.5,342.3 370.9,342.5 C372.3,342.7 373.4,342.2 375.1,343.0 C376.7,343.8 379.0,345.5 381.0,347.0 C382.9,348.6 385.2,350.8 386.9,352.3 C388.5,353.9 389.5,354.9 390.9,356.2 C392.2,357.6 393.5,359.2 394.8,360.5 C396.2,361.7 397.8,363.0 398.8,363.7 C399.8,364.4 400.6,364.5 401.0,364.6" fill="none" stroke="#ff5a00" stroke-width="0.9"/>
<path d="M242.0,352.2 C242.8,352.3 245.3,352.4 247.0,352.5 C248.6,352.6 250.3,353.2 251.9,352.6 C253.6,352.0 255.1,350.0 256.7,348.7 C258.3,347.5 259.9,346.2 261.4,345.1 C263.0,343.9 264.6,342.8 266.2,341.8 C267.8,340.8 269.4,339.8 270.9,339.0 C272.5,338.1 274.2,336.9 275.7,336.5 C277.1,336.1 278.3,336.7 279.7,336.8 C281.0,336.9 282.3,337.0 283.6,337.1 C285.0,337.3 286.3,337.1 287.6,337.5 C288.9,337.9 290.3,338.9 291.6,339.6 C292.9,340.2 294.2,340.8 295.6,341.4 C296.9,342.0 297.9,342.8 299.5,343.2 C301.2,343.6 303.5,343.5 305.5,343.8 C307.4,344.1 309.5,344.6 311.4,345.0 C313.2,345.4 314.7,345.6 316.4,346.2 C318.1,346.7 320.0,347.2 321.5,348.2 C323.0,349.2 324.8,351.4 325.5,352.1" fill="none" stroke="#ff5a00" stroke-width="0.9"/>
<path d="M341.4,352.5 C342.0,351.9 343.7,350.3 345.4,348.9 C347.0,347.5 349.3,345.4 351.3,343.9 C353.2,342.5 355.4,340.8 357.2,340.0 C359.0,339.1 360.4,339.1 361.9,338.7 C363.5,338.3 365.2,337.6 366.7,337.7 C368.2,337.7 369.5,338.4 370.9,338.7 C372.3,339.1 373.4,338.9 375.1,339.8 C376.7,340.6 379.0,342.5 381.0,344.0 C382.9,345.4 385.2,347.2 386.9,348.4 C388.5,349.5 389.5,350.1 390.9,351.1 C392.2,352.1 393.5,352.8 394.8,354.1 C396.2,355.5 397.8,358.3 398.8,359.3 C399.8,360.3 400.6,360.1 401.0,360.2" fill="none" stroke="#ff5a00" stroke-width="0.9"/>
<path d="M242.0,347.8 C242.8,347.9 245.3,348.2 247.0,348.1 C248.6,348.0 250.3,347.9 251.9,347.1 C253.6,346.4 255.1,344.6 256.7,343.5 C258.3,342.4 259.9,341.4 261.4,340.5 C263.0,339.7 264.6,339.0 266.2,338.4 C267.8,337.7 269.4,337.2 270.9,336.6 C272.5,336.0 274.2,335.0 275.7,334.7 C277.1,334.4 278.3,334.9 279.7,334.9 C281.0,334.9 282.3,334.8 283.6,334.6 C285.0,334.4 286.3,333.7 287.6,333.7 C288.9,333.6 290.3,334.1 291.6,334.2 C292.9,334.4 294.2,334.5 295.6,334.7 C296.9,334.9 297.9,335.2 299.5,335.4 C301.2,335.7 303.5,335.5 305.5,336.2 C307.4,336.8 309.5,338.1 311.4,339.2 C313.2,340.3 314.7,341.4 316.4,342.7 C318.1,343.9 320.0,345.3 321.5,346.7 C323.0,348.2 324.8,350.7 325.5,351.5" fill="none" stroke="#ff5a00" stroke-width="0.9"/>
<path d="M341.4,350.3 C342.0,349.4 343.7,347.2 345.4,345.1 C347.0,343.0 349.3,340.0 351.3,337.9 C353.2,335.9 355.4,333.8 357.2,332.9 C359.0,331.9 360.4,332.1 361.9,332.0 C363.5,331.9 365.2,331.8 366.7,332.2 C368.2,332.6 369.5,333.8 370.9,334.6 C372.3,335.3 373.4,335.5 375.1,336.7 C376.7,337.8 379.0,340.1 381.0,341.5 C382.9,343.0 385.2,344.5 386.9,345.5 C388.5,346.6 389.5,346.9 390.9,347.7 C392.2,348.4 393.5,348.9 394.8,350.1 C396.2,351.3 397.8,353.9 398.8,354.9 C399.8,355.9 400.6,355.7 401.0,355.8" fill="none" stroke="#ff5a00" stroke-width="0.9"/>
<path d="M242.0,343.4 C242.8,343.5 245.3,343.9 247.0,343.7 C248.6,343.5 250.3,343.1 251.9,342.3 C253.6,341.5 255.1,340.0 256.7,339.0 C258.3,338.0 259.9,337.0 261.4,336.1 C263.0,335.2 264.6,334.4 266.2,333.6 C267.8,332.8 269.4,332.1 270.9,331.3 C272.5,330.6 274.2,329.5 275.7,329.2 C277.1,328.9 278.3,329.4 279.7,329.5 C281.0,329.6 282.3,329.7 283.6,329.7 C285.0,329.7 286.3,329.4 287.6,329.7 C288.9,330.0 290.3,330.8 291.6,331.3 C292.9,331.8 294.2,332.2 295.6,332.6 C296.9,333.1 297.9,333.6 299.5,333.9 C301.2,334.2 303.5,334.0 305.5,334.3 C307.4,334.7 309.5,335.4 311.4,336.0 C313.2,336.6 314.7,337.2 316.4,338.1 C318.1,339.0 320.7,340.9 321.5,341.5" fill="none" stroke="#ff5a00" stroke-width="0.9"/>
<path d="M341.4,347.6 C342.0,346.9 343.7,345.0 345.4,343.3 C347.0,341.5 349.3,339.0 351.3,337.2 C353.2,335.3 355.4,333.3 357.2,332.1 C359.0,330.9 360.4,330.7 361.9,330.1 C363.5,329.6 365.2,328.7 366.7,328.6 C368.2,328.5 369.5,329.2 370.9,329.4 C372.3,329.7 373.4,329.5 375.1,330.4 C376.7,331.2 379.0,333.1 381.0,334.6 C382.9,336.1 385.2,338.0 386.9,339.3 C388.5,340.5 389.5,341.2 390.9,342.2 C392.2,343.2 393.5,344.0 394.8,345.4 C396.2,346.8 397.8,349.5 398.8,350.5 C399.8,351.5 400.6,351.3 401.0,351.4" fill="none" stroke="#ff5a00" stroke-width="0.9"/>
<path d="M242.0,339.0 C242.8,339.1 245.3,339.4 247.0,339.3 C248.6,339.2 250.3,339.1 251.9,338.7 C253.6,338.2 255.1,337.4 256.7,336.8 C258.3,336.1 259.9,335.5 261.4,334.8 C263.0,334.1 264.6,333.4 266.2,332.5 C267.8,331.6 269.4,330.6 270.9,329.5 C272.5,328.5 274.2,326.8 275.7,326.0 C277.1,325.2 278.3,325.2 279.7,324.7 C281.0,324.3 282.3,323.8 283.6,323.4 C285.0,322.9 286.3,322.2 287.6,322.1 C288.9,322.1 290.3,322.7 291.6,323.0 C292.9,323.4 294.2,323.9 295.6,324.4 C296.9,325.0 297.9,325.7 299.5,326.5 C301.2,327.3 303.5,328.0 305.5,329.1 C307.4,330.2 309.5,332.0 311.4,333.3 C313.2,334.6 314.7,335.8 316.4,337.1 C318.1,338.4 320.7,340.4 321.5,341.1" fill="none" stroke="#ff5a00" stroke-width="0.9"/>
<path d="M345.4,338.3 C346.3,337.0 349.3,332.9 351.3,330.8 C353.2,328.7 355.4,326.7 357.2,325.7 C359.0,324.7 360.4,324.9 361.9,324.6 C363.5,324.4 365.2,324.1 366.7,324.3 C368.2,324.6 369.5,325.6 370.9,326.2 C372.3,326.8 373.4,326.8 375.1,327.8 C376.7,328.8 379.0,330.8 381.0,332.2 C382.9,333.6 385.2,335.2 386.9,336.2 C388.5,337.3 389.5,337.7 390.9,338.5 C392.2,339.3 393.5,339.8 394.8,341.1 C396.2,342.4 397.8,345.1 398.8,346.1 C399.8,347.1 400.6,346.9 401.0,347.0" fill="none" stroke="#ff5a00" stroke-width="0.9"/>
<path d="M242.0,334.6 C242.8,334.7 245.3,335.1 247.0,334.9 C248.6,334.7 250.3,334.5 251.9,333.7 C253.6,332.9 255.1,331.2 256.7,330.2 C258.3,329.2 259.9,328.4 261.4,327.7 C263.0,327.0 264.6,326.5 266.2,325.9 C267.8,325.3 269.4,324.9 270.9,324.3 C272.5,323.6 274.2,322.5 275.7,322.1 C277.1,321.7 278.3,322.0 279.7,321.7 C281.0,321.5 282.3,321.1 283.6,320.7 C285.0,320.2 286.3,319.4 287.6,319.2 C288.9,319.0 290.3,319.3 291.6,319.5 C292.9,319.7 294.2,319.9 295.6,320.3 C296.9,320.7 297.9,321.2 299.5,321.8 C301.2,322.5 303.5,323.2 305.5,324.4 C307.4,325.6 309.5,327.6 311.4,329.2 C313.2,330.7 314.7,332.0 316.4,333.5 C318.1,335.0 320.7,337.2 321.5,337.9" fill="none" stroke="#ff5a00" stroke-width="0.9"/>
<path d="M351.3,328.6 C352.2,327.8 355.4,324.8 357.2,323.6 C359.0,322.5 360.4,322.4 361.9,321.7 C363.5,321.1 365.2,320.1 366.7,319.9 C368.2,319.6 369.5,320.1 370.9,320.2 C372.3,320.3 373.4,319.8 375.1,320.6 C376.7,321.4 379.0,323.2 381.0,324.9 C382.9,326.5 385.2,329.0 386.9,330.6 C388.5,332.3 389.5,333.4 390.9,334.8 C392.2,336.2 393.5,338.0 394.8,339.1 C396.2,340.3 397.8,341.1 398.8,341.7 C399.8,342.3 400.6,342.5 401.0,342.6" fill="none" stroke="#ff5a00" stroke-width="0.9"/>
<path d="M242.0,330.2 C242.8,330.3 245.3,330.1 247.0,330.5 C248.6,330.9 250.3,333.0 251.9,332.7 C253.6,332.5 255.1,330.4 256.7,329.1 C258.3,327.9 259.9,326.4 261.4,325.0 C263.0,323.7 264.6,322.2 266.2,320.9 C267.8,319.5 269.4,318.2 270.9,317.0 C272.5,315.8 274.2,314.4 275.7,313.8 C277.1,313.3 278.3,313.8 279.7,313.8 C281.0,313.9 282.3,314.1 283.6,314.2 C285.0,314.4 286.3,314.4 287.6,314.9 C288.9,315.4 290.3,316.5 291.6,317.3 C292.9,318.0 294.2,318.8 295.6,319.5 C296.9,320.2 297.9,320.9 299.5,321.4 C301.2,321.9 303.5,321.9 305.5,322.4 C307.4,323.0 309.5,323.7 311.4,324.5 C313.2,325.4 315.6,326.9 316.4,327.4" fill="none" stroke="#ff5a00" stroke-width="0.9"/>
<path d="M351.3,326.4 C352.2,325.1 355.4,320.6 357.2,318.7 C359.0,316.8 360.4,316.1 361.9,315.0 C363.5,314.0 365.2,312.9 366.7,312.6 C368.2,312.4 369.5,313.1 370.9,313.5 C372.3,314.0 373.4,313.9 375.1,315.3 C376.7,316.6 379.0,319.4 381.0,321.6 C382.9,323.8 385.2,326.7 386.9,328.5 C388.5,330.3 389.5,331.2 390.9,332.5 C392.2,333.8 393.5,335.3 394.8,336.1 C396.2,336.9 397.8,336.9 398.8,337.3 C399.8,337.7 400.6,338.1 401.0,338.2" fill="none" stroke="#ff5a00" stroke-width="0.9"/>
<path d="M242.0,325.8 C242.8,325.9 245.3,326.3 247.0,326.1 C248.6,325.9 250.3,325.2 251.9,324.4 C253.6,323.7 255.1,322.5 256.7,321.7 C258.3,320.9 259.9,320.3 261.4,319.7 C263.0,319.1 264.6,318.7 266.2,318.1 C267.8,317.5 269.4,316.9 270.9,316.1 C272.5,315.3 274.2,314.0 275.7,313.4 C277.1,312.8 278.3,312.9 279.7,312.5 C281.0,312.2 282.3,311.7 283.6,311.2 C285.0,310.7 286.3,309.9 287.6,309.7 C288.9,309.6 290.3,310.0 291.6,310.2 C292.9,310.5 294.2,310.8 295.6,311.3 C296.9,311.8 297.9,312.5 299.5,313.3 C301.2,314.1 303.5,314.9 305.5,316.3 C307.4,317.7 309.5,319.8 311.4,321.5 C313.2,323.2 315.6,325.6 316.4,326.4" fill="none" stroke="#ff5a00" stroke-width="0.9"/>
<path d="M357.2,315.3 C358.0,315.0 360.4,313.9 361.9,313.2 C363.5,312.6 365.2,311.7 366.7,311.4 C368.2,311.2 369.5,311.7 370.9,311.9 C372.3,312.0 373.4,311.6 375.1,312.3 C376.7,313.0 379.0,314.7 381.0,316.3 C382.9,317.8 385.2,320.0 386.9,321.5 C388.5,323.0 389.5,324.0 390.9,325.3 C392.2,326.7 393.5,328.3 394.8,329.5 C396.2,330.8 397.8,332.2 398.8,332.9 C399.8,333.6 400.6,333.7 401.0,333.8" fill="none" stroke="#ff5a00" stroke-width="0.9"/>
<path d="M242.0,321.4 C242.8,321.5 245.3,321.4 247.0,321.7 C248.6,322.0 250.3,323.5 251.9,323.1 C253.6,322.7 255.1,320.6 256.7,319.3 C258.3,318.0 259.9,316.6 261.4,315.3 C263.0,314.1 264.6,312.8 266.2,311.6 C267.8,310.4 269.4,309.2 270.9,308.1 C272.5,307.0 274.2,305.6 275.7,305.0 C277.1,304.5 278.3,304.9 279.7,304.9 C281.0,304.9 282.3,305.0 283.6,305.1 C285.0,305.1 286.3,305.0 287.6,305.4 C288.9,305.8 290.3,306.9 291.6,307.7 C292.9,308.4 294.2,309.2 295.6,310.0 C296.9,310.8 297.9,311.6 299.5,312.4 C301.2,313.2 303.5,313.7 305.5,314.6 C307.4,315.6 310.4,317.6 311.4,318.2" fill="none" stroke="#ff5a00" stroke-width="0.9"/>
<path d="M357.2,310.6 C358.0,310.3 360.4,309.1 361.9,308.5 C363.5,308.0 365.2,307.4 366.7,307.4 C368.2,307.4 369.5,308.3 370.9,308.7 C372.3,309.1 373.4,309.0 375.1,310.0 C376.7,310.9 379.0,313.0 381.0,314.4 C382.9,315.9 385.2,317.5 386.9,318.7 C388.5,319.8 389.5,320.2 390.9,321.1 C392.2,321.9 393.5,322.5 394.8,323.7 C396.2,324.9 397.8,327.5 398.8,328.5 C399.8,329.5 400.6,329.3 401.0,329.4" fill="none" stroke="#ff5a00" stroke-width="0.9"/>
<path d="M242.0,317.0 C242.8,317.1 245.3,317.0 247.0,317.3 C248.6,317.6 250.3,319.2 251.9,318.7 C253.6,318.3 255.1,316.1 256.7,314.8 C258.3,313.4 259.9,312.1 261.4,310.8 C263.0,309.5 264.6,308.2 266.2,307.0 C267.8,305.8 269.4,304.6 270.9,303.6 C272.5,302.6 274.2,301.2 275.7,300.8 C277.1,300.3 278.3,300.8 279.7,300.9 C281.0,301.0 282.3,301.2 283.6,301.3 C285.0,301.5 286.3,301.3 287.6,301.8 C288.9,302.3 290.3,303.3 291.6,304.1 C292.9,304.8 294.2,305.6 295.6,306.3 C296.9,307.0 297.9,307.8 299.5,308.4 C301.2,309.0 304.5,309.8 305.5,310.1" fill="none" stroke="#ff5a00" stroke-width="0.9"/>
<path d="M361.9,304.5 C362.7,304.1 365.2,302.4 366.7,302.1 C368.2,301.8 369.5,302.3 370.9,302.5 C372.3,302.6 373.4,302.3 375.1,303.1 C376.7,304.0 379.0,305.9 381.0,307.5 C382.9,309.1 385.2,311.2 386.9,312.6 C388.5,314.1 389.5,314.9 390.9,316.1 C392.2,317.3 393.5,318.6 394.8,319.9 C396.2,321.2 397.8,323.2 398.8,324.1 C399.8,325.0 400.6,324.9 401.0,325.0" fill="none" stroke="#ff5a00" stroke-width="0.9"/>
<path d="M242.0,381.6 C242.8,381.2 245.1,379.9 246.6,378.8 C248.2,377.7 249.7,376.3 251.2,375.1 C252.8,373.8 254.3,372.7 255.9,371.5 C257.4,370.4 258.9,369.4 260.5,368.4 C262.0,367.4 263.6,366.5 265.1,365.7 C266.6,364.8 268.3,363.6 269.7,363.4 C271.2,363.1 272.4,363.9 273.7,364.2 C275.0,364.4 276.4,364.8 277.7,365.1 C279.0,365.4 280.3,365.4 281.7,366.0 C283.0,366.5 284.3,367.6 285.6,368.3 C287.0,369.1 288.3,369.8 289.6,370.4 C290.9,371.1 291.9,371.6 293.6,372.2 C295.2,372.8 297.5,373.5 299.5,374.0 C301.5,374.5 303.7,375.2 305.4,375.3 C307.1,375.4 308.1,374.8 309.4,374.6 C310.8,374.3 312.1,374.1 313.5,373.9 C314.8,373.8 316.1,373.6 317.5,373.5 C318.8,373.5 320.2,373.2 321.5,373.5 C322.8,373.7 324.2,374.3 325.5,374.8 C326.8,375.3 328.1,375.8 329.4,376.4 C330.8,377.0 332.1,377.9 333.4,378.2 C334.8,378.4 336.1,378.1 337.4,378.0 C338.7,378.0 340.1,377.9 341.4,377.8 C342.7,377.7 343.7,377.8 345.4,377.4 C347.0,377.1 349.3,376.5 351.3,375.9 C353.2,375.2 355.5,374.1 357.2,373.6 C358.9,373.1 360.0,373.1 361.3,372.8 C362.7,372.5 364.0,371.7 365.5,371.8 C367.0,371.9 368.7,373.0 370.3,373.6 C371.9,374.2 373.3,374.3 375.1,375.4 C376.8,376.6 379.0,378.7 381.0,380.5 C382.9,382.4 385.2,384.8 386.9,386.3 C388.5,387.9 389.5,388.6 390.9,389.8 C392.2,391.0 393.5,392.3 394.8,393.6 C396.2,394.9 397.8,396.8 398.8,397.6 C399.8,398.4 400.6,398.4 401.0,398.6" fill="none" stroke="#ff5a00" stroke-width="0.9"/>
<path d="M242.0,376.4 C242.8,375.9 245.1,374.2 246.6,373.6 C248.2,373.0 249.7,373.4 251.2,372.8 C252.8,372.2 254.3,370.9 255.9,369.8 C257.4,368.7 258.9,367.4 260.5,366.2 C262.0,364.9 263.6,363.5 265.1,362.2 C266.6,361.0 268.3,359.1 269.7,358.4 C271.2,357.7 272.4,358.1 273.7,358.0 C275.0,358.0 276.4,358.0 277.7,358.1 C279.0,358.2 280.3,358.1 281.7,358.6 C283.0,359.2 284.3,360.3 285.6,361.2 C287.0,362.1 288.3,363.0 289.6,363.9 C290.9,364.8 291.9,365.6 293.6,366.6 C295.2,367.6 297.5,368.9 299.5,369.9 C301.5,370.8 303.7,371.8 305.4,372.1 C307.1,372.5 308.1,371.9 309.4,371.7 C310.8,371.6 312.1,371.4 313.5,371.2 C314.8,371.0 316.1,370.8 317.5,370.8 C318.8,370.7 320.2,370.4 321.5,370.6 C322.8,370.8 324.2,371.5 325.5,372.0 C326.8,372.5 328.1,373.1 329.4,373.7 C330.8,374.3 332.1,375.3 333.4,375.6 C334.8,376.0 336.1,375.6 337.4,375.6 C338.7,375.5 340.1,375.5 341.4,375.3 C342.7,375.2 343.7,375.2 345.4,374.8 C347.0,374.3 349.3,373.4 351.3,372.6 C353.2,371.7 355.5,370.3 357.2,369.5 C358.9,368.8 360.0,368.6 361.3,368.1 C362.7,367.7 364.0,366.7 365.5,366.7 C367.0,366.8 368.7,367.8 370.3,368.5 C371.9,369.2 373.3,369.4 375.1,370.8 C376.8,372.3 379.0,374.9 381.0,377.1 C382.9,379.4 385.2,382.4 386.9,384.3 C388.5,386.1 389.5,387.1 390.9,388.4 C392.2,389.8 393.5,391.5 394.8,392.4 C396.2,393.3 397.8,393.6 398.8,394.1 C399.8,394.5 400.6,394.9 401.0,395.0" fill="none" stroke="#ff5a00" stroke-width="0.9"/>
<path d="M242.0,374.4 C242.8,373.9 245.1,372.1 246.6,371.5 C248.2,370.8 249.7,371.3 251.2,370.6 C252.8,369.8 254.3,368.4 255.9,367.1 C257.4,365.9 258.9,364.5 260.5,363.2 C262.0,361.8 263.6,360.4 265.1,359.0 C266.6,357.7 268.3,355.9 269.7,355.2 C271.2,354.5 272.4,355.0 273.7,355.0 C275.0,355.0 276.4,355.1 277.7,355.3 C279.0,355.5 280.3,355.5 281.7,356.1 C283.0,356.7 284.3,357.9 285.6,358.8 C287.0,359.6 288.3,360.6 289.6,361.4 C290.9,362.2 291.9,363.0 293.6,363.8 C295.2,364.6 297.5,365.5 299.5,366.1 C301.5,366.7 303.7,367.4 305.4,367.5 C307.1,367.6 308.1,367.0 309.4,366.8 C310.8,366.6 312.1,366.4 313.5,366.3 C314.8,366.3 316.1,366.3 317.5,366.4 C318.8,366.6 320.2,366.7 321.5,367.2 C322.8,367.7 324.2,368.7 325.5,369.6 C326.8,370.4 328.1,371.3 329.4,372.1 C330.8,372.9 332.1,374.1 333.4,374.4 C334.8,374.8 336.1,374.4 337.4,374.2 C338.7,374.0 340.1,373.6 341.4,373.1 C342.7,372.7 343.7,372.4 345.4,371.3 C347.0,370.3 349.3,368.5 351.3,367.0 C353.2,365.6 355.5,363.5 357.2,362.5 C358.9,361.4 360.0,361.2 361.3,360.7 C362.7,360.3 364.0,359.4 365.5,359.6 C367.0,359.9 368.7,361.3 370.3,362.4 C371.9,363.4 373.3,364.1 375.1,365.9 C376.8,367.7 379.0,370.7 381.0,373.1 C382.9,375.4 385.2,378.3 386.9,380.0 C388.5,381.7 389.5,382.2 390.9,383.2 C392.2,384.2 393.5,385.2 394.8,385.9 C396.2,386.6 397.8,386.9 398.8,387.3 C399.8,387.7 400.6,388.1 401.0,388.2" fill="none" stroke="#ff5a00" stroke-width="0.9"/>
<path d="M242.0,381.7 C242.8,381.1 245.1,379.3 246.6,378.1 C248.2,376.9 249.7,375.8 251.2,374.5 C252.8,373.1 254.3,371.5 255.9,370.1 C257.4,368.7 258.9,367.2 260.5,365.9 C262.0,364.5 263.6,363.1 265.1,361.8 C266.6,360.6 268.3,358.8 269.7,358.1 C271.2,357.5 272.4,357.9 273.7,357.8 C275.0,357.7 276.4,357.6 277.7,357.6 C279.0,357.6 280.3,357.3 281.7,357.6 C283.0,357.9 284.3,358.8 285.6,359.3 C287.0,359.9 288.3,360.5 289.6,361.1 C290.9,361.7 291.9,362.2 293.6,362.8 C295.2,363.4 297.5,364.2 299.5,364.9 C301.5,365.6 303.7,366.5 305.4,366.8 C307.1,367.1 308.1,366.6 309.4,366.5 C310.8,366.5 312.1,366.4 313.5,366.3 C314.8,366.3 316.1,366.3 317.5,366.3 C318.8,366.2 320.2,366.1 321.5,366.2 C322.8,366.4 324.2,367.0 325.5,367.2 C326.8,367.5 328.1,367.8 329.4,368.0 C330.8,368.1 332.1,368.6 333.4,368.3 C334.8,367.9 336.1,366.9 337.4,366.1 C338.7,365.3 340.1,364.4 341.4,363.5 C342.7,362.7 343.7,362.1 345.4,360.9 C347.0,359.8 349.3,358.0 351.3,356.8 C353.2,355.5 355.5,354.1 357.2,353.4 C358.9,352.8 360.0,352.9 361.3,352.6 C362.7,352.4 364.0,351.7 365.5,352.0 C367.0,352.3 368.7,353.6 370.3,354.3 C371.9,355.1 373.3,355.4 375.1,356.5 C376.8,357.7 379.0,359.7 381.0,361.2 C382.9,362.6 385.2,364.4 386.9,365.4 C388.5,366.4 389.5,366.6 390.9,367.2 C392.2,367.8 393.5,368.2 394.8,368.9 C396.2,369.7 397.8,371.0 398.8,371.5 C399.8,372.0 400.6,372.0 401.0,372.1" fill="none" stroke="#ff5a00" stroke-width="0.9"/>
<path d="M242.0,377.4 C242.8,376.8 245.1,375.2 246.6,373.8 C248.2,372.4 249.7,370.7 251.2,369.2 C252.8,367.7 254.3,366.3 255.9,364.9 C257.4,363.5 258.9,362.2 260.5,361.0 C262.0,359.8 263.6,358.7 265.1,357.7 C266.6,356.6 268.3,355.2 269.7,354.7 C271.2,354.3 272.4,354.9 273.7,355.0 C275.0,355.1 276.4,355.2 277.7,355.3 C279.0,355.3 280.3,355.2 281.7,355.5 C283.0,355.8 284.3,356.6 285.6,357.0 C287.0,357.5 288.3,357.9 289.6,358.3 C290.9,358.6 291.9,358.9 293.6,359.2 C295.2,359.4 297.5,359.6 299.5,359.8 C301.5,360.0 303.7,360.4 305.4,360.3 C307.1,360.3 308.1,359.7 309.4,359.6 C310.8,359.4 312.1,359.3 313.5,359.4 C314.8,359.4 316.1,359.6 317.5,359.9 C318.8,360.2 320.2,360.4 321.5,361.0 C322.8,361.6 324.2,362.7 325.5,363.5 C326.8,364.3 328.1,365.1 329.4,365.8 C330.8,366.5 332.1,367.4 333.4,367.5 C334.8,367.6 336.1,366.9 337.4,366.4 C338.7,365.8 340.1,365.1 341.4,364.3 C342.7,363.5 343.7,362.9 345.4,361.5 C347.0,360.2 349.3,357.9 351.3,356.1 C353.2,354.2 355.5,351.9 357.2,350.5 C358.9,349.2 360.0,348.8 361.3,347.9 C362.7,347.1 364.0,345.9 365.5,345.7 C367.0,345.4 368.7,346.2 370.3,346.6 C371.9,347.0 373.3,347.0 375.1,348.1 C376.8,349.1 379.0,351.3 381.0,353.1 C382.9,354.9 385.2,357.3 386.9,358.8 C388.5,360.3 389.5,361.0 390.9,362.1 C392.2,363.2 393.5,364.6 394.8,365.4 C396.2,366.2 397.8,366.6 398.8,367.0 C399.8,367.3 400.6,367.5 401.0,367.6" fill="none" stroke="#ff5a00" stroke-width="0.9"/>
<path d="M242.0,370.9 C242.8,370.3 245.1,368.3 246.6,367.4 C248.2,366.5 249.7,366.6 251.2,365.6 C252.8,364.6 254.3,362.7 255.9,361.2 C257.4,359.6 258.9,358.0 260.5,356.5 C262.0,354.9 263.6,353.3 265.1,351.9 C266.6,350.5 268.3,348.7 269.7,348.0 C271.2,347.3 272.4,347.8 273.7,347.8 C275.0,347.8 276.4,348.0 277.7,348.1 C279.0,348.3 280.3,348.3 281.7,348.7 C283.0,349.2 284.3,350.3 285.6,350.9 C287.0,351.6 288.3,352.3 289.6,352.8 C290.9,353.4 291.9,353.8 293.6,354.2 C295.2,354.6 297.5,354.9 299.5,355.1 C301.5,355.3 303.7,355.7 305.4,355.6 C307.1,355.6 308.1,355.0 309.4,355.0 C310.8,354.9 312.1,354.9 313.5,355.1 C314.8,355.4 316.1,355.8 317.5,356.3 C318.8,356.9 320.2,357.5 321.5,358.4 C322.8,359.3 324.2,360.8 325.5,361.8 C326.8,362.9 328.1,364.1 329.4,364.9 C330.8,365.7 332.1,366.8 333.4,366.9 C334.8,366.9 336.1,366.1 337.4,365.4 C338.7,364.6 340.1,363.5 341.4,362.4 C342.7,361.2 343.7,360.2 345.4,358.3 C347.0,356.4 349.3,353.3 351.3,351.0 C353.2,348.8 355.5,346.2 357.2,344.8 C358.9,343.4 360.0,343.2 361.3,342.7 C362.7,342.1 364.0,341.3 365.5,341.6 C367.0,341.9 368.7,343.4 370.3,344.4 C371.9,345.5 373.3,346.2 375.1,347.7 C376.8,349.3 379.0,352.0 381.0,353.9 C382.9,355.7 385.2,357.7 386.9,358.9 C388.5,360.1 389.5,360.2 390.9,360.8 C392.2,361.4 393.5,361.7 394.8,362.4 C396.2,363.0 397.8,364.2 398.8,364.7 C399.8,365.2 400.6,365.2 401.0,365.3" fill="none" stroke="#ff5a00" stroke-width="0.9"/>
<path d="M242.0,355.9 C242.8,355.4 245.1,354.3 246.6,353.0 C248.2,351.7 249.7,349.4 251.2,348.2 C252.8,347.0 254.3,346.6 255.9,346.0 C257.4,345.4 258.9,344.9 260.5,344.3 C262.0,343.8 263.6,343.3 265.1,342.7 C266.6,342.1 268.3,341.0 269.7,340.6 C271.2,340.3 272.4,340.8 273.7,340.8 C275.0,340.7 276.4,340.5 277.7,340.3 C279.0,340.1 280.3,339.5 281.7,339.4 C283.0,339.4 284.3,339.8 285.6,340.0 C287.0,340.2 288.3,340.4 289.6,340.8 C290.9,341.2 291.9,341.4 293.6,342.1 C295.2,342.8 297.5,343.9 299.5,345.1 C301.5,346.3 303.7,348.4 305.4,349.5 C307.1,350.6 308.1,350.9 309.4,351.6 C310.8,352.3 312.1,353.2 313.5,353.9 C314.8,354.7 316.1,355.5 317.5,356.2 C318.8,356.9 320.2,357.5 321.5,358.2 C322.8,359.0 324.2,360.0 325.5,360.7 C326.8,361.4 328.8,362.1 329.4,362.4" fill="none" stroke="#ff5a00" stroke-width="0.9"/>
<path d="M337.4,361.0 C338.1,360.6 340.1,359.3 341.4,358.5 C342.7,357.6 343.7,357.0 345.4,355.9 C347.0,354.8 349.3,353.2 351.3,352.0 C353.2,350.8 355.5,349.5 357.2,348.8 C358.9,348.1 360.0,348.1 361.3,347.7 C362.7,347.4 364.0,346.5 365.5,346.5 C367.0,346.5 368.7,347.4 370.3,347.8 C371.9,348.3 373.3,348.2 375.1,349.1 C376.8,350.1 379.0,352.0 381.0,353.7 C382.9,355.4 385.2,357.9 386.9,359.5 C388.5,361.1 389.5,362.0 390.9,363.4 C392.2,364.7 393.5,366.3 394.8,367.5 C396.2,368.7 397.8,369.9 398.8,370.6 C399.8,371.2 400.6,371.4 401.0,371.5" fill="none" stroke="#ff5a00" stroke-width="0.9"/>
<path d="M242.0,364.3 C242.8,363.7 245.1,362.0 246.6,360.7 C248.2,359.4 249.7,357.8 251.2,356.8 C252.8,355.7 254.3,355.2 255.9,354.3 C257.4,353.4 258.9,352.6 260.5,351.6 C262.0,350.6 263.6,349.5 265.1,348.3 C266.6,347.1 268.3,345.2 269.7,344.3 C271.2,343.5 272.4,343.5 273.7,343.0 C275.0,342.6 276.4,342.0 277.7,341.5 C279.0,341.0 280.3,340.2 281.7,340.0 C283.0,339.8 284.3,340.2 285.6,340.3 C287.0,340.5 288.3,340.8 289.6,341.1 C290.9,341.5 291.9,341.8 293.6,342.4 C295.2,343.1 297.5,344.0 299.5,345.1 C301.5,346.1 303.7,347.9 305.4,348.7 C307.1,349.5 308.1,349.5 309.4,350.0 C310.8,350.5 312.1,351.0 313.5,351.6 C314.8,352.1 316.1,352.7 317.5,353.3 C318.8,353.8 320.2,354.2 321.5,354.9 C322.8,355.5 324.2,356.5 325.5,357.1 C326.8,357.7 328.8,358.2 329.4,358.5" fill="none" stroke="#ff5a00" stroke-width="0.9"/>
<path d="M337.4,356.0 C338.1,355.4 340.1,353.7 341.4,352.4 C342.7,351.2 343.7,350.2 345.4,348.6 C347.0,347.1 349.3,344.7 351.3,343.0 C353.2,341.3 355.5,339.5 357.2,338.5 C358.9,337.5 360.0,337.4 361.3,336.9 C362.7,336.4 364.0,335.5 365.5,335.4 C367.0,335.3 368.7,336.2 370.3,336.5 C371.9,336.8 373.3,336.6 375.1,337.3 C376.8,338.0 379.0,339.4 381.0,340.6 C382.9,341.8 385.2,343.5 386.9,344.5 C388.5,345.5 389.5,346.0 390.9,346.8 C392.2,347.7 393.5,348.5 394.8,349.7 C396.2,350.8 397.8,352.9 398.8,353.7 C399.8,354.5 400.6,354.2 401.0,354.3" fill="none" stroke="#ff5a00" stroke-width="0.9"/>
<path d="M242.0,335.0 C242.5,334.9 244.0,334.7 245.0,334.5 C246.0,334.3 247.0,334.1 248.0,333.8 C249.0,333.5 249.9,333.2 250.9,332.9 C251.9,332.6 252.9,332.2 253.9,331.8 C254.9,331.4 255.9,331.0 256.9,330.5 C257.9,330.0 258.9,329.5 259.9,329.0 C260.9,328.5 261.9,327.9 262.9,327.3 C263.9,326.7 264.9,326.1 265.9,325.4 C266.8,324.7 267.8,324.0 268.8,323.3 C269.8,322.6 271.3,321.4 271.8,321.0" fill="none" stroke="#ff5a00" stroke-width="0.9"/>
<path d="M242.0,338.6 C242.5,338.5 244.0,338.3 245.0,338.1 C246.0,337.9 247.0,337.6 248.0,337.3 C249.0,337.0 249.9,336.7 250.9,336.3 C251.9,335.9 252.9,335.5 253.9,335.1 C254.9,334.6 255.9,334.1 256.9,333.6 C257.9,333.1 258.9,332.5 259.9,331.9 C260.9,331.3 261.9,330.6 262.9,329.9 C263.9,329.2 264.9,328.5 265.9,327.7 C266.8,326.9 267.8,326.1 268.8,325.3 C269.8,324.4 271.3,323.0 271.8,322.6" fill="none" stroke="#ff5a00" stroke-width="0.9"/>
<path d="M242.0,342.2 C242.5,342.1 244.0,341.9 245.0,341.7 C246.0,341.4 247.0,341.2 248.0,340.8 C249.0,340.5 249.9,340.2 250.9,339.7 C251.9,339.3 252.9,338.9 253.9,338.4 C254.9,337.9 255.9,337.3 256.9,336.7 C257.9,336.1 258.9,335.5 259.9,334.8 C260.9,334.1 261.9,333.3 262.9,332.5 C263.9,331.8 264.9,330.9 265.9,330.0 C266.8,329.2 267.8,328.2 268.8,327.3 C269.8,326.3 271.3,324.7 271.8,324.2" fill="none" stroke="#ff5a00" stroke-width="0.9"/>
<path d="M242.0,345.8 C242.5,345.7 244.0,345.5 245.0,345.2 C246.0,345.0 247.0,344.7 248.0,344.4 C249.0,344.0 249.9,343.6 250.9,343.2 C251.9,342.7 252.9,342.2 253.9,341.6 C254.9,341.1 255.9,340.5 256.9,339.8 C257.9,339.1 258.9,338.4 259.9,337.6 C260.9,336.9 261.9,336.0 262.9,335.2 C263.9,334.3 264.9,333.3 265.9,332.4 C266.8,331.4 267.8,330.3 268.8,329.2 C269.8,328.1 271.3,326.4 271.8,325.8" fill="none" stroke="#ff5a00" stroke-width="0.9"/>
<path d="M242.0,349.4 C242.5,349.3 244.0,349.1 245.0,348.8 C246.0,348.6 247.0,348.3 248.0,347.9 C249.0,347.5 249.9,347.1 250.9,346.6 C251.9,346.1 252.9,345.5 253.9,344.9 C254.9,344.3 255.9,343.6 256.9,342.9 C257.9,342.2 258.9,341.4 259.9,340.5 C260.9,339.7 261.9,338.8 262.9,337.8 C263.9,336.8 264.9,335.8 265.9,334.7 C266.8,333.6 267.8,332.4 268.8,331.2 C269.8,330.0 271.3,328.0 271.8,327.4" fill="none" stroke="#ff5a00" stroke-width="0.9"/>
<path d="M242.0,353.0 C242.5,352.9 244.0,352.7 245.0,352.4 C246.0,352.1 247.0,351.8 248.0,351.4 C249.0,351.0 249.9,350.5 250.9,350.0 C251.9,349.5 252.9,348.9 253.9,348.2 C254.9,347.5 255.9,346.8 256.9,346.0 C257.9,345.2 258.9,344.3 259.9,343.4 C260.9,342.5 261.9,341.5 262.9,340.4 C263.9,339.3 264.9,338.2 265.9,337.0 C266.8,335.8 267.8,334.5 268.8,333.2 C269.8,331.9 271.3,329.7 271.8,329.0" fill="none" stroke="#ff5a00" stroke-width="0.9"/>
<path d="M242.0,356.6 C242.5,356.5 244.0,356.3 245.0,356.0 C246.0,355.7 247.0,355.3 248.0,354.9 C249.0,354.5 249.9,354.0 250.9,353.4 C251.9,352.8 252.9,352.2 253.9,351.5 C254.9,350.8 255.9,350.0 256.9,349.1 C257.9,348.2 258.9,347.3 259.9,346.3 C260.9,345.3 261.9,344.2 262.9,343.0 C263.9,341.9 264.9,340.6 265.9,339.3 C266.8,338.0 267.8,336.6 268.8,335.2 C269.8,333.7 271.3,331.4 271.8,330.6" fill="none" stroke="#ff5a00" stroke-width="0.9"/>
<path d="M242.0,360.2 C242.5,360.1 244.0,359.9 245.0,359.6 C246.0,359.3 247.0,358.9 248.0,358.4 C249.0,358.0 249.9,357.5 250.9,356.8 C251.9,356.2 252.9,355.5 253.9,354.8 C254.9,354.0 255.9,353.1 256.9,352.2 C257.9,351.3 258.9,350.3 259.9,349.2 C260.9,348.1 261.9,346.9 262.9,345.6 C263.9,344.4 264.9,343.1 265.9,341.6 C266.8,340.2 267.8,338.7 268.8,337.2 C269.8,335.6 271.3,333.0 271.8,332.2" fill="none" stroke="#ff5a00" stroke-width="0.9"/>
<path d="M242.0,363.8 C242.5,363.7 244.0,363.4 245.0,363.1 C246.0,362.8 247.0,362.4 248.0,362.0 C249.0,361.5 249.9,360.9 250.9,360.3 C251.9,359.6 252.9,358.9 253.9,358.0 C254.9,357.2 255.9,356.3 256.9,355.3 C257.9,354.3 258.9,353.2 259.9,352.0 C260.9,350.9 261.9,349.6 262.9,348.3 C263.9,346.9 264.9,345.5 265.9,344.0 C266.8,342.4 267.8,340.8 268.8,339.1 C269.8,337.4 271.3,334.7 271.8,333.8" fill="none" stroke="#ff5a00" stroke-width="0.9"/>
<path d="M371.2,321.0 C371.7,321.4 373.2,322.6 374.2,323.3 C375.2,324.0 376.2,324.7 377.1,325.4 C378.1,326.1 379.1,326.7 380.1,327.3 C381.1,327.9 382.1,328.5 383.1,329.0 C384.1,329.5 385.1,330.0 386.1,330.5 C387.1,331.0 388.1,331.4 389.1,331.8 C390.1,332.2 391.1,332.6 392.1,332.9 C393.0,333.2 394.0,333.5 395.0,333.8 C396.0,334.1 397.0,334.3 398.0,334.5 C399.0,334.7 400.5,334.9 401.0,335.0" fill="none" stroke="#ff5a00" stroke-width="0.9"/>
<path d="M371.2,322.8 C371.7,323.2 373.2,324.6 374.2,325.5 C375.2,326.3 376.2,327.1 377.1,327.9 C378.1,328.7 379.1,329.4 380.1,330.1 C381.1,330.8 382.1,331.5 383.1,332.1 C384.1,332.7 385.1,333.3 386.1,333.8 C387.1,334.3 388.1,334.8 389.1,335.3 C390.1,335.7 391.1,336.1 392.1,336.5 C393.0,336.9 394.0,337.2 395.0,337.5 C396.0,337.8 397.0,338.1 398.0,338.3 C399.0,338.5 400.5,338.7 401.0,338.8" fill="none" stroke="#ff5a00" stroke-width="0.9"/>
<path d="M371.2,324.6 C371.7,325.1 373.2,326.7 374.2,327.7 C375.2,328.6 376.2,329.6 377.1,330.4 C378.1,331.3 379.1,332.2 380.1,332.9 C381.1,333.7 382.1,334.5 383.1,335.2 C384.1,335.9 385.1,336.5 386.1,337.1 C387.1,337.7 388.1,338.3 389.1,338.8 C390.1,339.3 391.1,339.7 392.1,340.1 C393.0,340.6 394.0,340.9 395.0,341.2 C396.0,341.6 397.0,341.8 398.0,342.1 C399.0,342.3 400.5,342.5 401.0,342.6" fill="none" stroke="#ff5a00" stroke-width="0.9"/>
<path d="M371.2,326.4 C371.7,327.0 373.2,328.7 374.2,329.8 C375.2,330.9 376.2,332.0 377.1,333.0 C378.1,333.9 379.1,334.9 380.1,335.8 C381.1,336.6 382.1,337.5 383.1,338.2 C384.1,339.0 385.1,339.7 386.1,340.4 C387.1,341.1 388.1,341.7 389.1,342.2 C390.1,342.8 391.1,343.3 392.1,343.8 C393.0,344.2 394.0,344.6 395.0,345.0 C396.0,345.3 397.0,345.6 398.0,345.8 C399.0,346.1 400.5,346.3 401.0,346.4" fill="none" stroke="#ff5a00" stroke-width="0.9"/>
<path d="M371.2,328.2 C371.7,328.8 373.2,330.8 374.2,332.0 C375.2,333.2 376.2,334.4 377.1,335.5 C378.1,336.6 379.1,337.6 380.1,338.6 C381.1,339.6 382.1,340.5 383.1,341.3 C384.1,342.2 385.1,343.0 386.1,343.7 C387.1,344.4 388.1,345.1 389.1,345.7 C390.1,346.3 391.1,346.9 392.1,347.4 C393.0,347.9 394.0,348.3 395.0,348.7 C396.0,349.1 397.0,349.4 398.0,349.6 C399.0,349.9 400.5,350.1 401.0,350.2" fill="none" stroke="#ff5a00" stroke-width="0.9"/>
<path d="M371.2,330.0 C371.7,330.7 373.2,332.9 374.2,334.2 C375.2,335.5 376.2,336.8 377.1,338.0 C378.1,339.2 379.1,340.3 380.1,341.4 C381.1,342.5 382.1,343.5 383.1,344.4 C384.1,345.3 385.1,346.2 386.1,347.0 C387.1,347.8 388.1,348.5 389.1,349.2 C390.1,349.9 391.1,350.5 392.1,351.0 C393.0,351.5 394.0,352.0 395.0,352.4 C396.0,352.8 397.0,353.1 398.0,353.4 C399.0,353.7 400.5,353.9 401.0,354.0" fill="none" stroke="#ff5a00" stroke-width="0.9"/>
<path d="M371.2,331.8 C371.7,332.6 373.2,334.9 374.2,336.4 C375.2,337.8 376.2,339.2 377.1,340.5 C378.1,341.8 379.1,343.1 380.1,344.2 C381.1,345.4 382.1,346.5 383.1,347.5 C384.1,348.5 385.1,349.4 386.1,350.3 C387.1,351.2 388.1,352.0 389.1,352.7 C390.1,353.4 391.1,354.0 392.1,354.6 C393.0,355.2 394.0,355.7 395.0,356.1 C396.0,356.5 397.0,356.9 398.0,357.2 C399.0,357.5 400.5,357.7 401.0,357.8" fill="none" stroke="#ff5a00" stroke-width="0.9"/>
<path d="M371.2,333.6 C371.7,334.4 373.2,337.0 374.2,338.6 C375.2,340.1 376.2,341.6 377.1,343.0 C378.1,344.5 379.1,345.8 380.1,347.0 C381.1,348.3 382.1,349.5 383.1,350.6 C384.1,351.7 385.1,352.7 386.1,353.6 C387.1,354.5 388.1,355.4 389.1,356.2 C390.1,356.9 391.1,357.6 392.1,358.2 C393.0,358.9 394.0,359.4 395.0,359.8 C396.0,360.3 397.0,360.7 398.0,361.0 C399.0,361.3 400.5,361.5 401.0,361.6" fill="none" stroke="#ff5a00" stroke-width="0.9"/>
<path d="M371.2,335.4 C371.7,336.3 373.2,339.0 374.2,340.7 C375.2,342.4 376.2,344.0 377.1,345.6 C378.1,347.1 379.1,348.5 380.1,349.9 C381.1,351.2 382.1,352.5 383.1,353.6 C384.1,354.8 385.1,355.9 386.1,356.9 C387.1,357.9 388.1,358.8 389.1,359.6 C390.1,360.5 391.1,361.2 392.1,361.9 C393.0,362.5 394.0,363.1 395.0,363.6 C396.0,364.0 397.0,364.4 398.0,364.7 C399.0,365.0 400.5,365.3 401.0,365.4" fill="none" stroke="#ff5a00" stroke-width="0.9"/>
<path d="M242.0,338.0 C243.0,337.8 246.0,337.3 248.0,336.5 C250.0,335.7 251.9,334.6 253.9,333.0 C255.9,331.4 257.9,329.3 259.9,327.0 C261.9,324.7 263.9,322.0 265.9,319.0 C267.8,316.0 270.8,310.7 271.8,309.0" fill="none" stroke="#ff5a00" stroke-width="0.9"/>
<path d="M401.0,339.0 C400.0,338.8 397.0,338.3 395.0,337.5 C393.1,336.7 391.1,335.6 389.1,334.0 C387.1,332.4 385.1,330.3 383.1,328.0 C381.1,325.7 379.1,323.0 377.1,320.0 C375.2,317.0 372.2,311.7 371.2,310.0" fill="none" stroke="#ff5a00" stroke-width="0.9"/>
<path d="M242.0,342.2 C243.0,341.9 246.0,341.5 248.0,340.7 C250.0,339.9 251.9,338.8 253.9,337.2 C255.9,335.6 257.9,333.5 259.9,331.2 C261.9,328.9 263.9,326.2 265.9,323.2 C267.8,320.2 270.8,314.9 271.8,313.2" fill="none" stroke="#ff5a00" stroke-width="0.9"/>
<path d="M401.0,343.2 C400.0,342.9 397.0,342.5 395.0,341.7 C393.1,340.9 391.1,339.8 389.1,338.2 C387.1,336.6 385.1,334.5 383.1,332.2 C381.1,329.9 379.1,327.2 377.1,324.2 C375.2,321.2 372.2,315.9 371.2,314.2" fill="none" stroke="#ff5a00" stroke-width="0.9"/>
<path d="M242.0,346.4 C243.0,346.1 246.0,345.7 248.0,344.9 C250.0,344.1 251.9,343.0 253.9,341.4 C255.9,339.8 257.9,337.7 259.9,335.4 C261.9,333.1 263.9,330.4 265.9,327.4 C267.8,324.4 270.8,319.1 271.8,317.4" fill="none" stroke="#ff5a00" stroke-width="0.9"/>
<path d="M401.0,347.4 C400.0,347.1 397.0,346.7 395.0,345.9 C393.1,345.1 391.1,344.0 389.1,342.4 C387.1,340.8 385.1,338.7 383.1,336.4 C381.1,334.1 379.1,331.4 377.1,328.4 C375.2,325.4 372.2,320.1 371.2,318.4" fill="none" stroke="#ff5a00" stroke-width="0.9"/>
<path d="M242.0,350.6 C243.0,350.4 246.0,349.9 248.0,349.1 C250.0,348.3 251.9,347.2 253.9,345.6 C255.9,344.0 257.9,341.9 259.9,339.6 C261.9,337.3 263.9,334.6 265.9,331.6 C267.8,328.6 270.8,323.3 271.8,321.6" fill="none" stroke="#ff5a00" stroke-width="0.9"/>
<path d="M401.0,351.6 C400.0,351.4 397.0,350.9 395.0,350.1 C393.1,349.3 391.1,348.2 389.1,346.6 C387.1,345.0 385.1,342.9 383.1,340.6 C381.1,338.3 379.1,335.6 377.1,332.6 C375.2,329.6 372.2,324.3 371.2,322.6" fill="none" stroke="#ff5a00" stroke-width="0.9"/>
<path d="M242.0,354.8 C243.0,354.6 246.0,354.1 248.0,353.3 C250.0,352.5 251.9,351.4 253.9,349.8 C255.9,348.2 257.9,346.1 259.9,343.8 C261.9,341.5 263.9,338.8 265.9,335.8 C267.8,332.8 270.8,327.5 271.8,325.8" fill="none" stroke="#ff5a00" stroke-width="0.9"/>
<path d="M401.0,355.8 C400.0,355.6 397.0,355.1 395.0,354.3 C393.1,353.5 391.1,352.4 389.1,350.8 C387.1,349.2 385.1,347.1 383.1,344.8 C381.1,342.5 379.1,339.8 377.1,336.8 C375.2,333.8 372.2,328.5 371.2,326.8" fill="none" stroke="#ff5a00" stroke-width="0.9"/>
<path d="M242.0,359.0 C243.0,358.8 246.0,358.3 248.0,357.5 C250.0,356.7 251.9,355.6 253.9,354.0 C255.9,352.4 257.9,350.3 259.9,348.0 C261.9,345.7 263.9,343.0 265.9,340.0 C267.8,337.0 270.8,331.7 271.8,330.0" fill="none" stroke="#ff5a00" stroke-width="0.9"/>
<path d="M401.0,360.0 C400.0,359.8 397.0,359.3 395.0,358.5 C393.1,357.7 391.1,356.6 389.1,355.0 C387.1,353.4 385.1,351.3 383.1,349.0 C381.1,346.7 379.1,344.0 377.1,341.0 C375.2,338.0 372.2,332.7 371.2,331.0" fill="none" stroke="#ff5a00" stroke-width="0.9"/>
<path d="M242.0,363.2 C243.0,362.9 246.0,362.5 248.0,361.7 C250.0,360.9 251.9,359.8 253.9,358.2 C255.9,356.6 257.9,354.5 259.9,352.2 C261.9,349.9 263.9,347.2 265.9,344.2 C267.8,341.2 270.8,335.9 271.8,334.2" fill="none" stroke="#ff5a00" stroke-width="0.9"/>
<path d="M401.0,364.2 C400.0,363.9 397.0,363.5 395.0,362.7 C393.1,361.9 391.1,360.8 389.1,359.2 C387.1,357.6 385.1,355.5 383.1,353.2 C381.1,350.9 379.1,348.2 377.1,345.2 C375.2,342.2 372.2,336.9 371.2,335.2" fill="none" stroke="#ff5a00" stroke-width="0.9"/>
<path d="M242.0,367.4 C243.0,367.1 246.0,366.7 248.0,365.9 C250.0,365.1 251.9,364.0 253.9,362.4 C255.9,360.8 257.9,358.7 259.9,356.4 C261.9,354.1 263.9,351.4 265.9,348.4 C267.8,345.4 270.8,340.1 271.8,338.4" fill="none" stroke="#ff5a00" stroke-width="0.9"/>
<path d="M401.0,368.4 C400.0,368.1 397.0,367.7 395.0,366.9 C393.1,366.1 391.1,365.0 389.1,363.4 C387.1,361.8 385.1,359.7 383.1,357.4 C381.1,355.1 379.1,352.4 377.1,349.4 C375.2,346.4 372.2,341.1 371.2,339.4" fill="none" stroke="#ff5a00" stroke-width="0.9"/>
<path d="M242.0,405.0 C242.7,404.9 244.7,404.8 246.0,404.4 C247.3,404.0 248.6,403.4 249.9,402.7 C251.3,402.0 252.6,401.2 253.9,400.3 C255.2,399.3 256.6,398.3 257.9,397.2 C259.2,396.1 260.6,394.9 261.9,393.8 C263.2,392.6 264.5,391.4 265.9,390.2 C267.2,389.1 268.5,387.9 269.8,386.8 C271.1,385.7 272.5,384.7 273.8,383.7 C275.1,382.8 276.4,382.0 277.8,381.3 C279.1,380.6 280.4,380.0 281.8,379.6 C283.1,379.2 285.1,379.1 285.7,379.0" fill="none" stroke="#ff5a00" stroke-width="0.9"/>
<path d="M242.0,398.5 C242.7,398.4 244.7,398.2 246.0,397.8 C247.3,397.4 248.6,396.7 249.9,395.9 C251.3,395.1 252.6,394.1 253.9,393.0 C255.2,392.0 256.6,390.7 257.9,389.5 C259.2,388.2 260.6,386.9 261.9,385.5 C263.2,384.2 264.5,382.8 265.9,381.5 C267.2,380.1 268.5,378.8 269.8,377.5 C271.1,376.3 272.5,375.0 273.8,374.0 C275.1,372.9 276.4,371.9 277.8,371.1 C279.1,370.3 280.4,369.6 281.8,369.2 C283.1,368.8 285.1,368.6 285.7,368.5" fill="none" stroke="#ff5a00" stroke-width="0.9"/>
<path d="M242.0,392.0 C242.7,391.9 244.7,391.7 246.0,391.2 C247.3,390.7 248.6,389.9 249.9,389.0 C251.3,388.1 252.6,387.0 253.9,385.8 C255.2,384.6 256.6,383.2 257.9,381.8 C259.2,380.4 260.6,378.8 261.9,377.3 C263.2,375.8 264.5,374.2 265.9,372.7 C267.2,371.2 268.5,369.6 269.8,368.2 C271.1,366.8 272.5,365.4 273.8,364.2 C275.1,363.0 276.4,361.9 277.8,361.0 C279.1,360.1 280.4,359.3 281.8,358.8 C283.1,358.3 285.1,358.1 285.7,358.0" fill="none" stroke="#ff5a00" stroke-width="0.9"/>
<path d="M242.0,385.5 C242.7,385.4 244.7,385.3 246.0,384.9 C247.3,384.5 248.6,383.9 249.9,383.2 C251.3,382.5 252.6,381.7 253.9,380.8 C255.2,379.8 256.6,378.8 257.9,377.7 C259.2,376.6 260.6,375.4 261.9,374.3 C263.2,373.1 264.5,371.9 265.9,370.7 C267.2,369.6 268.5,368.4 269.8,367.3 C271.1,366.2 272.5,365.2 273.8,364.2 C275.1,363.3 276.4,362.5 277.8,361.8 C279.1,361.1 280.4,360.5 281.8,360.1 C283.1,359.7 285.1,359.6 285.7,359.5" fill="none" stroke="#ff5a00" stroke-width="0.9"/>
<path d="M242.0,379.0 C242.7,378.9 244.7,378.7 246.0,378.3 C247.3,377.9 248.6,377.2 249.9,376.4 C251.3,375.6 252.6,374.6 253.9,373.5 C255.2,372.5 256.6,371.2 257.9,370.0 C259.2,368.7 260.6,367.4 261.9,366.0 C263.2,364.7 264.5,363.3 265.9,362.0 C267.2,360.6 268.5,359.3 269.8,358.0 C271.1,356.8 272.5,355.5 273.8,354.5 C275.1,353.4 276.4,352.4 277.8,351.6 C279.1,350.8 280.4,350.1 281.8,349.7 C283.1,349.3 285.1,349.1 285.7,349.0" fill="none" stroke="#ff5a00" stroke-width="0.9"/>
<path d="M242.0,372.5 C242.7,372.4 244.7,372.2 246.0,371.7 C247.3,371.2 248.6,370.4 249.9,369.5 C251.3,368.6 252.6,367.5 253.9,366.3 C255.2,365.1 256.6,363.7 257.9,362.3 C259.2,360.9 260.6,359.3 261.9,357.8 C263.2,356.3 264.5,354.7 265.9,353.2 C267.2,351.7 268.5,350.1 269.8,348.7 C271.1,347.3 272.5,345.9 273.8,344.7 C275.1,343.5 276.4,342.4 277.8,341.5 C279.1,340.6 280.4,339.8 281.8,339.3 C283.1,338.8 285.1,338.6 285.7,338.5" fill="none" stroke="#ff5a00" stroke-width="0.9"/>
<path d="M242.0,366.0 C242.7,365.9 244.7,365.8 246.0,365.4 C247.3,365.0 248.6,364.4 249.9,363.7 C251.3,363.0 252.6,362.2 253.9,361.3 C255.2,360.3 256.6,359.3 257.9,358.2 C259.2,357.1 260.6,355.9 261.9,354.8 C263.2,353.6 264.5,352.4 265.9,351.2 C267.2,350.1 268.5,348.9 269.8,347.8 C271.1,346.7 272.5,345.7 273.8,344.7 C275.1,343.8 276.4,343.0 277.8,342.3 C279.1,341.6 280.4,341.0 281.8,340.6 C283.1,340.2 285.1,340.1 285.7,340.0" fill="none" stroke="#ff5a00" stroke-width="0.9"/>
<path d="M242.0,359.5 C242.7,359.4 244.7,359.2 246.0,358.8 C247.3,358.4 248.6,357.7 249.9,356.9 C251.3,356.1 252.6,355.1 253.9,354.0 C255.2,353.0 256.6,351.7 257.9,350.5 C259.2,349.2 260.6,347.9 261.9,346.5 C263.2,345.2 264.5,343.8 265.9,342.5 C267.2,341.1 268.5,339.8 269.8,338.5 C271.1,337.3 272.5,336.0 273.8,335.0 C275.1,333.9 276.4,332.9 277.8,332.1 C279.1,331.3 280.4,330.6 281.8,330.2 C283.1,329.8 285.1,329.6 285.7,329.5" fill="none" stroke="#ff5a00" stroke-width="0.9"/>
<path d="M357.3,378.0 C357.9,378.1 359.9,378.2 361.2,378.7 C362.6,379.1 363.9,379.7 365.2,380.4 C366.6,381.2 367.9,382.1 369.2,383.1 C370.5,384.1 371.9,385.3 373.2,386.4 C374.5,387.6 375.8,388.8 377.1,390.1 C378.5,391.3 379.8,392.7 381.1,393.9 C382.4,395.2 383.8,396.4 385.1,397.6 C386.4,398.7 387.8,399.9 389.1,400.9 C390.4,401.9 391.7,402.8 393.1,403.6 C394.4,404.3 395.7,404.9 397.0,405.3 C398.3,405.8 400.3,405.9 401.0,406.0" fill="none" stroke="#ff5a00" stroke-width="0.9"/>
<path d="M357.3,367.7 C357.9,367.8 359.9,368.0 361.2,368.4 C362.6,368.9 363.9,369.6 365.2,370.5 C366.6,371.3 367.9,372.4 369.2,373.5 C370.5,374.7 371.9,376.0 373.2,377.3 C374.5,378.6 375.8,380.1 377.1,381.5 C378.5,383.0 379.8,384.4 381.1,385.9 C382.4,387.3 383.8,388.8 385.1,390.1 C386.4,391.4 387.8,392.7 389.1,393.9 C390.4,395.0 391.7,396.1 393.1,396.9 C394.4,397.8 395.7,398.5 397.0,399.0 C398.3,399.4 400.3,399.6 401.0,399.7" fill="none" stroke="#ff5a00" stroke-width="0.9"/>
<path d="M357.3,369.4 C357.9,369.5 359.9,369.6 361.2,370.0 C362.6,370.3 363.9,370.9 365.2,371.5 C366.6,372.1 367.9,372.9 369.2,373.8 C370.5,374.6 371.9,375.6 373.2,376.6 C374.5,377.6 375.8,378.7 377.1,379.8 C378.5,380.8 379.8,382.0 381.1,383.0 C382.4,384.1 383.8,385.2 385.1,386.2 C386.4,387.2 387.8,388.2 389.1,389.0 C390.4,389.9 391.7,390.7 393.1,391.3 C394.4,391.9 395.7,392.5 397.0,392.8 C398.3,393.2 400.3,393.3 401.0,393.4" fill="none" stroke="#ff5a00" stroke-width="0.9"/>
<path d="M357.3,359.1 C357.9,359.2 359.9,359.3 361.2,359.8 C362.6,360.2 363.9,360.8 365.2,361.5 C366.6,362.3 367.9,363.2 369.2,364.2 C370.5,365.2 371.9,366.4 373.2,367.5 C374.5,368.7 375.8,369.9 377.1,371.2 C378.5,372.4 379.8,373.8 381.1,375.0 C382.4,376.3 383.8,377.5 385.1,378.7 C386.4,379.8 387.8,381.0 389.1,382.0 C390.4,383.0 391.7,383.9 393.1,384.7 C394.4,385.4 395.7,386.0 397.0,386.4 C398.3,386.9 400.3,387.0 401.0,387.1" fill="none" stroke="#ff5a00" stroke-width="0.9"/>
<path d="M357.3,348.8 C357.9,348.9 359.9,349.1 361.2,349.5 C362.6,350.0 363.9,350.7 365.2,351.6 C366.6,352.4 367.9,353.5 369.2,354.6 C370.5,355.8 371.9,357.1 373.2,358.4 C374.5,359.7 375.8,361.2 377.1,362.6 C378.5,364.1 379.8,365.5 381.1,367.0 C382.4,368.4 383.8,369.9 385.1,371.2 C386.4,372.5 387.8,373.8 389.1,375.0 C390.4,376.1 391.7,377.2 393.1,378.0 C394.4,378.9 395.7,379.6 397.0,380.1 C398.3,380.5 400.3,380.7 401.0,380.8" fill="none" stroke="#ff5a00" stroke-width="0.9"/>
<path d="M357.3,350.5 C357.9,350.6 359.9,350.7 361.2,351.1 C362.6,351.4 363.9,352.0 365.2,352.6 C366.6,353.2 367.9,354.0 369.2,354.9 C370.5,355.7 371.9,356.7 373.2,357.7 C374.5,358.7 375.8,359.8 377.1,360.9 C378.5,361.9 379.8,363.1 381.1,364.1 C382.4,365.2 383.8,366.3 385.1,367.3 C386.4,368.3 387.8,369.3 389.1,370.1 C390.4,371.0 391.7,371.8 393.1,372.4 C394.4,373.0 395.7,373.6 397.0,373.9 C398.3,374.3 400.3,374.4 401.0,374.5" fill="none" stroke="#ff5a00" stroke-width="0.9"/>
<path d="M357.3,340.2 C357.9,340.3 359.9,340.4 361.2,340.9 C362.6,341.3 363.9,341.9 365.2,342.6 C366.6,343.4 367.9,344.3 369.2,345.3 C370.5,346.3 371.9,347.5 373.2,348.6 C374.5,349.8 375.8,351.0 377.1,352.3 C378.5,353.5 379.8,354.9 381.1,356.1 C382.4,357.4 383.8,358.6 385.1,359.8 C386.4,360.9 387.8,362.1 389.1,363.1 C390.4,364.1 391.7,365.0 393.1,365.8 C394.4,366.5 395.7,367.1 397.0,367.5 C398.3,368.0 400.3,368.1 401.0,368.2" fill="none" stroke="#ff5a00" stroke-width="0.9"/>
<path d="M357.3,329.9 C357.9,330.0 359.9,330.2 361.2,330.6 C362.6,331.1 363.9,331.8 365.2,332.7 C366.6,333.5 367.9,334.6 369.2,335.7 C370.5,336.9 371.9,338.2 373.2,339.5 C374.5,340.8 375.8,342.3 377.1,343.7 C378.5,345.2 379.8,346.6 381.1,348.1 C382.4,349.5 383.8,351.0 385.1,352.3 C386.4,353.6 387.8,354.9 389.1,356.1 C390.4,357.2 391.7,358.3 393.1,359.1 C394.4,360.0 395.7,360.7 397.0,361.2 C398.3,361.6 400.3,361.8 401.0,361.9" fill="none" stroke="#ff5a00" stroke-width="0.9"/>
<path d="M242.0,396.0 C242.8,395.5 244.5,395.3 247.0,393.0 C249.5,390.7 253.6,386.0 256.9,382.0 C260.2,378.0 263.5,373.3 266.8,369.0 C270.2,364.7 273.5,360.2 276.8,356.0 C280.1,351.8 285.1,346.0 286.7,344.0" fill="none" stroke="#ff5a00" stroke-width="0.9"/>
<path d="M242.0,378.0 C242.8,377.5 244.5,377.3 247.0,375.0 C249.5,372.7 253.6,368.0 256.9,364.0 C260.2,360.0 263.5,355.3 266.8,351.0 C270.2,346.7 273.5,342.2 276.8,338.0 C280.1,333.8 285.1,328.0 286.7,326.0" fill="none" stroke="#ff5a00" stroke-width="0.9"/>
<path d="M242.0,360.0 C242.8,359.5 244.5,359.3 247.0,357.0 C249.5,354.7 253.6,350.0 256.9,346.0 C260.2,342.0 263.5,337.3 266.8,333.0 C270.2,328.7 273.5,324.2 276.8,320.0 C280.1,315.8 285.1,310.0 286.7,308.0" fill="none" stroke="#ff5a00" stroke-width="0.9"/>
<path d="M341.4,353.0 C343.0,355.0 346.3,360.8 351.3,365.0 C356.3,369.2 365.4,373.7 371.2,378.0 C377.0,382.3 382.0,387.0 386.1,391.0 C390.2,395.0 393.5,399.7 396.0,402.0 C398.5,404.3 400.2,404.5 401.0,405.0" fill="none" stroke="#ff5a00" stroke-width="0.9"/>
<path d="M341.4,335.0 C343.0,337.0 346.3,342.8 351.3,347.0 C356.3,351.2 365.4,355.7 371.2,360.0 C377.0,364.3 382.0,369.0 386.1,373.0 C390.2,377.0 393.5,381.7 396.0,384.0 C398.5,386.3 400.2,386.5 401.0,387.0" fill="none" stroke="#ff5a00" stroke-width="0.9"/>
<path d="M341.4,317.0 C343.0,319.0 346.3,324.8 351.3,329.0 C356.3,333.2 365.4,337.7 371.2,342.0 C377.0,346.3 382.0,351.0 386.1,355.0 C390.2,359.0 393.5,363.7 396.0,366.0 C398.5,368.3 400.2,368.5 401.0,369.0" fill="none" stroke="#ff5a00" stroke-width="0.9"/>
<path d="M315.5,329.0 C316.2,329.8 318.0,330.7 319.8,334.0 C321.6,337.3 324.3,343.8 326.5,349.0 C328.7,354.2 330.8,364.1 332.9,365.1 C335.1,366.1 337.2,358.1 339.4,355.0 C341.6,351.9 343.7,348.7 345.9,346.6 C348.2,344.5 350.2,343.5 353.1,342.4 C356.0,341.3 359.4,341.2 363.2,340.0 C367.1,338.8 374.0,335.8 376.2,335.0" fill="none" stroke="#ff5a00" stroke-width="0.9"/>
<path d="M299.6,353.0 C301.6,354.7 307.1,359.3 311.6,363.0 C316.0,366.7 322.8,371.7 326.5,375.0 C330.1,378.3 330.9,383.3 333.4,383.0 C335.9,382.7 338.4,376.3 341.4,373.0 C344.4,369.7 348.0,366.0 351.3,363.0 C354.6,360.0 359.6,356.3 361.2,355.0" fill="none" stroke="#ff5a00" stroke-width="0.9"/>
<path d="M299.6,343.0 C301.3,344.0 305.9,347.0 309.6,349.0 C313.2,351.0 317.5,353.5 321.5,355.0 C325.5,356.5 329.4,358.7 333.4,358.0 C337.4,357.3 341.5,352.8 345.4,351.0 C349.2,349.2 352.0,348.3 356.3,347.0 C360.6,345.7 368.7,343.7 371.2,343.0" fill="none" stroke="#ff5a00" stroke-width="0.9"/>
<path d="M276.8,336.0 C278.9,336.3 285.9,337.8 289.7,338.0 C293.5,338.2 296.0,336.5 299.6,337.0 C303.3,337.5 307.9,339.7 311.6,341.0 C315.2,342.3 317.9,344.7 321.5,345.0 C325.1,345.3 329.3,343.7 333.4,343.0 C337.6,342.3 341.7,342.2 346.3,341.0 C351.0,339.8 358.8,336.8 361.2,336.0" fill="none" stroke="#ff5a00" stroke-width="0.9"/>
<path d="M276.8,343.0 C278.9,343.3 285.9,345.0 289.7,345.0 C293.5,345.0 296.0,342.9 299.6,343.2 C303.3,343.5 307.9,345.9 311.6,347.0 C315.2,348.1 317.9,349.7 321.5,350.0 C325.1,350.3 329.3,349.8 333.4,349.0 C337.6,348.2 341.7,346.7 346.3,345.0 C351.0,343.3 358.8,340.0 361.2,339.0" fill="none" stroke="#ff5a00" stroke-width="0.9"/>
<path d="M276.8,349.0 C278.9,349.3 285.9,351.0 289.7,351.0 C293.5,351.0 296.0,348.5 299.6,349.2 C303.3,349.9 307.9,353.7 311.6,355.0 C315.2,356.3 317.9,357.3 321.5,357.0 C325.1,356.7 329.3,353.8 333.4,353.0 C337.6,352.2 341.7,353.0 346.3,352.0 C351.0,351.0 358.8,347.8 361.2,347.0" fill="none" stroke="#ff5a00" stroke-width="0.9"/>
<path d="M242.0,544.0 C244.0,544.5 249.8,548.2 253.9,547.0 C258.1,545.8 262.2,541.0 266.8,537.0 C271.5,533.0 276.8,526.3 281.8,523.0 C286.7,519.7 291.7,518.8 296.7,517.0 C301.6,515.2 305.8,513.4 311.6,512.0 C317.4,510.6 326.1,508.5 331.4,508.5 C336.7,508.5 339.2,509.6 343.4,512.0 C347.5,514.4 351.6,519.0 356.3,523.0 C360.9,527.0 366.2,532.5 371.2,536.0 C376.2,539.5 381.1,542.8 386.1,544.0 C391.1,545.2 398.5,543.2 401.0,543.0" fill="none" stroke="#ff5a00" stroke-width="0.9"/>
<path d="M243.5,545.8 C245.5,546.5 251.3,550.9 255.4,550.3 C259.6,549.6 263.7,545.3 268.3,541.6 C273.0,537.9 278.3,531.4 283.2,528.1 C288.2,524.7 293.2,523.4 298.1,521.3 C303.1,519.2 307.6,516.9 313.1,515.4 C318.5,514.0 325.7,512.3 330.6,512.6 C335.6,512.8 338.4,514.1 342.6,516.8 C346.7,519.4 350.8,524.4 355.5,528.5 C360.1,532.7 365.4,538.2 370.4,541.5 C375.4,544.8 380.3,547.5 385.3,548.1 C390.3,548.7 397.7,545.7 400.2,545.2" fill="none" stroke="#ff5a00" stroke-width="0.9"/>
<path d="M245.0,550.5 C247.0,551.1 252.8,555.3 256.9,554.3 C261.0,553.2 265.2,548.3 269.8,544.1 C274.5,540.0 279.8,533.0 284.7,529.6 C289.7,526.2 294.7,525.4 299.6,523.9 C304.6,522.4 309.5,521.2 314.5,520.5 C319.6,519.9 325.3,519.6 329.8,520.0 C334.4,520.5 337.6,521.1 341.8,523.2 C345.9,525.3 350.1,529.5 354.7,532.8 C359.3,536.2 364.6,540.7 369.6,543.5 C374.6,546.4 379.5,548.9 384.5,549.7 C389.5,550.5 396.9,548.5 399.4,548.3" fill="none" stroke="#ff5a00" stroke-width="0.9"/>
<path d="M246.5,552.2 C248.5,552.7 254.3,556.2 258.4,555.1 C262.5,554.0 266.7,549.1 271.3,545.5 C276.0,541.8 281.3,535.8 286.2,533.2 C291.2,530.6 296.2,530.8 301.1,529.8 C306.1,528.9 311.4,528.1 316.0,527.3 C320.7,526.4 324.9,525.1 329.1,525.0 C333.2,524.8 336.8,524.6 341.0,526.3 C345.1,528.0 349.3,531.7 353.9,535.1 C358.5,538.5 363.8,543.5 368.8,546.8 C373.8,550.0 378.7,553.5 383.7,554.7 C388.7,555.8 396.1,553.8 398.6,553.7" fill="none" stroke="#ff5a00" stroke-width="0.9"/>
<path d="M248.0,552.9 C249.9,553.6 255.7,558.0 259.9,557.5 C264.0,557.0 268.2,553.1 272.8,550.1 C277.4,547.0 282.7,541.6 287.7,539.2 C292.7,536.7 297.6,536.5 302.6,535.1 C307.6,533.8 313.3,532.0 317.5,530.8 C321.8,529.6 324.5,528.1 328.3,528.0 C332.0,527.8 336.0,527.9 340.2,530.0 C344.3,532.0 348.5,536.5 353.1,540.3 C357.7,544.2 363.0,549.8 368.0,553.0 C373.0,556.3 377.9,559.3 382.9,559.9 C387.9,560.5 395.3,557.0 397.8,556.4" fill="none" stroke="#ff5a00" stroke-width="0.9"/>
<path d="M249.5,556.8 C251.4,557.8 257.2,563.0 261.4,562.7 C265.5,562.4 269.7,558.4 274.3,555.0 C278.9,551.7 284.2,545.5 289.2,542.5 C294.2,539.5 299.1,538.7 304.1,537.2 C309.1,535.8 315.1,534.1 319.0,533.6 C322.9,533.1 324.1,533.4 327.5,534.0 C330.9,534.5 335.2,534.8 339.4,536.9 C343.5,539.0 347.7,543.4 352.3,546.8 C356.9,550.2 362.2,554.8 367.2,557.3 C372.2,559.8 377.1,561.7 382.1,561.7 C387.1,561.8 394.5,558.2 397.0,557.4" fill="none" stroke="#ff5a00" stroke-width="0.9"/>
<path d="M250.9,561.0 C252.9,561.8 258.7,566.3 262.9,565.6 C267.0,564.8 271.2,560.2 275.8,556.6 C280.4,553.0 285.7,546.7 290.7,544.1 C295.7,541.5 300.6,541.6 305.6,540.8 C310.6,540.1 317.0,539.7 320.5,539.7 C324.0,539.8 323.7,540.7 326.7,541.2 C329.7,541.6 334.5,540.9 338.6,542.4 C342.7,543.8 346.9,547.2 351.5,550.0 C356.1,552.8 361.4,556.7 366.4,559.1 C371.4,561.4 376.4,563.7 381.3,564.2 C386.3,564.6 393.7,562.0 396.2,561.6" fill="none" stroke="#ff5a00" stroke-width="0.9"/>
<path d="M273.8,561.0 C276.0,558.3 282.1,550.3 286.7,545.0 C291.4,539.7 295.8,533.3 301.6,529.0 C307.4,524.7 314.9,520.3 321.5,519.0 C328.1,517.7 334.8,518.7 341.4,521.0 C348.0,523.3 354.6,529.0 361.2,533.0 C367.9,537.0 374.5,542.5 381.1,545.0 C387.8,547.5 397.7,547.5 401.0,548.0" fill="none" stroke="#ff5a00" stroke-width="0.9"/>
<path d="M273.8,561.0 C276.0,558.7 282.1,551.7 286.7,547.0 C291.4,542.3 295.8,537.0 301.6,533.0 C307.4,529.0 314.9,524.3 321.5,523.0 C328.1,521.7 334.8,522.7 341.4,525.0 C348.0,527.3 354.6,533.2 361.2,537.0 C367.9,540.8 374.5,545.7 381.1,548.0 C387.8,550.3 397.7,550.5 401.0,551.0" fill="none" stroke="#ff5a00" stroke-width="0.9"/>
<path d="M262.9,565.7 C263.5,564.5 265.5,560.8 266.8,558.5 C268.2,556.3 269.5,554.2 270.8,552.3 C272.1,550.4 273.5,548.6 274.8,547.0 C276.1,545.4 277.4,544.0 278.8,542.7 C280.1,541.4 281.4,540.3 282.7,539.3 C284.1,538.4 285.4,537.6 286.7,536.9 C288.0,536.3 289.4,535.8 290.7,535.5 C292.0,535.2 293.3,535.0 294.7,535.0 C296.0,535.0 297.3,535.2 298.6,535.5 C300.0,535.8 301.3,536.3 302.6,536.9 C303.9,537.6 305.3,538.4 306.6,539.3 C307.9,540.3 309.2,541.4 310.6,542.7 C311.9,544.0 313.2,545.4 314.5,547.0 C315.9,548.6 317.2,550.4 318.5,552.3 C319.8,554.2 321.2,556.3 322.5,558.5 C323.8,560.8 325.8,564.5 326.5,565.7" fill="none" stroke="#ff5a00" stroke-width="0.9"/>
<path d="M261.9,584.0 C262.5,582.4 264.5,577.3 265.9,574.4 C267.2,571.4 268.5,568.6 269.8,566.0 C271.1,563.5 272.5,561.1 273.8,559.0 C275.1,556.9 276.4,554.9 277.8,553.2 C279.1,551.5 280.4,550.0 281.8,548.8 C283.1,547.5 284.4,546.4 285.7,545.6 C287.1,544.7 288.4,544.1 289.7,543.6 C291.0,543.2 292.4,543.0 293.7,543.0 C295.0,543.0 296.3,543.2 297.6,543.6 C299.0,544.1 300.3,544.7 301.6,545.6 C302.9,546.4 304.3,547.5 305.6,548.8 C306.9,550.0 308.2,551.5 309.6,553.2 C310.9,554.9 312.2,556.9 313.6,559.0 C314.9,561.1 316.2,563.5 317.5,566.0 C318.8,568.6 320.2,571.4 321.5,574.4 C322.8,577.3 324.8,582.4 325.5,584.0" fill="none" stroke="#ff5a00" stroke-width="0.9"/>
<path d="M301.6,589.2 C302.3,587.2 304.3,580.9 305.6,577.2 C306.9,573.5 308.2,570.0 309.6,566.8 C310.9,563.6 312.2,560.7 313.6,558.0 C314.9,555.3 316.2,552.9 317.5,550.8 C318.8,548.7 320.2,546.8 321.5,545.2 C322.8,543.6 324.2,542.3 325.5,541.2 C326.8,540.1 328.1,539.3 329.4,538.8 C330.8,538.3 332.1,538.0 333.4,538.0 C334.8,538.0 336.1,538.3 337.4,538.8 C338.7,539.3 340.1,540.1 341.4,541.2 C342.7,542.3 344.0,543.6 345.4,545.2 C346.7,546.8 348.0,548.7 349.3,550.8 C350.6,552.9 352.0,555.3 353.3,558.0 C354.6,560.7 355.9,563.6 357.3,566.8 C358.6,570.0 359.9,573.5 361.2,577.2 C362.6,580.9 364.6,587.2 365.2,589.2" fill="none" stroke="#ff5a00" stroke-width="0.9"/>
<path d="M299.6,606.4 C300.3,604.0 302.3,596.5 303.6,592.0 C304.9,587.6 306.3,583.4 307.6,579.6 C308.9,575.7 310.2,572.2 311.6,569.0 C312.9,565.8 314.2,562.9 315.5,560.4 C316.9,557.8 318.2,555.6 319.5,553.6 C320.8,551.7 322.2,550.1 323.5,548.8 C324.8,547.6 326.1,546.6 327.5,546.0 C328.8,545.3 330.1,545.0 331.4,545.0 C332.8,545.0 334.1,545.3 335.4,546.0 C336.7,546.6 338.1,547.6 339.4,548.8 C340.7,550.1 342.0,551.7 343.4,553.6 C344.7,555.6 346.0,557.8 347.3,560.4 C348.7,562.9 350.0,565.8 351.3,569.0 C352.6,572.2 354.0,575.7 355.3,579.6 C356.6,583.4 357.9,587.6 359.3,592.0 C360.6,596.5 362.6,604.0 363.2,606.4" fill="none" stroke="#ff5a00" stroke-width="0.9"/>
<path d="M242.0,557.0 C245.3,557.3 255.2,559.3 261.9,559.0 C268.5,558.7 275.1,556.3 281.8,555.0 C288.4,553.7 295.0,551.3 301.6,551.0 C308.2,550.7 314.9,553.0 321.5,553.0 C328.1,553.0 334.8,550.7 341.4,551.0 C348.0,551.3 354.6,553.8 361.2,555.0 C367.9,556.2 374.5,557.8 381.1,558.0 C387.8,558.2 397.7,556.3 401.0,556.0" fill="none" stroke="#ff5a00" stroke-width="0.9"/>
<path d="M291.7,557.0 C295.0,556.7 304.9,555.0 311.6,555.0 C318.2,555.0 324.8,556.3 331.4,557.0 C338.1,557.7 348.0,558.7 351.3,559.0" fill="none" stroke="#ff5a00" stroke-width="0.9"/>
<path d="M341.4,510.0 C344.0,514.3 350.6,527.4 357.2,535.9 C363.8,544.4 377.1,556.8 381.0,561.0" fill="none" stroke="#ff5a00" stroke-width="0.9"/>
<path d="M242.0,413.7 C245.9,414.3 257.6,416.8 265.4,417.2 C273.2,417.6 280.9,416.4 288.7,416.0 C296.5,415.6 304.6,416.1 312.0,414.9 C319.4,413.7 327.6,409.0 333.1,409.0 C338.6,409.0 340.5,412.8 344.8,414.9 C349.1,417.0 352.6,421.1 358.8,421.9 C365.0,422.7 375.0,420.9 382.2,419.5 C389.4,418.1 398.7,414.7 402.0,413.7" fill="none" stroke="#237a2a" stroke-width="0.85"/>
<path d="M242.0,416.0 C245.9,416.3 257.6,417.6 265.4,418.0 C273.2,418.4 280.9,418.6 288.7,418.4 C296.5,418.2 304.6,418.2 312.0,417.0 C319.4,415.8 327.2,410.8 333.1,411.4 C339.0,412.0 342.0,417.4 347.1,420.7 C352.2,424.0 357.6,430.0 363.5,431.2 C369.4,432.4 375.8,430.4 382.2,427.7 C388.6,425.0 398.7,417.0 402.0,414.9" fill="none" stroke="#ff5a00" stroke-width="0.85"/>
<path d="M242.0,418.4 C247.7,418.8 264.3,420.7 276.0,421.0 C287.7,421.3 302.5,420.6 312.0,420.0 C321.5,419.4 326.5,415.5 333.1,417.2 C339.7,418.9 346.7,426.5 351.8,430.0 C356.9,433.5 358.4,437.6 363.5,438.2 C368.6,438.8 375.8,437.1 382.2,433.6 C388.6,430.1 398.7,419.9 402.0,417.2" fill="none" stroke="#ff5a00" stroke-width="0.85"/>
<path d="M242.0,420.7 C249.8,421.1 273.5,423.4 288.7,423.0 C303.9,422.6 323.4,417.6 333.1,418.4 C342.8,419.2 340.9,424.8 347.1,427.7 C353.3,430.6 361.4,437.3 370.5,435.9 C379.6,434.5 396.8,422.2 402.0,419.5" fill="none" stroke="#237a2a" stroke-width="0.85"/>
<path d="M242.0,423.0 C249.8,424.2 277.0,429.4 288.7,430.0 C300.4,430.6 304.6,427.7 312.0,426.5 C319.4,425.3 327.2,423.8 333.1,423.0 C339.0,422.2 340.9,422.3 347.1,421.9 C353.3,421.5 361.4,420.5 370.5,420.7 C379.6,420.9 396.8,422.6 402.0,423.0" fill="none" stroke="#ff5a00" stroke-width="0.85"/>
<path d="M242.0,426.0 C245.9,426.6 255.7,428.3 265.4,429.5 C275.1,430.7 289.1,433.2 300.4,433.0 C311.7,432.8 323.4,429.8 333.1,428.5 C342.8,427.2 347.3,425.9 358.8,425.5 C370.3,425.1 394.8,425.9 402.0,426.0" fill="none" stroke="#ff5a00" stroke-width="0.85"/>
<path d="M242.0,425.4 C245.9,426.0 255.7,427.3 265.4,428.9 C275.1,430.4 289.1,434.5 300.4,434.7 C311.7,434.9 323.4,431.4 333.1,430.0 C342.8,428.6 347.3,427.3 358.8,426.5 C370.3,425.7 394.8,425.6 402.0,425.4" fill="none" stroke="#237a2a" stroke-width="0.85"/>
<path d="M242.0,454.3 C245.9,455.7 257.6,459.4 265.4,462.5 C273.2,465.6 280.9,471.1 288.7,473.0 C296.5,474.9 304.6,473.2 312.0,474.2 C319.4,475.2 325.3,479.7 333.1,478.9 C340.9,478.1 350.6,472.6 358.8,469.5 C367.0,466.4 375.0,462.9 382.2,460.2 C389.4,457.5 398.7,454.4 402.0,453.2" fill="none" stroke="#ff5a00" stroke-width="0.85"/>
<path d="M242.0,460.9 C245.9,462.1 257.6,465.0 265.4,468.4 C273.2,471.8 280.9,479.3 288.7,481.2 C296.5,483.1 304.6,479.6 312.0,480.0 C319.4,480.4 325.3,484.0 333.1,483.6 C340.9,483.2 347.3,481.6 358.8,477.7 C370.3,473.8 394.8,463.1 402.0,460.2" fill="none" stroke="#237a2a" stroke-width="0.85"/>
<path d="M242.0,465.6 C245.9,467.2 257.6,471.8 265.4,475.4 C273.2,479.0 280.9,485.2 288.7,487.1 C296.5,489.0 304.6,486.2 312.0,486.6 C319.4,487.0 325.3,489.9 333.1,489.4 C340.9,488.9 350.6,486.3 358.8,483.6 C367.0,480.9 375.0,476.1 382.2,473.0 C389.4,469.9 398.7,466.2 402.0,464.9" fill="none" stroke="#ff5a00" stroke-width="0.85"/>
<path d="M242.0,482.4 C249.8,484.1 273.5,490.8 288.7,492.9 C303.9,495.0 314.2,496.9 333.1,495.2 C352.0,493.4 390.5,484.5 402.0,482.4" fill="none" stroke="#237a2a" stroke-width="0.85"/>
<path d="M242.0,489.4 C249.8,490.2 273.5,492.9 288.7,494.1 C303.9,495.3 314.2,497.2 333.1,496.4 C352.0,495.6 390.5,490.6 402.0,489.4" fill="none" stroke="#ff5a00" stroke-width="0.85"/>
<path d="M242.0,503.9 C248.4,503.7 265.1,502.9 280.7,502.7 C296.3,502.5 315.8,502.5 335.8,502.7 C355.9,502.9 390.1,503.7 401.0,503.9" fill="none" stroke="#237a2a" stroke-width="0.85"/>
<path d="M242.0,505.0 C248.4,504.7 265.1,503.2 280.7,503.0 C296.3,502.8 315.8,503.5 335.8,504.0 C355.9,504.5 390.1,505.7 401.0,506.0" fill="none" stroke="#ff5a00" stroke-width="0.85"/>
</g>
<path d="M333.4,425.5 L333.4,433.5 M329.8,429.5 L333.4,433.8 L337,429.5" fill="none" stroke="#237a2a" stroke-width="1.6"/>
<path d="M333.4,481.5 L333.4,473 M329.8,477 L333.4,472.7 L337,477" fill="none" stroke="#ff5a00" stroke-width="1.6"/>
<line x1="242" y1="390.25" x2="247" y2="390.25" stroke="#000" stroke-width="1"/>
<line x1="396" y1="390.25" x2="401" y2="390.25" stroke="#000" stroke-width="1"/>
<line x1="242" y1="447.0" x2="247" y2="447.0" stroke="#000" stroke-width="1"/>
<line x1="396" y1="447.0" x2="401" y2="447.0" stroke="#000" stroke-width="1"/>
<line x1="242" y1="503.75" x2="247" y2="503.75" stroke="#000" stroke-width="1"/>
<line x1="396" y1="503.75" x2="401" y2="503.75" stroke="#000" stroke-width="1"/>
<line x1="300" y1="333.5" x2="300" y2="338.5" stroke="#000" stroke-width="1"/>
<line x1="300" y1="555.5" x2="300" y2="560.5" stroke="#000" stroke-width="1"/>
<line x1="333.5" y1="333.5" x2="333.5" y2="338.5" stroke="#000" stroke-width="1"/>
<line x1="333.5" y1="555.5" x2="333.5" y2="560.5" stroke="#000" stroke-width="1"/>
<line x1="242" y1="447.5" x2="401" y2="447.5" stroke="#a0a0a0" stroke-width="1.0" stroke-dasharray="2.9,2.05"/>
<rect x="242" y="333.5" width="159" height="227.0" fill="none" stroke="#000" stroke-width="1.3"/>
<rect x="232" y="61.0" width="70.30000000000001" height="23.400000000000006" fill="#fdc88f"/>
<line x1="232" y1="61.0" x2="302.3" y2="61.0" stroke="#2b211b" stroke-width="1.1"/>
<line x1="232" y1="84.4" x2="302.3" y2="84.4" stroke="#2b211b" stroke-width="1.1"/>
<path d="M253.20000000000002,59.0 C252.3,57.6 251.0,56.4 251.0,54.0 C251.0,51.7 252.6,50.5 254.9,50.5 C257.2,50.5 258.8,51.7 258.8,54.0 C258.8,56.4 257.5,57.6 256.6,59.0 Z" fill="#c9c9f7" stroke="#1e1e1e" stroke-width="0.9"/>
<path d="M253.20000000000002,63.0 C252.3,64.4 251.0,65.6 251.0,68.0 C251.0,70.3 252.6,71.5 254.9,71.5 C257.2,71.5 258.8,70.3 258.8,68.0 C258.8,65.6 257.5,64.4 256.6,63.0 Z" fill="#c9c9f7" stroke="#1e1e1e" stroke-width="0.9"/>
<rect x="248.5" y="59.0" width="12.8" height="4.0" rx="2.0" fill="#f28a8c" stroke="#1e1e1e" stroke-width="0.8"/>
<path d="M287.3,59.0 C286.4,57.6 285.1,56.4 285.1,54.0 C285.1,51.7 286.7,50.5 289,50.5 C291.3,50.5 292.9,51.7 292.9,54.0 C292.9,56.4 291.6,57.6 290.7,59.0 Z" fill="#c9c9f7" stroke="#1e1e1e" stroke-width="0.9"/>
<path d="M287.3,63.0 C286.4,64.4 285.1,65.6 285.1,68.0 C285.1,70.3 286.7,71.5 289,71.5 C291.3,71.5 292.9,70.3 292.9,68.0 C292.9,65.6 291.6,64.4 290.7,63.0 Z" fill="#c9c9f7" stroke="#1e1e1e" stroke-width="0.9"/>
<rect x="282.6" y="59.0" width="12.8" height="4.0" rx="2.0" fill="#f28a8c" stroke="#1e1e1e" stroke-width="0.8"/>
<path d="M253.20000000000002,82.4 C252.3,81.0 251.0,79.80000000000001 251.0,77.4 C251.0,75.10000000000001 252.6,73.9 254.9,73.9 C257.2,73.9 258.8,75.10000000000001 258.8,77.4 C258.8,79.80000000000001 257.5,81.0 256.6,82.4 Z" fill="#c9c9f7" stroke="#1e1e1e" stroke-width="0.9"/>
<path d="M253.20000000000002,86.4 C252.3,87.80000000000001 251.0,89.0 251.0,91.4 C251.0,93.7 252.6,94.9 254.9,94.9 C257.2,94.9 258.8,93.7 258.8,91.4 C258.8,89.0 257.5,87.80000000000001 256.6,86.4 Z" fill="#c9c9f7" stroke="#1e1e1e" stroke-width="0.9"/>
<rect x="248.5" y="82.4" width="12.8" height="4.0" rx="2.0" fill="#f28a8c" stroke="#1e1e1e" stroke-width="0.8"/>
<path d="M287.3,82.4 C286.4,81.0 285.1,79.80000000000001 285.1,77.4 C285.1,75.10000000000001 286.7,73.9 289,73.9 C291.3,73.9 292.9,75.10000000000001 292.9,77.4 C292.9,79.80000000000001 291.6,81.0 290.7,82.4 Z" fill="#c9c9f7" stroke="#1e1e1e" stroke-width="0.9"/>
<path d="M287.3,86.4 C286.4,87.80000000000001 285.1,89.0 285.1,91.4 C285.1,93.7 286.7,94.9 289,94.9 C291.3,94.9 292.9,93.7 292.9,91.4 C292.9,89.0 291.6,87.80000000000001 290.7,86.4 Z" fill="#c9c9f7" stroke="#1e1e1e" stroke-width="0.9"/>
<rect x="282.6" y="82.4" width="12.8" height="4.0" rx="2.0" fill="#f28a8c" stroke="#1e1e1e" stroke-width="0.8"/>
<rect x="232" y="107.8" width="70.30000000000001" height="23.39999999999999" fill="#fdc88f"/>
<line x1="232" y1="107.8" x2="302.3" y2="107.8" stroke="#2b211b" stroke-width="1.1"/>
<line x1="232" y1="131.2" x2="302.3" y2="131.2" stroke="#2b211b" stroke-width="1.1"/>
<path d="M238.4,105.8 C237.5,104.39999999999999 236.2,103.2 236.2,100.8 C236.2,98.5 237.79999999999998,97.3 240.1,97.3 C242.4,97.3 244.0,98.5 244.0,100.8 C244.0,103.2 242.7,104.39999999999999 241.79999999999998,105.8 Z" fill="#c9c9f7" stroke="#1e1e1e" stroke-width="0.9"/>
<path d="M238.4,109.8 C237.5,111.2 236.2,112.39999999999999 236.2,114.8 C236.2,117.1 237.79999999999998,118.3 240.1,118.3 C242.4,118.3 244.0,117.1 244.0,114.8 C244.0,112.39999999999999 242.7,111.2 241.79999999999998,109.8 Z" fill="#c9c9f7" stroke="#1e1e1e" stroke-width="0.9"/>
<rect x="233.7" y="105.8" width="12.8" height="4.0" rx="2.0" fill="#f28a8c" stroke="#1e1e1e" stroke-width="0.8"/>
<path d="M272.5,105.8 C271.59999999999997,104.39999999999999 270.3,103.2 270.3,100.8 C270.3,98.5 271.9,97.3 274.2,97.3 C276.5,97.3 278.09999999999997,98.5 278.09999999999997,100.8 C278.09999999999997,103.2 276.8,104.39999999999999 275.9,105.8 Z" fill="#c9c9f7" stroke="#1e1e1e" stroke-width="0.9"/>
<path d="M272.5,109.8 C271.59999999999997,111.2 270.3,112.39999999999999 270.3,114.8 C270.3,117.1 271.9,118.3 274.2,118.3 C276.5,118.3 278.09999999999997,117.1 278.09999999999997,114.8 C278.09999999999997,112.39999999999999 276.8,111.2 275.9,109.8 Z" fill="#c9c9f7" stroke="#1e1e1e" stroke-width="0.9"/>
<rect x="267.8" y="105.8" width="12.8" height="4.0" rx="2.0" fill="#f28a8c" stroke="#1e1e1e" stroke-width="0.8"/>
<path d="M238.4,129.2 C237.5,127.79999999999998 236.2,126.6 236.2,124.19999999999999 C236.2,121.89999999999999 237.79999999999998,120.69999999999999 240.1,120.69999999999999 C242.4,120.69999999999999 244.0,121.89999999999999 244.0,124.19999999999999 C244.0,126.6 242.7,127.79999999999998 241.79999999999998,129.2 Z" fill="#c9c9f7" stroke="#1e1e1e" stroke-width="0.9"/>
<path d="M238.4,133.2 C237.5,134.6 236.2,135.79999999999998 236.2,138.2 C236.2,140.5 237.79999999999998,141.7 240.1,141.7 C242.4,141.7 244.0,140.5 244.0,138.2 C244.0,135.79999999999998 242.7,134.6 241.79999999999998,133.2 Z" fill="#c9c9f7" stroke="#1e1e1e" stroke-width="0.9"/>
<rect x="233.7" y="129.2" width="12.8" height="4.0" rx="2.0" fill="#f28a8c" stroke="#1e1e1e" stroke-width="0.8"/>
<path d="M272.5,129.2 C271.59999999999997,127.79999999999998 270.3,126.6 270.3,124.19999999999999 C270.3,121.89999999999999 271.9,120.69999999999999 274.2,120.69999999999999 C276.5,120.69999999999999 278.09999999999997,121.89999999999999 278.09999999999997,124.19999999999999 C278.09999999999997,126.6 276.8,127.79999999999998 275.9,129.2 Z" fill="#c9c9f7" stroke="#1e1e1e" stroke-width="0.9"/>
<path d="M272.5,133.2 C271.59999999999997,134.6 270.3,135.79999999999998 270.3,138.2 C270.3,140.5 271.9,141.7 274.2,141.7 C276.5,141.7 278.09999999999997,140.5 278.09999999999997,138.2 C278.09999999999997,135.79999999999998 276.8,134.6 275.9,133.2 Z" fill="#c9c9f7" stroke="#1e1e1e" stroke-width="0.9"/>
<rect x="267.8" y="129.2" width="12.8" height="4.0" rx="2.0" fill="#f28a8c" stroke="#1e1e1e" stroke-width="0.8"/>
<rect x="232" y="154.8" width="70.30000000000001" height="23.5" fill="#fdc88f"/>
<line x1="232" y1="154.8" x2="302.3" y2="154.8" stroke="#2b211b" stroke-width="1.1"/>
<line x1="232" y1="178.3" x2="302.3" y2="178.3" stroke="#2b211b" stroke-width="1.1"/>
<path d="M258.0,152.8 C257.09999999999997,151.4 255.79999999999998,150.20000000000002 255.79999999999998,147.8 C255.79999999999998,145.5 257.4,144.3 259.7,144.3 C262.0,144.3 263.59999999999997,145.5 263.59999999999997,147.8 C263.59999999999997,150.20000000000002 262.3,151.4 261.4,152.8 Z" fill="#c9c9f7" stroke="#1e1e1e" stroke-width="0.9"/>
<path d="M258.0,156.8 C257.09999999999997,158.20000000000002 255.79999999999998,159.4 255.79999999999998,161.8 C255.79999999999998,164.10000000000002 257.4,165.3 259.7,165.3 C262.0,165.3 263.59999999999997,164.10000000000002 263.59999999999997,161.8 C263.59999999999997,159.4 262.3,158.20000000000002 261.4,156.8 Z" fill="#c9c9f7" stroke="#1e1e1e" stroke-width="0.9"/>
<rect x="253.29999999999998" y="152.8" width="12.8" height="4.0" rx="2.0" fill="#f28a8c" stroke="#1e1e1e" stroke-width="0.8"/>
<path d="M291.90000000000003,152.8 C291.0,151.4 289.70000000000005,150.20000000000002 289.70000000000005,147.8 C289.70000000000005,145.5 291.3,144.3 293.6,144.3 C295.90000000000003,144.3 297.5,145.5 297.5,147.8 C297.5,150.20000000000002 296.20000000000005,151.4 295.3,152.8 Z" fill="#c9c9f7" stroke="#1e1e1e" stroke-width="0.9"/>
<path d="M291.90000000000003,156.8 C291.0,158.20000000000002 289.70000000000005,159.4 289.70000000000005,161.8 C289.70000000000005,164.10000000000002 291.3,165.3 293.6,165.3 C295.90000000000003,165.3 297.5,164.10000000000002 297.5,161.8 C297.5,159.4 296.20000000000005,158.20000000000002 295.3,156.8 Z" fill="#c9c9f7" stroke="#1e1e1e" stroke-width="0.9"/>
<rect x="287.20000000000005" y="152.8" width="12.8" height="4.0" rx="2.0" fill="#f28a8c" stroke="#1e1e1e" stroke-width="0.8"/>
<path d="M258.0,176.3 C257.09999999999997,174.9 255.79999999999998,173.70000000000002 255.79999999999998,171.3 C255.79999999999998,169.0 257.4,167.8 259.7,167.8 C262.0,167.8 263.59999999999997,169.0 263.59999999999997,171.3 C263.59999999999997,173.70000000000002 262.3,174.9 261.4,176.3 Z" fill="#c9c9f7" stroke="#1e1e1e" stroke-width="0.9"/>
<path d="M258.0,180.3 C257.09999999999997,181.70000000000002 255.79999999999998,182.9 255.79999999999998,185.3 C255.79999999999998,187.60000000000002 257.4,188.8 259.7,188.8 C262.0,188.8 263.59999999999997,187.60000000000002 263.59999999999997,185.3 C263.59999999999997,182.9 262.3,181.70000000000002 261.4,180.3 Z" fill="#c9c9f7" stroke="#1e1e1e" stroke-width="0.9"/>
<rect x="253.29999999999998" y="176.3" width="12.8" height="4.0" rx="2.0" fill="#f28a8c" stroke="#1e1e1e" stroke-width="0.8"/>
<path d="M291.90000000000003,176.3 C291.0,174.9 289.70000000000005,173.70000000000002 289.70000000000005,171.3 C289.70000000000005,169.0 291.3,167.8 293.6,167.8 C295.90000000000003,167.8 297.5,169.0 297.5,171.3 C297.5,173.70000000000002 296.20000000000005,174.9 295.3,176.3 Z" fill="#c9c9f7" stroke="#1e1e1e" stroke-width="0.9"/>
<path d="M291.90000000000003,180.3 C291.0,181.70000000000002 289.70000000000005,182.9 289.70000000000005,185.3 C289.70000000000005,187.60000000000002 291.3,188.8 293.6,188.8 C295.90000000000003,188.8 297.5,187.60000000000002 297.5,185.3 C297.5,182.9 296.20000000000005,181.70000000000002 295.3,180.3 Z" fill="#c9c9f7" stroke="#1e1e1e" stroke-width="0.9"/>
<rect x="287.20000000000005" y="176.3" width="12.8" height="4.0" rx="2.0" fill="#f28a8c" stroke="#1e1e1e" stroke-width="0.8"/>
<rect x="232" y="201.8" width="70.30000000000001" height="23.399999999999977" fill="#fdc88f"/>
<line x1="232" y1="201.8" x2="302.3" y2="201.8" stroke="#2b211b" stroke-width="1.1"/>
<line x1="232" y1="225.2" x2="302.3" y2="225.2" stroke="#2b211b" stroke-width="1.1"/>
<path d="M243.3,199.8 C242.4,198.4 241.1,197.20000000000002 241.1,194.8 C241.1,192.5 242.7,191.3 245,191.3 C247.3,191.3 248.9,192.5 248.9,194.8 C248.9,197.20000000000002 247.6,198.4 246.7,199.8 Z" fill="#c9c9f7" stroke="#1e1e1e" stroke-width="0.9"/>
<path d="M243.3,203.8 C242.4,205.20000000000002 241.1,206.4 241.1,208.8 C241.1,211.10000000000002 242.7,212.3 245,212.3 C247.3,212.3 248.9,211.10000000000002 248.9,208.8 C248.9,206.4 247.6,205.20000000000002 246.7,203.8 Z" fill="#c9c9f7" stroke="#1e1e1e" stroke-width="0.9"/>
<rect x="238.6" y="199.8" width="12.8" height="4.0" rx="2.0" fill="#f28a8c" stroke="#1e1e1e" stroke-width="0.8"/>
<path d="M277.5,199.8 C276.59999999999997,198.4 275.3,197.20000000000002 275.3,194.8 C275.3,192.5 276.9,191.3 279.2,191.3 C281.5,191.3 283.09999999999997,192.5 283.09999999999997,194.8 C283.09999999999997,197.20000000000002 281.8,198.4 280.9,199.8 Z" fill="#c9c9f7" stroke="#1e1e1e" stroke-width="0.9"/>
<path d="M277.5,203.8 C276.59999999999997,205.20000000000002 275.3,206.4 275.3,208.8 C275.3,211.10000000000002 276.9,212.3 279.2,212.3 C281.5,212.3 283.09999999999997,211.10000000000002 283.09999999999997,208.8 C283.09999999999997,206.4 281.8,205.20000000000002 280.9,203.8 Z" fill="#c9c9f7" stroke="#1e1e1e" stroke-width="0.9"/>
<rect x="272.8" y="199.8" width="12.8" height="4.0" rx="2.0" fill="#f28a8c" stroke="#1e1e1e" stroke-width="0.8"/>
<path d="M243.3,223.2 C242.4,221.79999999999998 241.1,220.6 241.1,218.2 C241.1,215.89999999999998 242.7,214.7 245,214.7 C247.3,214.7 248.9,215.89999999999998 248.9,218.2 C248.9,220.6 247.6,221.79999999999998 246.7,223.2 Z" fill="#c9c9f7" stroke="#1e1e1e" stroke-width="0.9"/>
<path d="M243.3,227.2 C242.4,228.6 241.1,229.79999999999998 241.1,232.2 C241.1,234.5 242.7,235.7 245,235.7 C247.3,235.7 248.9,234.5 248.9,232.2 C248.9,229.79999999999998 247.6,228.6 246.7,227.2 Z" fill="#c9c9f7" stroke="#1e1e1e" stroke-width="0.9"/>
<rect x="238.6" y="223.2" width="12.8" height="4.0" rx="2.0" fill="#f28a8c" stroke="#1e1e1e" stroke-width="0.8"/>
<path d="M277.5,223.2 C276.59999999999997,221.79999999999998 275.3,220.6 275.3,218.2 C275.3,215.89999999999998 276.9,214.7 279.2,214.7 C281.5,214.7 283.09999999999997,215.89999999999998 283.09999999999997,218.2 C283.09999999999997,220.6 281.8,221.79999999999998 280.9,223.2 Z" fill="#c9c9f7" stroke="#1e1e1e" stroke-width="0.9"/>
<path d="M277.5,227.2 C276.59999999999997,228.6 275.3,229.79999999999998 275.3,232.2 C275.3,234.5 276.9,235.7 279.2,235.7 C281.5,235.7 283.09999999999997,234.5 283.09999999999997,232.2 C283.09999999999997,229.79999999999998 281.8,228.6 280.9,227.2 Z" fill="#c9c9f7" stroke="#1e1e1e" stroke-width="0.9"/>
<rect x="272.8" y="223.2" width="12.8" height="4.0" rx="2.0" fill="#f28a8c" stroke="#1e1e1e" stroke-width="0.8"/>
<text x="310.8" y="78.7" font-size="14.5" text-anchor="middle" font-weight="normal" font-style="italic" >A</text>
<text x="310.8" y="102.4" font-size="14.5" text-anchor="middle" font-weight="normal" font-style="italic" >L</text>
<text x="310.8" y="125.6" font-size="14.5" text-anchor="middle" font-weight="normal" font-style="italic" >A</text>
<text x="310.8" y="149.2" font-size="14.5" text-anchor="middle" font-weight="normal" font-style="italic" >L</text>
<text x="310.8" y="172.2" font-size="14.5" text-anchor="middle" font-weight="normal" font-style="italic" >A</text>
<text x="310.8" y="196.2" font-size="14.5" text-anchor="middle" font-weight="normal" font-style="italic" >L</text>
<text x="310.8" y="218.9" font-size="14.5" text-anchor="middle" font-weight="normal" font-style="italic" >A</text>
<line x1="424.5" y1="376.4" x2="495" y2="376.4" stroke="#2b211b" stroke-width="1.1"/>
<path d="M446.0,374.4 C445.09999999999997,373.0 443.8,371.79999999999995 443.8,369.4 C443.8,367.09999999999997 445.4,365.9 447.7,365.9 C450.0,365.9 451.59999999999997,367.09999999999997 451.59999999999997,369.4 C451.59999999999997,371.79999999999995 450.3,373.0 449.4,374.4 Z" fill="#c9c9f7" stroke="#1e1e1e" stroke-width="0.9"/>
<path d="M446.0,378.4 C445.09999999999997,379.79999999999995 443.8,381.0 443.8,383.4 C443.8,385.7 445.4,386.9 447.7,386.9 C450.0,386.9 451.59999999999997,385.7 451.59999999999997,383.4 C451.59999999999997,381.0 450.3,379.79999999999995 449.4,378.4 Z" fill="#c9c9f7" stroke="#1e1e1e" stroke-width="0.9"/>
<rect x="441.3" y="374.4" width="12.8" height="4.0" rx="2.0" fill="#f28a8c" stroke="#1e1e1e" stroke-width="0.8"/>
<path d="M480.0,374.4 C479.09999999999997,373.0 477.8,371.79999999999995 477.8,369.4 C477.8,367.09999999999997 479.4,365.9 481.7,365.9 C484.0,365.9 485.59999999999997,367.09999999999997 485.59999999999997,369.4 C485.59999999999997,371.79999999999995 484.3,373.0 483.4,374.4 Z" fill="#c9c9f7" stroke="#1e1e1e" stroke-width="0.9"/>
<path d="M480.0,378.4 C479.09999999999997,379.79999999999995 477.8,381.0 477.8,383.4 C477.8,385.7 479.4,386.9 481.7,386.9 C484.0,386.9 485.59999999999997,385.7 485.59999999999997,383.4 C485.59999999999997,381.0 484.3,379.79999999999995 483.4,378.4 Z" fill="#c9c9f7" stroke="#1e1e1e" stroke-width="0.9"/>
<rect x="475.3" y="374.4" width="12.8" height="4.0" rx="2.0" fill="#f28a8c" stroke="#1e1e1e" stroke-width="0.8"/>
<rect x="424.5" y="399.9" width="70.5" height="23.400000000000034" fill="#fdc88f"/>
<line x1="424.5" y1="399.9" x2="495" y2="399.9" stroke="#2b211b" stroke-width="1.1"/>
<line x1="424.5" y1="423.3" x2="495" y2="423.3" stroke="#2b211b" stroke-width="1.1"/>
<path d="M431.2,397.9 C430.29999999999995,396.5 429.0,395.29999999999995 429.0,392.9 C429.0,390.59999999999997 430.59999999999997,389.4 432.9,389.4 C435.2,389.4 436.79999999999995,390.59999999999997 436.79999999999995,392.9 C436.79999999999995,395.29999999999995 435.5,396.5 434.59999999999997,397.9 Z" fill="#c9c9f7" stroke="#1e1e1e" stroke-width="0.9"/>
<path d="M431.2,401.9 C430.29999999999995,403.29999999999995 429.0,404.5 429.0,406.9 C429.0,409.2 430.59999999999997,410.4 432.9,410.4 C435.2,410.4 436.79999999999995,409.2 436.79999999999995,406.9 C436.79999999999995,404.5 435.5,403.29999999999995 434.59999999999997,401.9 Z" fill="#c9c9f7" stroke="#1e1e1e" stroke-width="0.9"/>
<rect x="426.5" y="397.9" width="12.8" height="4.0" rx="2.0" fill="#f28a8c" stroke="#1e1e1e" stroke-width="0.8"/>
<path d="M465.40000000000003,397.9 C464.5,396.5 463.20000000000005,395.29999999999995 463.20000000000005,392.9 C463.20000000000005,390.59999999999997 464.8,389.4 467.1,389.4 C469.40000000000003,389.4 471.0,390.59999999999997 471.0,392.9 C471.0,395.29999999999995 469.70000000000005,396.5 468.8,397.9 Z" fill="#c9c9f7" stroke="#1e1e1e" stroke-width="0.9"/>
<path d="M465.40000000000003,401.9 C464.5,403.29999999999995 463.20000000000005,404.5 463.20000000000005,406.9 C463.20000000000005,409.2 464.8,410.4 467.1,410.4 C469.40000000000003,410.4 471.0,409.2 471.0,406.9 C471.0,404.5 469.70000000000005,403.29999999999995 468.8,401.9 Z" fill="#c9c9f7" stroke="#1e1e1e" stroke-width="0.9"/>
<rect x="460.70000000000005" y="397.9" width="12.8" height="4.0" rx="2.0" fill="#f28a8c" stroke="#1e1e1e" stroke-width="0.8"/>
<path d="M431.2,421.3 C430.29999999999995,419.90000000000003 429.0,418.7 429.0,416.3 C429.0,414.0 430.59999999999997,412.8 432.9,412.8 C435.2,412.8 436.79999999999995,414.0 436.79999999999995,416.3 C436.79999999999995,418.7 435.5,419.90000000000003 434.59999999999997,421.3 Z" fill="#c9c9f7" stroke="#1e1e1e" stroke-width="0.9"/>
<path d="M431.2,425.3 C430.29999999999995,426.7 429.0,427.90000000000003 429.0,430.3 C429.0,432.6 430.59999999999997,433.8 432.9,433.8 C435.2,433.8 436.79999999999995,432.6 436.79999999999995,430.3 C436.79999999999995,427.90000000000003 435.5,426.7 434.59999999999997,425.3 Z" fill="#c9c9f7" stroke="#1e1e1e" stroke-width="0.9"/>
<rect x="426.5" y="421.3" width="12.8" height="4.0" rx="2.0" fill="#f28a8c" stroke="#1e1e1e" stroke-width="0.8"/>
<path d="M465.40000000000003,421.3 C464.5,419.90000000000003 463.20000000000005,418.7 463.20000000000005,416.3 C463.20000000000005,414.0 464.8,412.8 467.1,412.8 C469.40000000000003,412.8 471.0,414.0 471.0,416.3 C471.0,418.7 469.70000000000005,419.90000000000003 468.8,421.3 Z" fill="#c9c9f7" stroke="#1e1e1e" stroke-width="0.9"/>
<path d="M465.40000000000003,425.3 C464.5,426.7 463.20000000000005,427.90000000000003 463.20000000000005,430.3 C463.20000000000005,432.6 464.8,433.8 467.1,433.8 C469.40000000000003,433.8 471.0,432.6 471.0,430.3 C471.0,427.90000000000003 469.70000000000005,426.7 468.8,425.3 Z" fill="#c9c9f7" stroke="#1e1e1e" stroke-width="0.9"/>
<rect x="460.70000000000005" y="421.3" width="12.8" height="4.0" rx="2.0" fill="#f28a8c" stroke="#1e1e1e" stroke-width="0.8"/>
<rect x="424.5" y="447.1" width="70.5" height="23.299999999999955" fill="#fdc88f"/>
<line x1="424.5" y1="447.1" x2="495" y2="447.1" stroke="#2b211b" stroke-width="1.1"/>
<line x1="424.5" y1="470.4" x2="495" y2="470.4" stroke="#2b211b" stroke-width="1.1"/>
<path d="M450.90000000000003,445.1 C450.0,443.70000000000005 448.70000000000005,442.5 448.70000000000005,440.1 C448.70000000000005,437.8 450.3,436.6 452.6,436.6 C454.90000000000003,436.6 456.5,437.8 456.5,440.1 C456.5,442.5 455.20000000000005,443.70000000000005 454.3,445.1 Z" fill="#c9c9f7" stroke="#1e1e1e" stroke-width="0.9"/>
<path d="M450.90000000000003,449.1 C450.0,450.5 448.70000000000005,451.70000000000005 448.70000000000005,454.1 C448.70000000000005,456.40000000000003 450.3,457.6 452.6,457.6 C454.90000000000003,457.6 456.5,456.40000000000003 456.5,454.1 C456.5,451.70000000000005 455.20000000000005,450.5 454.3,449.1 Z" fill="#c9c9f7" stroke="#1e1e1e" stroke-width="0.9"/>
<rect x="446.20000000000005" y="445.1" width="12.8" height="4.0" rx="2.0" fill="#f28a8c" stroke="#1e1e1e" stroke-width="0.8"/>
<path d="M484.90000000000003,445.1 C484.0,443.70000000000005 482.70000000000005,442.5 482.70000000000005,440.1 C482.70000000000005,437.8 484.3,436.6 486.6,436.6 C488.90000000000003,436.6 490.5,437.8 490.5,440.1 C490.5,442.5 489.20000000000005,443.70000000000005 488.3,445.1 Z" fill="#c9c9f7" stroke="#1e1e1e" stroke-width="0.9"/>
<path d="M484.90000000000003,449.1 C484.0,450.5 482.70000000000005,451.70000000000005 482.70000000000005,454.1 C482.70000000000005,456.40000000000003 484.3,457.6 486.6,457.6 C488.90000000000003,457.6 490.5,456.40000000000003 490.5,454.1 C490.5,451.70000000000005 489.20000000000005,450.5 488.3,449.1 Z" fill="#c9c9f7" stroke="#1e1e1e" stroke-width="0.9"/>
<rect x="480.20000000000005" y="445.1" width="12.8" height="4.0" rx="2.0" fill="#f28a8c" stroke="#1e1e1e" stroke-width="0.8"/>
<path d="M450.90000000000003,468.4 C450.0,467.0 448.70000000000005,465.79999999999995 448.70000000000005,463.4 C448.70000000000005,461.09999999999997 450.3,459.9 452.6,459.9 C454.90000000000003,459.9 456.5,461.09999999999997 456.5,463.4 C456.5,465.79999999999995 455.20000000000005,467.0 454.3,468.4 Z" fill="#c9c9f7" stroke="#1e1e1e" stroke-width="0.9"/>
<path d="M450.90000000000003,472.4 C450.0,473.79999999999995 448.70000000000005,475.0 448.70000000000005,477.4 C448.70000000000005,479.7 450.3,480.9 452.6,480.9 C454.90000000000003,480.9 456.5,479.7 456.5,477.4 C456.5,475.0 455.20000000000005,473.79999999999995 454.3,472.4 Z" fill="#c9c9f7" stroke="#1e1e1e" stroke-width="0.9"/>
<rect x="446.20000000000005" y="468.4" width="12.8" height="4.0" rx="2.0" fill="#f28a8c" stroke="#1e1e1e" stroke-width="0.8"/>
<path d="M484.90000000000003,468.4 C484.0,467.0 482.70000000000005,465.79999999999995 482.70000000000005,463.4 C482.70000000000005,461.09999999999997 484.3,459.9 486.6,459.9 C488.90000000000003,459.9 490.5,461.09999999999997 490.5,463.4 C490.5,465.79999999999995 489.20000000000005,467.0 488.3,468.4 Z" fill="#c9c9f7" stroke="#1e1e1e" stroke-width="0.9"/>
<path d="M484.90000000000003,472.4 C484.0,473.79999999999995 482.70000000000005,475.0 482.70000000000005,477.4 C482.70000000000005,479.7 484.3,480.9 486.6,480.9 C488.90000000000003,480.9 490.5,479.7 490.5,477.4 C490.5,475.0 489.20000000000005,473.79999999999995 488.3,472.4 Z" fill="#c9c9f7" stroke="#1e1e1e" stroke-width="0.9"/>
<rect x="480.20000000000005" y="468.4" width="12.8" height="4.0" rx="2.0" fill="#f28a8c" stroke="#1e1e1e" stroke-width="0.8"/>
<rect x="424.5" y="493.9" width="70.5" height="23.300000000000068" fill="#fdc88f"/>
<line x1="424.5" y1="493.9" x2="495" y2="493.9" stroke="#2b211b" stroke-width="1.1"/>
<line x1="424.5" y1="517.2" x2="495" y2="517.2" stroke="#2b211b" stroke-width="1.1"/>
<path d="M436.1,491.9 C435.2,490.5 433.90000000000003,489.29999999999995 433.90000000000003,486.9 C433.90000000000003,484.59999999999997 435.5,483.4 437.8,483.4 C440.1,483.4 441.7,484.59999999999997 441.7,486.9 C441.7,489.29999999999995 440.40000000000003,490.5 439.5,491.9 Z" fill="#c9c9f7" stroke="#1e1e1e" stroke-width="0.9"/>
<path d="M436.1,495.9 C435.2,497.29999999999995 433.90000000000003,498.5 433.90000000000003,500.9 C433.90000000000003,503.2 435.5,504.4 437.8,504.4 C440.1,504.4 441.7,503.2 441.7,500.9 C441.7,498.5 440.40000000000003,497.29999999999995 439.5,495.9 Z" fill="#c9c9f7" stroke="#1e1e1e" stroke-width="0.9"/>
<rect x="431.40000000000003" y="491.9" width="12.8" height="4.0" rx="2.0" fill="#f28a8c" stroke="#1e1e1e" stroke-width="0.8"/>
<path d="M470.1,491.9 C469.2,490.5 467.90000000000003,489.29999999999995 467.90000000000003,486.9 C467.90000000000003,484.59999999999997 469.5,483.4 471.8,483.4 C474.1,483.4 475.7,484.59999999999997 475.7,486.9 C475.7,489.29999999999995 474.40000000000003,490.5 473.5,491.9 Z" fill="#c9c9f7" stroke="#1e1e1e" stroke-width="0.9"/>
<path d="M470.1,495.9 C469.2,497.29999999999995 467.90000000000003,498.5 467.90000000000003,500.9 C467.90000000000003,503.2 469.5,504.4 471.8,504.4 C474.1,504.4 475.7,503.2 475.7,500.9 C475.7,498.5 474.40000000000003,497.29999999999995 473.5,495.9 Z" fill="#c9c9f7" stroke="#1e1e1e" stroke-width="0.9"/>
<rect x="465.40000000000003" y="491.9" width="12.8" height="4.0" rx="2.0" fill="#f28a8c" stroke="#1e1e1e" stroke-width="0.8"/>
<path d="M436.1,515.2 C435.2,513.8000000000001 433.90000000000003,512.6 433.90000000000003,510.20000000000005 C433.90000000000003,507.90000000000003 435.5,506.70000000000005 437.8,506.70000000000005 C440.1,506.70000000000005 441.7,507.90000000000003 441.7,510.20000000000005 C441.7,512.6 440.40000000000003,513.8000000000001 439.5,515.2 Z" fill="#c9c9f7" stroke="#1e1e1e" stroke-width="0.9"/>
<path d="M436.1,519.2 C435.2,520.6 433.90000000000003,521.8000000000001 433.90000000000003,524.2 C433.90000000000003,526.5 435.5,527.7 437.8,527.7 C440.1,527.7 441.7,526.5 441.7,524.2 C441.7,521.8000000000001 440.40000000000003,520.6 439.5,519.2 Z" fill="#c9c9f7" stroke="#1e1e1e" stroke-width="0.9"/>
<rect x="431.40000000000003" y="515.2" width="12.8" height="4.0" rx="2.0" fill="#f28a8c" stroke="#1e1e1e" stroke-width="0.8"/>
<path d="M470.1,515.2 C469.2,513.8000000000001 467.90000000000003,512.6 467.90000000000003,510.20000000000005 C467.90000000000003,507.90000000000003 469.5,506.70000000000005 471.8,506.70000000000005 C474.1,506.70000000000005 475.7,507.90000000000003 475.7,510.20000000000005 C475.7,512.6 474.40000000000003,513.8000000000001 473.5,515.2 Z" fill="#c9c9f7" stroke="#1e1e1e" stroke-width="0.9"/>
<path d="M470.1,519.2 C469.2,520.6 467.90000000000003,521.8000000000001 467.90000000000003,524.2 C467.90000000000003,526.5 469.5,527.7 471.8,527.7 C474.1,527.7 475.7,526.5 475.7,524.2 C475.7,521.8000000000001 474.40000000000003,520.6 473.5,519.2 Z" fill="#c9c9f7" stroke="#1e1e1e" stroke-width="0.9"/>
<rect x="465.40000000000003" y="515.2" width="12.8" height="4.0" rx="2.0" fill="#f28a8c" stroke="#1e1e1e" stroke-width="0.8"/>
<text x="416.6" y="393.7" font-size="14.5" text-anchor="middle" font-weight="normal" font-style="italic" >L</text>
<text x="416.6" y="417.5" font-size="14.5" text-anchor="middle" font-weight="normal" font-style="italic" >A</text>
<text x="416.6" y="441.3" font-size="14.5" text-anchor="middle" font-weight="normal" font-style="italic" >L</text>
<text x="416.6" y="464.0" font-size="14.5" text-anchor="middle" font-weight="normal" font-style="italic" >A</text>
<text x="416.6" y="488.0" font-size="14.5" text-anchor="middle" font-weight="normal" font-style="italic" >L</text>
<text x="416.6" y="511.5" font-size="14.5" text-anchor="middle" font-weight="normal" font-style="italic" >A</text>
<line x1="438.5" y1="142.5" x2="551" y2="142.5" stroke="#a0a0a0" stroke-width="1.0" stroke-dasharray="2.9,2.05"/>
<line x1="567" y1="142.5" x2="679.5" y2="142.5" stroke="#a0a0a0" stroke-width="1.0" stroke-dasharray="2.9,2.05"/>
<path d="M442.3,28.5 C442.6,31.4 443.5,40.2 443.9,45.7 C444.3,51.2 445.1,55.0 444.9,61.5 C444.7,68.0 443.7,78.4 442.9,85.0 C442.1,91.6 438.8,97.3 440.3,100.9 C441.8,104.5 442.7,104.2 451.8,106.8 C460.9,109.4 483.1,113.5 495.1,116.6 C507.1,119.7 523.7,123.2 523.7,125.5 C523.7,127.8 507.1,128.8 495.1,130.4 C483.1,132.1 461.2,133.8 451.8,135.4 C442.4,137.1 441.2,139.2 439.0,140.3 C436.8,141.4 438.4,140.4 438.6,142.0 C438.8,143.6 438.4,147.3 440.0,150.0 C441.6,152.7 444.3,155.8 448.0,158.0 C451.7,160.2 457.0,161.3 462.0,163.0 C467.0,164.7 474.7,166.5 478.0,168.0 C481.3,169.5 481.5,170.3 482.0,172.0 C482.5,173.7 479.8,176.0 481.0,178.0 C482.2,180.0 487.5,182.5 489.0,184.0 C490.5,185.5 492.2,186.0 490.0,187.0 C487.8,188.0 482.0,188.8 476.0,190.0 C470.0,191.2 459.0,192.7 454.0,194.0 C449.0,195.3 447.5,196.3 446.0,198.0 C444.5,199.7 445.5,202.0 445.0,204.0 C444.5,206.0 443.3,206.3 443.0,210.0 C442.7,213.7 442.8,218.4 443.0,226.0 C443.2,233.6 443.8,250.6 444.0,255.5" fill="none" stroke="#ff5a1f" stroke-width="1.5" stroke-linejoin="round"/>
<path d="M441.5,28.5 C441.7,30.7 442.0,36.6 442.9,41.8 C443.8,47.0 445.2,55.2 446.8,59.5 C448.4,63.8 451.7,64.8 452.2,67.4 C452.7,70.0 451.2,71.7 449.8,75.3 C448.4,78.9 445.3,85.4 443.9,89.0 C442.5,92.6 441.5,94.8 441.5,97.0 C441.5,99.2 441.5,100.3 443.9,101.9 C446.3,103.5 448.8,105.2 455.7,106.8 C462.6,108.4 477.8,110.2 485.3,111.7 C492.9,113.2 501.0,114.4 501.0,115.7 C501.0,117.0 492.2,118.0 485.3,119.6 C478.4,121.2 466.5,123.4 459.6,125.5 C452.7,127.6 447.3,129.9 443.9,132.4 C440.5,134.9 439.8,138.7 439.0,140.3 C438.2,141.9 438.8,139.1 439.0,142.0 C439.2,144.9 438.5,154.0 440.0,158.0 C441.5,162.0 444.3,163.7 448.0,166.0 C451.7,168.3 458.7,170.0 462.0,172.0 C465.3,174.0 465.3,176.2 468.0,178.0 C470.7,179.8 474.3,181.5 478.0,182.5 C481.7,183.5 483.7,183.2 490.0,184.0 C496.3,184.8 507.1,186.0 516.0,187.0 C524.9,188.0 543.2,189.0 543.2,190.0 C543.2,191.0 527.2,192.0 516.0,193.0 C504.8,194.0 485.7,194.8 476.0,196.0 C466.3,197.2 461.8,198.5 458.0,200.0 C454.2,201.5 455.2,203.0 453.0,205.0 C450.8,207.0 446.7,209.5 445.0,212.0 C443.3,214.5 443.0,216.0 443.0,220.0 C443.0,224.0 444.2,230.1 445.0,236.0 C445.8,241.9 447.5,252.2 448.0,255.5" fill="none" stroke="#1a1aff" stroke-width="1.5" stroke-linejoin="round"/>
<path d="M572.9,28.5 C572.7,31.4 571.6,39.6 571.9,45.7 C572.2,51.9 571.8,59.5 574.8,65.4 C577.8,71.3 585.8,76.6 589.6,81.2 C593.4,85.8 595.2,89.9 597.5,93.0 C599.8,96.1 599.8,97.9 603.4,99.9 C607.0,101.9 613.1,102.5 619.2,104.8 C625.3,107.1 638.3,111.2 639.9,113.7 C641.5,116.2 637.7,118.0 629.0,119.6 C620.3,121.2 597.5,122.3 587.6,123.5 C577.8,124.7 573.3,125.5 569.9,126.5 C566.5,127.5 567.7,126.8 567.3,129.4 C566.9,132.0 567.2,139.6 567.3,142.0 C567.3,144.4 567.3,142.0 567.6,144.0 C567.9,146.0 566.9,150.7 569.0,154.0 C571.1,157.3 576.3,160.7 580.0,164.0 C583.7,167.3 589.0,171.0 591.0,174.0 C593.0,177.0 592.5,178.3 592.0,182.0 C591.5,185.7 587.7,192.3 588.0,196.0 C588.3,199.7 591.0,201.2 594.0,204.0 C597.0,206.8 604.3,210.7 606.0,213.0 C607.7,215.3 606.3,216.2 604.0,218.0 C601.7,219.8 595.7,222.0 592.0,224.0 C588.3,226.0 584.5,227.0 582.0,230.0 C579.5,233.0 578.0,237.8 577.0,242.0 C576.0,246.2 576.2,253.2 576.0,255.5" fill="none" stroke="#ff5a1f" stroke-width="1.5" stroke-linejoin="round"/>
<path d="M591.6,28.5 C592.1,29.6 594.5,32.7 594.5,34.9 C594.5,37.1 593.6,39.3 591.6,41.8 C589.6,44.2 584.4,47.3 582.7,49.6 C581.1,51.9 580.6,53.3 581.7,55.6 C582.9,57.9 585.3,60.6 589.6,63.4 C593.9,66.2 601.9,69.0 607.3,72.3 C612.7,75.6 620.8,80.5 622.1,83.1 C623.4,85.7 621.9,86.5 615.2,88.0 C608.5,89.5 589.2,90.8 581.7,92.0 C574.2,93.2 572.3,93.5 569.9,95.0 C567.5,96.5 567.7,93.2 567.3,101.0 C566.9,108.8 567.2,134.8 567.3,142.0 C567.3,149.2 567.1,141.7 567.6,144.0 C568.1,146.3 567.9,152.0 570.0,156.0 C572.1,160.0 576.3,164.5 580.0,168.0 C583.7,171.5 586.3,174.3 592.0,177.0 C597.7,179.7 605.3,181.9 614.0,184.0 C622.7,186.1 635.0,187.8 644.0,189.7 C653.0,191.5 668.2,193.0 668.2,195.1 C668.2,197.2 654.4,199.3 644.0,202.0 C633.6,204.7 615.0,208.3 606.0,211.0 C597.0,213.7 593.5,215.8 590.0,218.0 C586.5,220.2 585.7,221.3 585.0,224.0 C584.3,226.7 585.5,230.7 586.0,234.0 C586.5,237.3 588.0,240.4 588.0,244.0 C588.0,247.6 586.3,253.6 586.0,255.5" fill="none" stroke="#1a1aff" stroke-width="1.5" stroke-linejoin="round"/>
<text x="526.5" y="47.8" font-size="13" text-anchor="end" font-weight="normal"  >bilayer</text>
<text x="526.5" y="63.0" font-size="13" text-anchor="end" font-weight="normal"  >single layer</text>
<line x1="529.5" y1="44.5" x2="546.5" y2="44.5" stroke="#1a1aff" stroke-width="1.5"/>
<line x1="529.5" y1="58.9" x2="546.5" y2="58.9" stroke="#ff5a1f" stroke-width="1.5"/>
<text x="655" y="47.8" font-size="13" text-anchor="end" font-weight="normal"  >large gap</text>
<text x="655" y="63.0" font-size="13" text-anchor="end" font-weight="normal"  >small gap</text>
<line x1="658" y1="44.5" x2="675" y2="44.5" stroke="#1a1aff" stroke-width="1.5"/>
<line x1="658" y1="58.9" x2="675" y2="58.9" stroke="#ff5a1f" stroke-width="1.5"/>
<line x1="438.5" y1="85.25" x2="443.5" y2="85.25" stroke="#333" stroke-width="1"/>
<line x1="546" y1="85.25" x2="551" y2="85.25" stroke="#333" stroke-width="1"/>
<line x1="438.5" y1="142.0" x2="443.5" y2="142.0" stroke="#333" stroke-width="1"/>
<line x1="546" y1="142.0" x2="551" y2="142.0" stroke="#333" stroke-width="1"/>
<line x1="438.5" y1="198.75" x2="443.5" y2="198.75" stroke="#333" stroke-width="1"/>
<line x1="546" y1="198.75" x2="551" y2="198.75" stroke="#333" stroke-width="1"/>
<line x1="494.75" y1="28.5" x2="494.75" y2="33.5" stroke="#333" stroke-width="1"/>
<line x1="494.75" y1="250.5" x2="494.75" y2="255.5" stroke="#333" stroke-width="1"/>
<rect x="438.5" y="28.5" width="112.5" height="227.0" fill="none" stroke="#222" stroke-width="1.3"/>
<line x1="567" y1="85.25" x2="572" y2="85.25" stroke="#333" stroke-width="1"/>
<line x1="674.5" y1="85.25" x2="679.5" y2="85.25" stroke="#333" stroke-width="1"/>
<line x1="567" y1="142.0" x2="572" y2="142.0" stroke="#333" stroke-width="1"/>
<line x1="674.5" y1="142.0" x2="679.5" y2="142.0" stroke="#333" stroke-width="1"/>
<line x1="567" y1="198.75" x2="572" y2="198.75" stroke="#333" stroke-width="1"/>
<line x1="674.5" y1="198.75" x2="679.5" y2="198.75" stroke="#333" stroke-width="1"/>
<line x1="623.25" y1="28.5" x2="623.25" y2="33.5" stroke="#333" stroke-width="1"/>
<line x1="623.25" y1="250.5" x2="623.25" y2="255.5" stroke="#333" stroke-width="1"/>
<rect x="567" y="28.5" width="112.5" height="227.0" fill="none" stroke="#222" stroke-width="1.3"/>
<line x1="510.5" y1="376.5" x2="645" y2="376.5" stroke="#a8a8a8" stroke-width="1.0" stroke-dasharray="2.9,4.4"/>
<line x1="510.5" y1="376.2" x2="515.5" y2="376.2" stroke="#222" stroke-width="1"/>
<line x1="640" y1="376.2" x2="645" y2="376.2" stroke="#222" stroke-width="1"/>
<line x1="510.5" y1="400.1" x2="645" y2="400.1" stroke="#a8a8a8" stroke-width="1.0" stroke-dasharray="2.9,4.4"/>
<line x1="510.5" y1="399.8" x2="515.5" y2="399.8" stroke="#222" stroke-width="1"/>
<line x1="640" y1="399.8" x2="645" y2="399.8" stroke="#222" stroke-width="1"/>
<line x1="510.5" y1="423.7" x2="645" y2="423.7" stroke="#a8a8a8" stroke-width="1.0" stroke-dasharray="2.9,4.4"/>
<line x1="510.5" y1="423.4" x2="515.5" y2="423.4" stroke="#222" stroke-width="1"/>
<line x1="640" y1="423.4" x2="645" y2="423.4" stroke="#222" stroke-width="1"/>
<line x1="510.5" y1="447.3" x2="645" y2="447.3" stroke="#a8a8a8" stroke-width="1.0" stroke-dasharray="2.9,4.4"/>
<line x1="510.5" y1="447.0" x2="515.5" y2="447.0" stroke="#222" stroke-width="1"/>
<line x1="640" y1="447.0" x2="645" y2="447.0" stroke="#222" stroke-width="1"/>
<line x1="510.5" y1="470.90000000000003" x2="645" y2="470.90000000000003" stroke="#a8a8a8" stroke-width="1.0" stroke-dasharray="2.9,4.4"/>
<line x1="510.5" y1="470.6" x2="515.5" y2="470.6" stroke="#222" stroke-width="1"/>
<line x1="640" y1="470.6" x2="645" y2="470.6" stroke="#222" stroke-width="1"/>
<line x1="510.5" y1="494.5" x2="645" y2="494.5" stroke="#a8a8a8" stroke-width="1.0" stroke-dasharray="2.9,4.4"/>
<line x1="510.5" y1="494.2" x2="515.5" y2="494.2" stroke="#222" stroke-width="1"/>
<line x1="640" y1="494.2" x2="645" y2="494.2" stroke="#222" stroke-width="1"/>
<line x1="510.5" y1="518.0999999999999" x2="645" y2="518.0999999999999" stroke="#a8a8a8" stroke-width="1.0" stroke-dasharray="2.9,4.4"/>
<line x1="510.5" y1="517.8" x2="515.5" y2="517.8" stroke="#222" stroke-width="1"/>
<line x1="640" y1="517.8" x2="645" y2="517.8" stroke="#222" stroke-width="1"/>
<line x1="563.33" y1="333.5" x2="563.33" y2="338.5" stroke="#222" stroke-width="1"/>
<line x1="563.33" y1="555.5" x2="563.33" y2="560.5" stroke="#222" stroke-width="1"/>
<line x1="604.16" y1="333.5" x2="604.16" y2="338.5" stroke="#222" stroke-width="1"/>
<line x1="604.16" y1="555.5" x2="604.16" y2="560.5" stroke="#222" stroke-width="1"/>
<path d="M522.6,333.5 L522.6,359.4 L523.2,360.4 L528.3,363.5 L542.2,366.2 L528.3,367.2 L522.6,368.2 L515.0,369.2 L522.6,370.0 L552.9,371.0 L573.3,372.3 L582.5,373.3 L575.4,374.3 L597.8,375.6 L632.6,376.4 L597.8,377.2 L582.5,378.4 L582.5,379.9 L552.9,381.9 L522.6,382.9 L518.1,383.5 L522.6,384.3 L536.5,385.4 L545.7,386.0 L532.4,387.4 L522.6,390.7 L525.3,394.2 L522.8,396.0 L530.8,399.9 L522.8,403.0 L524.3,405.4 L522.6,411.5 L524.7,418.7 L522.8,421.0 L529.4,423.8 L523.2,430.0 L522.6,440.0 L523.5,452.0 L522.6,460.0 L522.6,560.5 L522.6,333.5 Z" fill="#7b5cc4" stroke="none"/>
<path d="M522.6,333.5 L522.6,359.4 L523.2,360.4 L528.3,363.5 L542.2,366.2 L528.3,367.2 L522.6,368.2 L515.0,369.2 L522.6,370.0 L552.9,371.0 L573.3,372.3 L582.5,373.3 L575.4,374.3 L597.8,375.6 L632.6,376.4 L597.8,377.2 L582.5,378.4 L582.5,379.9 L552.9,381.9 L522.6,382.9 L518.1,383.5 L522.6,384.3 L536.5,385.4 L545.7,386.0 L532.4,387.4 L522.6,390.7 L525.3,394.2 L522.8,396.0 L530.8,399.9 L522.8,403.0 L524.3,405.4 L522.6,411.5 L524.7,418.7 L522.8,421.0 L529.4,423.8 L523.2,430.0 L522.6,440.0 L523.5,452.0 L522.6,460.0 L522.6,560.5" fill="none" stroke="#8a3d8e" stroke-width="1.2" stroke-linejoin="round"/>
<rect x="510.5" y="333.5" width="134.5" height="227.0" fill="none" stroke="#111" stroke-width="1.3"/>
</svg></body></html>
